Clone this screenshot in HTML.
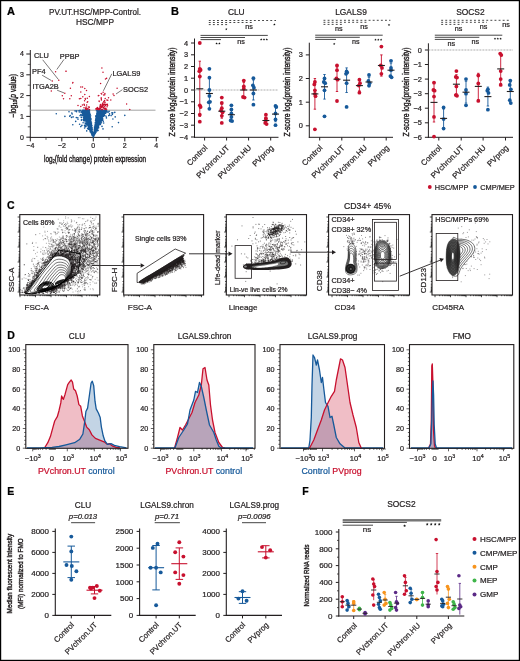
<!DOCTYPE html>
<html><head><meta charset="utf-8"><style>
html,body{margin:0;padding:0;background:#fff;}
.fig{position:relative;width:520px;height:661px;overflow:hidden;background:#fff;}
.fig svg{position:absolute;left:0;top:0;will-change:transform;}
.fig text{font-family:"Liberation Sans",sans-serif;}
</style></head><body>
<div class="fig"><svg width="520" height="661" viewBox="0 0 520 661" font-family="Liberation Sans, sans-serif">
<rect x="0" y="0" width="520" height="661" fill="#fff"/>
<text x="7" y="15" font-size="11" text-anchor="start" fill="#000" font-weight="bold" stroke="#000" stroke-width="0.22">A</text>
<text x="95" y="15.2" font-size="8.3" text-anchor="middle" fill="#231f20" textLength="92" lengthAdjust="spacingAndGlyphs" stroke="#231f20" stroke-width="0.22">PV.UT.HSC/MPP-Control.</text>
<text x="95" y="25" font-size="8.3" text-anchor="middle" fill="#231f20" textLength="38" lengthAdjust="spacingAndGlyphs" stroke="#231f20" stroke-width="0.22">HSC/MPP</text>
<line x1="30.3" y1="50" x2="30.3" y2="137.9" stroke="#231f20" stroke-width="1"/>
<line x1="29.8" y1="137.4" x2="158.5" y2="137.4" stroke="#231f20" stroke-width="1"/>
<line x1="26.3" y1="137.2" x2="30.3" y2="137.2" stroke="#231f20" stroke-width="1"/>
<text x="24" y="139.6" font-size="7" text-anchor="end" fill="#231f20" stroke="#231f20" stroke-width="0.22">0</text>
<line x1="26.3" y1="116.4" x2="30.3" y2="116.4" stroke="#231f20" stroke-width="1"/>
<text x="24" y="118.8" font-size="7" text-anchor="end" fill="#231f20" stroke="#231f20" stroke-width="0.22">1</text>
<line x1="26.3" y1="95.6" x2="30.3" y2="95.6" stroke="#231f20" stroke-width="1"/>
<text x="24" y="98" font-size="7" text-anchor="end" fill="#231f20" stroke="#231f20" stroke-width="0.22">2</text>
<line x1="26.3" y1="74.8" x2="30.3" y2="74.8" stroke="#231f20" stroke-width="1"/>
<text x="24" y="77.2" font-size="7" text-anchor="end" fill="#231f20" stroke="#231f20" stroke-width="0.22">3</text>
<line x1="26.3" y1="54" x2="30.3" y2="54" stroke="#231f20" stroke-width="1"/>
<text x="24" y="56.4" font-size="7" text-anchor="end" fill="#231f20" stroke="#231f20" stroke-width="0.22">4</text>
<line x1="27.8" y1="126.8" x2="30.3" y2="126.8" stroke="#231f20" stroke-width="0.7"/>
<line x1="27.8" y1="106" x2="30.3" y2="106" stroke="#231f20" stroke-width="0.7"/>
<line x1="27.8" y1="85.2" x2="30.3" y2="85.2" stroke="#231f20" stroke-width="0.7"/>
<line x1="27.8" y1="64.4" x2="30.3" y2="64.4" stroke="#231f20" stroke-width="0.7"/>
<line x1="30.3" y1="137.4" x2="30.3" y2="141.4" stroke="#231f20" stroke-width="1"/>
<text x="30.3" y="148" font-size="7" text-anchor="middle" fill="#231f20" stroke="#231f20" stroke-width="0.22">−4</text>
<line x1="61.8" y1="137.4" x2="61.8" y2="141.4" stroke="#231f20" stroke-width="1"/>
<text x="61.8" y="148" font-size="7" text-anchor="middle" fill="#231f20" stroke="#231f20" stroke-width="0.22">−2</text>
<line x1="93.3" y1="137.4" x2="93.3" y2="141.4" stroke="#231f20" stroke-width="1"/>
<text x="93.3" y="148" font-size="7" text-anchor="middle" fill="#231f20" stroke="#231f20" stroke-width="0.22">0</text>
<line x1="124.8" y1="137.4" x2="124.8" y2="141.4" stroke="#231f20" stroke-width="1"/>
<text x="124.8" y="148" font-size="7" text-anchor="middle" fill="#231f20" stroke="#231f20" stroke-width="0.22">2</text>
<line x1="156.3" y1="137.4" x2="156.3" y2="141.4" stroke="#231f20" stroke-width="1"/>
<text x="156.3" y="148" font-size="7" text-anchor="middle" fill="#231f20" stroke="#231f20" stroke-width="0.22">4</text>
<line x1="46" y1="137.4" x2="46" y2="139.9" stroke="#231f20" stroke-width="0.7"/>
<line x1="77.5" y1="137.4" x2="77.5" y2="139.9" stroke="#231f20" stroke-width="0.7"/>
<line x1="109" y1="137.4" x2="109" y2="139.9" stroke="#231f20" stroke-width="0.7"/>
<line x1="140.6" y1="137.4" x2="140.6" y2="139.9" stroke="#231f20" stroke-width="0.7"/>
<line x1="30.3" y1="110.2" x2="155.5" y2="110.2" stroke="#8a8a8a" stroke-width="0.8"/>
<text x="44" y="161.6" font-size="8.4" fill="#231f20" stroke-width="0.4" textLength="102" lengthAdjust="spacingAndGlyphs" stroke="#231f20">log<tspan font-size="5.5" dy="1.5">2</tspan><tspan dy="-1.5">(fold change) protein expression</tspan></text>
<text transform="translate(15.6 117.5) rotate(-90)" font-size="8.4" fill="#231f20" stroke-width="0.4" textLength="43.5" lengthAdjust="spacingAndGlyphs" stroke="#231f20">−log<tspan font-size="5.5" dy="1.5">10</tspan><tspan dy="-1.5">(</tspan><tspan font-style="italic">p</tspan> value)</text>
<path d="M86.7 119.4h0M88.4 116.0h0M89.6 125.8h0M99.0 120.3h0M107.9 112.2h0M100.7 112.2h0M90.9 130.9h0M96.5 128.2h0M94.4 133.8h0M96.5 122.0h0M94.0 134.9h0M100.1 121.6h0M98.3 117.2h0M96.6 126.1h0M97.9 116.6h0M99.0 118.5h0M93.9 135.2h0M99.5 119.2h0M90.7 126.7h0M89.7 122.6h0M90.6 126.0h0M99.7 116.3h0M97.8 122.0h0M97.3 129.8h0M89.2 119.5h0M101.1 114.5h0M96.1 125.4h0M95.6 127.8h0M87.9 123.3h0M101.5 111.4h0M84.6 110.6h0M89.4 116.7h0M108.4 112.0h0M105.7 113.2h0M96.4 123.5h0M94.3 132.1h0M88.7 117.1h0M98.7 119.2h0M90.5 123.9h0M90.4 127.7h0M90.0 122.8h0M103.3 121.3h0M90.5 126.4h0M96.1 125.8h0M101.2 121.6h0M85.8 112.9h0M88.1 118.6h0M90.2 126.0h0M89.6 126.2h0M89.4 121.6h0M90.7 128.3h0M91.2 128.4h0M96.5 120.2h0M94.6 132.3h0M88.5 120.9h0M87.4 123.9h0M86.9 116.0h0M87.7 115.2h0M87.2 116.3h0M86.3 116.4h0M91.3 123.6h0M88.2 116.8h0M95.2 124.5h0M96.4 118.9h0M90.5 124.9h0M89.1 121.9h0M92.2 133.4h0M90.4 127.2h0M82.4 110.7h0M96.4 127.5h0M99.9 116.3h0M98.4 117.2h0M104.0 115.6h0M99.9 121.1h0M88.8 118.4h0M94.3 133.1h0M94.8 132.9h0M96.6 128.5h0M91.4 130.0h0M95.4 131.8h0M94.6 130.7h0M88.5 119.3h0M96.5 128.8h0M87.0 111.1h0M99.4 116.5h0M98.3 119.6h0M98.9 116.0h0M91.6 126.6h0M86.7 111.6h0M86.2 113.3h0M86.8 115.6h0M99.0 121.0h0M84.4 113.2h0M98.9 115.2h0M98.7 117.0h0M105.1 111.8h0M86.1 117.6h0M89.5 123.8h0M98.1 119.3h0M96.7 128.5h0M96.6 128.7h0M87.3 115.6h0M100.7 114.4h0M100.9 110.7h0M86.5 113.0h0M102.0 119.6h0M92.3 132.2h0M99.1 120.8h0M87.9 111.5h0M88.0 114.3h0M87.3 120.9h0M90.3 121.6h0M91.3 127.9h0M94.9 129.1h0M94.3 132.8h0M101.1 112.2h0M101.2 117.4h0M94.9 130.3h0M87.9 122.6h0M92.6 133.9h0M98.1 128.1h0M87.9 115.5h0M98.2 117.2h0M88.4 121.0h0M96.5 126.3h0M87.9 117.2h0M88.8 111.0h0M87.9 122.1h0M94.8 133.0h0M94.2 133.5h0M92.4 132.5h0M101.2 110.9h0M100.1 119.6h0M89.3 113.3h0M91.7 129.4h0M90.3 126.7h0M97.9 116.3h0M99.6 112.2h0M96.7 124.5h0M91.9 133.2h0M84.8 112.8h0M89.1 125.8h0M101.3 115.3h0M91.6 129.8h0M90.4 116.2h0M100.6 113.2h0M86.4 115.6h0M89.1 124.0h0M88.4 115.6h0M90.0 130.4h0M95.3 125.2h0M88.1 122.5h0M85.0 112.5h0M96.0 129.9h0M103.7 112.5h0M100.7 114.1h0M101.5 110.7h0M89.9 123.8h0M90.2 128.3h0M90.2 127.2h0M84.9 113.5h0M88.0 110.8h0M89.5 116.2h0M88.7 121.0h0M97.0 125.9h0M97.5 113.4h0M98.4 112.6h0M92.0 132.1h0M90.5 128.0h0M86.0 113.4h0M102.3 113.1h0M90.1 125.2h0M89.8 126.1h0M87.2 122.2h0M97.8 119.6h0M90.5 132.0h0M99.3 113.3h0M88.2 119.8h0M89.7 114.6h0M90.7 127.5h0M87.0 110.8h0M98.4 115.1h0M97.2 124.4h0M98.6 111.1h0M99.6 116.1h0M97.0 113.3h0M92.5 134.1h0M91.8 133.6h0M99.7 115.2h0M97.2 125.4h0M97.0 120.2h0M94.7 129.8h0M82.1 110.6h0M99.6 120.5h0M101.9 113.5h0M92.1 132.8h0M86.9 121.0h0M94.3 133.3h0M84.8 112.4h0M98.5 121.8h0M94.2 133.1h0M95.2 132.7h0M88.2 119.7h0M94.9 132.8h0M94.8 128.9h0M96.3 122.1h0M89.2 120.6h0M99.3 118.7h0M85.7 117.8h0M97.5 123.6h0M98.5 117.9h0M95.8 129.8h0M96.2 126.2h0M86.5 114.1h0M95.6 129.9h0M91.1 127.7h0M96.5 127.2h0M96.3 121.0h0M93.3 137.0h0M92.5 134.9h0M89.6 121.5h0M90.8 129.6h0M87.1 116.6h0M87.2 114.2h0M85.2 118.8h0M86.5 116.2h0M90.0 123.2h0M94.1 134.1h0M97.7 122.0h0M90.8 123.7h0M85.9 118.4h0M95.1 130.6h0M91.7 127.6h0M88.4 113.8h0M97.8 126.5h0M89.0 122.7h0M106.9 111.4h0M90.2 126.2h0M95.5 130.2h0M103.8 116.1h0M102.8 119.0h0M97.4 118.0h0M92.2 134.3h0M90.3 122.5h0M93.4 136.6h0M95.0 127.1h0M86.3 116.0h0M94.1 133.4h0M95.9 125.7h0M80.1 110.4h0M83.7 110.7h0M97.6 121.0h0M89.7 115.4h0M99.3 117.6h0M91.0 121.4h0M98.5 112.9h0M90.6 129.3h0M101.7 113.5h0M92.4 134.3h0M84.6 112.7h0M87.2 116.6h0M96.7 121.8h0M99.1 116.7h0M100.6 121.5h0M99.6 114.5h0M95.1 131.3h0M98.8 120.4h0M97.9 112.6h0M98.6 111.5h0M95.0 127.8h0M90.1 126.9h0M99.6 112.0h0M95.8 124.3h0M94.0 133.6h0M85.9 115.8h0M88.1 122.6h0M86.4 115.4h0M97.8 121.1h0M98.7 120.5h0M89.2 122.5h0M89.8 125.8h0M87.1 112.1h0M89.1 116.8h0M98.4 114.3h0M85.8 112.2h0M98.0 126.9h0M87.8 111.7h0M88.4 112.8h0M99.1 120.4h0M87.0 119.0h0M92.0 131.3h0M88.1 114.8h0M91.5 129.3h0M98.6 119.8h0M97.6 130.8h0M94.3 132.9h0M87.5 118.1h0M89.4 120.8h0M87.4 116.7h0M100.4 114.3h0M85.3 110.5h0M92.3 132.4h0M89.3 117.6h0M86.6 118.8h0M99.3 117.2h0M98.4 119.6h0M99.1 119.2h0M87.9 112.7h0M87.2 121.7h0M89.5 119.7h0M89.1 116.3h0M92.3 132.2h0M89.3 122.2h0M90.1 131.7h0M91.4 130.4h0M93.2 136.8h0M89.4 128.1h0M95.6 127.9h0M90.2 120.2h0M89.2 119.0h0M99.0 113.6h0M96.0 120.9h0M87.1 112.2h0M97.2 123.1h0M82.5 115.2h0M87.2 119.3h0M87.9 117.8h0M90.8 126.4h0M87.7 111.4h0M89.7 114.7h0M95.1 130.2h0M95.7 119.7h0M86.4 110.2h0M91.9 133.9h0M96.1 125.5h0M100.0 115.3h0M92.7 134.4h0M96.7 115.2h0M88.0 118.9h0M98.7 115.5h0M98.8 119.4h0M86.1 111.3h0M97.4 124.3h0M97.6 118.9h0M94.4 133.8h0M86.8 119.3h0M96.7 122.5h0M99.8 110.5h0M83.8 111.2h0M91.2 130.4h0M94.0 134.3h0M92.2 131.0h0M95.4 128.7h0M84.3 115.6h0M89.1 119.5h0M97.8 119.7h0M96.6 121.4h0M93.1 136.4h0M89.5 123.2h0M101.2 110.2h0M98.5 113.7h0M96.9 118.9h0M89.0 128.5h0M86.1 111.7h0M96.4 122.4h0M98.3 117.9h0M90.5 128.3h0M88.7 124.8h0M97.1 124.4h0M89.8 123.1h0M93.9 135.3h0M89.7 117.0h0M91.7 129.4h0M85.9 118.2h0M98.9 117.9h0M87.7 116.2h0M95.9 125.8h0M95.5 125.8h0M86.8 115.0h0M89.5 123.3h0M90.0 130.0h0M88.0 112.0h0M92.9 135.9h0M87.2 112.3h0M95.7 125.8h0M86.9 123.4h0M82.5 110.6h0M89.0 122.1h0M97.2 115.8h0M97.6 122.7h0M85.3 111.8h0M88.4 115.7h0M96.0 121.0h0M95.5 132.4h0M95.7 123.9h0M87.2 120.8h0M90.8 126.0h0M97.5 119.8h0M90.0 128.1h0M90.1 120.7h0M97.5 119.9h0M87.8 116.7h0M101.7 115.2h0M101.2 115.5h0M97.5 122.4h0M90.4 121.6h0M102.8 112.6h0M90.1 123.9h0M86.9 115.3h0M97.5 110.3h0M99.9 111.6h0M87.7 119.4h0M96.2 125.4h0M87.0 117.8h0M101.5 116.5h0M85.8 119.9h0M96.2 124.5h0M90.6 121.6h0M92.7 132.5h0M96.1 125.8h0M92.1 130.2h0M87.0 116.8h0M89.5 110.9h0M90.5 129.8h0M93.9 135.0h0M89.6 115.3h0M97.1 124.1h0M87.9 120.4h0M94.5 133.4h0M91.1 129.1h0M100.1 116.2h0M87.3 118.2h0M99.2 113.0h0M86.0 110.9h0M90.9 124.0h0M86.8 117.8h0M96.1 121.8h0M89.0 120.4h0M96.0 123.2h0M83.9 110.6h0M87.8 117.8h0M91.9 130.3h0M99.4 116.2h0M99.9 110.8h0M85.2 112.2h0M98.2 119.2h0M93.7 135.8h0M99.1 114.0h0M97.5 111.5h0M100.0 115.4h0M88.3 122.2h0M96.1 123.4h0M86.5 115.2h0M95.4 131.5h0M101.3 114.4h0M99.8 120.6h0M91.8 133.0h0M87.7 113.6h0M100.5 123.2h0M91.7 131.6h0M91.5 129.3h0M103.5 112.9h0M91.5 129.3h0M85.2 114.4h0M98.4 114.0h0M91.4 132.3h0M99.4 122.1h0M87.8 114.3h0M87.9 120.8h0M84.9 112.8h0M97.0 123.5h0M87.0 117.7h0M95.8 128.0h0M87.8 113.2h0M98.3 113.3h0M98.8 119.0h0M97.3 124.9h0M88.7 124.3h0M87.2 118.4h0M91.1 130.8h0M89.0 120.3h0M87.9 125.7h0M90.5 124.5h0M97.6 125.0h0M99.7 113.4h0M95.4 129.2h0M88.2 127.3h0M95.8 129.6h0M93.0 135.8h0M98.0 122.3h0M87.3 113.2h0M80.9 112.0h0M97.0 120.9h0M89.0 122.4h0M87.3 112.7h0M97.5 119.9h0M87.0 119.4h0M85.3 117.2h0M95.2 132.6h0M99.9 113.3h0M94.7 131.6h0M87.5 119.8h0M86.8 111.6h0M101.3 119.4h0M90.9 124.4h0M86.2 115.6h0M88.3 112.1h0M89.2 117.9h0M93.9 133.6h0M88.5 112.5h0M92.8 135.6h0M98.0 116.6h0M88.1 112.1h0M94.8 129.8h0M97.0 119.9h0M88.1 116.0h0M90.4 129.2h0M96.2 127.1h0M92.2 133.1h0M91.3 129.7h0M91.2 131.1h0M95.7 125.8h0M100.1 115.1h0M97.5 116.3h0M88.7 114.8h0M100.1 117.0h0M86.8 114.2h0M95.2 130.1h0M89.5 119.3h0M92.7 135.4h0M84.6 120.7h0M101.2 113.2h0M98.6 121.2h0M90.2 125.7h0M89.0 126.3h0M96.8 123.1h0M76.5 111.8h0M85.3 110.6h0M99.6 115.1h0M82.5 110.4h0M88.7 114.8h0M90.7 126.0h0M96.7 122.1h0M87.6 115.6h0M83.3 115.9h0M88.9 116.6h0M83.8 120.8h0M95.9 130.3h0M105.1 110.9h0M96.1 127.8h0M98.1 110.6h0M92.0 130.8h0M82.2 110.5h0M89.8 123.6h0M86.0 113.8h0M93.0 136.3h0M86.6 121.9h0M89.0 127.0h0M86.7 116.2h0M99.3 116.9h0M87.3 121.5h0M88.9 116.0h0M99.5 110.6h0M94.3 132.1h0M89.3 119.1h0M89.5 116.6h0M86.1 117.6h0M96.1 126.6h0M105.2 112.6h0M90.7 127.1h0M100.8 113.2h0M89.3 121.2h0M95.8 130.3h0M85.3 113.6h0M94.5 132.7h0M86.1 114.2h0M97.6 118.3h0M87.3 112.5h0M88.4 114.0h0M88.0 122.9h0M94.7 130.5h0M91.1 126.5h0M93.4 136.9h0M87.8 117.1h0M92.4 132.4h0M94.9 129.1h0M90.9 127.1h0M96.2 122.8h0M87.6 116.4h0M96.3 121.9h0M90.0 120.5h0M95.1 132.1h0M99.0 124.5h0M97.0 128.2h0M87.9 115.3h0M93.8 135.6h0M88.2 117.9h0M103.2 116.2h0M98.4 120.4h0M94.3 134.1h0M88.3 126.9h0M89.3 127.3h0M90.2 126.4h0M91.1 126.6h0M100.0 110.7h0M97.6 114.2h0M104.7 112.3h0M99.0 115.9h0M88.9 124.3h0M101.0 111.3h0M89.6 120.9h0M90.8 128.9h0M86.5 115.5h0M90.4 126.7h0M86.7 113.6h0M86.5 115.3h0M90.9 125.8h0M97.6 121.5h0M98.6 115.8h0M88.7 116.8h0M98.3 119.9h0M94.7 128.0h0M91.0 124.9h0M98.8 116.2h0M86.4 121.6h0M86.2 115.8h0M98.0 116.5h0M98.9 124.1h0M91.7 131.8h0M88.5 116.5h0M89.8 124.1h0M101.2 119.1h0M95.5 130.9h0M94.9 130.2h0M96.3 122.4h0M100.1 116.8h0M92.1 131.2h0M98.8 114.6h0M85.0 113.0h0M97.5 116.7h0M98.2 115.1h0M90.4 127.3h0M91.9 131.8h0M98.4 124.8h0M91.5 130.9h0M98.2 122.6h0M85.8 114.9h0M95.9 126.1h0M84.7 113.0h0M87.0 121.7h0M95.3 129.6h0M88.6 117.4h0M97.2 122.0h0M98.5 124.7h0M88.6 120.2h0M99.8 110.3h0M89.0 115.1h0M96.5 125.7h0M98.1 111.5h0M90.3 128.9h0M96.5 122.8h0M95.9 123.7h0M83.4 110.4h0M93.1 136.6h0M99.7 117.2h0M89.7 120.4h0M90.7 129.8h0M87.3 117.4h0M100.1 113.9h0M101.4 114.7h0M91.6 132.7h0M87.0 114.2h0M98.9 124.3h0M85.4 113.0h0M98.2 119.1h0M91.8 132.6h0M86.7 115.2h0M85.4 119.1h0M88.6 121.7h0M98.6 117.4h0M97.6 121.9h0M94.2 134.5h0M97.8 111.8h0M95.5 125.9h0M90.4 126.1h0M94.3 133.9h0M86.1 115.8h0M86.9 111.9h0M96.1 121.4h0M96.8 113.8h0M96.5 124.8h0M89.9 123.3h0M96.7 125.8h0M89.1 125.7h0M89.5 119.2h0M98.3 124.9h0M94.3 133.2h0M98.7 116.3h0M89.9 125.3h0M95.5 123.2h0M88.7 128.9h0M94.1 133.9h0M100.9 117.1h0M96.7 122.4h0M97.8 111.5h0M93.6 135.5h0M88.6 113.6h0M93.6 135.5h0M94.3 129.3h0M93.8 135.8h0M89.5 120.3h0M89.6 124.1h0M98.1 125.1h0M99.5 110.6h0M88.2 118.8h0M83.9 111.6h0M100.9 112.3h0M89.6 124.5h0M97.5 117.1h0M95.1 128.6h0M88.8 123.8h0M88.0 116.5h0M86.8 119.0h0M91.7 132.4h0M94.7 132.7h0M100.9 114.7h0M87.1 116.1h0M101.1 117.2h0M91.9 127.8h0M88.2 114.4h0M87.7 118.8h0M96.5 130.1h0M92.0 129.5h0M88.7 117.8h0M101.6 110.6h0M85.8 118.6h0M96.1 125.7h0M90.0 115.8h0M96.0 128.3h0M86.4 117.4h0M97.9 122.6h0M92.6 134.8h0M87.7 120.2h0M89.5 120.4h0M101.6 111.9h0M85.8 115.9h0M96.6 125.5h0M89.0 117.3h0M90.9 127.0h0M86.5 117.1h0M97.6 118.3h0M101.0 118.0h0M91.1 129.7h0M87.8 115.9h0M99.5 119.7h0M99.3 115.3h0M91.7 134.1h0M102.4 115.4h0M99.2 111.1h0M97.9 118.6h0M94.4 130.4h0M102.2 111.6h0M87.7 119.3h0M96.5 126.2h0M96.8 117.8h0M82.7 112.9h0M91.0 131.5h0M97.7 119.2h0M88.8 117.6h0M99.4 111.6h0M92.3 134.4h0M98.4 120.4h0M87.5 115.5h0M98.5 117.0h0M97.8 112.8h0M97.9 117.1h0M96.6 117.6h0M100.3 118.1h0M91.2 129.5h0M86.7 113.0h0M97.4 120.2h0M92.9 135.4h0M96.8 113.7h0M88.9 116.4h0M88.6 117.0h0M92.5 133.8h0M85.9 116.0h0M88.8 124.5h0M88.6 113.8h0M94.8 129.8h0M97.8 124.6h0M94.1 131.7h0M93.7 135.6h0M97.5 124.9h0M99.2 116.1h0M89.8 122.5h0M97.1 125.6h0M87.4 111.4h0M97.9 115.6h0M85.6 110.7h0M90.2 125.5h0M96.1 128.6h0M83.1 110.8h0M91.4 132.6h0M90.2 114.4h0M85.4 111.2h0M100.2 115.8h0M86.9 118.9h0M89.9 123.7h0M96.2 125.7h0M92.1 133.1h0M96.3 123.5h0M90.5 120.5h0M96.7 127.0h0M84.4 110.7h0M88.1 110.2h0M89.0 125.8h0M89.3 118.3h0M85.7 112.4h0M89.8 118.6h0M89.7 124.2h0M98.6 113.1h0M97.4 119.9h0M99.1 117.9h0M100.6 114.9h0M95.6 125.9h0M84.5 116.4h0M95.6 126.5h0M89.9 117.1h0M95.9 126.8h0M104.2 114.1h0M90.3 124.3h0M98.1 110.9h0M91.5 129.3h0M99.7 115.8h0M101.1 113.0h0M100.9 112.6h0M86.9 120.1h0M102.1 119.4h0M90.0 125.7h0M85.7 112.9h0M99.5 114.8h0M88.1 120.2h0M86.7 120.5h0M85.5 111.7h0M89.6 119.2h0M95.2 132.0h0M95.8 131.5h0M99.9 114.8h0M101.6 120.0h0M100.1 119.3h0M96.0 122.2h0M93.8 135.3h0M88.7 114.0h0M90.0 123.4h0M89.9 121.4h0M97.7 122.0h0M95.5 130.6h0M89.2 110.9h0M102.4 110.9h0M93.6 136.1h0M92.0 133.7h0M96.8 123.3h0M97.1 110.5h0M97.6 121.0h0M85.5 111.6h0M89.4 124.4h0M97.7 120.7h0M88.5 113.5h0M89.1 117.0h0M95.9 125.4h0M90.1 121.6h0M98.7 117.8h0M88.9 122.9h0M90.3 128.5h0M96.2 127.7h0M87.5 115.3h0M90.3 128.1h0M95.6 128.9h0M91.0 125.9h0M83.7 110.4h0M86.0 110.3h0M88.9 121.0h0M89.6 127.9h0M98.3 121.9h0M84.9 112.4h0M84.2 118.7h0M103.1 112.1h0M102.1 112.5h0M100.0 113.8h0M97.1 112.4h0M95.6 120.3h0M94.9 129.4h0M80.9 114.5h0M100.4 110.3h0M88.4 116.9h0M90.0 127.0h0M83.4 111.5h0M101.2 111.6h0M84.9 111.6h0M87.1 116.9h0M86.9 111.3h0M91.0 127.5h0M95.9 118.8h0M86.0 110.3h0M100.6 110.3h0M86.4 114.1h0M100.1 118.6h0M89.7 117.7h0M96.0 123.2h0M90.1 127.7h0M97.5 112.2h0M98.6 118.6h0M89.7 124.0h0M89.4 124.8h0M95.0 129.3h0M90.6 128.9h0M89.4 116.8h0M89.5 125.9h0M90.1 125.1h0M99.0 113.2h0M91.8 132.0h0M83.2 111.1h0M96.2 122.6h0M99.3 113.5h0M97.7 113.6h0M100.6 116.5h0M92.2 133.8h0M89.2 117.1h0M97.1 121.8h0M91.0 125.3h0M97.9 120.1h0M86.0 116.9h0M96.5 123.2h0M97.2 122.7h0M91.8 128.0h0M89.9 129.5h0M97.0 117.8h0M100.6 110.6h0M92.0 131.9h0M86.0 117.0h0M98.0 118.3h0M98.5 115.1h0M95.5 125.0h0M97.3 126.6h0M91.5 125.9h0M103.4 113.3h0M83.9 113.1h0M82.5 113.8h0M91.0 126.1h0M90.3 123.5h0M90.1 125.8h0M85.5 116.4h0M95.3 127.4h0M101.8 115.2h0M88.8 114.2h0M99.1 119.8h0M95.5 129.2h0M90.2 126.6h0M98.2 119.0h0M86.0 115.4h0M94.7 128.4h0M100.7 117.2h0M99.2 111.9h0M87.7 115.5h0M87.9 112.3h0M102.0 110.9h0M96.7 126.3h0M95.5 128.2h0M88.0 112.1h0M86.7 123.2h0M94.8 131.5h0M99.6 117.8h0M97.4 121.1h0M90.1 128.7h0M82.8 111.8h0M87.2 121.0h0M105.4 110.3h0M98.4 126.1h0M93.9 133.4h0M87.5 111.9h0M91.0 125.7h0M102.0 111.6h0M88.3 120.9h0M89.2 116.3h0M90.6 131.2h0M90.2 126.5h0M102.6 116.6h0M99.4 111.1h0M84.8 113.7h0M103.6 112.0h0M87.5 114.6h0M85.0 110.7h0M90.5 127.3h0M94.9 131.0h0M96.4 127.2h0M96.3 118.7h0M88.6 123.7h0M94.1 134.6h0M94.5 130.9h0M97.2 126.1h0M91.3 124.6h0M95.7 125.1h0M86.1 119.1h0M86.7 117.1h0M87.7 113.2h0M99.2 123.5h0M99.9 111.3h0M89.6 123.4h0M89.1 122.4h0M98.3 122.6h0M100.6 114.8h0M98.0 115.3h0M89.6 122.4h0M89.0 124.4h0M91.5 132.5h0M96.5 126.8h0M94.9 132.8h0M88.8 124.7h0M91.5 128.8h0M88.0 117.3h0M81.7 115.2h0M97.6 120.8h0M99.0 121.0h0M90.8 124.4h0M75.1 110.9h0M87.2 110.3h0M86.5 117.4h0M85.4 113.1h0M90.8 123.6h0M88.3 118.6h0M88.0 123.7h0M99.4 111.1h0M100.4 118.1h0M99.8 112.2h0M85.5 117.9h0M95.9 132.4h0M90.8 125.3h0M87.4 118.4h0M87.4 111.8h0M97.6 117.1h0M89.6 124.1h0M87.2 117.0h0M87.0 117.6h0M101.8 110.7h0M90.5 118.1h0M93.1 136.3h0M97.4 110.4h0M95.5 130.2h0M88.5 123.9h0M101.4 110.8h0M98.2 116.7h0M99.8 116.5h0M98.7 122.1h0M98.0 122.9h0M90.5 125.5h0M98.9 114.9h0M87.9 123.9h0M91.5 130.9h0M95.9 128.3h0M95.3 130.2h0M84.9 112.1h0M96.8 126.4h0M95.8 127.5h0M88.2 117.1h0M96.3 125.5h0M100.1 114.0h0M86.4 116.4h0M96.8 118.5h0M100.4 121.1h0M96.1 123.6h0M97.7 122.0h0M89.0 116.0h0M94.2 133.5h0M95.9 127.5h0M86.4 116.1h0M86.9 115.9h0M99.8 118.9h0M90.6 126.6h0M97.5 127.7h0M96.4 119.8h0M96.5 126.6h0M86.6 115.3h0M87.8 114.7h0M99.2 115.7h0M89.1 117.7h0M85.5 112.2h0M88.9 119.3h0M89.4 126.1h0M96.4 127.3h0M91.6 131.8h0M98.9 117.9h0M98.2 114.8h0M99.9 118.1h0M95.6 130.6h0M98.6 116.1h0M97.8 115.3h0M96.4 123.7h0M100.0 119.5h0M94.1 132.7h0M99.1 118.3h0M93.7 135.5h0M88.8 124.3h0M89.0 113.9h0M99.5 117.7h0M90.5 123.6h0M85.0 111.8h0M102.2 117.7h0M100.0 111.5h0M85.4 120.8h0M87.6 117.1h0M100.2 117.4h0M95.2 133.8h0M95.9 130.4h0M95.3 130.9h0M92.0 128.2h0M87.4 110.4h0M99.7 116.7h0M98.1 115.7h0M87.9 111.7h0M90.7 129.0h0M97.4 115.0h0M96.8 120.0h0M98.0 123.5h0M104.4 115.2h0M98.5 114.1h0M87.9 118.4h0M100.1 116.4h0M98.9 113.0h0M90.4 123.9h0M85.8 113.4h0M90.0 121.1h0M99.0 111.8h0M83.0 115.8h0M90.2 118.0h0M80.2 110.5h0M100.4 120.3h0M91.1 128.0h0M86.5 119.9h0M97.3 123.6h0M87.7 110.7h0M95.2 129.1h0M97.7 117.8h0M85.4 119.2h0M92.1 130.9h0M97.3 116.2h0M88.7 118.7h0M96.8 122.1h0M106.9 111.1h0M91.9 131.5h0M97.7 117.6h0M90.8 125.8h0M96.9 120.6h0M91.3 123.8h0M87.5 116.4h0M98.8 112.3h0M94.4 132.6h0M87.0 121.1h0M101.3 115.4h0M97.2 125.9h0M90.7 124.6h0M100.2 111.2h0M91.9 131.4h0M97.9 118.6h0M87.8 116.1h0M98.0 116.9h0M91.8 133.2h0M87.5 110.9h0M92.5 135.3h0M92.5 134.8h0M88.6 119.3h0M91.9 132.8h0M96.3 125.0h0M87.6 114.2h0M99.9 119.2h0M98.0 118.7h0M69.0 111.7h0M94.4 131.6h0M98.3 110.4h0M85.4 117.4h0M98.2 116.4h0M93.6 135.7h0M98.2 112.6h0M96.9 123.1h0M96.4 123.0h0M100.0 117.5h0M96.5 123.0h0M86.3 111.3h0M85.0 111.8h0M89.4 123.6h0M91.1 127.7h0M96.2 122.8h0M88.6 110.3h0M95.3 125.4h0M87.8 120.7h0M91.3 128.5h0M97.2 121.0h0M100.7 111.1h0M89.1 122.9h0M92.8 135.9h0M87.4 117.9h0M87.6 114.4h0M90.8 124.3h0M95.0 131.7h0M96.8 123.9h0M87.2 114.3h0M96.6 121.3h0M92.8 135.4h0M86.0 116.2h0M96.1 126.5h0M87.4 119.4h0M97.4 122.3h0M95.4 128.5h0M87.8 123.1h0M90.6 126.5h0M88.1 119.7h0M92.0 130.0h0M102.8 110.2h0M99.1 113.5h0M99.0 115.5h0M90.8 126.9h0M85.5 111.1h0M87.2 110.7h0M92.1 131.2h0M96.3 126.9h0M91.3 130.6h0M96.0 125.7h0M101.0 114.2h0M83.2 110.5h0M89.4 119.8h0M97.9 122.4h0M86.4 115.2h0M97.6 112.8h0M90.1 120.3h0M95.6 120.8h0M87.4 122.8h0M89.6 122.0h0M89.6 122.0h0M91.3 131.2h0M81.9 111.4h0M87.9 120.1h0M84.0 116.4h0M87.0 121.6h0M112.4 114.5h0M91.3 127.7h0M87.4 113.1h0M99.1 110.9h0M91.1 130.7h0M90.0 122.0h0M94.3 134.3h0M89.7 114.6h0M99.7 120.0h0M92.5 134.8h0M82.4 112.0h0M84.6 111.6h0M96.5 126.1h0M86.5 115.3h0M94.0 132.8h0M88.2 117.1h0M89.8 125.2h0M94.2 135.2h0M90.0 125.4h0M96.3 119.7h0M91.9 134.6h0M98.4 112.5h0M89.2 122.5h0M89.8 120.3h0M96.5 110.8h0M84.4 111.5h0M98.4 115.7h0M85.8 115.6h0M98.7 113.3h0M86.8 117.5h0M84.9 118.1h0M85.2 112.7h0M91.6 130.8h0M99.6 110.5h0M90.5 126.9h0M95.1 127.4h0M87.8 117.8h0M99.3 119.3h0M96.4 119.5h0M88.7 112.6h0M93.0 136.5h0M95.3 130.0h0M89.2 128.6h0M99.1 119.3h0M88.8 124.0h0M87.5 117.3h0M100.0 122.5h0M94.2 135.1h0M87.1 114.3h0M95.9 120.5h0M95.9 123.2h0M96.3 126.1h0M98.3 112.7h0M87.0 117.7h0M91.6 131.8h0M88.8 123.0h0M102.0 110.3h0M90.3 126.9h0M95.2 131.1h0M92.1 133.1h0M92.5 133.0h0M94.1 134.4h0M97.6 121.3h0M102.4 112.0h0M87.0 111.2h0M88.0 112.0h0M86.7 123.4h0M86.1 116.4h0M94.7 133.4h0M103.4 114.7h0M96.0 126.2h0M85.7 117.1h0M96.6 125.9h0M96.5 120.8h0M88.7 121.5h0M98.9 118.1h0M89.3 124.8h0M95.4 128.8h0M88.7 119.1h0M88.9 114.7h0M98.1 123.4h0M89.3 110.9h0M89.1 121.9h0M90.0 123.2h0M90.0 123.2h0M85.6 110.9h0M90.5 125.7h0M96.4 117.8h0M95.8 119.9h0M97.5 110.5h0M92.6 134.1h0M86.8 110.5h0M90.1 124.2h0M87.0 114.0h0M90.8 128.4h0M98.4 115.9h0M91.1 124.7h0M91.3 128.8h0M91.5 129.1h0M96.9 129.3h0M102.5 111.9h0M90.0 121.6h0M90.1 125.2h0M84.0 113.8h0M98.4 119.7h0M85.6 116.7h0M90.0 126.0h0M90.7 128.6h0M91.0 130.3h0M90.4 124.5h0M96.5 122.7h0M88.4 117.4h0M88.0 123.3h0M89.1 123.4h0M95.0 128.5h0M98.6 123.1h0M99.0 119.4h0M95.8 130.5h0M86.6 115.0h0M100.4 111.8h0M90.5 119.0h0M96.9 125.3h0M89.0 110.7h0M91.7 130.9h0M97.3 128.7h0M86.7 114.7h0M100.5 113.9h0M96.5 123.6h0M91.7 132.0h0M97.0 117.4h0M96.6 124.4h0M100.5 113.0h0M94.3 133.2h0M96.7 119.7h0M92.2 129.4h0M87.4 111.2h0M99.0 110.7h0M97.6 118.6h0M99.9 116.3h0M89.4 112.5h0M84.7 112.0h0M94.4 131.2h0M86.2 124.7h0M102.4 114.2h0M96.9 126.3h0M96.4 122.4h0M85.6 110.5h0M88.7 121.2h0M97.5 118.8h0M95.5 127.7h0M90.6 130.1h0M100.5 112.0h0M104.2 114.7h0M95.9 130.6h0M86.3 111.5h0M85.0 112.2h0M89.7 124.8h0M88.6 112.5h0M95.5 130.6h0M95.5 127.0h0M103.7 112.5h0M99.8 119.9h0M95.3 122.7h0M90.0 125.5h0M95.2 127.9h0M97.0 129.1h0M97.4 121.7h0M98.3 120.5h0M91.7 132.4h0M97.8 115.4h0M94.7 132.2h0M96.1 130.3h0M99.0 112.3h0M88.8 123.6h0M95.0 130.7h0M85.7 123.2h0M89.4 129.4h0M95.0 131.1h0M100.3 110.5h0M91.7 132.4h0M99.2 115.2h0M89.2 121.7h0M95.6 127.5h0M81.9 112.5h0M102.6 120.1h0M92.3 134.0h0M90.9 123.4h0M96.8 118.0h0M88.5 122.3h0M95.7 125.6h0M96.2 124.8h0M96.6 125.5h0M97.2 121.1h0M104.0 110.2h0M98.0 111.7h0M88.3 119.7h0M88.5 112.3h0M95.5 129.6h0M90.2 117.6h0M87.7 113.8h0M97.3 126.6h0M97.3 119.2h0M98.4 120.1h0M94.6 131.5h0M100.9 110.7h0M96.6 123.7h0M87.4 119.0h0M92.9 135.3h0M97.7 120.1h0M98.5 121.9h0M87.8 112.5h0M91.9 133.1h0M102.2 112.4h0M90.8 128.7h0M89.7 113.2h0M82.9 114.8h0M89.7 118.2h0M89.6 124.0h0M98.2 121.6h0M102.6 116.8h0M97.2 123.6h0M92.4 133.2h0M86.1 116.0h0M83.6 115.9h0M95.6 126.0h0M90.2 128.0h0M86.3 112.1h0M97.1 124.2h0M92.2 132.9h0M100.9 112.7h0M96.6 127.3h0M85.1 123.1h0M96.2 119.1h0M85.9 121.2h0M90.6 127.9h0M95.3 127.3h0M90.3 120.5h0M96.0 130.8h0M97.6 112.1h0M98.5 126.6h0M94.6 130.1h0M90.7 129.0h0M91.5 128.6h0M98.0 111.8h0M96.8 122.2h0M82.1 115.0h0M100.3 113.6h0M94.8 132.2h0M86.0 117.9h0M83.8 113.6h0M95.4 127.5h0M101.7 111.4h0M88.3 119.7h0M97.6 120.1h0M97.3 110.3h0M90.2 129.0h0M102.5 111.5h0M90.8 126.9h0M78.0 119.2h0M94.2 132.7h0M89.8 124.0h0M96.4 127.0h0M88.2 114.6h0M100.8 110.4h0M96.5 130.0h0M92.5 133.4h0M96.4 117.0h0M99.5 110.6h0M98.8 110.9h0M99.1 112.8h0M88.4 115.5h0M98.3 118.7h0M92.5 135.7h0M100.5 111.4h0M83.7 119.0h0M97.6 121.3h0M92.9 135.5h0M92.1 129.2h0M97.0 124.4h0M84.9 110.9h0M81.3 117.4h0M89.9 116.1h0M96.3 123.4h0M88.0 115.3h0M95.6 128.2h0M96.3 126.1h0M89.6 119.7h0M95.4 129.3h0M98.2 112.5h0M91.3 127.0h0M88.6 120.9h0M103.3 111.4h0M96.3 123.8h0M90.5 118.8h0M98.1 116.4h0M97.4 122.1h0M96.1 126.7h0M100.0 120.1h0M88.8 114.1h0M89.7 122.7h0M97.9 116.4h0M88.6 126.9h0M89.1 123.2h0M99.7 111.3h0M94.2 133.1h0M102.3 111.8h0M92.7 133.8h0M84.4 113.8h0M88.2 123.5h0M86.4 116.1h0M96.1 127.5h0M91.1 129.1h0M95.0 132.2h0M93.5 136.3h0M98.3 123.6h0M93.8 134.3h0M97.9 126.0h0M86.8 112.6h0M85.0 116.1h0M97.8 122.5h0M93.7 135.4h0M92.4 133.9h0M99.4 110.3h0M88.0 122.0h0M90.0 118.4h0M97.2 115.3h0M86.3 118.0h0M86.5 115.1h0M89.6 119.2h0M98.7 120.7h0M90.4 121.7h0M86.3 112.3h0M98.2 110.4h0M88.6 123.4h0M90.9 128.2h0M85.8 111.6h0M94.9 125.9h0M89.1 115.7h0M91.6 127.4h0M97.7 118.4h0M90.0 125.1h0M93.8 134.2h0M92.9 135.4h0M96.3 125.5h0M88.5 121.4h0M89.4 122.0h0M88.9 122.0h0M86.7 120.5h0M94.4 130.7h0M101.0 117.2h0M97.3 114.7h0M97.4 122.0h0M89.9 121.4h0M95.1 130.9h0M92.7 134.7h0M97.3 127.1h0M95.8 122.2h0M95.4 131.4h0M97.4 124.1h0M99.5 121.2h0M97.3 119.7h0M84.2 115.4h0M88.2 120.0h0M96.0 129.2h0M96.6 125.3h0M88.3 122.1h0M86.0 119.6h0M97.0 122.4h0M95.5 123.1h0M100.5 111.9h0M86.4 116.8h0M87.6 111.6h0M95.2 129.3h0M89.8 116.8h0M88.3 121.1h0M95.7 125.0h0M92.1 133.8h0M84.0 112.3h0M93.7 136.4h0M102.7 113.5h0M88.2 123.7h0M86.6 113.0h0M92.0 134.7h0M93.8 134.1h0M90.6 123.0h0M102.2 118.0h0M97.7 117.2h0M95.5 125.9h0M97.7 117.5h0M98.3 122.9h0M96.3 129.3h0M95.4 130.8h0M90.9 127.1h0M99.7 112.2h0M96.9 126.1h0M88.8 119.3h0M95.5 130.4h0M88.4 110.5h0M103.0 112.2h0M95.5 129.4h0M95.8 127.9h0M99.0 112.5h0M94.9 125.7h0M95.5 131.8h0M88.9 118.3h0M95.2 130.1h0M94.5 132.9h0M100.4 117.5h0M86.4 110.7h0M89.2 128.8h0M85.1 113.0h0M88.6 117.6h0M99.0 112.8h0M85.9 124.7h0M96.0 124.3h0M89.0 118.9h0M95.1 127.7h0M89.9 125.4h0M95.0 130.9h0M102.9 113.2h0M96.6 121.2h0M92.1 130.3h0M81.5 111.9h0M92.2 127.9h0M92.5 134.2h0M90.7 120.8h0M99.8 117.2h0M97.1 119.5h0M86.5 116.8h0M96.8 122.5h0M86.3 113.4h0M96.9 118.0h0M90.9 128.4h0M100.6 112.3h0M94.6 132.6h0M98.3 123.9h0M100.2 118.0h0M76.8 110.7h0M90.9 124.1h0M90.6 128.4h0M87.8 116.9h0M85.7 113.7h0M88.4 125.4h0M101.9 120.3h0M83.8 115.7h0M97.0 119.0h0M88.1 112.4h0M91.6 128.7h0M86.9 113.3h0M94.1 132.6h0M90.1 124.7h0M97.4 112.7h0M89.0 119.8h0M100.2 111.5h0M100.9 117.8h0M87.2 114.2h0M95.7 127.4h0M87.9 120.8h0M89.9 121.1h0M88.7 125.7h0M97.5 121.5h0M86.9 117.1h0M86.8 111.5h0M88.5 119.7h0M92.0 131.8h0M90.2 123.4h0M96.6 125.4h0M96.9 126.7h0M96.0 122.0h0M90.0 125.1h0M101.9 114.3h0M97.1 121.9h0M83.7 112.5h0M97.3 125.5h0M88.0 110.5h0M94.7 130.9h0M85.2 117.8h0M90.8 130.9h0M90.3 127.7h0M86.7 114.0h0M90.9 119.4h0M89.7 123.7h0M92.7 133.4h0M86.9 112.6h0M87.9 117.1h0M92.6 134.4h0M97.6 123.9h0M88.5 120.5h0M92.7 134.3h0M92.1 132.3h0M86.0 117.3h0M106.2 112.3h0M90.8 124.5h0M94.2 134.3h0M87.0 121.1h0M100.6 114.6h0M99.3 114.6h0M83.9 114.1h0M104.3 114.6h0M99.6 115.8h0M92.3 132.7h0M97.0 116.7h0M84.1 111.1h0M86.3 120.6h0M96.1 126.4h0M100.2 112.6h0M87.5 114.8h0M83.9 119.3h0M93.6 135.8h0M88.1 122.5h0M90.0 122.9h0M100.9 115.4h0M84.7 111.0h0M86.5 120.7h0M89.2 121.8h0M97.5 118.6h0M88.9 118.7h0M97.5 116.9h0M89.8 127.9h0M89.2 122.4h0M89.4 113.7h0M98.8 119.0h0M96.8 122.8h0M94.5 129.8h0M91.2 128.9h0M94.5 132.9h0M99.0 112.0h0M89.1 119.2h0M89.2 115.7h0M89.3 116.3h0M83.9 118.2h0M92.2 131.4h0M98.3 121.9h0M89.5 125.3h0M93.4 136.7h0M95.8 120.4h0M103.2 111.6h0M87.5 110.9h0M96.6 131.0h0M87.8 114.4h0M93.7 135.2h0M96.0 130.3h0M91.6 130.2h0M90.0 126.0h0M94.1 135.1h0M91.4 128.2h0M94.1 132.8h0M87.5 116.1h0M102.5 112.8h0M97.9 119.8h0M94.3 133.2h0M89.2 127.5h0M91.3 131.9h0M85.9 110.5h0M84.6 120.8h0M91.4 129.4h0M87.8 119.1h0M91.1 126.9h0M99.8 117.9h0M99.4 121.4h0M88.2 117.9h0M89.1 113.9h0M98.4 120.6h0M95.3 129.7h0M98.2 121.6h0M89.8 119.0h0M90.5 128.2h0M98.7 113.1h0M85.8 116.5h0M95.1 130.9h0M99.2 114.6h0M99.8 115.0h0M86.9 118.5h0M85.5 120.2h0M88.9 120.6h0M91.7 131.9h0M94.0 134.1h0M99.9 114.0h0M96.0 122.6h0M88.6 119.0h0M102.0 117.4h0M100.3 112.5h0M88.2 116.7h0M89.5 121.8h0M89.6 119.9h0M89.9 127.4h0M99.3 112.7h0M89.1 118.2h0M95.2 133.2h0M101.8 115.1h0M85.2 110.3h0M99.1 111.6h0M101.9 116.7h0M83.4 117.6h0M85.8 110.3h0M86.0 114.1h0M89.0 124.0h0M104.0 112.7h0M102.0 111.3h0M88.5 121.9h0M89.8 123.6h0M89.1 119.7h0M91.0 129.9h0M100.4 113.5h0M91.0 128.2h0M88.7 115.2h0M89.8 124.1h0M95.9 126.3h0M86.3 113.3h0M103.5 110.5h0M88.6 124.3h0M82.3 111.6h0M91.9 128.8h0M99.4 122.9h0M95.8 124.0h0M99.4 117.9h0M89.7 124.1h0M96.7 126.9h0M97.4 117.2h0M87.9 121.3h0M96.7 116.2h0M86.2 119.5h0M96.2 122.8h0M84.2 120.5h0M98.8 113.5h0M87.6 115.6h0M90.0 124.6h0M88.1 120.9h0M93.9 134.8h0M87.1 112.4h0M87.3 110.7h0M99.2 115.1h0M102.8 112.3h0M95.1 129.4h0M97.0 124.1h0M94.9 130.4h0M92.4 133.8h0M89.1 123.5h0M98.6 119.6h0M97.8 114.0h0M85.6 112.7h0M90.6 127.2h0M86.1 112.7h0M79.3 112.0h0M98.7 118.0h0M89.5 114.4h0M82.8 111.0h0M89.8 120.1h0M91.9 131.1h0M91.4 128.7h0M87.1 118.4h0M96.7 116.5h0M90.1 123.2h0M90.8 125.4h0M100.7 114.7h0M99.5 116.0h0M99.7 112.8h0M98.5 117.5h0M97.4 116.8h0M90.2 120.9h0M88.4 123.2h0M97.7 117.8h0M98.4 118.3h0M95.4 127.8h0M95.7 124.0h0M92.4 132.2h0M99.5 116.8h0M96.7 130.2h0M97.6 120.6h0M104.8 110.5h0M99.7 112.0h0M99.0 115.4h0M85.9 113.7h0M89.2 116.2h0M100.3 110.8h0M91.4 129.2h0M87.2 117.5h0M91.3 122.9h0M88.3 123.7h0M102.8 110.9h0M100.3 113.6h0M89.8 125.6h0M88.7 119.3h0M98.5 116.3h0M98.6 118.9h0M95.7 123.6h0M94.2 133.1h0M88.3 115.8h0M104.7 115.5h0M96.6 123.5h0M91.3 133.2h0M94.1 133.4h0M95.9 115.8h0M87.8 115.7h0M100.2 112.3h0M99.8 123.6h0M97.2 118.4h0M87.0 116.8h0M97.9 115.2h0M85.4 111.0h0M97.6 123.8h0M89.4 118.0h0M84.4 112.8h0M101.1 112.6h0M91.5 128.6h0M89.6 127.2h0M90.4 123.9h0M89.8 126.6h0M95.6 127.5h0M98.7 111.9h0M85.8 118.2h0M104.2 114.4h0M99.9 119.4h0M92.2 133.8h0M97.1 121.8h0M98.3 127.9h0M90.1 126.3h0M100.7 114.2h0M89.9 122.0h0M96.9 118.3h0M90.1 127.0h0M93.6 136.4h0M91.3 127.6h0M94.6 131.7h0M86.2 111.5h0M100.5 111.8h0M90.1 120.5h0M97.5 113.0h0M95.9 125.8h0M100.5 113.1h0M89.8 126.8h0M97.6 119.4h0M99.0 125.0h0M95.4 125.8h0M88.8 118.2h0M90.4 126.5h0M87.3 116.3h0M85.4 110.4h0M98.7 112.2h0M91.9 130.7h0M93.0 135.7h0M99.1 120.2h0M98.7 112.4h0M87.5 116.0h0M102.2 112.8h0M98.9 117.1h0M90.8 123.2h0M96.6 124.5h0M87.0 115.9h0M83.0 114.7h0M100.5 113.6h0M91.4 128.6h0M84.5 125.3h0M94.1 135.2h0M96.1 128.2h0M90.2 122.3h0M89.0 114.1h0M100.2 111.4h0M100.1 114.0h0M97.8 117.6h0M87.6 119.1h0M95.4 129.1h0M96.9 115.7h0M87.8 125.3h0M96.5 117.1h0M99.9 119.6h0M97.1 120.8h0M90.3 115.8h0M94.7 130.4h0M87.0 121.0h0M92.3 131.5h0M96.6 122.8h0M100.2 120.3h0M97.9 113.7h0M89.9 126.9h0M89.8 117.1h0M86.9 113.0h0M95.5 128.3h0M92.1 132.8h0M97.8 116.4h0M96.2 129.9h0M94.4 130.5h0M97.8 126.0h0M98.4 117.7h0M96.8 120.5h0M89.9 126.3h0M92.3 134.2h0M87.3 115.1h0M96.2 125.2h0M97.8 128.1h0M98.5 119.1h0M96.4 121.8h0M91.0 132.4h0M90.1 128.1h0M100.4 111.7h0M97.9 114.2h0M95.8 130.5h0M95.9 126.4h0M96.0 126.2h0M97.4 120.3h0M97.8 112.6h0M84.2 119.8h0M94.6 132.8h0M102.8 111.3h0M94.8 130.8h0M99.8 121.7h0M95.8 116.5h0M88.7 117.5h0M91.9 125.3h0M98.7 119.1h0M99.7 118.3h0M94.6 133.2h0M97.7 112.6h0M97.1 123.1h0M89.5 122.1h0M98.0 121.3h0M84.1 113.6h0M90.1 123.3h0M84.2 111.2h0M99.1 120.2h0M101.1 115.4h0M98.2 114.7h0M92.2 132.1h0M97.6 119.2h0M91.9 130.0h0M90.6 124.7h0M89.8 120.7h0M89.8 125.5h0M99.5 110.3h0M97.4 125.2h0M96.2 124.7h0M84.7 119.1h0M96.1 127.2h0M100.4 110.9h0M98.3 110.6h0M86.5 118.3h0M102.7 113.4h0M96.9 123.0h0M88.3 122.6h0M87.3 124.2h0M98.7 112.3h0M101.4 114.2h0M93.8 135.4h0M91.2 129.3h0M96.5 121.1h0M98.0 119.7h0M97.6 121.4h0M97.9 124.0h0M94.3 133.0h0M91.2 128.6h0M106.9 111.4h0M99.2 117.0h0M97.9 123.5h0M89.8 125.7h0M92.5 133.2h0M95.4 129.9h0M86.2 112.8h0M90.8 123.1h0M102.7 118.7h0M95.4 128.4h0M88.1 114.4h0M91.2 130.3h0M96.9 126.7h0M93.9 135.5h0M92.5 134.6h0M97.1 128.4h0M99.5 118.5h0M99.8 114.2h0M96.1 128.9h0M95.7 127.7h0M95.4 129.3h0M99.1 118.8h0M87.2 110.6h0M89.4 120.0h0M92.8 135.6h0M87.5 115.6h0M96.0 127.1h0M92.6 134.0h0M103.1 114.8h0M94.5 132.5h0M95.7 130.4h0M101.9 111.0h0M98.2 113.3h0M89.6 124.3h0M97.7 123.1h0M96.7 128.2h0M90.1 118.7h0M90.6 122.9h0M90.9 130.7h0M95.3 127.3h0M88.5 113.5h0M90.5 128.7h0M91.2 129.0h0M95.5 131.4h0M90.1 115.6h0M84.7 113.6h0M99.6 119.5h0M94.7 131.5h0M91.0 127.1h0M89.1 125.8h0M91.3 127.1h0M100.4 124.4h0M88.9 124.9h0M89.5 116.8h0M94.7 132.1h0M91.1 129.9h0M101.8 114.3h0M91.3 128.5h0M87.8 119.3h0M97.9 119.8h0M89.0 119.9h0M99.6 111.4h0M97.3 125.3h0M92.4 134.0h0M91.6 131.9h0M85.1 111.3h0M88.5 120.2h0M98.5 126.0h0M98.8 122.8h0M90.0 127.3h0M89.1 116.8h0M95.9 130.7h0M99.0 118.2h0M99.8 115.1h0M90.9 126.4h0M86.6 110.6h0M87.6 124.6h0M102.6 110.4h0M97.0 124.1h0M88.6 121.5h0M98.8 114.7h0M100.4 116.2h0M94.4 132.6h0M96.0 125.3h0M99.7 122.1h0M96.9 123.8h0M99.5 120.7h0M94.7 131.0h0M87.8 115.4h0M96.5 127.7h0M88.3 120.1h0M87.0 116.0h0M95.4 129.7h0M96.4 117.3h0M86.2 115.2h0M95.5 129.5h0M96.5 118.6h0M87.1 119.3h0M103.2 110.8h0M104.7 113.8h0M97.3 122.9h0M100.6 116.5h0M95.7 122.8h0M98.7 127.7h0M90.6 127.4h0M90.6 128.6h0M89.0 121.4h0M89.7 120.4h0M92.8 134.6h0M93.8 135.5h0M95.6 124.9h0M98.3 122.6h0M90.4 124.7h0M94.3 134.0h0M93.7 135.6h0M89.8 122.7h0M95.6 127.2h0M89.0 124.3h0M101.7 113.7h0M92.9 136.3h0M97.2 116.1h0M98.8 115.2h0M92.1 132.8h0M100.8 119.5h0M91.3 129.9h0M91.9 128.8h0M95.8 127.1h0M95.9 119.3h0M93.2 137.0h0M97.4 122.3h0M97.4 125.2h0M90.6 115.7h0M98.6 116.4h0M97.8 114.4h0M100.2 111.5h0M99.4 120.7h0M93.0 135.6h0M104.0 111.7h0M92.1 132.7h0M84.4 111.7h0M87.8 114.3h0M95.8 128.7h0M88.0 123.7h0M91.0 118.9h0M98.4 122.5h0M85.9 114.6h0M94.3 134.4h0M99.2 119.4h0M94.8 130.8h0M89.5 122.5h0M89.0 114.8h0M100.6 113.5h0M91.1 130.4h0M97.6 116.0h0M94.1 132.9h0M99.0 113.3h0M89.8 123.5h0M95.7 128.7h0M100.7 118.0h0M93.8 134.7h0M99.5 113.2h0M100.2 111.5h0M101.9 110.6h0M90.9 123.6h0M96.6 126.9h0M87.0 111.4h0M89.2 111.7h0M83.2 111.7h0M98.8 111.7h0M97.5 117.4h0M93.4 136.7h0M86.8 115.3h0M100.2 111.2h0M97.0 128.4h0M96.7 126.9h0M95.6 126.3h0M99.3 114.6h0M96.2 118.1h0M93.9 134.2h0M88.5 119.7h0M97.1 124.8h0M86.2 114.8h0M89.3 118.1h0M90.0 124.5h0M91.3 129.4h0M92.0 132.8h0M86.5 115.8h0M88.4 117.7h0M88.9 125.7h0M98.0 112.9h0M94.6 132.4h0M87.4 112.9h0M91.2 128.7h0M106.1 116.2h0M90.5 126.2h0M95.8 131.1h0M90.1 125.2h0M88.3 114.9h0M85.2 116.5h0M89.1 115.5h0M90.6 126.0h0M99.6 113.7h0M94.1 132.6h0M96.9 128.9h0M99.5 111.5h0M87.7 119.6h0M97.9 115.0h0M98.5 118.2h0M90.6 127.3h0M97.8 125.6h0M88.1 115.9h0M89.8 121.2h0M101.3 115.2h0M99.6 112.7h0M96.2 121.5h0M86.8 113.5h0M88.2 119.3h0M83.4 110.5h0M87.6 120.7h0M102.7 110.4h0M85.9 119.2h0M88.6 114.6h0M101.0 113.4h0M99.6 112.6h0M96.3 123.4h0M95.0 131.0h0M93.0 135.6h0M86.9 111.6h0M91.7 128.6h0M100.4 113.2h0M88.5 121.1h0M90.9 121.9h0M101.0 111.1h0M89.0 119.9h0M94.7 133.3h0M101.8 114.0h0M94.3 132.7h0M88.8 119.6h0M88.0 114.0h0M86.8 121.3h0M84.2 112.2h0M95.8 131.7h0M96.4 124.9h0M102.3 112.2h0M86.4 113.5h0M99.4 119.8h0M96.3 125.3h0M94.8 130.4h0M82.8 113.2h0M91.3 127.3h0M100.4 115.9h0M101.5 122.8h0M89.4 118.1h0M91.3 129.6h0M87.4 118.9h0M97.2 113.2h0M88.6 122.5h0M89.9 119.8h0M94.9 127.9h0M100.5 111.6h0M88.7 115.0h0M90.7 129.8h0M102.5 110.7h0M84.5 112.1h0M89.1 117.7h0M87.7 111.8h0M100.6 112.5h0M89.8 114.6h0M101.0 112.8h0M94.5 133.8h0M97.0 128.0h0M87.6 115.7h0M98.0 114.2h0M96.2 129.7h0M96.4 121.4h0M89.2 124.7h0M99.8 112.5h0M95.5 122.4h0M87.5 115.7h0M87.2 116.7h0M89.3 125.2h0M84.6 110.3h0M97.3 113.5h0M89.8 126.1h0M90.1 123.2h0M95.1 129.5h0M102.6 111.6h0M91.7 128.9h0M103.8 110.5h0M97.2 124.6h0M90.1 117.6h0M90.4 124.3h0M88.8 116.0h0M98.2 115.6h0M85.5 111.7h0M87.2 120.6h0M98.2 126.0h0M87.9 116.4h0M92.6 135.1h0M97.8 117.8h0M92.5 134.4h0M86.9 112.6h0M102.3 112.7h0M89.3 115.3h0M88.9 118.7h0M93.5 135.9h0M90.8 129.1h0M85.8 112.2h0M92.6 135.2h0M91.6 125.6h0M94.1 133.8h0M89.1 119.5h0M87.4 117.6h0M92.2 131.9h0M91.8 132.7h0M97.0 126.0h0M88.0 118.2h0M91.5 123.1h0M95.1 127.3h0M91.9 133.5h0M87.3 114.3h0M88.5 111.5h0M95.4 125.1h0M99.6 111.2h0M95.7 129.1h0M95.8 121.1h0M97.8 119.5h0M83.9 110.5h0M97.2 126.6h0M87.6 112.9h0M95.1 126.9h0M90.5 128.0h0M94.1 133.0h0M89.5 127.3h0M94.5 133.5h0M97.1 112.3h0M93.3 137.1h0M87.7 113.0h0M90.6 118.7h0M96.0 130.9h0M89.8 123.6h0M89.1 119.8h0M87.1 117.0h0M89.7 122.9h0M95.1 129.1h0M90.4 127.9h0M97.0 120.9h0M100.0 118.9h0M98.2 111.6h0M91.9 130.8h0M98.1 125.9h0M88.9 121.0h0M88.1 114.9h0M87.5 123.8h0M97.4 121.8h0M88.5 110.4h0M93.0 136.0h0M94.7 132.4h0M90.5 128.0h0M97.0 116.8h0M95.8 128.0h0M90.4 123.7h0M98.6 117.0h0M97.1 120.6h0M89.5 124.7h0M99.3 111.7h0M98.9 121.6h0M94.1 133.9h0M85.7 114.1h0M88.6 111.8h0M91.8 128.3h0M88.1 119.7h0M92.5 133.1h0M90.5 125.4h0M98.9 110.2h0M99.1 122.3h0M89.3 123.2h0M90.3 127.7h0M94.8 129.4h0M92.1 132.6h0M93.3 137.1h0M99.4 113.9h0M99.5 117.7h0M93.8 135.5h0M94.4 132.1h0M106.1 110.6h0M101.9 114.1h0M91.7 129.4h0M99.1 110.3h0M99.1 118.0h0M97.0 122.9h0M91.6 131.5h0M92.3 133.3h0M91.0 125.7h0M95.0 130.0h0M96.9 122.4h0M88.6 119.8h0M96.7 123.4h0M91.8 125.7h0M98.9 112.5h0M86.1 120.2h0M99.5 110.7h0M87.8 125.5h0M96.2 125.6h0M97.2 115.6h0M91.7 130.4h0M102.0 110.6h0M90.2 126.2h0M84.7 113.0h0M88.9 122.0h0M101.3 114.5h0M90.5 125.8h0M97.0 116.1h0M97.2 126.5h0M86.0 117.7h0M96.8 124.9h0M93.6 135.7h0M100.2 111.2h0M91.3 131.8h0M93.8 135.2h0M99.5 111.4h0M88.6 113.1h0M95.0 132.6h0M97.2 127.0h0M97.2 120.3h0M95.2 132.2h0M97.5 122.6h0M78.9 110.8h0M87.2 115.5h0M90.2 118.7h0M94.6 130.9h0M86.4 119.4h0M99.0 111.5h0M89.5 112.1h0M84.4 116.9h0M98.0 116.7h0M89.2 115.9h0M92.8 135.8h0M92.7 134.0h0M85.5 116.6h0M83.2 119.8h0M100.3 113.4h0M96.0 126.2h0M89.3 118.8h0M96.7 121.5h0M80.1 115.6h0M92.1 133.2h0M88.6 121.7h0M99.0 113.9h0M93.3 137.0h0M97.5 124.5h0M90.2 124.4h0M97.9 122.3h0M88.9 116.7h0M89.5 121.1h0M88.2 115.3h0M96.1 120.1h0M96.3 125.7h0M101.9 113.1h0M96.3 121.6h0M95.5 128.1h0M95.9 124.9h0M104.0 111.8h0M100.6 111.2h0M95.9 118.0h0M90.2 127.4h0M86.8 122.3h0M102.9 112.7h0M97.9 127.2h0M89.7 126.7h0M89.0 125.2h0M97.2 122.9h0M95.1 130.3h0M96.4 127.3h0M91.1 132.5h0M85.8 120.7h0M95.5 129.1h0M95.4 128.0h0M98.5 125.4h0M98.1 122.3h0M90.3 123.5h0M99.3 119.4h0M94.4 133.5h0M93.7 135.5h0M90.5 124.9h0M90.3 121.8h0M103.9 110.5h0M92.7 135.2h0M84.7 113.2h0M91.1 129.8h0M98.2 119.5h0M99.7 114.6h0M99.2 114.8h0M94.9 127.9h0M99.5 113.9h0M94.3 133.7h0M96.4 123.6h0M86.2 110.9h0M99.0 114.9h0M97.4 122.6h0M95.8 128.0h0M87.9 122.6h0M87.2 122.3h0M83.0 110.9h0M90.9 128.3h0M98.0 113.9h0M100.4 113.8h0M90.6 126.1h0M98.6 113.3h0M101.3 110.7h0M98.2 121.3h0M89.8 124.4h0M101.1 121.3h0M98.5 119.4h0M88.4 118.4h0M99.0 120.3h0M101.6 113.1h0M90.2 124.8h0M102.6 110.3h0M97.2 120.1h0M92.4 132.5h0M91.2 128.3h0M99.9 119.3h0M98.6 113.7h0M94.7 128.5h0M87.6 110.8h0M95.2 131.5h0M84.3 110.7h0M95.8 128.7h0M99.0 118.3h0M100.8 115.2h0M97.0 128.4h0M98.2 122.9h0M92.1 131.6h0M82.6 112.9h0M99.6 120.3h0M89.1 116.6h0M96.4 120.2h0M87.3 111.4h0M84.5 118.7h0M87.8 121.8h0M90.1 114.6h0M98.8 117.2h0M88.1 121.0h0M94.4 132.9h0M102.8 110.4h0M92.5 132.2h0M89.0 122.4h0M86.6 114.2h0M90.2 127.5h0M96.2 124.8h0M90.6 129.9h0M92.1 131.0h0M99.6 117.5h0M95.9 126.3h0M91.8 132.3h0M105.4 111.5h0M95.8 126.1h0M97.0 120.7h0M98.7 117.8h0M97.2 117.3h0M96.5 123.7h0M100.3 118.7h0M98.7 113.5h0M87.6 120.0h0M97.1 125.5h0M94.5 127.1h0M95.3 124.9h0M88.6 121.1h0M102.7 112.5h0M98.4 118.7h0M87.4 115.4h0M97.2 118.2h0M96.8 125.0h0M100.1 110.8h0M95.0 132.7h0M87.3 123.3h0M97.0 125.2h0M94.6 127.4h0M92.5 134.2h0M87.9 122.3h0M86.2 110.4h0M103.1 115.6h0M94.9 130.1h0M89.1 112.8h0M84.6 114.2h0M99.1 112.0h0M95.3 127.5h0M99.4 113.5h0M92.9 135.3h0M90.3 125.4h0M96.8 121.9h0M96.7 123.5h0M86.3 119.1h0M89.1 116.9h0M96.9 126.0h0M94.8 132.7h0M92.6 134.5h0M90.5 122.7h0M84.6 111.6h0M100.7 117.9h0M89.8 122.9h0M87.6 113.7h0M100.0 110.8h0M85.3 110.4h0M95.4 130.3h0M95.5 128.9h0M90.5 129.4h0M101.9 111.2h0M86.9 112.5h0M100.4 120.3h0M86.2 117.8h0M100.9 121.5h0M99.0 114.0h0M102.5 117.2h0M89.8 124.3h0M95.0 130.5h0M88.3 119.6h0M92.9 134.6h0M99.7 119.6h0M97.7 124.5h0M97.2 119.3h0M90.5 126.4h0M86.6 121.0h0M100.0 112.4h0M91.8 131.6h0M91.6 132.1h0M91.3 129.8h0M94.7 130.2h0M99.3 112.2h0M94.9 127.9h0M98.2 115.9h0M87.2 114.3h0M89.0 120.0h0M99.0 114.6h0M94.6 128.5h0M95.5 129.6h0M88.3 122.8h0M91.3 129.4h0M88.8 116.3h0M99.0 121.9h0M97.7 116.5h0M99.8 119.2h0M89.7 119.6h0M90.9 125.7h0M98.9 111.5h0M94.2 134.9h0M85.4 117.8h0M97.6 113.4h0M85.6 114.8h0M95.4 131.6h0M89.2 112.6h0M99.1 113.7h0M98.6 113.0h0M84.9 117.9h0M98.6 112.8h0M89.8 114.1h0M88.1 111.1h0M99.6 118.4h0M88.6 114.0h0M89.6 127.5h0M85.6 112.4h0M98.6 122.6h0M97.3 119.2h0M92.5 134.8h0M94.5 132.1h0M89.2 121.2h0M88.5 117.6h0M85.6 113.9h0M99.2 113.8h0M84.9 119.7h0M97.4 115.7h0M92.3 133.5h0M99.1 119.2h0M97.6 119.9h0M81.9 115.5h0M88.3 119.9h0M95.4 131.8h0M86.1 116.6h0M100.0 114.9h0M97.2 117.8h0M88.4 112.2h0M89.0 115.8h0M97.0 123.4h0M89.1 121.8h0M96.8 128.5h0M96.5 118.7h0M93.9 134.3h0M87.2 120.4h0M103.7 112.2h0M98.9 118.5h0M97.8 121.0h0M88.3 127.0h0M92.2 132.9h0M90.7 127.5h0M84.5 113.8h0M99.6 121.3h0M92.3 132.6h0M86.0 119.8h0M98.5 116.2h0M87.9 122.1h0M98.7 120.1h0M92.4 132.2h0M95.7 129.9h0M97.8 118.8h0M90.2 124.2h0M89.7 122.0h0M85.9 110.7h0M94.6 131.3h0M92.9 135.6h0M91.0 127.1h0M101.4 115.9h0M95.7 128.4h0M95.7 125.6h0M85.6 120.0h0M97.3 123.8h0M98.1 117.4h0M97.5 116.5h0M89.8 123.2h0M99.5 122.4h0M99.4 110.8h0M96.8 120.9h0M88.3 114.3h0M102.9 110.2h0M90.9 131.0h0M91.5 131.4h0M90.5 129.0h0M92.1 131.1h0M100.0 115.4h0M95.0 127.0h0M94.6 133.0h0M95.2 124.7h0M96.7 114.2h0M90.1 124.3h0M97.4 120.9h0M96.6 126.8h0M87.8 110.2h0M101.1 118.7h0M91.4 125.5h0M95.9 128.8h0M91.1 129.9h0M96.0 126.1h0M88.4 112.4h0M91.4 131.1h0M100.6 112.6h0M87.9 111.2h0M97.0 127.2h0M91.9 135.0h0M95.4 127.3h0M92.3 134.8h0M101.9 117.5h0M98.6 119.5h0M98.7 124.5h0M82.9 110.8h0M101.3 111.2h0M101.0 117.6h0M97.8 116.9h0M98.6 110.4h0M89.2 118.7h0M87.6 114.6h0M102.7 119.0h0M95.2 123.1h0M84.7 113.5h0M88.9 116.8h0M93.0 136.4h0M91.0 131.8h0M95.5 127.9h0M90.5 128.4h0M89.3 127.8h0M91.9 131.6h0M88.4 111.5h0M89.6 123.2h0M99.1 120.7h0M87.3 114.7h0M93.8 135.0h0M95.7 131.5h0M98.8 115.4h0M90.4 122.1h0M91.8 129.1h0M98.3 115.1h0M97.6 125.1h0M94.9 131.4h0M94.9 132.1h0M89.3 120.6h0M91.4 130.2h0M95.8 131.2h0M87.7 118.1h0M88.2 119.0h0M96.1 128.8h0M91.7 129.4h0M90.4 124.4h0M93.7 135.0h0M91.2 130.3h0M100.1 118.6h0M89.9 126.9h0M88.6 123.2h0M97.5 115.0h0M87.3 113.9h0M92.2 134.8h0M86.1 115.5h0M105.5 110.8h0M95.5 130.8h0M90.5 131.7h0M87.8 113.3h0M96.7 117.2h0M94.2 132.2h0M88.3 112.4h0M112.8 112.9h0M76.3 117.6h0M70.2 115.6h0M87.6 128.5h0M111.1 115.6h0M81.5 120.3h0M77.8 117.8h0M112.9 119.0h0M114.8 112.4h0M80.8 126.6h0M98.1 130.4h0M84.5 125.3h0M72.2 114.0h0M69.7 116.3h0M85.7 126.7h0M109.5 113.9h0M73.1 116.9h0M86.7 130.9h0M71.8 113.0h0M85.1 126.5h0M79.6 124.2h0M103.7 123.0h0M84.6 125.7h0M109.1 111.4h0M71.5 117.4h0M111.9 112.9h0M86.2 126.1h0M115.2 116.9h0M88.3 129.3h0M81.9 125.4h0M108.7 115.6h0M84.6 128.0h0M102.0 126.4h0M103.0 128.9h0M83.1 122.8h0M106.4 117.9h0M81.5 119.8h0M84.6 125.6h0M109.3 115.3h0M75.7 121.4h0M56.3 113.7h0M64.9 116.4h0M124.8 115.4h0M118.5 122.6h0M112.2 126.8h0M72.8 124.7h0" stroke="#16599a" stroke-width="1.6" stroke-linecap="round" fill="none"/>
<path d="M97.3 109.2h0M86.2 107.1h0M105.1 102.2h0M101.1 107.0h0M85.3 99.3h0M104.6 100.5h0M102.9 102.9h0M86.8 109.1h0M106.6 109.2h0M110.8 100.0h0M103.7 94.9h0M99.5 109.4h0M84.0 104.3h0M104.8 94.8h0M103.3 105.2h0M106.6 78.3h0M102.2 105.5h0M87.7 101.8h0M82.4 105.0h0M113.1 94.0h0M89.5 109.4h0M107.6 105.3h0M101.7 109.6h0M97.5 108.3h0M104.9 93.6h0M101.7 107.4h0M104.2 104.4h0M84.0 107.8h0M99.2 101.5h0M102.4 109.6h0M87.5 109.1h0M86.6 105.0h0M101.7 94.0h0M100.4 104.5h0M99.1 101.0h0M97.1 109.4h0M105.7 108.2h0M84.6 100.7h0M98.4 109.6h0M104.9 104.9h0M105.2 98.6h0M85.2 98.5h0M103.8 107.1h0M96.2 108.5h0M101.9 105.0h0M107.8 100.2h0M100.4 108.6h0M99.7 108.4h0M87.2 102.3h0M99.4 108.5h0M84.3 104.8h0M98.8 95.6h0M89.4 96.5h0M104.6 106.7h0M104.0 101.9h0M102.5 103.8h0M101.6 106.5h0M103.7 104.4h0M88.1 108.7h0M86.1 108.3h0M102.0 106.2h0M86.6 109.5h0M78.0 105.5h0M102.5 103.9h0M101.3 99.1h0M85.5 108.9h0M80.8 106.5h0M82.8 96.8h0M100.6 106.0h0M103.2 107.7h0M87.2 109.0h0M97.3 107.4h0M106.9 100.0h0M102.4 106.5h0M98.3 95.7h0M100.5 104.7h0M102.9 105.1h0M87.3 98.2h0M102.6 103.7h0M80.8 98.5h0M108.5 97.8h0M85.7 107.9h0M104.1 104.8h0M105.7 105.6h0M100.2 105.5h0M101.3 98.0h0M101.5 106.4h0M84.4 105.3h0M103.8 101.6h0M100.0 106.4h0M101.4 100.1h0M101.1 98.1h0M100.0 107.6h0M98.6 108.6h0M89.2 106.9h0M103.1 92.3h0M104.9 104.1h0M98.2 109.0h0M105.2 109.4h0M88.3 107.1h0M104.4 108.7h0M95.8 109.1h0M106.2 104.4h0M107.3 104.3h0M103.6 108.1h0M101.2 93.5h0M103.5 107.9h0M89.3 107.2h0M107.1 106.8h0M99.4 108.0h0M55.6 71.8h0M58.8 80.2h0M52.3 81.0h0M64.8 93.2h0M66.1 71.3h0M72.9 82.5h0M70.4 88.3h0M51.3 90.9h0M80.8 87.1h0M82.5 87.1h0M84.8 88.6h0M86.5 90.6h0M80.8 92.1h0M84.8 94.4h0M62.3 95.8h0M71.3 95.8h0M63.5 98.7h0M69.8 98.7h0M79.4 98.7h0M101.9 68.1h0M103.0 72.2h0M105.5 79.1h0M100.6 83.4h0M117.1 88.2h0M114.0 95.4h0M126.6 103.9h0M129.8 109.4h0M65.9 71.3h0M72.7 83.0h0" stroke="#c8102e" stroke-width="1.5" stroke-linecap="round" fill="none"/>
<text x="34" y="57.5" font-size="7.4" text-anchor="start" fill="#231f20" stroke="#231f20" stroke-width="0.22">CLU</text>
<text x="59.8" y="59.1" font-size="7.4" text-anchor="start" fill="#231f20" stroke="#231f20" stroke-width="0.22">PPBP</text>
<text x="32" y="74.4" font-size="7.4" text-anchor="start" fill="#231f20" stroke="#231f20" stroke-width="0.22">PF4</text>
<text x="32.5" y="89.4" font-size="7.4" text-anchor="start" fill="#231f20" stroke="#231f20" stroke-width="0.22">ITGA2B</text>
<text x="112.5" y="76.4" font-size="7.4" text-anchor="start" fill="#231f20" stroke="#231f20" stroke-width="0.22">LGALS9</text>
<text x="123" y="91.8" font-size="7.4" text-anchor="start" fill="#231f20" stroke="#231f20" stroke-width="0.22">SOCS2</text>
<line x1="42.7" y1="59.8" x2="58.3" y2="79.4" stroke="#231f20" stroke-width="0.6"/>
<line x1="64" y1="59.4" x2="56.8" y2="69.5" stroke="#231f20" stroke-width="0.6"/>
<line x1="42.1" y1="75.2" x2="51.3" y2="80.5" stroke="#231f20" stroke-width="0.6"/>
<line x1="57.1" y1="90.2" x2="64" y2="92.9" stroke="#231f20" stroke-width="0.6"/>
<line x1="111.8" y1="73.8" x2="103.4" y2="90.8" stroke="#231f20" stroke-width="0.6"/>
<line x1="122.4" y1="89.7" x2="116" y2="94" stroke="#231f20" stroke-width="0.6"/>
<text x="171" y="14.8" font-size="11" text-anchor="start" fill="#000" font-weight="bold" stroke="#000" stroke-width="0.22">B</text>
<text x="236.3" y="14.8" font-size="8.4" text-anchor="middle" fill="#231f20" stroke="#231f20" stroke-width="0.22">CLU</text>
<line x1="194.5" y1="38.5" x2="194.5" y2="137.8" stroke="#231f20" stroke-width="1"/>
<line x1="194" y1="137.3" x2="278.5" y2="137.3" stroke="#231f20" stroke-width="1"/>
<line x1="191" y1="43" x2="194.5" y2="43" stroke="#231f20" stroke-width="1"/>
<text x="188" y="45.5" font-size="7.4" text-anchor="end" fill="#231f20" stroke="#231f20" stroke-width="0.22">4</text>
<line x1="191" y1="54.8" x2="194.5" y2="54.8" stroke="#231f20" stroke-width="1"/>
<text x="188" y="57.2" font-size="7.4" text-anchor="end" fill="#231f20" stroke="#231f20" stroke-width="0.22">3</text>
<line x1="191" y1="66.5" x2="194.5" y2="66.5" stroke="#231f20" stroke-width="1"/>
<text x="188" y="69" font-size="7.4" text-anchor="end" fill="#231f20" stroke="#231f20" stroke-width="0.22">2</text>
<line x1="191" y1="78.2" x2="194.5" y2="78.2" stroke="#231f20" stroke-width="1"/>
<text x="188" y="80.8" font-size="7.4" text-anchor="end" fill="#231f20" stroke="#231f20" stroke-width="0.22">1</text>
<line x1="191" y1="90" x2="194.5" y2="90" stroke="#231f20" stroke-width="1"/>
<text x="188" y="92.5" font-size="7.4" text-anchor="end" fill="#231f20" stroke="#231f20" stroke-width="0.22">0</text>
<line x1="191" y1="101.8" x2="194.5" y2="101.8" stroke="#231f20" stroke-width="1"/>
<text x="188" y="104.2" font-size="7.4" text-anchor="end" fill="#231f20" stroke="#231f20" stroke-width="0.22">−1</text>
<line x1="191" y1="113.5" x2="194.5" y2="113.5" stroke="#231f20" stroke-width="1"/>
<text x="188" y="116" font-size="7.4" text-anchor="end" fill="#231f20" stroke="#231f20" stroke-width="0.22">−2</text>
<line x1="191" y1="125.2" x2="194.5" y2="125.2" stroke="#231f20" stroke-width="1"/>
<text x="188" y="127.8" font-size="7.4" text-anchor="end" fill="#231f20" stroke="#231f20" stroke-width="0.22">−3</text>
<line x1="191" y1="137" x2="194.5" y2="137" stroke="#231f20" stroke-width="1"/>
<text x="188" y="139.5" font-size="7.4" text-anchor="end" fill="#231f20" stroke="#231f20" stroke-width="0.22">−4</text>
<line x1="204.6" y1="137.3" x2="204.6" y2="140.5" stroke="#231f20" stroke-width="1"/>
<line x1="226.6" y1="137.3" x2="226.6" y2="140.5" stroke="#231f20" stroke-width="1"/>
<line x1="248.6" y1="137.3" x2="248.6" y2="140.5" stroke="#231f20" stroke-width="1"/>
<line x1="270.7" y1="137.3" x2="270.7" y2="140.5" stroke="#231f20" stroke-width="1"/>
<line x1="194.5" y1="90" x2="278.5" y2="90" stroke="#8a8a8a" stroke-width="0.7" stroke-dasharray="2 1"/>
<line x1="199.8" y1="61.2" x2="199.8" y2="116.4" stroke="#c8102e" stroke-width="0.9"/>
<line x1="198.6" y1="61.2" x2="201" y2="61.2" stroke="#c8102e" stroke-width="0.9"/>
<line x1="198.6" y1="116.4" x2="201" y2="116.4" stroke="#c8102e" stroke-width="0.9"/>
<g fill="#c8102e"><circle cx="199.8" cy="43" r="1.9"/><circle cx="199.8" cy="68.8" r="1.9"/><circle cx="200.6" cy="70" r="1.9"/><circle cx="199.3" cy="71.2" r="1.9"/><circle cx="199.8" cy="76.5" r="1.9"/><circle cx="199.8" cy="105.3" r="1.9"/><circle cx="200.6" cy="107" r="1.9"/><circle cx="199.8" cy="114.7" r="1.9"/><circle cx="199.8" cy="121.7" r="1.9"/></g>
<line x1="196.3" y1="88.8" x2="203.3" y2="88.8" stroke="#231f20" stroke-width="1.1"/>
<line x1="209.4" y1="78.2" x2="209.4" y2="108.8" stroke="#16599a" stroke-width="0.9"/>
<line x1="208.2" y1="78.2" x2="210.6" y2="78.2" stroke="#16599a" stroke-width="0.9"/>
<line x1="208.2" y1="108.8" x2="210.6" y2="108.8" stroke="#16599a" stroke-width="0.9"/>
<g fill="#16599a"><circle cx="209.4" cy="68.8" r="1.9"/><circle cx="209.4" cy="77.7" r="1.9"/><circle cx="209.4" cy="90" r="1.9"/><circle cx="209.4" cy="95.9" r="1.9"/><circle cx="210" cy="101.8" r="1.9"/><circle cx="208.8" cy="102.3" r="1.9"/><circle cx="209.4" cy="108.8" r="1.9"/></g>
<line x1="205.9" y1="93.5" x2="212.9" y2="93.5" stroke="#231f20" stroke-width="1.1"/>
<line x1="221.8" y1="104.1" x2="221.8" y2="118.2" stroke="#c8102e" stroke-width="0.9"/>
<line x1="220.6" y1="104.1" x2="223" y2="104.1" stroke="#c8102e" stroke-width="0.9"/>
<line x1="220.6" y1="118.2" x2="223" y2="118.2" stroke="#c8102e" stroke-width="0.9"/>
<g fill="#c8102e"><circle cx="221.8" cy="97.6" r="1.9"/><circle cx="221.8" cy="102.9" r="1.9"/><circle cx="221.8" cy="108.2" r="1.9"/><circle cx="221" cy="110.6" r="1.9"/><circle cx="222.6" cy="112.3" r="1.9"/><circle cx="221.8" cy="115.8" r="1.9"/><circle cx="221.8" cy="122.9" r="1.9"/></g>
<line x1="218.3" y1="111.2" x2="225.3" y2="111.2" stroke="#231f20" stroke-width="1.1"/>
<line x1="231.4" y1="108.8" x2="231.4" y2="120.5" stroke="#16599a" stroke-width="0.9"/>
<line x1="230.2" y1="108.8" x2="232.6" y2="108.8" stroke="#16599a" stroke-width="0.9"/>
<line x1="230.2" y1="120.5" x2="232.6" y2="120.5" stroke="#16599a" stroke-width="0.9"/>
<g fill="#16599a"><circle cx="231.4" cy="105.3" r="1.9"/><circle cx="231.4" cy="109.4" r="1.9"/><circle cx="231.4" cy="113.5" r="1.9"/><circle cx="231.4" cy="117" r="1.9"/><circle cx="230.7" cy="120.5" r="1.9"/><circle cx="232.1" cy="121.1" r="1.9"/></g>
<line x1="227.9" y1="114.7" x2="234.9" y2="114.7" stroke="#231f20" stroke-width="1.1"/>
<line x1="243.8" y1="82.4" x2="243.8" y2="97.6" stroke="#c8102e" stroke-width="0.9"/>
<line x1="242.6" y1="82.4" x2="245" y2="82.4" stroke="#c8102e" stroke-width="0.9"/>
<line x1="242.6" y1="97.6" x2="245" y2="97.6" stroke="#c8102e" stroke-width="0.9"/>
<g fill="#c8102e"><circle cx="243.8" cy="80.6" r="1.9"/><circle cx="243.8" cy="86.5" r="1.9"/><circle cx="243.8" cy="88.8" r="1.9"/><circle cx="243" cy="97" r="1.9"/><circle cx="244.6" cy="97.6" r="1.9"/></g>
<line x1="240.3" y1="90" x2="247.3" y2="90" stroke="#231f20" stroke-width="1.1"/>
<line x1="253.4" y1="80" x2="253.4" y2="100" stroke="#16599a" stroke-width="0.9"/>
<line x1="252.2" y1="80" x2="254.6" y2="80" stroke="#16599a" stroke-width="0.9"/>
<line x1="252.2" y1="100" x2="254.6" y2="100" stroke="#16599a" stroke-width="0.9"/>
<g fill="#16599a"><circle cx="253.4" cy="78.2" r="1.9"/><circle cx="252.9" cy="85.3" r="1.9"/><circle cx="253.9" cy="87.7" r="1.9"/><circle cx="253.4" cy="93.5" r="1.9"/><circle cx="253.4" cy="104.7" r="1.9"/></g>
<line x1="249.9" y1="90" x2="256.9" y2="90" stroke="#231f20" stroke-width="1.1"/>
<line x1="265.9" y1="117.6" x2="265.9" y2="123.5" stroke="#c8102e" stroke-width="0.9"/>
<line x1="264.7" y1="117.6" x2="267.1" y2="117.6" stroke="#c8102e" stroke-width="0.9"/>
<line x1="264.7" y1="123.5" x2="267.1" y2="123.5" stroke="#c8102e" stroke-width="0.9"/>
<g fill="#c8102e"><circle cx="265.9" cy="114.7" r="1.9"/><circle cx="265.9" cy="118.2" r="1.9"/><circle cx="265.9" cy="120.5" r="1.9"/><circle cx="265.2" cy="122.9" r="1.9"/><circle cx="266.6" cy="124.1" r="1.9"/></g>
<line x1="262.4" y1="120.5" x2="269.4" y2="120.5" stroke="#231f20" stroke-width="1.1"/>
<line x1="275.5" y1="106.5" x2="275.5" y2="121.7" stroke="#16599a" stroke-width="0.9"/>
<line x1="274.3" y1="106.5" x2="276.7" y2="106.5" stroke="#16599a" stroke-width="0.9"/>
<line x1="274.3" y1="121.7" x2="276.7" y2="121.7" stroke="#16599a" stroke-width="0.9"/>
<g fill="#16599a"><circle cx="275.5" cy="105.9" r="1.9"/><circle cx="276.3" cy="107" r="1.9"/><circle cx="275.5" cy="113.5" r="1.9"/><circle cx="275.5" cy="119.4" r="1.9"/><circle cx="275.5" cy="125.2" r="1.9"/></g>
<line x1="272" y1="114.1" x2="279" y2="114.1" stroke="#231f20" stroke-width="1.1"/>
<text transform="translate(207.9 148.3) rotate(-45)" font-size="7.9" text-anchor="end" fill="#231f20" stroke="#231f20" stroke-width="0.22">Control</text>
<text transform="translate(229.9 148.3) rotate(-45)" font-size="7.9" text-anchor="end" fill="#231f20" stroke="#231f20" stroke-width="0.22">PVchron.UT</text>
<text transform="translate(251.9 148.3) rotate(-45)" font-size="7.9" text-anchor="end" fill="#231f20" stroke="#231f20" stroke-width="0.22">PVchron.HU</text>
<text transform="translate(274 148.3) rotate(-45)" font-size="7.9" text-anchor="end" fill="#231f20" stroke="#231f20" stroke-width="0.22">PVprog</text>
<line x1="208.8" y1="20.5" x2="276" y2="20.5" stroke="#333" stroke-width="0.9" stroke-dasharray="1.9 2.2"/>
<path d="M274.40 23.25L274.73 24.04L275.59 24.11L274.93 24.67L275.13 25.51L274.40 25.06L273.67 25.51L273.87 24.67L273.21 24.11L274.07 24.04Z" fill="#111"/>
<line x1="208.8" y1="22.5" x2="252" y2="22.5" stroke="#333" stroke-width="0.9" stroke-dasharray="1.9 2.2"/>
<text x="249" y="28.9" font-size="7.2" text-anchor="middle" fill="#231f20" stroke="#231f20" stroke-width="0.22">ns</text>
<line x1="208.8" y1="24.6" x2="228.5" y2="24.6" stroke="#333" stroke-width="0.9" stroke-dasharray="1.9 2.2"/>
<path d="M226.30 27.95L226.63 28.74L227.49 28.81L226.83 29.37L227.03 30.21L226.30 29.76L225.57 30.21L225.77 29.37L225.11 28.81L225.97 28.74Z" fill="#111"/>
<line x1="200.5" y1="35.4" x2="267.8" y2="35.4" stroke="#333" stroke-width="0.9"/>
<path d="M261.20 38.25L261.53 39.04L262.39 39.11L261.73 39.67L261.93 40.51L261.20 40.06L260.47 40.51L260.67 39.67L260.01 39.11L260.87 39.04ZM264.00 38.25L264.33 39.04L265.19 39.11L264.53 39.67L264.73 40.51L264.00 40.06L263.27 40.51L263.47 39.67L262.81 39.11L263.67 39.04ZM266.80 38.25L267.13 39.04L267.99 39.11L267.33 39.67L267.53 40.51L266.80 40.06L266.07 40.51L266.27 39.67L265.61 39.11L266.47 39.04Z" fill="#111"/>
<line x1="200.5" y1="37.5" x2="245" y2="37.5" stroke="#333" stroke-width="0.9"/>
<text x="241" y="43.7" font-size="7.2" text-anchor="middle" fill="#231f20" stroke="#231f20" stroke-width="0.22">ns</text>
<line x1="200.5" y1="39.6" x2="221" y2="39.6" stroke="#333" stroke-width="0.9"/>
<path d="M216.60 42.25L216.93 43.04L217.79 43.11L217.13 43.67L217.33 44.51L216.60 44.06L215.87 44.51L216.07 43.67L215.41 43.11L216.27 43.04ZM219.40 42.25L219.73 43.04L220.59 43.11L219.93 43.67L220.13 44.51L219.40 44.06L218.67 44.51L218.87 43.67L218.21 43.11L219.07 43.04Z" fill="#111"/>
<text transform="translate(174.8 136.5) rotate(-90)" font-size="8.3" fill="#231f20" stroke-width="0.4" textLength="89" lengthAdjust="spacingAndGlyphs" stroke="#231f20">Z-score log<tspan font-size="5.5" dy="1.5">2</tspan><tspan dy="-1.5">(protein intensity)</tspan></text>
<text x="351" y="14.8" font-size="8.4" text-anchor="middle" fill="#231f20" stroke="#231f20" stroke-width="0.22">LGALS9</text>
<line x1="309.3" y1="42.7" x2="309.3" y2="137.8" stroke="#231f20" stroke-width="1"/>
<line x1="308.8" y1="137.3" x2="393" y2="137.3" stroke="#231f20" stroke-width="1"/>
<line x1="305.8" y1="54.9" x2="309.3" y2="54.9" stroke="#231f20" stroke-width="1"/>
<text x="302.8" y="57.4" font-size="7.4" text-anchor="end" fill="#231f20" stroke="#231f20" stroke-width="0.22">3</text>
<line x1="305.8" y1="78.5" x2="309.3" y2="78.5" stroke="#231f20" stroke-width="1"/>
<text x="302.8" y="81" font-size="7.4" text-anchor="end" fill="#231f20" stroke="#231f20" stroke-width="0.22">2</text>
<line x1="305.8" y1="102.2" x2="309.3" y2="102.2" stroke="#231f20" stroke-width="1"/>
<text x="302.8" y="104.7" font-size="7.4" text-anchor="end" fill="#231f20" stroke="#231f20" stroke-width="0.22">1</text>
<line x1="305.8" y1="125.8" x2="309.3" y2="125.8" stroke="#231f20" stroke-width="1"/>
<text x="302.8" y="128.3" font-size="7.4" text-anchor="end" fill="#231f20" stroke="#231f20" stroke-width="0.22">0</text>
<line x1="319.7" y1="137.3" x2="319.7" y2="140.5" stroke="#231f20" stroke-width="1"/>
<line x1="341.8" y1="137.3" x2="341.8" y2="140.5" stroke="#231f20" stroke-width="1"/>
<line x1="364.2" y1="137.3" x2="364.2" y2="140.5" stroke="#231f20" stroke-width="1"/>
<line x1="386.2" y1="137.3" x2="386.2" y2="140.5" stroke="#231f20" stroke-width="1"/>
<line x1="314.9" y1="78.5" x2="314.9" y2="109.2" stroke="#c8102e" stroke-width="0.9"/>
<line x1="313.7" y1="78.5" x2="316.1" y2="78.5" stroke="#c8102e" stroke-width="0.9"/>
<line x1="313.7" y1="109.2" x2="316.1" y2="109.2" stroke="#c8102e" stroke-width="0.9"/>
<g fill="#c8102e"><circle cx="314.9" cy="82" r="1.9"/><circle cx="314.3" cy="84.4" r="1.9"/><circle cx="314.9" cy="90.3" r="1.9"/><circle cx="314.9" cy="93.9" r="1.9"/><circle cx="315.5" cy="96.2" r="1.9"/><circle cx="314.9" cy="129.3" r="1.9"/></g>
<line x1="311.4" y1="93.9" x2="318.4" y2="93.9" stroke="#231f20" stroke-width="1.1"/>
<line x1="324.5" y1="74.5" x2="324.5" y2="99.1" stroke="#16599a" stroke-width="0.9"/>
<line x1="323.3" y1="74.5" x2="325.7" y2="74.5" stroke="#16599a" stroke-width="0.9"/>
<line x1="323.3" y1="99.1" x2="325.7" y2="99.1" stroke="#16599a" stroke-width="0.9"/>
<g fill="#16599a"><circle cx="324.5" cy="78.5" r="1.9"/><circle cx="323.8" cy="82" r="1.9"/><circle cx="325.2" cy="83.2" r="1.9"/><circle cx="324.5" cy="90.3" r="1.9"/><circle cx="324.5" cy="116.3" r="1.9"/></g>
<line x1="321" y1="86.8" x2="328" y2="86.8" stroke="#231f20" stroke-width="1.1"/>
<line x1="337" y1="66.9" x2="337" y2="91.5" stroke="#c8102e" stroke-width="0.9"/>
<line x1="335.8" y1="66.9" x2="338.2" y2="66.9" stroke="#c8102e" stroke-width="0.9"/>
<line x1="335.8" y1="91.5" x2="338.2" y2="91.5" stroke="#c8102e" stroke-width="0.9"/>
<g fill="#c8102e"><circle cx="337" cy="65.5" r="1.9"/><circle cx="337" cy="70.2" r="1.9"/><circle cx="336.4" cy="78.5" r="1.9"/><circle cx="337.6" cy="79.7" r="1.9"/><circle cx="337" cy="101" r="1.9"/></g>
<line x1="333.5" y1="79.2" x2="340.5" y2="79.2" stroke="#231f20" stroke-width="1.1"/>
<line x1="346.6" y1="67.9" x2="346.6" y2="92.5" stroke="#16599a" stroke-width="0.9"/>
<line x1="345.4" y1="67.9" x2="347.8" y2="67.9" stroke="#16599a" stroke-width="0.9"/>
<line x1="345.4" y1="92.5" x2="347.8" y2="92.5" stroke="#16599a" stroke-width="0.9"/>
<g fill="#16599a"><circle cx="346.6" cy="71.4" r="1.9"/><circle cx="347.2" cy="72.6" r="1.9"/><circle cx="346" cy="73.8" r="1.9"/><circle cx="346.6" cy="83.2" r="1.9"/><circle cx="346.6" cy="106.9" r="1.9"/></g>
<line x1="343.1" y1="80.2" x2="350.1" y2="80.2" stroke="#231f20" stroke-width="1.1"/>
<line x1="359.4" y1="80.4" x2="359.4" y2="90.8" stroke="#c8102e" stroke-width="0.9"/>
<line x1="358.2" y1="80.4" x2="360.6" y2="80.4" stroke="#c8102e" stroke-width="0.9"/>
<line x1="358.2" y1="90.8" x2="360.6" y2="90.8" stroke="#c8102e" stroke-width="0.9"/>
<g fill="#c8102e"><circle cx="359.4" cy="79.7" r="1.9"/><circle cx="360" cy="83.2" r="1.9"/><circle cx="358.8" cy="85.6" r="1.9"/><circle cx="359.4" cy="92.7" r="1.9"/></g>
<line x1="355.9" y1="85.6" x2="362.9" y2="85.6" stroke="#231f20" stroke-width="1.1"/>
<line x1="369" y1="77.3" x2="369" y2="86.8" stroke="#16599a" stroke-width="0.9"/>
<line x1="367.8" y1="77.3" x2="370.2" y2="77.3" stroke="#16599a" stroke-width="0.9"/>
<line x1="367.8" y1="86.8" x2="370.2" y2="86.8" stroke="#16599a" stroke-width="0.9"/>
<g fill="#16599a"><circle cx="369" cy="75" r="1.9"/><circle cx="368.4" cy="80.9" r="1.9"/><circle cx="369.6" cy="83.2" r="1.9"/><circle cx="369" cy="85.6" r="1.9"/></g>
<line x1="365.5" y1="82" x2="372.5" y2="82" stroke="#231f20" stroke-width="1.1"/>
<line x1="381.4" y1="54.9" x2="381.4" y2="76.1" stroke="#c8102e" stroke-width="0.9"/>
<line x1="380.2" y1="54.9" x2="382.6" y2="54.9" stroke="#c8102e" stroke-width="0.9"/>
<line x1="380.2" y1="76.1" x2="382.6" y2="76.1" stroke="#c8102e" stroke-width="0.9"/>
<g fill="#c8102e"><circle cx="381.4" cy="46.6" r="1.9"/><circle cx="380.8" cy="65.5" r="1.9"/><circle cx="382" cy="67.9" r="1.9"/><circle cx="381.4" cy="73.8" r="1.9"/></g>
<line x1="377.9" y1="65.5" x2="384.9" y2="65.5" stroke="#231f20" stroke-width="1.1"/>
<line x1="391" y1="63.1" x2="391" y2="77.3" stroke="#16599a" stroke-width="0.9"/>
<line x1="389.8" y1="63.1" x2="392.2" y2="63.1" stroke="#16599a" stroke-width="0.9"/>
<line x1="389.8" y1="77.3" x2="392.2" y2="77.3" stroke="#16599a" stroke-width="0.9"/>
<g fill="#16599a"><circle cx="391" cy="60.8" r="1.9"/><circle cx="391" cy="67.9" r="1.9"/><circle cx="391" cy="70.2" r="1.9"/><circle cx="390.4" cy="76.1" r="1.9"/><circle cx="391.6" cy="77.3" r="1.9"/></g>
<line x1="387.5" y1="70.2" x2="394.5" y2="70.2" stroke="#231f20" stroke-width="1.1"/>
<text transform="translate(323 148.3) rotate(-45)" font-size="7.9" text-anchor="end" fill="#231f20" stroke="#231f20" stroke-width="0.22">Control</text>
<text transform="translate(345.1 148.3) rotate(-45)" font-size="7.9" text-anchor="end" fill="#231f20" stroke="#231f20" stroke-width="0.22">PVchron.UT</text>
<text transform="translate(367.5 148.3) rotate(-45)" font-size="7.9" text-anchor="end" fill="#231f20" stroke="#231f20" stroke-width="0.22">PVchron.HU</text>
<text transform="translate(389.5 148.3) rotate(-45)" font-size="7.9" text-anchor="end" fill="#231f20" stroke="#231f20" stroke-width="0.22">PVprog</text>
<line x1="323.5" y1="20.3" x2="390.4" y2="20.3" stroke="#333" stroke-width="0.9" stroke-dasharray="1.9 2.2"/>
<path d="M389.00 23.75L389.33 24.54L390.19 24.61L389.53 25.17L389.73 26.01L389.00 25.56L388.27 26.01L388.47 25.17L387.81 24.61L388.67 24.54Z" fill="#111"/>
<line x1="323.5" y1="22.3" x2="367" y2="22.3" stroke="#333" stroke-width="0.9" stroke-dasharray="1.9 2.2"/>
<text x="364" y="28.9" font-size="7.2" text-anchor="middle" fill="#231f20" stroke="#231f20" stroke-width="0.22">ns</text>
<line x1="323.5" y1="24.4" x2="343.7" y2="24.4" stroke="#333" stroke-width="0.9" stroke-dasharray="1.9 2.2"/>
<text x="338.9" y="31.3" font-size="7.2" text-anchor="middle" fill="#231f20" stroke="#231f20" stroke-width="0.22">ns</text>
<line x1="315.2" y1="35.2" x2="382.7" y2="35.2" stroke="#333" stroke-width="0.9"/>
<path d="M375.50 38.45L375.83 39.24L376.69 39.31L376.03 39.87L376.23 40.71L375.50 40.26L374.77 40.71L374.97 39.87L374.31 39.31L375.17 39.24ZM378.30 38.45L378.63 39.24L379.49 39.31L378.83 39.87L379.03 40.71L378.30 40.26L377.57 40.71L377.77 39.87L377.11 39.31L377.97 39.24ZM381.10 38.45L381.43 39.24L382.29 39.31L381.63 39.87L381.83 40.71L381.10 40.26L380.37 40.71L380.57 39.87L379.91 39.31L380.77 39.24Z" fill="#111"/>
<line x1="315.2" y1="37.3" x2="359.8" y2="37.3" stroke="#333" stroke-width="0.9"/>
<text x="355.8" y="43.5" font-size="7.2" text-anchor="middle" fill="#231f20" stroke="#231f20" stroke-width="0.22">ns</text>
<line x1="315.2" y1="39.4" x2="336" y2="39.4" stroke="#333" stroke-width="0.9"/>
<path d="M334.20 42.75L334.53 43.54L335.39 43.61L334.73 44.17L334.93 45.01L334.20 44.56L333.47 45.01L333.67 44.17L333.01 43.61L333.87 43.54Z" fill="#111"/>
<text transform="translate(289.5 136.5) rotate(-90)" font-size="8.3" fill="#231f20" stroke-width="0.4" textLength="89" lengthAdjust="spacingAndGlyphs" stroke="#231f20">Z-score log<tspan font-size="5.5" dy="1.5">2</tspan><tspan dy="-1.5">(protein intensity)</tspan></text>
<text x="470.4" y="14.8" font-size="8.4" text-anchor="middle" fill="#231f20" stroke="#231f20" stroke-width="0.22">SOCS2</text>
<line x1="428.4" y1="43.3" x2="428.4" y2="137.8" stroke="#231f20" stroke-width="1"/>
<line x1="427.9" y1="137.3" x2="513" y2="137.3" stroke="#231f20" stroke-width="1"/>
<line x1="424.9" y1="50" x2="428.4" y2="50" stroke="#231f20" stroke-width="1"/>
<text x="421.9" y="52.5" font-size="7.4" text-anchor="end" fill="#231f20" stroke="#231f20" stroke-width="0.22">0</text>
<line x1="424.9" y1="64.5" x2="428.4" y2="64.5" stroke="#231f20" stroke-width="1"/>
<text x="421.9" y="67" font-size="7.4" text-anchor="end" fill="#231f20" stroke="#231f20" stroke-width="0.22">−1</text>
<line x1="424.9" y1="79.1" x2="428.4" y2="79.1" stroke="#231f20" stroke-width="1"/>
<text x="421.9" y="81.6" font-size="7.4" text-anchor="end" fill="#231f20" stroke="#231f20" stroke-width="0.22">−2</text>
<line x1="424.9" y1="93.7" x2="428.4" y2="93.7" stroke="#231f20" stroke-width="1"/>
<text x="421.9" y="96.2" font-size="7.4" text-anchor="end" fill="#231f20" stroke="#231f20" stroke-width="0.22">−3</text>
<line x1="424.9" y1="108.2" x2="428.4" y2="108.2" stroke="#231f20" stroke-width="1"/>
<text x="421.9" y="110.7" font-size="7.4" text-anchor="end" fill="#231f20" stroke="#231f20" stroke-width="0.22">−4</text>
<line x1="424.9" y1="122.8" x2="428.4" y2="122.8" stroke="#231f20" stroke-width="1"/>
<text x="421.9" y="125.2" font-size="7.4" text-anchor="end" fill="#231f20" stroke="#231f20" stroke-width="0.22">−5</text>
<line x1="424.9" y1="137.3" x2="428.4" y2="137.3" stroke="#231f20" stroke-width="1"/>
<text x="421.9" y="139.8" font-size="7.4" text-anchor="end" fill="#231f20" stroke="#231f20" stroke-width="0.22">−6</text>
<line x1="438.8" y1="137.3" x2="438.8" y2="140.5" stroke="#231f20" stroke-width="1"/>
<line x1="461.2" y1="137.3" x2="461.2" y2="140.5" stroke="#231f20" stroke-width="1"/>
<line x1="483.1" y1="137.3" x2="483.1" y2="140.5" stroke="#231f20" stroke-width="1"/>
<line x1="505.5" y1="137.3" x2="505.5" y2="140.5" stroke="#231f20" stroke-width="1"/>
<line x1="428.4" y1="50" x2="513" y2="50" stroke="#8a8a8a" stroke-width="0.7" stroke-dasharray="2 1"/>
<line x1="434" y1="82.7" x2="434" y2="122" stroke="#c8102e" stroke-width="0.9"/>
<line x1="432.8" y1="82.7" x2="435.2" y2="82.7" stroke="#c8102e" stroke-width="0.9"/>
<line x1="432.8" y1="122" x2="435.2" y2="122" stroke="#c8102e" stroke-width="0.9"/>
<g fill="#c8102e"><circle cx="434" cy="82.7" r="1.9"/><circle cx="433.4" cy="90" r="1.9"/><circle cx="434.6" cy="90.7" r="1.9"/><circle cx="434" cy="96.6" r="1.9"/><circle cx="434" cy="116.9" r="1.9"/><circle cx="434" cy="136.6" r="1.9"/></g>
<line x1="430.5" y1="102.4" x2="437.5" y2="102.4" stroke="#231f20" stroke-width="1.1"/>
<line x1="443.6" y1="108.9" x2="443.6" y2="127.8" stroke="#16599a" stroke-width="0.9"/>
<line x1="442.4" y1="108.9" x2="444.8" y2="108.9" stroke="#16599a" stroke-width="0.9"/>
<line x1="442.4" y1="127.8" x2="444.8" y2="127.8" stroke="#16599a" stroke-width="0.9"/>
<g fill="#16599a"><circle cx="443.6" cy="107.5" r="1.9"/><circle cx="443.6" cy="119.1" r="1.9"/><circle cx="443.6" cy="128.6" r="1.9"/></g>
<line x1="440.1" y1="118.4" x2="447.1" y2="118.4" stroke="#231f20" stroke-width="1.1"/>
<line x1="456.4" y1="74.7" x2="456.4" y2="93.7" stroke="#c8102e" stroke-width="0.9"/>
<line x1="455.2" y1="74.7" x2="457.6" y2="74.7" stroke="#c8102e" stroke-width="0.9"/>
<line x1="455.2" y1="93.7" x2="457.6" y2="93.7" stroke="#c8102e" stroke-width="0.9"/>
<g fill="#c8102e"><circle cx="456.4" cy="71.1" r="1.9"/><circle cx="455.8" cy="76.9" r="1.9"/><circle cx="457" cy="77.6" r="1.9"/><circle cx="456.4" cy="86.4" r="1.9"/><circle cx="455.8" cy="95.1" r="1.9"/><circle cx="457" cy="95.8" r="1.9"/></g>
<line x1="452.9" y1="84.2" x2="459.9" y2="84.2" stroke="#231f20" stroke-width="1.1"/>
<line x1="466" y1="81.3" x2="466" y2="103.1" stroke="#16599a" stroke-width="0.9"/>
<line x1="464.8" y1="81.3" x2="467.2" y2="81.3" stroke="#16599a" stroke-width="0.9"/>
<line x1="464.8" y1="103.1" x2="467.2" y2="103.1" stroke="#16599a" stroke-width="0.9"/>
<g fill="#16599a"><circle cx="466" cy="79.1" r="1.9"/><circle cx="466" cy="90" r="1.9"/><circle cx="466" cy="93.7" r="1.9"/><circle cx="466" cy="105.3" r="1.9"/></g>
<line x1="462.5" y1="92.2" x2="469.5" y2="92.2" stroke="#231f20" stroke-width="1.1"/>
<line x1="478.3" y1="73.3" x2="478.3" y2="99.5" stroke="#c8102e" stroke-width="0.9"/>
<line x1="477.1" y1="73.3" x2="479.5" y2="73.3" stroke="#c8102e" stroke-width="0.9"/>
<line x1="477.1" y1="99.5" x2="479.5" y2="99.5" stroke="#c8102e" stroke-width="0.9"/>
<g fill="#c8102e"><circle cx="478.3" cy="75.5" r="1.9"/><circle cx="478.3" cy="83.5" r="1.9"/><circle cx="478.3" cy="100.9" r="1.9"/></g>
<line x1="474.8" y1="86.4" x2="481.8" y2="86.4" stroke="#231f20" stroke-width="1.1"/>
<line x1="487.9" y1="87.1" x2="487.9" y2="106" stroke="#16599a" stroke-width="0.9"/>
<line x1="486.7" y1="87.1" x2="489.1" y2="87.1" stroke="#16599a" stroke-width="0.9"/>
<line x1="486.7" y1="106" x2="489.1" y2="106" stroke="#16599a" stroke-width="0.9"/>
<g fill="#16599a"><circle cx="487.9" cy="89.3" r="1.9"/><circle cx="487.3" cy="90.7" r="1.9"/><circle cx="488.5" cy="92.9" r="1.9"/><circle cx="487.9" cy="109.7" r="1.9"/></g>
<line x1="484.4" y1="96.6" x2="491.4" y2="96.6" stroke="#231f20" stroke-width="1.1"/>
<line x1="500.7" y1="54.4" x2="500.7" y2="83.5" stroke="#c8102e" stroke-width="0.9"/>
<line x1="499.5" y1="54.4" x2="501.9" y2="54.4" stroke="#c8102e" stroke-width="0.9"/>
<line x1="499.5" y1="83.5" x2="501.9" y2="83.5" stroke="#c8102e" stroke-width="0.9"/>
<g fill="#c8102e"><circle cx="500.2" cy="53.6" r="1.9"/><circle cx="501.3" cy="55.1" r="1.9"/><circle cx="500.7" cy="71.1" r="1.9"/><circle cx="500.7" cy="79.1" r="1.9"/><circle cx="500.7" cy="84.9" r="1.9"/></g>
<line x1="497.2" y1="68.9" x2="504.2" y2="68.9" stroke="#231f20" stroke-width="1.1"/>
<line x1="510.3" y1="82" x2="510.3" y2="100.9" stroke="#16599a" stroke-width="0.9"/>
<line x1="509.1" y1="82" x2="511.5" y2="82" stroke="#16599a" stroke-width="0.9"/>
<line x1="509.1" y1="100.9" x2="511.5" y2="100.9" stroke="#16599a" stroke-width="0.9"/>
<g fill="#16599a"><circle cx="510.3" cy="80.6" r="1.9"/><circle cx="509.7" cy="84.9" r="1.9"/><circle cx="510.9" cy="89.3" r="1.9"/><circle cx="509.8" cy="100.2" r="1.9"/><circle cx="510.8" cy="103.1" r="1.9"/></g>
<line x1="506.8" y1="91.5" x2="513.8" y2="91.5" stroke="#231f20" stroke-width="1.1"/>
<text transform="translate(442.1 148.3) rotate(-45)" font-size="7.9" text-anchor="end" fill="#231f20" stroke="#231f20" stroke-width="0.22">Control</text>
<text transform="translate(464.5 148.3) rotate(-45)" font-size="7.9" text-anchor="end" fill="#231f20" stroke="#231f20" stroke-width="0.22">PVchron.UT</text>
<text transform="translate(486.4 148.3) rotate(-45)" font-size="7.9" text-anchor="end" fill="#231f20" stroke="#231f20" stroke-width="0.22">PVchron.HU</text>
<text transform="translate(508.8 148.3) rotate(-45)" font-size="7.9" text-anchor="end" fill="#231f20" stroke="#231f20" stroke-width="0.22">PVprog</text>
<line x1="441.2" y1="20.3" x2="510" y2="20.3" stroke="#333" stroke-width="0.9" stroke-dasharray="1.9 2.2"/>
<text x="506" y="27" font-size="7.2" text-anchor="middle" fill="#231f20" stroke="#231f20" stroke-width="0.22">ns</text>
<line x1="441.2" y1="22.3" x2="487" y2="22.3" stroke="#333" stroke-width="0.9" stroke-dasharray="1.9 2.2"/>
<text x="483.6" y="28.9" font-size="7.2" text-anchor="middle" fill="#231f20" stroke="#231f20" stroke-width="0.22">ns</text>
<line x1="441.2" y1="24.4" x2="462" y2="24.4" stroke="#333" stroke-width="0.9" stroke-dasharray="1.9 2.2"/>
<text x="458.5" y="31.3" font-size="7.2" text-anchor="middle" fill="#231f20" stroke="#231f20" stroke-width="0.22">ns</text>
<line x1="434.8" y1="35.2" x2="502.3" y2="35.2" stroke="#333" stroke-width="0.9"/>
<path d="M495.00 37.55L495.33 38.34L496.19 38.41L495.53 38.97L495.73 39.81L495.00 39.36L494.27 39.81L494.47 38.97L493.81 38.41L494.67 38.34ZM497.80 37.55L498.13 38.34L498.99 38.41L498.33 38.97L498.53 39.81L497.80 39.36L497.07 39.81L497.27 38.97L496.61 38.41L497.47 38.34ZM500.60 37.55L500.93 38.34L501.79 38.41L501.13 38.97L501.33 39.81L500.60 39.36L499.87 39.81L500.07 38.97L499.41 38.41L500.27 38.34Z" fill="#111"/>
<line x1="434.8" y1="37.3" x2="479.3" y2="37.3" stroke="#333" stroke-width="0.9"/>
<text x="475.3" y="43.5" font-size="7.2" text-anchor="middle" fill="#231f20" stroke="#231f20" stroke-width="0.22">ns</text>
<line x1="434.8" y1="39.4" x2="455" y2="39.4" stroke="#333" stroke-width="0.9"/>
<text x="451.3" y="45.7" font-size="7.2" text-anchor="middle" fill="#231f20" stroke="#231f20" stroke-width="0.22">ns</text>
<text transform="translate(408.5 136.5) rotate(-90)" font-size="8.3" fill="#231f20" stroke-width="0.4" textLength="89" lengthAdjust="spacingAndGlyphs" stroke="#231f20">Z-score log<tspan font-size="5.5" dy="1.5">2</tspan><tspan dy="-1.5">(protein intensity)</tspan></text>
<g fill="#c8102e"><circle cx="429.8" cy="187" r="1.9"/></g>
<text x="434.7" y="189.5" font-size="7.4" text-anchor="start" fill="#231f20" stroke="#231f20" stroke-width="0.22">HSC/MPP</text>
<g fill="#16599a"><circle cx="475" cy="187" r="1.9"/></g>
<text x="480.2" y="189.5" font-size="7.4" text-anchor="start" fill="#231f20" stroke="#231f20" stroke-width="0.22">CMP/MEP</text>
<text x="6.9" y="208.5" font-size="10.5" text-anchor="start" fill="#000" font-weight="bold" stroke="#000" stroke-width="0.22">C</text>
<path d="M68.8 259.3h0M38.2 263.0h0M33.3 271.8h0M36.9 275.8h0M56.6 255.3h0M55.9 254.0h0M71.5 275.2h0M70.2 276.5h0M58.9 254.8h0M64.9 288.6h0M54.2 254.6h0M71.0 270.3h0M50.5 257.7h0M25.4 291.4h0M51.8 289.3h0M53.5 288.7h0M58.5 254.2h0M52.6 256.7h0M73.3 257.4h0M36.3 270.1h0M43.0 293.5h0M57.2 255.1h0M27.5 284.4h0M31.8 280.9h0M51.5 293.0h0M37.4 273.4h0M46.0 262.6h0M35.7 276.1h0M62.5 255.5h0M56.7 247.4h0M30.0 279.4h0M28.6 286.4h0M53.3 256.5h0M65.9 258.0h0M50.3 291.3h0M23.6 288.0h0M58.8 250.0h0M64.3 286.4h0M70.9 267.3h0M44.5 265.3h0M70.7 263.9h0M68.4 279.0h0M69.9 260.1h0M35.8 268.8h0M46.8 290.4h0M26.4 293.1h0M66.9 277.4h0M56.7 255.8h0M73.6 266.8h0M69.3 259.5h0M42.5 258.4h0M49.4 289.5h0M69.8 258.3h0M38.0 272.3h0M41.5 292.1h0M56.3 254.6h0M65.1 255.2h0M49.8 289.3h0M63.0 253.5h0M58.0 292.2h0M69.7 274.8h0M39.1 292.4h0M50.3 289.8h0M65.9 283.8h0M29.9 285.5h0M37.3 274.4h0M26.8 288.6h0M39.5 270.0h0M45.2 264.5h0M34.7 276.2h0M69.0 259.4h0M27.1 289.6h0M72.8 259.4h0M28.5 280.1h0M38.8 273.1h0M65.1 255.1h0M30.0 282.0h0M26.8 287.0h0M71.7 264.9h0M51.1 289.5h0M62.5 256.3h0M68.8 280.3h0M26.6 289.0h0M71.5 275.8h0M67.6 281.2h0M56.7 288.9h0M61.3 284.1h0M70.6 258.7h0M72.2 259.7h0M65.4 279.3h0M29.6 283.2h0M71.5 257.2h0M63.7 255.0h0M26.8 288.1h0M67.6 279.2h0M74.7 264.7h0M50.2 260.0h0M49.2 255.6h0M51.1 254.7h0M71.7 248.8h0M48.0 256.5h0M54.8 248.4h0M34.5 278.0h0M40.2 269.8h0M20.8 292.4h0M24.9 290.0h0M25.1 291.0h0M50.6 259.7h0M60.8 252.8h0M65.5 279.5h0M44.1 264.9h0M71.6 272.6h0M36.4 274.5h0M61.4 283.6h0M61.6 254.4h0M31.4 284.3h0M71.9 273.4h0M67.5 258.0h0M73.9 260.2h0M32.5 280.3h0M72.3 269.5h0M53.2 257.2h0M59.5 286.6h0M68.5 277.5h0M55.5 247.7h0M50.5 254.0h0M75.0 268.8h0M61.5 255.3h0M26.1 287.3h0M48.6 291.3h0M57.0 288.5h0M37.2 268.3h0M60.4 283.5h0M44.3 262.9h0M33.4 264.2h0M53.4 290.6h0M28.0 289.5h0M33.4 281.8h0M70.6 273.5h0M68.0 255.0h0M26.6 288.3h0M56.0 288.6h0M38.6 271.0h0M46.5 262.2h0M66.3 254.9h0M32.7 277.6h0M38.8 293.7h0M70.9 255.7h0M34.4 292.5h0M27.4 287.3h0M32.9 278.6h0M79.2 245.6h0M74.4 264.9h0M60.1 251.8h0M76.2 266.9h0M26.1 293.7h0M56.6 287.5h0M36.6 270.4h0M41.0 292.8h0M68.1 256.2h0M42.5 293.0h0M39.3 292.9h0M70.1 258.9h0M68.9 276.7h0M69.0 257.3h0M45.2 260.5h0M52.7 257.0h0M70.7 264.1h0M63.9 281.9h0M43.9 290.9h0M27.7 287.2h0M61.6 253.9h0M62.8 254.0h0M66.7 278.1h0M57.8 252.5h0M60.6 287.4h0M61.7 284.6h0M52.7 256.2h0M32.1 271.0h0M28.5 280.2h0M71.4 269.8h0M70.7 278.6h0M59.0 287.0h0M43.2 266.9h0M61.8 248.8h0M75.6 265.2h0M40.9 270.8h0M36.6 272.1h0M69.4 259.2h0M62.9 253.7h0M45.9 263.4h0M55.9 254.2h0M71.6 280.8h0M70.9 264.0h0M25.5 293.0h0M27.0 288.3h0M74.7 266.7h0M54.3 288.4h0M55.9 286.2h0M68.1 277.0h0M69.4 277.8h0M58.9 285.8h0M72.1 276.3h0M64.1 285.8h0M38.1 273.0h0M60.6 254.3h0M28.4 287.4h0M75.5 262.8h0M41.6 266.8h0M69.5 260.5h0M26.3 293.6h0M66.1 255.0h0M34.7 273.0h0M59.5 286.1h0M61.4 285.4h0M67.2 277.8h0M27.9 287.5h0M29.4 285.9h0M55.9 256.6h0M70.7 288.2h0M53.8 250.4h0M61.2 286.8h0M50.5 289.0h0M57.3 255.9h0M41.6 266.2h0M34.7 274.7h0M69.1 260.0h0M70.8 265.3h0M71.1 271.5h0M64.3 252.7h0M62.5 285.2h0M29.5 293.4h0M65.3 255.8h0M73.0 268.5h0M63.0 256.5h0M63.3 256.1h0M50.6 292.1h0M25.5 293.2h0M36.7 275.3h0M57.8 287.2h0M58.7 255.3h0M69.3 260.1h0M31.9 283.4h0M61.1 252.8h0M64.2 253.4h0M61.6 254.5h0M28.0 284.8h0M39.6 269.9h0M51.6 292.3h0M51.0 257.0h0M47.3 291.7h0M48.3 289.5h0M66.1 257.8h0M28.9 293.5h0M39.4 266.2h0M43.6 293.3h0M68.7 259.1h0M36.1 292.9h0M38.9 273.1h0M70.8 269.2h0M52.2 257.1h0M58.4 288.1h0M42.7 260.5h0M70.7 258.1h0M61.3 255.0h0M74.4 259.0h0M69.4 260.9h0M70.8 269.7h0M33.5 293.0h0M42.6 292.2h0M58.5 288.2h0M71.7 274.4h0M58.6 246.2h0M32.1 293.1h0M72.5 265.2h0M67.0 277.5h0M28.3 286.0h0M73.0 276.6h0M55.5 255.6h0M70.6 270.0h0M53.3 290.4h0M55.4 291.6h0M70.5 259.9h0M67.4 277.8h0M47.5 260.8h0M74.8 264.0h0M30.4 285.6h0M61.1 251.6h0M62.6 284.8h0M45.8 291.0h0M45.6 262.4h0M22.1 292.5h0M66.5 256.7h0M39.7 271.0h0M43.1 260.3h0M36.4 266.9h0M50.5 293.4h0M52.7 255.4h0M56.1 286.8h0M39.5 268.9h0M71.2 263.0h0M70.0 259.5h0M72.5 262.9h0M80.0 264.2h0M56.8 253.0h0M45.5 291.7h0M72.2 274.7h0M36.6 274.8h0M71.4 274.9h0M71.2 273.8h0M40.4 271.2h0M73.4 274.7h0M51.1 257.9h0M32.1 282.0h0M55.6 255.9h0M24.4 292.4h0M63.1 249.4h0M52.0 258.0h0M78.0 265.6h0M69.0 259.9h0M54.9 290.4h0M62.5 253.8h0M34.1 279.1h0M43.0 265.1h0M62.1 286.2h0M71.7 271.5h0M74.5 267.1h0M69.1 284.3h0M71.8 272.7h0M54.7 253.7h0M52.9 254.5h0M70.3 276.7h0M63.2 282.9h0M49.6 291.5h0M71.6 257.4h0M54.0 256.6h0M66.5 257.1h0M76.6 259.8h0M32.4 293.6h0M61.4 284.5h0M31.2 283.8h0M67.6 280.7h0M41.4 267.9h0M69.0 259.1h0M51.9 257.4h0M39.3 271.2h0M68.2 277.5h0M78.0 259.1h0M52.0 256.0h0M44.6 263.7h0M48.1 260.8h0M52.9 256.3h0M50.7 259.2h0M58.3 256.3h0M69.3 261.9h0M67.1 277.6h0M70.5 272.0h0M62.4 285.5h0M53.4 288.9h0M37.5 273.3h0M66.4 280.1h0M71.6 259.4h0M25.7 291.8h0M64.7 254.4h0M31.0 284.6h0M68.3 276.8h0M72.1 258.1h0M45.2 264.5h0M71.9 266.2h0M26.9 290.1h0M65.2 256.3h0M27.6 288.5h0M76.0 270.1h0M58.5 253.5h0M57.4 285.5h0M68.0 258.5h0M46.2 292.5h0M72.3 269.6h0M29.5 285.5h0M60.7 251.5h0M40.3 270.9h0M59.6 255.8h0M57.6 287.0h0M24.7 292.5h0M58.5 247.3h0M66.8 258.3h0M74.7 273.6h0M35.9 292.3h0M50.0 291.4h0M67.8 253.9h0M77.5 261.7h0M36.1 266.5h0M67.5 279.6h0M70.8 271.2h0M28.3 293.1h0M41.4 291.7h0M31.4 282.8h0M65.7 278.8h0M45.1 262.8h0M67.5 278.1h0M53.6 289.6h0M55.9 287.1h0M50.2 259.3h0M65.0 256.5h0M30.6 282.9h0M74.5 259.3h0M60.7 252.4h0M41.6 267.6h0M35.7 270.9h0M31.4 283.1h0M51.0 289.4h0M65.3 279.3h0M66.3 280.2h0M75.9 266.9h0M64.7 256.5h0M67.3 278.4h0M38.5 292.6h0M64.1 257.2h0M68.3 255.3h0M48.4 289.7h0M65.0 279.7h0M61.0 255.0h0M55.0 255.5h0M73.0 270.4h0M50.2 257.8h0M28.9 293.6h0M51.6 290.1h0M70.3 274.9h0M25.0 288.8h0M64.9 282.6h0M40.7 251.9h0M65.4 255.2h0M37.9 263.8h0M63.1 256.2h0M31.3 268.7h0M58.8 286.2h0M73.1 265.1h0M42.7 254.0h0M69.1 275.6h0M24.9 291.8h0M73.0 281.9h0M74.7 270.6h0M26.7 284.5h0M72.8 268.2h0M70.0 263.3h0M53.4 288.2h0M75.0 275.8h0M40.2 267.2h0M50.3 259.5h0M63.1 256.3h0M42.5 268.5h0M26.9 285.4h0M50.5 259.5h0M70.8 271.4h0M64.2 255.5h0M28.0 279.4h0M68.9 277.0h0M68.3 258.5h0M32.0 261.4h0M33.3 280.5h0M51.7 255.0h0M70.9 270.8h0M68.4 255.7h0M70.1 242.5h0M30.1 281.3h0M41.0 291.6h0M43.8 291.4h0M30.3 286.4h0M47.9 291.1h0M28.6 293.5h0M71.3 274.0h0M59.7 254.3h0M58.6 287.1h0M52.2 289.8h0M34.7 292.3h0M33.6 280.2h0M36.7 292.9h0M65.9 257.3h0M64.6 280.8h0M64.8 250.1h0M40.1 271.5h0M33.0 293.6h0M70.5 271.6h0M36.9 275.8h0M50.0 246.6h0M55.0 254.0h0M43.5 292.0h0M67.5 281.7h0M58.0 288.0h0M67.2 279.8h0M56.2 286.8h0M33.8 276.1h0M51.2 291.6h0M82.6 271.7h0M32.4 281.0h0M47.7 292.5h0M53.2 290.2h0M71.4 273.9h0M69.6 282.8h0M37.3 272.5h0M62.3 251.6h0M76.7 266.9h0M54.0 287.5h0M62.5 253.8h0M63.4 257.0h0M57.8 255.5h0M56.1 290.9h0M27.2 285.3h0M42.5 291.3h0M26.3 290.0h0M56.4 289.8h0M70.4 259.7h0M25.7 291.1h0M28.0 287.2h0M64.3 285.0h0M67.4 258.6h0M28.4 285.9h0M66.7 280.6h0M33.8 276.7h0M67.7 256.6h0M66.2 251.7h0M36.4 276.2h0M70.8 277.0h0M24.1 292.3h0M36.9 272.6h0M68.9 256.5h0M27.4 285.4h0M39.3 271.6h0M27.6 282.5h0M57.8 285.7h0M37.1 273.2h0M47.6 261.7h0M70.8 262.4h0M26.5 291.5h0M30.2 284.0h0M51.3 252.2h0M35.4 293.3h0M54.4 292.6h0M47.8 259.7h0M72.3 270.2h0M60.5 256.2h0M71.8 257.0h0M74.2 268.0h0M45.1 262.0h0M69.0 276.1h0M66.9 256.0h0M60.3 285.6h0M52.7 254.3h0M71.0 270.0h0M70.2 274.7h0M73.4 262.6h0M26.0 291.7h0M69.6 275.6h0M69.4 277.6h0M70.8 259.6h0M47.4 262.1h0M73.6 281.6h0M70.2 259.3h0M37.5 265.8h0M65.2 251.1h0M46.2 292.4h0M58.0 251.3h0M75.1 269.1h0M61.8 255.3h0M71.5 250.4h0M70.9 257.9h0M56.1 250.7h0M74.6 275.4h0M38.3 271.0h0M55.7 254.9h0M70.3 263.7h0M49.4 290.1h0M71.9 272.9h0M54.5 252.8h0M39.4 292.5h0M55.5 288.0h0M48.3 262.2h0M68.9 286.3h0M31.4 283.8h0M62.9 255.8h0M56.7 253.6h0M39.4 293.4h0M57.4 256.6h0M60.9 285.2h0M71.1 274.7h0M70.7 271.8h0M71.2 271.7h0M70.9 256.9h0M72.1 261.7h0M71.8 268.1h0M59.2 255.6h0M33.7 293.1h0M43.4 263.0h0M68.1 256.2h0M67.8 250.6h0M31.3 282.5h0M40.6 271.4h0M66.8 278.2h0M46.7 261.9h0M34.9 268.0h0M51.9 253.7h0M53.5 251.7h0M67.9 257.8h0M68.7 254.6h0M31.0 293.1h0M30.6 286.0h0M54.3 288.5h0M69.2 260.9h0M57.8 254.1h0M60.9 252.9h0M50.4 259.9h0M55.8 286.4h0M70.6 273.7h0M72.6 271.5h0M66.1 281.3h0M22.4 292.6h0M55.9 252.6h0M47.5 291.6h0M71.2 263.5h0M72.8 263.9h0M75.8 252.7h0M74.5 268.5h0M62.4 246.8h0M33.8 278.6h0M70.8 279.3h0M71.9 266.5h0M67.3 282.4h0M37.1 268.2h0M49.1 257.7h0M57.6 248.7h0M25.2 291.9h0M71.3 273.6h0M64.0 245.1h0M62.0 286.8h0M50.0 255.7h0M34.8 275.5h0M31.5 292.6h0M27.4 286.2h0M31.0 284.6h0M44.1 262.9h0M28.7 287.3h0M75.8 261.2h0M45.9 290.3h0M29.3 293.2h0M67.1 257.1h0M64.9 252.9h0M72.0 266.6h0M72.5 258.0h0M32.5 282.7h0M34.0 277.1h0M28.3 276.1h0M71.8 264.9h0M24.1 287.8h0M72.6 256.5h0M29.7 276.1h0M74.0 272.3h0M63.8 284.7h0M73.2 274.5h0M52.6 255.5h0M38.9 273.4h0M51.0 254.0h0M66.8 258.5h0M43.3 267.4h0M20.6 289.8h0M50.5 255.1h0M32.4 280.1h0M51.8 255.4h0M62.5 254.7h0M70.7 257.8h0M61.8 282.9h0M72.1 263.9h0M41.5 269.7h0M71.9 263.1h0M68.6 277.4h0M38.8 271.1h0M73.3 268.0h0M70.7 274.6h0M39.1 271.2h0M70.8 266.2h0M63.1 288.3h0M50.7 289.3h0M58.9 285.5h0M71.9 267.6h0M68.5 254.5h0M65.7 280.9h0M71.2 262.9h0M32.8 273.7h0M30.5 293.1h0M55.9 255.1h0M29.8 274.7h0M29.8 286.6h0M72.1 272.7h0M26.6 289.4h0M41.0 270.3h0M72.0 266.5h0M60.0 255.5h0M24.4 292.3h0M55.2 287.6h0M47.1 290.6h0M62.9 282.2h0M26.6 293.5h0M73.9 266.4h0M44.2 265.2h0M77.4 266.5h0M55.1 289.2h0M72.8 272.4h0M58.6 253.5h0M40.8 292.0h0M72.8 266.4h0M31.5 283.4h0M35.5 275.0h0M52.6 250.8h0M69.5 260.6h0M24.3 264.9h0M34.6 273.1h0M70.9 262.8h0M69.2 252.7h0M29.9 286.9h0M55.2 256.9h0M77.0 268.3h0M55.9 288.7h0M53.3 253.4h0M55.5 248.3h0M51.7 289.8h0M54.4 253.9h0M55.1 288.5h0M25.9 292.3h0M46.8 259.5h0M22.1 290.4h0M71.2 269.6h0M57.4 251.7h0M29.5 284.0h0M57.5 249.8h0M31.2 270.6h0M56.6 286.2h0M69.8 276.1h0M72.7 264.9h0M70.4 260.3h0M43.7 259.1h0M70.0 272.6h0M36.2 292.9h0M66.1 251.2h0M70.6 275.2h0M53.6 287.8h0M66.1 278.1h0M30.3 283.8h0M28.7 284.7h0M48.4 261.9h0M53.3 254.1h0M54.3 288.6h0M71.3 263.2h0M38.7 272.6h0M25.2 290.1h0M69.7 254.7h0M29.6 293.6h0M73.2 272.6h0M32.4 281.6h0M83.3 259.3h0M46.4 262.7h0M26.8 287.5h0M66.2 257.1h0M35.6 293.1h0M45.5 259.4h0M72.0 268.6h0M56.4 253.2h0M71.2 271.4h0M72.3 264.8h0M67.6 277.7h0M73.8 259.0h0M67.1 256.0h0M44.3 290.4h0M72.4 266.6h0M28.4 280.5h0M44.0 263.2h0M72.0 263.0h0M68.8 277.5h0M52.8 254.6h0M34.8 274.6h0M71.0 270.6h0M71.2 274.7h0M68.8 276.9h0M47.7 263.2h0M38.7 262.9h0M28.7 282.6h0M69.7 257.7h0M79.7 272.2h0M61.0 247.7h0M29.8 284.1h0M53.3 287.9h0M52.1 257.3h0M66.6 281.7h0M73.9 264.6h0M27.4 283.7h0M62.4 254.4h0M49.0 261.5h0M34.6 293.0h0M34.4 279.7h0M71.3 269.5h0M49.3 259.9h0M32.4 281.1h0M54.0 254.7h0M49.9 258.8h0M67.5 258.3h0M42.1 291.8h0M73.4 261.6h0M37.1 272.2h0M73.9 281.9h0M59.6 292.1h0M47.5 251.9h0M55.8 256.5h0M59.3 255.2h0M73.7 263.7h0M69.8 278.7h0M52.9 291.0h0M72.3 264.0h0M29.0 286.7h0M73.6 275.1h0M60.2 250.5h0M34.3 293.4h0M25.4 274.5h0M56.1 288.5h0M32.9 281.0h0M37.2 269.9h0M70.3 261.6h0M79.4 277.1h0M33.7 276.9h0M68.5 282.1h0M31.6 281.9h0M31.9 260.0h0M69.4 276.0h0M25.5 292.5h0M42.8 266.2h0M37.8 274.0h0M53.8 292.3h0M22.3 291.9h0M31.5 283.9h0M48.8 258.5h0M70.7 269.0h0M29.4 287.6h0M52.3 247.1h0M27.0 285.3h0M57.3 254.9h0M67.3 279.4h0M54.7 290.0h0M45.8 262.9h0M43.3 263.0h0M41.4 269.3h0M50.3 293.1h0M31.8 292.6h0M64.5 280.5h0M75.9 266.5h0M66.2 255.0h0M72.0 259.8h0M24.4 292.7h0M42.6 268.5h0M53.9 255.5h0M49.5 257.1h0M31.9 282.3h0M40.5 269.4h0M58.3 252.9h0M69.7 257.9h0M54.1 292.2h0M70.6 277.3h0M64.9 255.0h0M71.5 268.9h0M58.1 287.4h0M69.3 257.8h0M38.9 269.4h0M71.3 274.3h0M61.4 254.8h0M72.6 275.3h0M79.1 271.0h0M45.5 291.7h0M68.5 257.7h0M65.6 257.2h0M36.0 292.9h0M71.9 270.0h0M35.6 293.7h0M63.0 255.2h0M31.9 292.5h0M47.4 260.7h0M42.8 259.7h0M56.0 255.8h0M70.4 278.3h0M63.5 252.3h0M52.2 253.1h0M28.9 287.3h0M46.0 261.6h0M62.9 253.9h0M33.3 292.6h0M43.8 291.3h0M68.1 281.9h0M54.9 256.1h0M91.4 266.5h0M83.5 256.5h0M55.8 252.1h0M71.4 244.1h0M66.3 250.3h0M60.4 252.4h0M92.9 230.8h0M75.9 258.4h0M71.6 261.1h0M82.9 255.3h0M55.3 248.8h0M74.1 253.0h0M70.6 244.3h0M87.5 264.8h0M74.3 243.6h0M96.7 255.7h0M82.1 249.8h0M64.3 283.0h0M85.6 260.0h0M84.9 283.1h0M66.7 284.7h0M81.0 257.0h0M84.0 264.5h0M66.3 241.2h0M81.7 264.2h0M89.6 252.6h0M85.5 234.4h0M75.3 264.0h0M89.4 249.6h0M83.4 234.8h0M74.1 240.5h0M83.0 256.6h0M79.4 254.6h0M93.5 238.3h0M66.9 229.4h0M75.5 273.5h0M85.9 244.3h0M83.1 244.8h0M75.3 260.0h0M73.2 260.4h0M89.7 264.1h0M96.3 256.7h0M87.5 261.9h0M83.0 250.1h0M83.7 241.1h0M84.7 279.9h0M93.2 255.3h0M84.5 262.2h0M75.4 259.9h0M70.8 265.1h0M87.7 233.6h0M49.9 260.4h0M54.8 250.9h0M60.1 240.2h0M86.1 242.4h0M71.1 251.8h0M85.9 252.1h0M79.0 247.2h0M81.6 277.3h0M86.2 263.1h0M71.6 250.5h0M69.9 273.5h0M79.4 227.9h0M72.8 272.6h0M83.5 274.9h0M79.1 258.6h0M74.6 265.2h0M76.0 261.5h0M85.2 230.7h0M91.8 260.1h0M90.8 239.9h0M89.3 245.3h0M90.2 261.9h0M83.3 265.0h0M76.5 250.3h0M95.4 271.2h0M58.4 250.5h0M78.3 277.8h0M94.3 250.5h0M80.2 255.7h0M90.5 253.3h0M53.1 245.2h0M80.2 240.8h0M85.0 251.2h0M85.4 261.6h0M88.9 267.8h0M79.7 248.9h0M84.4 249.3h0M68.4 287.8h0M77.1 255.1h0M65.8 257.6h0M70.0 254.0h0M80.9 264.1h0M72.4 247.7h0M78.1 259.2h0M51.9 246.5h0M95.2 238.7h0M70.0 244.2h0M63.7 257.1h0M71.4 245.1h0M69.6 244.3h0M71.7 244.3h0M94.4 243.8h0M94.1 235.1h0M79.7 229.7h0M94.3 244.7h0M70.6 239.3h0M89.9 258.4h0M73.5 255.7h0M74.6 264.8h0M86.7 259.4h0M88.7 238.6h0M84.7 259.1h0M86.0 235.4h0M79.1 265.7h0M93.2 252.5h0M80.2 259.2h0M82.9 258.4h0M85.6 241.1h0M87.5 243.5h0M94.8 246.2h0M60.4 255.6h0M67.8 250.1h0M75.7 271.0h0M87.2 270.4h0M93.2 247.4h0M68.8 239.6h0M71.0 241.5h0M82.9 250.8h0M78.4 248.7h0M77.9 249.8h0M90.7 251.5h0M69.6 252.4h0M88.4 250.6h0M69.4 239.9h0M89.3 244.6h0M79.9 254.0h0M93.1 240.7h0M75.2 270.8h0M96.3 257.2h0M75.1 259.9h0M95.8 258.0h0M86.8 242.1h0M96.1 248.2h0M76.9 263.0h0M55.7 253.5h0M77.0 269.6h0M77.1 266.3h0M83.9 260.5h0M74.4 263.8h0M91.8 246.0h0M95.5 261.5h0M81.9 275.5h0M82.2 271.6h0M37.7 247.3h0M75.5 264.6h0M92.9 242.0h0M74.8 238.1h0M77.3 262.7h0M73.2 259.5h0M69.1 253.2h0M77.2 260.1h0M56.9 245.2h0M85.7 252.6h0M74.1 257.0h0M80.4 246.0h0M76.4 266.3h0M80.0 247.3h0M69.2 260.2h0M65.5 245.6h0M92.7 251.3h0M93.6 250.8h0M76.2 243.8h0M63.8 249.6h0M81.2 250.9h0M87.0 245.3h0M86.7 234.6h0M78.3 262.6h0M81.7 274.7h0M92.0 255.1h0M79.5 232.1h0M72.3 276.6h0M62.7 251.7h0M69.6 253.7h0M91.3 269.0h0M96.1 228.2h0M98.2 238.3h0M75.2 257.5h0M70.3 245.9h0M98.1 231.5h0M84.8 237.6h0M73.0 284.0h0M70.8 254.5h0M81.6 257.2h0M75.9 246.1h0M66.0 246.1h0M84.4 228.9h0M71.2 258.0h0M96.8 261.8h0M66.7 254.2h0M83.1 269.4h0M70.4 247.6h0M71.8 256.2h0M71.9 244.9h0M91.5 250.2h0M67.4 228.3h0M75.4 246.6h0M95.7 228.0h0M83.6 263.6h0M76.9 266.3h0M72.9 266.9h0M77.5 260.4h0M73.7 258.2h0M72.2 244.1h0M74.7 256.6h0M79.3 266.0h0M97.3 251.9h0M90.7 254.6h0M85.5 251.9h0M80.4 272.2h0M65.9 248.2h0M52.4 256.4h0M80.9 282.4h0M82.6 258.8h0M64.6 248.8h0M70.4 255.0h0M85.6 256.2h0M63.1 254.1h0M69.6 238.2h0M79.4 260.4h0M72.1 259.1h0M97.5 253.9h0M82.2 268.9h0M88.6 265.1h0M68.7 255.6h0M77.4 254.2h0M85.9 269.6h0M88.7 261.2h0M79.8 242.4h0M95.0 248.0h0M97.6 240.7h0M75.6 255.2h0M71.7 248.5h0M67.3 258.8h0M67.0 257.0h0M74.0 250.7h0M77.7 271.8h0M54.2 253.2h0M94.6 256.7h0M75.9 265.7h0M75.2 230.7h0M98.5 250.3h0M78.0 260.6h0M84.6 223.7h0M81.9 264.9h0M89.5 257.2h0M83.9 265.3h0M63.5 285.7h0M35.9 272.1h0M68.0 243.9h0M82.2 255.4h0M72.1 251.4h0M36.6 275.6h0M79.0 253.1h0M92.8 253.6h0M66.4 250.6h0M74.7 228.8h0M71.9 252.9h0M72.9 267.6h0M71.4 270.7h0M71.0 243.5h0M73.6 272.9h0M73.1 254.8h0M91.0 249.3h0M63.8 252.3h0M73.5 237.0h0M92.2 242.4h0M77.8 245.9h0M67.1 256.9h0M63.4 253.5h0M89.5 256.8h0M77.7 249.0h0M63.1 254.5h0M87.1 268.1h0M72.1 250.3h0M63.9 255.2h0M80.0 264.0h0M85.0 290.3h0M68.8 257.7h0M96.7 265.1h0M82.4 241.6h0M93.4 260.3h0M69.5 250.4h0M80.8 277.6h0M36.2 268.7h0M96.3 239.4h0M59.7 245.9h0M98.1 245.4h0M70.6 259.8h0M65.3 252.9h0M75.6 247.1h0M93.1 250.5h0M81.0 264.2h0M89.9 260.4h0M87.6 264.6h0M81.0 251.8h0M70.2 272.4h0M95.9 255.5h0M85.2 248.3h0M67.3 254.6h0M65.6 255.8h0M77.5 259.9h0M85.2 254.6h0M90.0 256.5h0M96.1 271.3h0M82.3 247.0h0M90.4 241.8h0M74.6 237.3h0M74.8 259.5h0M63.5 254.1h0M64.6 288.6h0M93.7 250.9h0M79.7 270.0h0M73.6 245.7h0M82.1 248.2h0M84.6 232.7h0M65.0 247.6h0M75.2 263.8h0M63.2 242.3h0M84.0 251.2h0M79.7 259.5h0M86.2 253.1h0M73.8 264.5h0M69.3 241.0h0M91.9 265.5h0M95.2 244.4h0M75.5 258.9h0M81.5 247.7h0M92.8 242.5h0M85.1 247.9h0M85.7 250.1h0M77.4 260.2h0M73.9 259.5h0M70.6 254.7h0M93.7 255.0h0M81.8 252.9h0M72.6 253.6h0M93.6 243.8h0M68.3 248.3h0M86.1 271.6h0M94.0 256.2h0M90.4 249.5h0M81.4 250.6h0M92.8 246.2h0M73.2 260.6h0M94.9 238.6h0M78.7 256.3h0M79.2 266.4h0M91.2 279.9h0M75.9 272.5h0M85.3 255.2h0M76.2 273.1h0M97.2 243.8h0M86.2 259.0h0M83.5 244.0h0M94.8 243.9h0M89.3 251.7h0M76.6 252.6h0M75.2 263.2h0M84.0 259.7h0M69.9 236.7h0M72.5 246.3h0M79.6 253.4h0M81.0 267.1h0M86.2 253.5h0M85.5 256.3h0M89.8 253.9h0M62.7 240.3h0M74.9 272.7h0M89.1 254.9h0M71.4 247.9h0M66.7 247.9h0M52.2 239.2h0M58.8 252.7h0M74.1 240.2h0M97.3 242.6h0M61.9 283.3h0M90.0 252.9h0M88.4 257.5h0M92.5 247.2h0M81.8 251.9h0M84.0 240.9h0M51.0 252.2h0M80.7 274.0h0M73.9 269.5h0M70.4 254.0h0M74.4 244.4h0M65.9 252.8h0M67.0 255.4h0M78.5 248.3h0M81.1 260.6h0M67.5 249.9h0M84.0 252.1h0M89.3 263.8h0M90.9 242.7h0M73.0 244.2h0M80.1 257.0h0M60.9 238.2h0M79.0 286.9h0M77.6 250.1h0M86.7 244.5h0M58.9 253.3h0M43.7 293.5h0M44.4 262.3h0M79.1 260.1h0M89.5 239.3h0M91.5 258.2h0M73.0 262.5h0M67.7 236.2h0M76.4 273.6h0M97.5 260.9h0M82.7 262.6h0M72.0 258.1h0M92.4 263.6h0M72.4 258.2h0M71.1 276.3h0M84.2 255.9h0M84.1 266.2h0M84.2 267.1h0M73.4 269.5h0M75.6 244.4h0M78.6 262.2h0M72.5 264.6h0M68.8 276.8h0M74.5 261.0h0M79.5 256.9h0M81.9 235.5h0M85.1 268.7h0M69.4 277.8h0M77.5 257.8h0M80.1 273.3h0M78.8 237.9h0M93.2 250.8h0M86.8 258.0h0M84.9 249.2h0M87.8 238.3h0M63.6 291.1h0M64.1 251.1h0M76.7 246.3h0M91.0 275.2h0M79.9 240.8h0M95.3 252.1h0M85.6 252.5h0M82.0 272.9h0M76.0 257.4h0M79.7 245.6h0M85.0 258.5h0M94.5 272.6h0M98.4 253.0h0M80.9 258.4h0M75.5 260.3h0M94.4 240.0h0M80.7 265.2h0M95.5 239.7h0M91.7 248.4h0M96.0 254.0h0M66.7 254.9h0M49.7 252.8h0M87.3 254.3h0M60.5 253.8h0M84.0 260.9h0M82.3 255.8h0M69.0 243.6h0M84.9 270.6h0M73.5 255.6h0M77.2 253.7h0M97.5 255.6h0M93.2 253.7h0M82.5 243.8h0M96.1 262.8h0M67.3 283.2h0M88.7 239.2h0M49.5 261.3h0M72.9 265.3h0M80.6 246.6h0M88.6 265.7h0M90.2 267.5h0M74.7 254.0h0M77.4 288.8h0M58.6 244.3h0M75.4 258.7h0M94.3 268.5h0M81.5 268.6h0M73.5 246.2h0M76.9 228.3h0M85.5 249.5h0M71.0 247.9h0M75.7 260.0h0M82.2 261.9h0M89.0 264.8h0M89.5 255.2h0M70.9 277.6h0M88.1 251.2h0M91.0 261.4h0M74.9 275.6h0M62.1 249.5h0M79.9 243.3h0M90.1 262.8h0M61.3 253.5h0M98.3 244.0h0M84.7 237.3h0M82.2 242.8h0M89.0 242.0h0M59.3 247.3h0M74.9 244.7h0M76.0 263.6h0M66.7 253.5h0M68.5 233.0h0M77.1 249.1h0M66.1 254.9h0M74.8 256.7h0M81.6 278.5h0M62.9 251.5h0M88.8 274.3h0M97.8 263.0h0M80.2 269.0h0M80.5 262.9h0M67.2 253.5h0M78.2 262.3h0M76.3 262.3h0M87.2 264.0h0M76.9 262.3h0M83.6 261.5h0M80.2 241.9h0M79.6 258.0h0M91.3 267.0h0M72.0 276.5h0M62.2 287.5h0M86.1 263.5h0M72.7 277.5h0M68.8 257.4h0M70.9 225.0h0M83.5 263.4h0M87.9 242.2h0M76.8 251.5h0M74.2 233.8h0M88.0 249.6h0M98.3 239.3h0M84.6 242.9h0M89.7 227.5h0M69.1 277.9h0M75.8 255.5h0M74.7 251.6h0M95.6 229.0h0M72.1 254.5h0M62.7 240.6h0M96.9 235.2h0M91.6 263.4h0M67.5 254.4h0M86.1 248.6h0M71.3 267.5h0M93.4 243.0h0M82.2 236.2h0M78.2 259.1h0M58.1 244.1h0M77.6 236.6h0M58.9 249.2h0M94.1 253.3h0M94.2 261.8h0M78.9 264.5h0M95.6 249.6h0M83.2 269.6h0M71.3 253.8h0M73.4 265.7h0M75.6 242.1h0M60.9 251.3h0M86.7 239.8h0M70.1 263.6h0M65.1 256.4h0M95.6 261.5h0M95.1 239.5h0M81.5 259.9h0M75.3 230.0h0M65.7 280.6h0M78.3 270.4h0M71.9 247.7h0M90.3 251.7h0M81.9 242.3h0M74.4 249.5h0M78.4 256.2h0M95.6 248.7h0M70.4 242.1h0M73.6 254.1h0M83.1 263.2h0M67.2 246.7h0M89.8 255.2h0M79.0 229.4h0M77.4 251.5h0M74.6 250.3h0M84.2 251.4h0M85.1 247.0h0M60.1 242.7h0M88.6 274.9h0M72.4 235.1h0M83.7 249.4h0M97.5 242.1h0M79.0 272.0h0M76.7 222.4h0M78.3 248.3h0M83.0 270.0h0M65.8 255.9h0M74.7 255.7h0M93.5 263.4h0M71.1 276.2h0M76.5 253.2h0M82.7 268.6h0M93.9 236.1h0M82.6 259.7h0M72.2 259.1h0M88.2 240.4h0M84.2 283.7h0M92.3 242.7h0M75.0 231.3h0M71.1 271.1h0M63.4 245.7h0M71.4 263.8h0M91.0 254.7h0M86.2 251.2h0M65.2 238.8h0M72.7 275.2h0M84.7 282.3h0M60.7 239.7h0M74.4 235.1h0M71.6 269.2h0M70.8 256.5h0M72.1 248.7h0M80.5 250.2h0M72.7 256.1h0M85.3 243.6h0M64.3 249.5h0M85.5 266.0h0M81.5 261.0h0M87.5 254.5h0M61.0 250.4h0M50.1 259.8h0M86.9 248.7h0M87.0 271.1h0M78.8 240.7h0M68.0 256.4h0M73.9 250.3h0M86.3 262.4h0M70.5 264.0h0M87.0 239.0h0M92.2 233.0h0M72.2 255.1h0M77.2 268.2h0M74.1 243.7h0M81.8 238.3h0M79.4 270.8h0M77.5 244.0h0M89.9 231.8h0M80.9 253.0h0M80.8 270.9h0M68.4 248.6h0M33.3 281.5h0M53.3 240.5h0M73.4 261.9h0M81.1 263.4h0M83.5 275.3h0M78.1 267.5h0M51.5 253.1h0M72.3 256.6h0M73.5 278.4h0M83.4 250.0h0M81.8 266.3h0M71.3 269.7h0M84.4 251.1h0M87.4 239.6h0M63.1 256.6h0M71.7 267.3h0M66.9 248.0h0M69.6 254.8h0M76.6 247.9h0M66.9 254.8h0M92.2 250.3h0M43.0 263.1h0M62.8 238.2h0M69.8 254.0h0M79.5 278.2h0M47.9 254.1h0M63.0 237.7h0M61.1 248.1h0M82.3 250.4h0M73.9 253.6h0M82.0 250.2h0M80.4 290.5h0M98.5 258.7h0M82.8 262.8h0M80.0 264.7h0M89.0 244.5h0M74.2 266.5h0M72.8 263.2h0M84.5 260.4h0M90.7 250.1h0M93.2 267.7h0M94.2 248.8h0M94.4 245.7h0M81.8 256.9h0M64.9 257.4h0M63.0 283.8h0M79.2 259.3h0M90.7 244.9h0M65.8 252.3h0M77.8 264.9h0M84.5 246.2h0M89.3 256.0h0M84.9 230.9h0M81.8 249.6h0M76.2 265.3h0M74.3 267.7h0M73.1 241.1h0M71.7 257.4h0M95.7 240.7h0M77.2 267.7h0M92.7 261.1h0M74.3 244.6h0M81.7 269.0h0M94.0 220.3h0M93.2 257.8h0M89.1 250.2h0M63.1 236.7h0M76.6 269.7h0M74.4 245.5h0M84.1 245.3h0M94.0 260.3h0M91.7 249.3h0M69.1 243.7h0M90.9 240.0h0M83.3 258.3h0M96.4 253.8h0M56.8 244.2h0M78.0 257.2h0M92.5 276.8h0M77.4 255.9h0M77.2 263.4h0M57.9 254.3h0M79.8 236.2h0M81.2 243.3h0M92.2 247.8h0M97.1 254.0h0M70.7 254.7h0M81.9 239.6h0M72.9 260.3h0M96.1 252.6h0M75.7 265.1h0M68.9 246.3h0M65.6 285.9h0M55.9 241.2h0M62.8 253.4h0M82.4 246.4h0M74.8 266.9h0M79.4 258.4h0M83.7 265.7h0M71.7 282.1h0M80.6 262.3h0M72.5 269.9h0M69.3 253.8h0M72.2 258.8h0M76.7 249.2h0M83.0 266.4h0M66.6 235.5h0M85.2 266.7h0M78.2 242.9h0M72.2 254.9h0M61.1 251.4h0M76.5 266.8h0M75.8 247.0h0M85.6 235.3h0M70.5 255.1h0M91.6 248.4h0M55.5 249.2h0M93.4 223.9h0M84.3 261.4h0M89.4 249.0h0M65.0 280.6h0M56.7 240.4h0M64.6 224.5h0M93.9 241.5h0M68.6 232.8h0M81.2 250.9h0M89.8 225.6h0M73.5 265.1h0M71.1 279.9h0M80.0 252.8h0M84.8 244.6h0M87.1 246.8h0M83.7 261.9h0M69.4 244.0h0M94.7 259.1h0M77.3 238.7h0M45.3 265.6h0M91.3 237.8h0M64.0 241.7h0M94.4 258.6h0M83.6 250.0h0M76.0 240.1h0M59.7 245.3h0M60.0 243.8h0M86.0 257.5h0M81.0 242.0h0M50.4 260.0h0M81.3 250.6h0M77.7 252.2h0M75.8 243.4h0M88.2 254.8h0M22.2 279.0h0M33.8 250.3h0M28.5 273.6h0M90.0 248.2h0M57.9 229.1h0M57.1 233.6h0M55.4 233.0h0M77.8 282.3h0M71.1 288.0h0M98.3 223.8h0M34.7 258.6h0M57.6 253.8h0M70.3 278.7h0M82.3 278.1h0M59.9 222.7h0M87.8 220.2h0M45.3 238.6h0M65.5 254.8h0M88.1 253.0h0M83.9 231.1h0M35.7 234.7h0M75.3 254.6h0M45.7 247.6h0M69.0 283.5h0M26.8 243.9h0M93.1 247.1h0M87.0 243.0h0M32.4 243.4h0M50.7 238.1h0M95.4 246.8h0M44.9 291.6h0M62.9 281.8h0M67.5 250.8h0M92.7 218.5h0M84.8 287.8h0M94.1 258.7h0M92.2 231.4h0M93.3 226.4h0M81.8 237.7h0M84.5 250.3h0M81.3 252.5h0M78.8 253.9h0M79.4 264.3h0M86.3 232.9h0M87.0 251.4h0M71.3 263.6h0M75.0 257.0h0M82.5 243.8h0M79.3 261.0h0M79.7 252.9h0M87.7 234.2h0M88.1 248.4h0M82.6 251.3h0M95.6 259.2h0M68.8 244.6h0M78.3 233.9h0M69.7 252.7h0M79.7 265.1h0M98.1 240.9h0M69.2 232.6h0M69.3 256.0h0M89.6 232.6h0M82.5 234.6h0M61.4 243.0h0M74.7 251.7h0M70.8 251.7h0M79.9 256.4h0M86.0 245.5h0M71.8 238.9h0M90.5 227.3h0M64.7 244.2h0M89.8 232.3h0M87.6 247.4h0M93.2 259.4h0M96.1 241.0h0M90.6 236.3h0M62.6 230.0h0M81.5 261.6h0M73.3 238.2h0M71.9 249.1h0M77.7 251.5h0M91.9 263.4h0M83.6 252.0h0M93.4 234.3h0M75.9 229.9h0M63.2 238.6h0M73.3 240.0h0M76.8 250.2h0M69.3 229.7h0M66.7 257.9h0M71.8 250.6h0M65.2 239.3h0M87.5 231.3h0M74.1 259.6h0M86.6 259.6h0M71.6 242.1h0M87.2 242.0h0M72.6 257.0h0M66.9 241.6h0M97.6 246.5h0M66.6 227.6h0M92.8 237.3h0M97.1 251.7h0M90.3 265.1h0M65.2 252.8h0M79.2 235.3h0M61.4 229.8h0M97.4 241.6h0M98.0 232.3h0M84.8 252.3h0M84.2 242.1h0M84.2 238.7h0M77.8 262.0h0M93.4 256.9h0M91.7 237.7h0M96.3 261.3h0M86.0 238.7h0M63.7 286.9h0M52.6 289.1h0M64.9 282.4h0M65.0 287.6h0M54.0 289.9h0M60.9 285.7h0M59.9 288.0h0M71.7 267.2h0M72.0 266.9h0M52.2 289.3h0M68.2 276.0h0M80.4 273.6h0M57.2 289.2h0M70.4 280.3h0M59.4 287.3h0M69.0 280.0h0M67.4 278.0h0M65.6 281.2h0M70.7 277.6h0M72.0 271.7h0M55.6 291.1h0M61.8 282.9h0M75.5 282.4h0M80.1 265.6h0M75.9 275.3h0M64.9 279.9h0M69.9 275.2h0M67.7 283.6h0M62.4 282.0h0M73.4 264.9h0M74.3 277.2h0M73.2 276.0h0M75.1 268.4h0M77.5 271.4h0M70.7 271.9h0M59.0 284.9h0M58.9 286.2h0M71.9 271.1h0M71.6 278.5h0M75.5 273.1h0M68.5 280.7h0M53.1 288.2h0M61.7 282.7h0M53.5 288.6h0M70.5 273.0h0M62.6 290.7h0M52.1 290.5h0M69.4 275.0h0M73.6 281.5h0M52.6 289.1h0M71.4 270.1h0M67.1 277.3h0M70.1 274.0h0M54.3 288.1h0M64.8 285.1h0M70.5 274.3h0M51.9 290.3h0M69.3 275.8h0M73.1 266.3h0M73.8 267.7h0M56.0 287.3h0M52.6 288.5h0M73.8 275.4h0M56.5 288.8h0M55.6 288.9h0M57.3 288.1h0M61.3 284.8h0M69.2 280.6h0M60.7 284.5h0M66.1 279.6h0M59.5 287.9h0M67.9 277.7h0M52.9 288.9h0M64.9 281.7h0M72.5 265.9h0M54.0 288.5h0M60.3 283.8h0M71.0 268.9h0M69.8 275.6h0M83.5 269.1h0M68.6 277.0h0M57.4 287.0h0M54.1 289.3h0M66.1 280.9h0M73.8 267.4h0M51.3 290.0h0M74.2 275.6h0M72.0 272.2h0M74.1 274.5h0M69.2 278.8h0M68.2 280.3h0M68.7 276.4h0M62.7 282.1h0M72.4 265.8h0M54.1 289.3h0M58.6 287.1h0M73.2 271.0h0M70.2 276.3h0M72.8 272.2h0M66.2 278.9h0M56.1 286.6h0M55.5 293.6h0M76.9 269.9h0M74.4 275.0h0M72.5 270.5h0M63.2 281.5h0M74.1 266.3h0M54.8 288.2h0M56.0 286.9h0M55.1 287.5h0M69.9 279.3h0M69.8 283.3h0M62.4 286.4h0M62.7 288.9h0M56.8 290.4h0M71.1 272.4h0M66.6 279.1h0M71.4 269.8h0M65.4 280.9h0M71.7 268.9h0M66.3 279.2h0M70.1 273.6h0M52.4 289.9h0M71.2 271.7h0M62.6 285.9h0M74.5 273.7h0M71.9 266.8h0M72.2 280.1h0M72.1 270.2h0M74.0 267.2h0M54.4 289.9h0M58.4 285.3h0M62.1 288.8h0M83.0 267.0h0M54.1 289.2h0M71.6 282.6h0M76.6 280.8h0M76.7 275.6h0M60.0 286.4h0M62.6 282.4h0M69.5 276.8h0M65.5 280.3h0M72.9 276.7h0M51.0 291.0h0M76.1 267.0h0M56.7 291.9h0M71.5 273.7h0M70.1 271.9h0M59.2 286.0h0M77.2 276.3h0M59.4 286.7h0M61.7 283.2h0M57.7 285.6h0M68.1 276.3h0M67.4 279.1h0M56.0 289.4h0M73.9 266.7h0M56.4 287.5h0M68.6 276.0h0M60.3 287.8h0M60.7 283.2h0M70.3 288.4h0M68.3 276.6h0M67.7 281.0h0M71.5 276.2h0M70.7 271.5h0M72.0 273.1h0M60.2 290.0h0M60.2 288.3h0M72.3 269.3h0M71.0 278.2h0M68.3 290.6h0M52.8 289.2h0M72.6 268.5h0M66.1 279.4h0M76.6 268.8h0M69.1 282.9h0M54.2 288.3h0M66.2 281.6h0M68.5 276.2h0M60.6 286.7h0M73.3 277.2h0M73.3 267.4h0M73.0 281.7h0M73.8 267.8h0M72.2 266.2h0M70.9 272.8h0M55.2 287.4h0M73.2 264.3h0M64.4 287.1h0M70.4 269.4h0M59.0 284.6h0M73.3 268.4h0M56.2 287.5h0M52.4 289.4h0M73.3 273.1h0M67.4 277.8h0M66.9 280.3h0M69.7 276.9h0M60.5 285.7h0M66.2 280.4h0M55.3 288.0h0M65.2 284.4h0M70.7 270.5h0M53.2 291.2h0M65.1 280.0h0M92.9 251.5h0M79.2 279.8h0M64.3 282.5h0M67.4 278.3h0M73.5 264.9h0M59.1 285.3h0M62.8 281.9h0M72.9 270.2h0M64.9 285.6h0M69.1 276.1h0M71.1 268.2h0M69.0 275.8h0M62.2 286.0h0M72.6 271.1h0M67.7 279.1h0M69.7 275.6h0M74.9 264.7h0M72.0 274.5h0M64.2 281.8h0M74.5 267.0h0M70.0 275.7h0M71.8 277.7h0M60.1 283.7h0M51.6 290.2h0M71.9 266.4h0M86.2 282.6h0M52.4 289.7h0M68.3 276.2h0M68.5 278.5h0M50.3 293.8h0M66.9 280.0h0M72.5 265.5h0M66.3 278.6h0M65.4 285.2h0M52.7 289.5h0M71.7 270.1h0M71.4 275.2h0M60.2 285.0h0M73.3 273.2h0M56.0 291.1h0M55.3 287.7h0M56.9 286.7h0M78.9 273.1h0M64.5 290.1h0M77.0 263.5h0M69.9 277.4h0M71.8 274.4h0M60.9 285.1h0M67.5 282.2h0M68.2 285.8h0M68.7 276.8h0M73.7 265.7h0M77.6 265.1h0M65.2 279.9h0M53.6 292.0h0M52.3 288.6h0M70.6 285.0h0M63.9 283.0h0M52.0 291.1h0M71.4 269.7h0M77.9 267.3h0M72.5 276.8h0M74.6 274.6h0M51.6 291.8h0M59.0 291.3h0M71.6 272.5h0M76.5 272.7h0M71.4 277.5h0M54.5 287.8h0M71.1 271.6h0M59.5 286.3h0M52.1 288.9h0M52.5 289.6h0M73.2 277.5h0M64.5 284.6h0M74.1 264.0h0M70.2 275.7h0M71.3 271.7h0M53.5 288.2h0M77.3 271.8h0M71.5 267.7h0M70.7 273.1h0M74.3 265.7h0M71.3 266.3h0M60.2 283.7h0M64.1 284.8h0M78.3 282.6h0M59.1 285.2h0M73.8 270.2h0M56.5 286.1h0M70.1 283.9h0M70.6 269.2h0M78.2 279.5h0M72.1 268.1h0M69.1 278.3h0M65.1 280.6h0M71.9 270.7h0M61.6 286.4h0M57.5 286.3h0M69.0 275.5h0M62.8 282.0h0M53.2 289.3h0M52.3 290.4h0M54.5 289.5h0M54.9 288.5h0M62.8 287.2h0M63.0 284.7h0M64.1 283.8h0M72.7 275.6h0M72.1 278.5h0M66.2 280.5h0M71.3 266.9h0M77.5 265.8h0M56.4 292.9h0M74.2 268.8h0M59.5 286.4h0M61.2 288.1h0M71.3 278.3h0M56.4 286.7h0M70.6 268.1h0M66.6 279.7h0M57.8 285.1h0M72.1 266.3h0M53.9 288.4h0M69.4 277.3h0M67.8 276.9h0M51.2 290.6h0M70.9 275.6h0M77.5 266.9h0M68.4 276.1h0M66.2 278.7h0M71.7 268.4h0M72.6 272.0h0M54.1 292.4h0M54.5 287.7h0M56.8 286.9h0M74.4 272.4h0M71.8 280.2h0M70.0 276.7h0M71.6 267.4h0M58.2 284.7h0M70.7 272.6h0M52.2 290.4h0M52.9 291.8h0M73.4 267.6h0M68.6 279.1h0M56.3 288.0h0M69.6 274.8h0M70.1 276.1h0M76.6 266.4h0M54.5 291.9h0M55.3 287.3h0M75.2 284.0h0M58.7 287.6h0M74.8 275.0h0" stroke="#231f20" stroke-opacity="1" stroke-width="0.6" stroke-linecap="square" fill="none"/>
<path d="M82.1 265.4h0M78.3 253.4h0M48.3 254.1h0M85.5 258.7h0M67.1 227.2h0M94.1 257.4h0M92.3 233.5h0M83.1 255.4h0M75.3 261.1h0M67.5 290.2h0M53.2 249.0h0M51.7 258.0h0M81.5 280.6h0M65.7 233.2h0M71.1 237.7h0M71.3 276.5h0M74.5 268.5h0M76.2 248.2h0M80.7 259.2h0M77.5 242.5h0M88.3 260.0h0M73.3 252.2h0M78.4 256.7h0M62.7 248.9h0M79.3 257.7h0M87.8 274.4h0M74.3 251.1h0M55.8 255.4h0M91.2 234.3h0M84.9 280.9h0M92.9 246.6h0M95.6 251.0h0M61.0 255.4h0M78.8 281.2h0M96.0 217.0h0M79.0 268.2h0M87.9 261.7h0M78.4 272.8h0M69.3 289.6h0M69.1 254.0h0M71.3 269.1h0M79.5 260.8h0M72.8 246.6h0M85.9 260.6h0M86.8 265.3h0M83.4 246.7h0M72.1 241.5h0M86.3 240.1h0M52.3 254.9h0M74.5 234.0h0M79.5 239.7h0M78.4 272.9h0M78.4 283.0h0M46.9 253.0h0M66.2 239.7h0M75.6 244.3h0M73.0 236.8h0M65.8 255.4h0M63.7 242.8h0M71.1 269.7h0M56.3 254.0h0M32.6 242.4h0M81.1 273.5h0M86.6 233.4h0M70.2 259.7h0M88.5 268.9h0M61.4 255.9h0M67.2 241.2h0M82.9 263.1h0M89.0 245.5h0M97.5 232.3h0M78.3 251.6h0M95.0 264.8h0M42.1 265.2h0M71.1 279.3h0M65.2 282.9h0M43.0 253.0h0M73.1 241.2h0M91.2 238.4h0M97.9 260.6h0M91.8 233.4h0M74.8 243.2h0M78.6 235.9h0M72.3 261.1h0M53.3 240.2h0M48.8 257.2h0M86.5 237.5h0M87.3 273.5h0M72.6 229.7h0M93.6 249.5h0M91.5 230.9h0M84.5 239.8h0M71.9 266.1h0M76.5 254.4h0M77.2 264.7h0M80.2 258.2h0M74.0 260.9h0M58.8 243.0h0M78.1 258.1h0M77.1 251.6h0M66.5 247.6h0M87.1 253.9h0M70.4 253.4h0M85.2 248.7h0M69.1 260.8h0M72.0 247.1h0M83.2 261.2h0M91.7 253.7h0M54.7 245.2h0M92.6 250.6h0M79.6 286.3h0M70.2 272.5h0M41.8 268.1h0M97.6 239.8h0M69.7 246.6h0M81.7 282.5h0M78.8 262.6h0M91.4 229.5h0M46.9 249.1h0M93.2 267.6h0M68.8 259.3h0M78.2 245.5h0M58.9 254.9h0M97.7 224.1h0M82.9 257.7h0M69.5 249.6h0M78.0 241.1h0M78.7 248.0h0M65.6 216.8h0M90.8 268.1h0M82.1 264.1h0M78.4 290.9h0M26.0 278.4h0M77.9 253.5h0M62.5 232.1h0M72.4 230.0h0M43.3 257.4h0M68.9 240.9h0M85.0 259.4h0M77.6 261.1h0M85.0 233.4h0M71.0 226.7h0M70.1 247.9h0M89.3 234.8h0M74.2 250.5h0M71.6 272.8h0M87.4 244.2h0M72.6 239.6h0M70.5 276.3h0M63.9 285.2h0M52.4 252.6h0M46.5 258.0h0M82.2 277.4h0M94.1 253.2h0M84.2 242.6h0M78.4 234.0h0M92.7 227.1h0M65.5 225.6h0M84.6 285.3h0M88.7 274.1h0M79.6 259.9h0M68.4 247.6h0M82.2 264.9h0M73.2 271.6h0M73.7 266.2h0M94.8 261.8h0M93.5 244.5h0M36.2 275.8h0M78.0 238.0h0M72.5 250.1h0M94.3 271.3h0M60.6 252.4h0M74.4 237.2h0M58.8 248.1h0M85.8 227.9h0M41.7 263.3h0M77.1 284.0h0M43.8 227.1h0M75.0 264.8h0M62.1 244.1h0M91.2 248.3h0M77.5 285.4h0M70.5 244.4h0M59.4 243.5h0M75.7 247.7h0M83.7 251.8h0M45.3 253.1h0M79.9 263.9h0M65.2 249.0h0M81.9 250.7h0M86.9 277.7h0M55.3 253.8h0M75.1 271.3h0M88.9 235.5h0M66.1 235.9h0M94.8 253.1h0M71.3 219.7h0M44.5 250.5h0M59.6 255.4h0M77.9 226.7h0M71.0 285.4h0M57.5 245.7h0M94.5 259.8h0M51.6 292.5h0M68.4 280.2h0M68.5 258.8h0M77.0 262.3h0M33.9 266.1h0M93.3 259.1h0M85.0 240.7h0M82.4 253.6h0M70.5 256.1h0M72.1 260.6h0M48.5 246.0h0M78.7 247.1h0M72.7 269.3h0M80.0 265.9h0M78.8 252.4h0M74.1 277.7h0M92.9 238.7h0M97.9 245.0h0M79.0 226.0h0M75.9 259.3h0M59.4 237.0h0M90.7 217.3h0M83.7 246.9h0M71.0 261.0h0M75.7 268.6h0M80.6 276.4h0M79.9 217.7h0M72.9 261.3h0M73.6 280.6h0M87.3 235.8h0M70.4 253.3h0M60.7 247.2h0M82.5 267.1h0M73.0 255.9h0M72.3 236.4h0M66.4 236.9h0M74.5 239.7h0M67.2 248.9h0M87.7 241.0h0M49.6 243.9h0M85.5 242.2h0M89.4 249.0h0M59.2 250.7h0M79.2 254.0h0M78.8 280.4h0M77.7 232.3h0M97.8 272.8h0M77.8 240.4h0M59.0 244.0h0M75.0 258.9h0M75.9 251.3h0M55.4 243.1h0M81.7 277.2h0M77.5 259.8h0M74.5 254.6h0M72.1 275.1h0M77.6 258.5h0M85.6 250.0h0M74.1 230.5h0M69.9 257.9h0M60.5 256.2h0M65.3 228.2h0M47.8 237.4h0M73.9 274.2h0M57.4 286.3h0M82.3 248.1h0M53.3 292.6h0M85.5 257.1h0M39.8 233.6h0M93.9 265.1h0M70.2 274.7h0M61.3 249.7h0M71.5 273.7h0M23.2 288.7h0M61.9 243.5h0M65.2 246.2h0M37.3 252.3h0M79.6 250.3h0M55.0 256.1h0M47.6 293.3h0M74.7 271.8h0M72.7 259.1h0M80.7 250.4h0M87.8 256.8h0M58.6 245.2h0M92.5 253.1h0M73.5 268.5h0M24.1 277.9h0M76.4 256.9h0M70.0 246.2h0M89.6 262.3h0M80.0 238.8h0M81.6 241.3h0M70.9 240.4h0M72.0 242.6h0M78.0 249.1h0M70.0 273.8h0M48.8 241.3h0M71.9 266.4h0M84.9 250.4h0M48.7 260.9h0M93.6 245.3h0M82.8 260.7h0M45.8 264.7h0M81.0 251.8h0M92.4 257.8h0M86.1 257.5h0M77.8 224.7h0M64.0 232.4h0M44.9 231.2h0M90.5 256.7h0M68.5 284.8h0M62.4 284.8h0M82.6 254.3h0M57.7 290.4h0M71.8 252.6h0M74.1 257.9h0M98.0 238.2h0M74.4 263.6h0M84.2 289.6h0M81.8 239.9h0M72.1 245.8h0M89.7 243.3h0M85.2 266.0h0M76.9 239.0h0M69.0 278.0h0M71.4 246.4h0M80.7 266.0h0M87.0 241.6h0M86.2 247.9h0M58.6 249.4h0M81.5 229.5h0M64.5 249.2h0M55.1 253.0h0M85.2 257.2h0M58.9 255.0h0M81.1 257.3h0M98.3 265.7h0M78.1 230.7h0M78.9 261.7h0M80.5 256.9h0M67.1 251.9h0M43.0 247.2h0M36.2 264.3h0M71.0 253.8h0M65.1 251.1h0M76.8 257.0h0M87.6 258.0h0M82.8 263.8h0M68.6 256.7h0M87.6 248.1h0M76.0 249.3h0M68.9 245.5h0M89.5 232.1h0M81.5 234.0h0M85.2 225.7h0M74.1 255.4h0M82.8 224.1h0M68.1 252.0h0M89.5 248.0h0M70.6 264.4h0M37.3 264.1h0M64.0 254.1h0M87.1 266.0h0M74.2 253.0h0M76.6 269.5h0M70.9 240.9h0M92.8 268.0h0M69.6 261.4h0M87.0 249.4h0M45.5 265.4h0M77.5 257.2h0M43.2 265.6h0M53.3 292.5h0M62.1 250.7h0M79.5 246.7h0M75.2 250.5h0M71.5 251.5h0M78.1 262.0h0M66.2 245.6h0M78.0 265.3h0M55.7 293.6h0M35.1 270.4h0M74.9 251.0h0M80.3 281.6h0M96.7 249.8h0M77.9 270.4h0M75.3 265.8h0M84.2 234.7h0M76.7 245.2h0M83.3 249.9h0M63.0 249.5h0M83.2 267.3h0M73.9 249.8h0M75.5 252.5h0M67.8 223.5h0M81.8 275.3h0M78.2 257.5h0M81.9 264.4h0M75.3 243.3h0M68.5 255.5h0M72.8 266.2h0M83.6 245.2h0M82.2 264.7h0M69.0 237.3h0M65.6 250.1h0M77.0 258.4h0M87.7 231.1h0M74.6 258.0h0M69.4 232.8h0M90.4 289.0h0M64.8 251.6h0M76.7 243.0h0M85.8 249.2h0M77.1 251.4h0M50.4 254.8h0M86.3 254.1h0M64.2 245.6h0M76.5 249.7h0M87.8 257.9h0M36.1 242.9h0M79.0 235.3h0M76.6 259.7h0M87.1 238.3h0M72.3 275.7h0M67.2 252.7h0M83.9 250.9h0M92.1 241.7h0M73.0 241.3h0M87.3 247.2h0M95.6 235.1h0M86.8 247.1h0M76.6 267.1h0M61.1 250.4h0M71.1 258.6h0M90.7 263.2h0M80.1 271.8h0M66.7 239.5h0M75.9 229.4h0M78.4 260.1h0M35.5 253.7h0M70.7 234.3h0M84.1 266.6h0M80.3 258.4h0M78.1 281.8h0M82.3 265.7h0M75.2 245.0h0M82.0 246.6h0M56.3 252.1h0M80.2 255.3h0M74.5 252.6h0M91.9 224.1h0M73.4 257.9h0M70.0 285.5h0M75.8 291.0h0M82.2 237.4h0M94.3 253.3h0M91.3 222.8h0M89.7 261.4h0M79.9 291.8h0M77.0 253.2h0M77.6 262.2h0M75.9 273.9h0M74.0 249.1h0M81.1 235.1h0M32.9 258.4h0M93.4 265.4h0M47.9 251.2h0M91.4 261.4h0M96.0 235.6h0M79.7 224.5h0M92.4 230.9h0M73.8 267.9h0M65.4 251.2h0M79.7 275.8h0M89.1 271.9h0M87.3 246.7h0M84.0 259.5h0M75.3 252.2h0M42.4 263.8h0M94.2 241.6h0M64.7 282.9h0M62.7 232.5h0M44.8 265.5h0M52.0 245.3h0M82.9 243.2h0M77.1 267.7h0M71.1 253.9h0M86.8 257.3h0M69.7 276.8h0M83.0 253.1h0M87.1 250.6h0M38.5 264.2h0M84.4 250.6h0M42.8 250.6h0M85.6 266.8h0M79.1 255.1h0M92.9 234.2h0M90.5 230.4h0M58.3 249.2h0M82.6 286.8h0M52.5 254.0h0M69.0 245.9h0M50.2 248.9h0M75.7 284.7h0M69.4 255.8h0M85.5 260.7h0M74.6 247.0h0M84.0 243.2h0M66.2 249.4h0M46.5 261.6h0M51.1 291.0h0M82.8 248.0h0M63.9 255.7h0M61.5 253.0h0M69.9 252.2h0M86.8 257.4h0M72.5 258.1h0M85.8 257.5h0M89.1 265.4h0M72.0 277.4h0M90.3 279.5h0M57.1 247.7h0M81.2 238.0h0M73.7 236.4h0M76.2 278.3h0M89.1 235.8h0M87.8 249.7h0M74.1 256.8h0M53.7 246.8h0M94.5 227.3h0M82.9 277.4h0M66.3 249.8h0M98.1 265.7h0M46.4 243.3h0M94.9 239.8h0M70.3 271.8h0M71.1 267.7h0M75.6 271.5h0M64.1 243.3h0M71.1 258.3h0M50.1 247.2h0M83.1 264.8h0M69.9 276.9h0M70.3 273.4h0M36.8 256.4h0M39.2 262.3h0M72.3 248.8h0M81.8 227.4h0M74.2 233.6h0M65.5 223.6h0M88.3 265.1h0M84.3 264.7h0M47.4 257.3h0M91.3 252.2h0M71.8 256.5h0M95.8 249.5h0M30.7 283.4h0M60.5 288.3h0M74.0 236.7h0M60.7 241.5h0M80.6 251.5h0M90.8 236.7h0M92.7 241.1h0M68.8 259.4h0M78.9 253.4h0M93.5 272.1h0M68.8 250.2h0M76.7 243.9h0M77.9 247.5h0M88.6 270.3h0M48.3 248.3h0M71.4 251.4h0M69.9 236.2h0M93.1 240.4h0M84.8 254.4h0M78.5 273.0h0M93.6 235.6h0M64.4 244.9h0M71.5 271.2h0M51.7 289.3h0M83.7 264.6h0M77.3 263.1h0M93.7 241.3h0M70.0 229.5h0M87.2 283.4h0M50.5 248.8h0M85.7 282.7h0M70.8 252.3h0M84.2 246.0h0M75.7 274.8h0M74.3 246.9h0M72.3 277.5h0M72.8 285.3h0M67.6 279.1h0M69.7 243.9h0M92.5 248.0h0M79.2 272.0h0M58.7 253.1h0M86.9 268.6h0M76.6 261.4h0M83.8 255.7h0M84.7 259.2h0M72.8 245.7h0M59.7 239.8h0M86.9 244.4h0M76.0 237.5h0M71.0 239.3h0M64.8 252.5h0M81.8 282.6h0M81.3 229.5h0M68.7 231.0h0M76.6 260.0h0M78.2 266.5h0M68.0 276.7h0M97.5 268.9h0M53.5 242.1h0M58.7 232.2h0M65.1 230.7h0M91.2 265.9h0M68.0 229.4h0M79.6 262.7h0M72.2 251.3h0M96.9 241.1h0M62.2 246.6h0M90.5 258.3h0M82.9 253.5h0M97.7 231.7h0M87.4 236.2h0M84.2 267.0h0M62.4 250.2h0M97.0 244.1h0M65.0 252.2h0M70.7 258.7h0M90.4 252.9h0M93.6 262.1h0M97.3 269.4h0M84.2 245.4h0M71.4 277.4h0M85.3 255.6h0M66.2 278.7h0M78.0 293.0h0M74.5 259.9h0M60.7 249.1h0M74.9 253.0h0M64.0 246.9h0M72.6 226.0h0M89.2 243.3h0M52.7 242.1h0M71.2 271.1h0M62.7 253.3h0M87.4 260.4h0M86.2 264.9h0M77.9 252.0h0M85.9 231.3h0M72.7 252.6h0M82.9 262.9h0M71.7 280.9h0M63.6 240.9h0M29.4 285.2h0M55.6 253.7h0M84.5 246.1h0M92.6 230.9h0M81.4 238.6h0M79.7 247.9h0M65.7 257.5h0M62.1 252.2h0M60.9 256.3h0M40.9 262.1h0M75.9 249.9h0M69.3 253.3h0M85.9 254.1h0M71.5 252.8h0M88.0 248.2h0M71.2 271.1h0M72.9 242.7h0M71.0 236.6h0M82.7 258.4h0M82.2 284.7h0M66.0 279.3h0M64.0 283.3h0M72.2 259.8h0M88.4 248.7h0M79.9 270.6h0M97.1 252.3h0M71.8 257.6h0M83.8 272.4h0M83.5 254.1h0M83.5 258.9h0M73.6 254.9h0M98.5 238.1h0M97.1 247.0h0M78.9 250.9h0M83.2 249.9h0M79.8 254.8h0M31.7 273.4h0M75.8 249.8h0M95.1 256.8h0M71.2 260.3h0M49.3 256.7h0M68.5 253.7h0M93.2 249.4h0M65.0 251.3h0M78.4 272.1h0M78.2 263.3h0M66.2 228.2h0M67.4 281.2h0M85.5 221.6h0M72.5 257.9h0M86.3 227.7h0M74.3 251.0h0M46.5 264.3h0M71.0 261.0h0M90.6 253.3h0M79.5 252.3h0M65.2 255.1h0M82.2 258.7h0M73.0 251.5h0M71.1 254.7h0M66.1 248.7h0M83.5 248.1h0M85.3 250.8h0M73.7 247.8h0M79.1 235.4h0M66.4 239.5h0M98.0 256.2h0M75.7 230.8h0M69.2 250.4h0M94.8 262.7h0M79.4 257.2h0M51.6 236.9h0M71.6 242.3h0M66.8 255.1h0M81.0 255.1h0M86.1 236.1h0M97.2 254.5h0M79.7 243.0h0M81.8 239.6h0M89.8 266.0h0M92.7 250.8h0M70.5 236.0h0M93.4 235.3h0M80.6 267.2h0M77.6 251.7h0M56.3 245.3h0M72.5 271.0h0M67.0 255.5h0M73.9 266.6h0M75.3 264.2h0M51.2 288.8h0M94.1 261.2h0M53.8 256.0h0M62.7 254.6h0M56.5 289.3h0M93.2 228.0h0M49.2 292.0h0M84.7 267.1h0M78.7 253.8h0M76.2 249.5h0M79.9 252.1h0M79.3 245.4h0M75.8 237.0h0M59.3 256.1h0M94.1 225.9h0M83.4 238.8h0M55.3 242.8h0M67.2 255.1h0M81.5 251.7h0M69.7 278.0h0M74.0 246.6h0M67.5 284.7h0M86.5 240.8h0M91.5 238.6h0M71.8 261.9h0M61.1 247.0h0M56.0 243.9h0M75.3 257.3h0M74.2 254.5h0M85.1 251.1h0M47.2 236.4h0M82.8 256.9h0M62.9 242.5h0M59.7 249.4h0M65.6 226.2h0M57.5 254.0h0M75.3 237.5h0M75.0 249.6h0M72.5 261.9h0M90.9 231.2h0M75.5 272.7h0M70.8 241.0h0M68.9 230.1h0M75.6 248.6h0M95.4 236.6h0M51.0 244.0h0M71.5 239.1h0M58.1 244.7h0M83.1 236.5h0M59.4 253.9h0M77.6 241.5h0M92.7 264.3h0M64.5 282.5h0M85.4 243.6h0M89.4 246.8h0M68.7 256.8h0M73.3 262.4h0M80.7 271.0h0M80.5 258.9h0M88.9 264.5h0M75.9 244.8h0M79.4 247.7h0M76.8 257.2h0M69.8 226.0h0M75.2 241.5h0M24.3 264.5h0M67.1 284.1h0M92.2 261.7h0M42.6 235.9h0M92.0 271.5h0M78.3 234.7h0M74.5 244.1h0M69.6 289.2h0M58.8 245.8h0M79.1 267.0h0M54.5 251.3h0M66.6 241.2h0M78.9 271.3h0M51.9 249.9h0M84.2 285.3h0M76.6 238.3h0M76.1 242.7h0M71.9 251.6h0M52.2 250.9h0M49.4 251.3h0M77.7 291.5h0M59.7 240.0h0M78.6 245.7h0M77.3 250.1h0M70.2 274.8h0M60.2 242.0h0M69.8 259.3h0M78.9 268.4h0M42.4 268.9h0M98.4 256.5h0M71.2 270.5h0M98.2 251.5h0M82.2 249.1h0M48.6 258.1h0M82.4 278.2h0M84.7 280.3h0M67.5 250.6h0M66.3 243.0h0M32.6 276.3h0M83.4 252.3h0M75.2 272.3h0M39.7 271.5h0M61.4 242.7h0M57.2 228.7h0M79.0 257.7h0M91.0 268.5h0M51.4 258.9h0M93.9 246.9h0M85.5 250.2h0M45.0 261.6h0M68.0 250.2h0M73.9 241.3h0M73.2 256.2h0M95.2 279.4h0M75.2 260.1h0M55.2 254.0h0M80.2 279.6h0M78.9 231.5h0M71.5 279.8h0M71.7 246.2h0M77.0 240.1h0M81.3 280.0h0M93.5 228.3h0M88.3 257.8h0M76.9 253.5h0M82.3 269.2h0M79.3 239.2h0M93.4 242.5h0M56.9 248.7h0M81.7 267.8h0M84.2 259.2h0M73.5 268.5h0M72.1 248.5h0M67.2 228.4h0M83.2 242.2h0M83.6 236.2h0M74.1 262.3h0M74.1 245.9h0M66.2 246.6h0M54.4 253.7h0M92.6 232.4h0M80.3 265.3h0M37.6 263.7h0M74.3 242.4h0M72.0 279.2h0M90.1 245.6h0M55.5 239.6h0M61.9 287.7h0M69.6 254.7h0M65.0 253.7h0M93.5 232.3h0M71.5 263.1h0M92.8 240.0h0M67.4 245.4h0M73.1 252.8h0M80.2 254.6h0M33.8 246.5h0M71.3 251.9h0M40.7 258.8h0M76.4 258.3h0M72.3 249.6h0M61.3 247.6h0M69.1 253.7h0M79.5 258.2h0M71.5 262.6h0M80.1 266.9h0M74.1 247.2h0M84.5 239.9h0M87.7 254.1h0M81.3 248.1h0M76.3 265.1h0M58.0 253.9h0M84.9 251.3h0M68.1 250.4h0M71.6 260.0h0M87.9 278.2h0M73.8 250.7h0M58.2 250.6h0M63.8 291.4h0M57.3 253.3h0M75.5 279.2h0M55.9 250.6h0M64.6 250.6h0M92.6 243.0h0M85.8 280.6h0M67.3 255.5h0M75.8 255.1h0M74.7 248.3h0M79.0 241.5h0M80.2 242.6h0M78.6 250.2h0M76.7 253.4h0M77.9 251.1h0M78.8 266.8h0M74.6 267.3h0M76.5 250.6h0M83.7 267.7h0M75.4 270.1h0M53.4 255.9h0M70.2 252.3h0M93.3 260.2h0M77.3 268.3h0M79.9 265.3h0M51.5 244.6h0M59.7 247.0h0M72.2 265.0h0M93.5 235.6h0M71.3 257.2h0M63.9 239.2h0M84.5 259.9h0M83.8 265.8h0M44.3 251.9h0M76.0 245.4h0M97.7 269.2h0M75.5 265.9h0M53.1 245.8h0M81.7 249.5h0M91.4 264.1h0M44.7 261.2h0M71.6 244.3h0M79.4 262.5h0M94.3 232.1h0M56.3 247.0h0M59.8 286.6h0M78.6 254.1h0M57.3 238.8h0M72.5 259.5h0M73.7 244.8h0M73.2 265.8h0M80.4 244.9h0M96.5 238.3h0M65.1 282.3h0M85.5 239.4h0M77.3 257.7h0M83.3 249.1h0M87.8 256.6h0M80.4 271.7h0M82.0 240.7h0M84.6 265.4h0M80.5 279.4h0M75.7 231.9h0M59.5 255.6h0M50.9 256.2h0M68.3 281.1h0M76.2 251.9h0M72.7 265.9h0M71.5 256.5h0M71.2 261.5h0M97.2 236.1h0M80.3 258.0h0M66.6 237.4h0M83.7 245.4h0M72.2 253.7h0M84.5 241.1h0M54.0 242.3h0M56.1 288.1h0M43.7 254.6h0M61.0 244.2h0M75.7 261.3h0M75.7 244.6h0M71.5 238.0h0M79.6 243.9h0M80.3 248.6h0M76.1 240.2h0M83.2 259.4h0M92.9 270.5h0M88.1 260.6h0M82.6 266.1h0M79.1 266.0h0M83.5 268.2h0M69.0 244.4h0M43.4 239.7h0M74.0 274.0h0M83.2 276.5h0M65.0 256.4h0M82.6 242.9h0M89.5 256.9h0M63.5 242.8h0M85.4 289.4h0M78.3 267.9h0M86.4 239.7h0M85.3 272.6h0M68.2 217.9h0M89.6 227.7h0M78.6 231.9h0M93.7 263.7h0M73.0 234.2h0M87.7 255.2h0M60.5 254.8h0M87.1 256.8h0M65.1 246.4h0M75.6 261.4h0M90.8 263.2h0M61.9 252.7h0M71.1 270.7h0M83.2 251.0h0M90.3 284.7h0M95.7 247.8h0M71.3 269.8h0M85.5 251.6h0M80.2 260.1h0M78.8 271.1h0M89.1 237.4h0M73.1 277.9h0M90.5 270.1h0M58.4 254.7h0M90.1 253.5h0M75.8 238.9h0M96.2 252.2h0M92.6 234.5h0M41.0 249.1h0M76.1 262.3h0M70.9 275.5h0M93.3 255.6h0M98.6 239.4h0M72.7 237.7h0M69.6 247.1h0M96.0 248.9h0M73.5 263.5h0M62.9 236.9h0M60.1 254.5h0M89.8 260.4h0M63.9 249.1h0M73.0 292.1h0M59.8 244.1h0M79.0 273.3h0M97.2 248.2h0M89.9 266.5h0M82.2 248.3h0M60.5 248.5h0M95.2 238.5h0M55.8 249.4h0M96.6 283.0h0M36.2 272.8h0M76.7 253.0h0M57.4 244.8h0M61.6 239.1h0M58.8 287.3h0M87.9 243.8h0M81.1 269.9h0M76.8 249.0h0M89.1 243.3h0M62.1 254.7h0M64.3 241.2h0M69.3 242.4h0M69.1 287.5h0M97.8 237.7h0M92.4 241.0h0M87.6 258.7h0M70.1 251.3h0M85.9 238.9h0M64.2 243.6h0M77.8 251.9h0M60.5 255.5h0M91.1 242.7h0M96.3 230.2h0M96.1 226.2h0M72.0 255.5h0M77.2 246.9h0M76.9 235.8h0M83.0 242.3h0M41.8 259.6h0M39.4 264.9h0M63.0 242.2h0M54.1 288.9h0M59.9 242.5h0M70.5 244.5h0M50.7 257.5h0M72.1 265.3h0M79.0 261.8h0M55.8 234.6h0M45.0 254.0h0M80.7 241.8h0M62.2 242.1h0M59.8 251.1h0M47.6 261.8h0M88.6 259.4h0M54.1 242.0h0M78.4 217.7h0M91.6 257.4h0M48.9 251.0h0M87.1 243.4h0M71.5 238.2h0M80.4 265.0h0M89.7 239.7h0M58.8 287.8h0M73.9 254.2h0M75.4 232.5h0M87.3 241.9h0M70.6 251.4h0M85.8 247.9h0M74.2 238.6h0M80.5 264.6h0M78.3 247.3h0M71.6 227.1h0M34.4 266.1h0M83.5 238.8h0M84.5 256.0h0M65.5 279.3h0M82.0 233.9h0M41.2 267.4h0M82.2 268.6h0M24.9 274.9h0M70.6 269.2h0M32.0 272.8h0M54.6 256.8h0M82.2 270.6h0M84.7 260.9h0M65.5 257.9h0M79.0 252.7h0M60.5 286.7h0M38.0 260.8h0M73.7 244.0h0M98.2 226.4h0M82.8 246.0h0M80.6 252.9h0M86.5 237.8h0M68.8 225.8h0M82.6 240.7h0M61.0 241.7h0M83.8 273.7h0M86.1 238.5h0M82.8 261.9h0M70.7 269.2h0M91.2 237.8h0M48.0 257.7h0M47.5 231.4h0M71.2 263.9h0M84.2 259.8h0M71.2 251.8h0M80.6 250.8h0M92.3 260.1h0M90.2 256.5h0M94.7 247.8h0M75.4 250.8h0M64.0 249.9h0M61.4 223.1h0M83.3 236.7h0M71.3 222.1h0M66.2 239.2h0M87.8 267.3h0M89.3 245.1h0M61.0 282.8h0M59.1 226.7h0M96.5 267.8h0M46.9 250.4h0M71.1 276.7h0M71.7 221.4h0M55.0 232.0h0M70.7 257.4h0M50.7 240.0h0M78.3 286.8h0M78.7 239.5h0M45.0 232.3h0M76.5 259.3h0M50.6 257.9h0M84.5 264.2h0M60.0 223.5h0M82.7 234.0h0M79.5 275.7h0M91.4 222.6h0M48.3 254.1h0M61.8 224.4h0M62.7 223.5h0M88.1 233.2h0M81.3 267.3h0M74.6 285.7h0M98.1 280.2h0M89.5 279.5h0M61.4 238.1h0M62.5 232.9h0M98.4 249.4h0M65.3 244.0h0M91.9 220.8h0M61.6 255.2h0M53.5 241.8h0M80.3 257.2h0M49.9 249.3h0M66.6 288.9h0M63.6 222.5h0M87.7 284.0h0M87.8 265.0h0M57.8 232.1h0M71.1 241.2h0M79.6 272.0h0M52.4 257.5h0M64.2 251.2h0M90.4 221.0h0M88.6 286.7h0M95.6 242.6h0M95.9 283.2h0M91.6 246.0h0M62.0 224.5h0M54.6 249.6h0M51.4 233.9h0M92.1 257.7h0M53.9 256.4h0M97.9 264.4h0M65.8 255.1h0M67.3 222.2h0M79.6 231.2h0M98.4 225.0h0M84.0 283.8h0M58.3 219.2h0M67.8 257.1h0M47.3 238.8h0M92.0 231.1h0M96.2 238.8h0M71.1 252.1h0M81.8 228.4h0M59.3 225.7h0M82.4 218.7h0M67.8 232.1h0M66.2 224.9h0M45.3 235.1h0M55.2 232.3h0M83.9 261.7h0M82.1 224.9h0M93.8 264.0h0M75.4 247.9h0M91.8 228.0h0M96.7 260.1h0M85.8 277.7h0M83.8 218.8h0M87.6 276.6h0M85.9 237.1h0M51.5 251.5h0M82.0 236.8h0M62.8 244.8h0M74.9 282.8h0M92.5 252.9h0M53.7 239.5h0M97.1 277.7h0M60.6 288.2h0M92.2 278.0h0M96.1 228.3h0M58.9 241.8h0M95.8 248.9h0M86.8 279.8h0M91.3 272.0h0M52.1 244.2h0M93.0 276.3h0M73.7 239.1h0M63.6 220.8h0M48.6 240.0h0M98.3 253.5h0M93.3 289.8h0M68.8 249.9h0M60.2 245.3h0M84.2 259.3h0M84.1 265.6h0M98.5 239.0h0M63.1 235.6h0M94.7 229.8h0M85.6 283.7h0M58.4 255.3h0M98.1 259.1h0M84.5 276.5h0M77.4 236.9h0M54.8 241.7h0M85.4 250.7h0M86.0 234.2h0M94.6 283.1h0M82.3 225.2h0M77.6 252.9h0M67.9 228.3h0M63.4 225.9h0M90.4 279.9h0M75.1 272.9h0M50.8 241.6h0M68.8 226.3h0M92.8 288.7h0M82.3 282.0h0M86.4 235.9h0M92.9 281.8h0M78.2 261.2h0M48.8 261.1h0M77.0 240.9h0M95.2 251.8h0M64.1 226.4h0M69.5 251.2h0M73.2 238.9h0M84.0 228.5h0M74.5 233.7h0M55.8 253.1h0M77.5 227.7h0M69.7 254.6h0M71.7 220.7h0M48.4 250.4h0M58.5 251.0h0M94.8 256.4h0M92.4 247.9h0M88.5 262.4h0M90.7 239.9h0M78.4 282.0h0M75.7 245.7h0M98.2 223.2h0M66.8 224.2h0M97.6 240.4h0M84.4 240.6h0M74.2 275.1h0M82.1 257.9h0M88.3 277.7h0M85.1 278.6h0M53.8 231.9h0M96.7 271.9h0M65.7 281.4h0M49.9 252.8h0M64.3 288.6h0M87.2 261.4h0M90.1 282.6h0M75.8 275.6h0M51.8 240.4h0M50.6 233.7h0M92.4 263.9h0M84.3 289.2h0M72.3 289.2h0M58.2 239.7h0M93.7 235.9h0M76.2 241.0h0M88.8 228.2h0M76.3 223.0h0M77.8 227.4h0M85.0 239.5h0M95.1 219.0h0M84.4 245.3h0M68.0 287.2h0M75.1 274.0h0M50.4 257.4h0M93.2 270.2h0M77.7 266.7h0M96.2 237.3h0M48.8 243.3h0M50.0 259.1h0M79.7 259.8h0M82.1 268.6h0M60.8 247.1h0M81.0 256.3h0M80.2 262.7h0M88.4 272.9h0M91.6 243.2h0M87.0 221.2h0M45.1 238.7h0M77.0 229.1h0M61.7 255.3h0M53.9 252.5h0M65.9 240.9h0M91.1 250.7h0M59.7 253.2h0M65.6 218.2h0M68.6 227.0h0M83.7 255.3h0M60.9 227.3h0M94.8 265.3h0M80.7 257.1h0M59.1 251.0h0M71.6 270.4h0M81.9 272.0h0M79.3 240.7h0M74.4 221.0h0M66.4 252.2h0M56.9 250.4h0M90.6 268.7h0M90.9 221.5h0M83.9 281.6h0M69.3 250.8h0" stroke="#231f20" stroke-opacity="0.9" stroke-width="0.42" stroke-linecap="square" fill="none"/>
<path d="M25.80 293.00C24.92 291.67 29.80 287.25 32.00 284.00C34.20 280.75 36.67 276.67 39.00 273.50C41.33 270.33 43.58 267.70 46.00 265.00C48.42 262.30 50.92 258.77 53.50 257.30C56.08 255.83 59.00 255.82 61.50 256.20C64.00 256.58 66.95 257.88 68.50 259.60C70.05 261.32 70.62 264.00 70.80 266.50C70.98 269.00 70.95 272.10 69.60 274.60C68.25 277.10 65.58 279.18 62.70 281.50C59.82 283.82 56.53 286.75 52.30 288.50C48.07 290.25 41.72 291.25 37.30 292.00C32.88 292.75 26.68 294.33 25.80 293.00Z" fill="#fff" stroke="#000" stroke-width="0.55"/><path d="M30.26 291.80C29.49 290.63 33.78 286.74 35.72 283.88C37.66 281.02 39.83 277.43 41.88 274.64C43.93 271.85 45.91 269.54 48.04 267.16C50.17 264.78 52.37 261.67 54.64 260.38C56.91 259.09 59.48 259.08 61.68 259.42C63.88 259.75 66.48 260.90 67.84 262.41C69.20 263.92 69.70 266.28 69.86 268.48C70.03 270.68 70.00 273.41 68.81 275.61C67.62 277.81 65.27 279.64 62.74 281.68C60.20 283.72 57.31 286.30 53.58 287.84C49.86 289.38 44.27 290.26 40.38 290.92C36.50 291.58 31.04 292.97 30.26 291.80Z" fill="none" stroke="#000" stroke-width="0.55"/><path d="M34.36 290.70C33.68 289.67 37.44 286.27 39.13 283.77C40.82 281.27 42.72 278.12 44.52 275.69C46.32 273.25 48.05 271.22 49.91 269.14C51.77 267.06 53.70 264.34 55.69 263.21C57.67 262.08 59.92 262.07 61.84 262.36C63.77 262.66 66.04 263.66 67.23 264.98C68.43 266.30 68.86 268.37 69.01 270.30C69.15 272.22 69.12 274.61 68.08 276.53C67.04 278.46 64.99 280.06 62.77 281.85C60.55 283.63 58.02 285.89 54.76 287.24C51.50 288.58 46.61 289.35 43.21 289.93C39.81 290.51 35.04 291.73 34.36 290.70Z" fill="none" stroke="#000" stroke-width="0.55"/><path d="M38.08 289.70C37.48 288.81 40.76 285.85 42.23 283.67C43.70 281.49 45.36 278.76 46.92 276.63C48.48 274.51 49.99 272.75 51.61 270.94C53.23 269.13 54.90 266.76 56.63 265.78C58.37 264.80 60.32 264.79 61.99 265.04C63.67 265.30 65.65 266.17 66.69 267.32C67.72 268.47 68.10 270.27 68.23 271.94C68.35 273.62 68.33 275.70 67.42 277.37C66.52 279.05 64.73 280.44 62.80 282.00C60.87 283.55 58.67 285.51 55.83 286.69C52.99 287.86 48.74 288.53 45.78 289.03C42.82 289.53 38.67 290.59 38.08 289.70Z" fill="none" stroke="#000" stroke-width="0.55"/><path d="M41.42 288.80C40.91 288.03 43.74 285.46 45.02 283.58C46.30 281.69 47.73 279.33 49.08 277.49C50.43 275.65 51.74 274.13 53.14 272.56C54.54 270.99 55.99 268.94 57.49 268.09C58.99 267.24 60.68 267.23 62.13 267.46C63.58 267.68 65.29 268.43 66.19 269.43C67.09 270.42 67.42 271.98 67.52 273.43C67.63 274.88 67.61 276.68 66.83 278.13C66.05 279.58 64.50 280.79 62.83 282.13C61.15 283.47 59.25 285.18 56.79 286.19C54.34 287.20 50.66 287.79 48.09 288.22C45.53 288.66 41.94 289.57 41.42 288.80Z" fill="none" stroke="#000" stroke-width="0.55"/><path d="M44.77 287.90C44.34 287.25 46.73 285.08 47.81 283.49C48.89 281.90 50.10 279.90 51.24 278.35C52.38 276.79 53.49 275.50 54.67 274.18C55.85 272.86 57.08 271.13 58.34 270.41C59.61 269.69 61.04 269.68 62.27 269.87C63.49 270.06 64.94 270.69 65.69 271.53C66.45 272.38 66.73 273.69 66.82 274.92C66.91 276.14 66.90 277.66 66.23 278.88C65.57 280.11 64.27 281.13 62.85 282.26C61.44 283.40 59.83 284.84 57.76 285.69C55.68 286.55 52.57 287.04 50.41 287.41C48.24 287.78 45.20 288.55 44.77 287.90Z" fill="none" stroke="#000" stroke-width="0.55"/><path d="M48.12 287.00C47.77 286.47 49.72 284.70 50.60 283.40C51.48 282.10 52.47 280.47 53.40 279.20C54.33 277.93 55.23 276.88 56.20 275.80C57.17 274.72 58.17 273.31 59.20 272.72C60.23 272.13 61.40 272.13 62.40 272.28C63.40 272.43 64.58 272.95 65.20 273.64C65.82 274.33 66.05 275.40 66.12 276.40C66.19 277.40 66.18 278.64 65.64 279.64C65.10 280.64 64.03 281.47 62.88 282.40C61.73 283.33 60.41 284.50 58.72 285.20C57.03 285.90 54.49 286.30 52.72 286.60C50.95 286.90 48.47 287.53 48.12 287.00Z" fill="none" stroke="#000" stroke-width="0.55"/><path d="M51.47 286.10C51.19 285.69 52.71 284.32 53.39 283.31C54.07 282.30 54.84 281.04 55.56 280.06C56.28 279.07 56.98 278.26 57.73 277.42C58.48 276.58 59.25 275.49 60.05 275.03C60.86 274.58 61.76 274.57 62.53 274.69C63.31 274.81 64.22 275.21 64.70 275.75C65.19 276.28 65.36 277.11 65.42 277.88C65.47 278.66 65.46 279.62 65.05 280.40C64.63 281.17 63.80 281.82 62.91 282.54C62.01 283.25 61.00 284.16 59.68 284.70C58.37 285.25 56.40 285.56 55.03 285.79C53.66 286.02 51.74 286.51 51.47 286.10Z" fill="none" stroke="#000" stroke-width="0.55"/>
<path d="M26.5 292.5C30 286 34 280 39 274.5C35 281 31 287 27.5 292.8Z" fill="none" stroke="#000" stroke-width="0.5"/>
<path d="M27.5 292.5C31 287.5 35 282 40 276.5" fill="none" stroke="#000" stroke-width="0.5"/>
<path d="M37.00 290.00C36.50 288.92 38.67 286.33 40.00 285.00C41.33 283.67 43.17 282.42 45.00 282.00C46.83 281.58 49.50 281.83 51.00 282.50C52.50 283.17 54.17 284.83 54.00 286.00C53.83 287.17 51.83 288.58 50.00 289.50C48.17 290.42 45.17 291.42 43.00 291.50C40.83 291.58 37.50 291.08 37.00 290.00Z" fill="none" stroke="#000" stroke-width="1.0"/><path d="M38.20 289.55C37.78 288.63 39.62 286.43 40.75 285.30C41.88 284.17 43.44 283.10 45.00 282.75C46.56 282.40 48.83 282.61 50.10 283.18C51.38 283.74 52.79 285.16 52.65 286.15C52.51 287.14 50.81 288.35 49.25 289.12C47.69 289.90 45.14 290.75 43.30 290.82C41.46 290.90 38.62 290.47 38.20 289.55Z" fill="none" stroke="#000" stroke-width="1.0"/><path d="M39.40 289.10C39.05 288.34 40.57 286.53 41.50 285.60C42.43 284.67 43.72 283.79 45.00 283.50C46.28 283.21 48.15 283.38 49.20 283.85C50.25 284.32 51.42 285.48 51.30 286.30C51.18 287.12 49.78 288.11 48.50 288.75C47.22 289.39 45.12 290.09 43.60 290.15C42.08 290.21 39.75 289.86 39.40 289.10Z" fill="none" stroke="#000" stroke-width="1.0"/><path d="M40.60 288.65C40.33 288.05 41.52 286.63 42.25 285.90C42.98 285.17 43.99 284.48 45.00 284.25C46.01 284.02 47.47 284.16 48.30 284.52C49.12 284.89 50.04 285.81 49.95 286.45C49.86 287.09 48.76 287.87 47.75 288.38C46.74 288.88 45.09 289.43 43.90 289.48C42.71 289.52 40.88 289.25 40.60 288.65Z" fill="none" stroke="#000" stroke-width="1.0"/><path d="M41.80 288.20C41.60 287.77 42.47 286.73 43.00 286.20C43.53 285.67 44.27 285.17 45.00 285.00C45.73 284.83 46.80 284.93 47.40 285.20C48.00 285.47 48.67 286.13 48.60 286.60C48.53 287.07 47.73 287.63 47.00 288.00C46.27 288.37 45.07 288.77 44.20 288.80C43.33 288.83 42.00 288.63 41.80 288.20Z" fill="none" stroke="#000" stroke-width="1.0"/>
<ellipse cx="45.2" cy="287" rx="1.1" ry="0.7" fill="#fff"/>
<path d="M55 283C58 280 62 279 65 279C63 282 59 284.5 55 285Z" fill="#222"/>
<ellipse cx="60" cy="277.5" rx="0.9" ry="1.2" fill="#fff"/>
<path d="M25.4 293.4L39.2 275.4L58.9 250.0L80.9 253.8L77.7 273.7L50.0 290.0L32.0 294.0Z" fill="none" stroke="#000" stroke-width="0.9"/>
<rect x="19.8" y="214.6" width="80.0" height="80.4" fill="none" stroke="#231f20" stroke-width="1.1"/>
<path d="M19.8 217h-2.2M19.8 221.5h-1.2M19.8 224.2h-1.2M19.8 226h-1.2M19.8 227.5h-1.2M19.8 228.7h-1.2M19.8 229.7h-1.2M19.8 230.5h-1.2M19.8 231.3h-1.2M19.8 232h-2.2M19.8 236.5h-1.2M19.8 239.2h-1.2M19.8 241h-1.2M19.8 242.5h-1.2M19.8 243.7h-1.2M19.8 244.7h-1.2M19.8 245.5h-1.2M19.8 246.3h-1.2M19.8 247h-2.2M19.8 251.5h-1.2M19.8 254.2h-1.2M19.8 256h-1.2M19.8 257.5h-1.2M19.8 258.7h-1.2M19.8 259.7h-1.2M19.8 260.5h-1.2M19.8 261.3h-1.2M19.8 262h-2.2M19.8 266.5h-1.2M19.8 269.2h-1.2M19.8 271h-1.2M19.8 272.5h-1.2M19.8 273.7h-1.2M19.8 274.7h-1.2M19.8 275.5h-1.2M19.8 276.3h-1.2M19.8 277h-2.2M19.8 281.5h-1.2M19.8 284.2h-1.2M19.8 286h-1.2M19.8 287.5h-1.2M19.8 288.7h-1.2M19.8 289.7h-1.2M19.8 290.5h-1.2M19.8 291.3h-1.2M19.8 292h-2.2M20 295.0v2.2M24.7 295.0v1.2M27.4 295.0v1.2M29.3 295.0v1.2M30.8 295.0v1.2M32.1 295.0v1.2M33.1 295.0v1.2M34 295.0v1.2M34.8 295.0v1.2M35.5 295.0v2.2M40.2 295.0v1.2M42.9 295.0v1.2M44.8 295.0v1.2M46.3 295.0v1.2M47.6 295.0v1.2M48.6 295.0v1.2M49.5 295.0v1.2M50.3 295.0v1.2M51 295.0v2.2M55.7 295.0v1.2M58.4 295.0v1.2M60.3 295.0v1.2M61.8 295.0v1.2M63.1 295.0v1.2M64.1 295.0v1.2M65 295.0v1.2M65.8 295.0v1.2M66.5 295.0v2.2M71.2 295.0v1.2M73.9 295.0v1.2M75.8 295.0v1.2M77.3 295.0v1.2M78.6 295.0v1.2M79.6 295.0v1.2M80.5 295.0v1.2M81.3 295.0v1.2M82 295.0v2.2M86.7 295.0v1.2M89.4 295.0v1.2M91.3 295.0v1.2M92.8 295.0v1.2M94.1 295.0v1.2M95.1 295.0v1.2M96 295.0v1.2M96.8 295.0v1.2M97.5 295.0v2.2" stroke="#111" stroke-width="0.75" fill="none"/>
<text x="23" y="224.6" font-size="7" text-anchor="start" fill="#231f20" stroke="#231f20" stroke-width="0.22">Cells 86%</text>
<text transform="translate(13.7 292.3) rotate(-90)" font-size="8.1" fill="#231f20" stroke="#231f20" stroke-width="0.22">SSC-A</text>
<text x="24.5" y="309.5" font-size="8.1" text-anchor="start" fill="#231f20" stroke="#231f20" stroke-width="0.22">FSC-A</text>
<line x1="92" y1="265.5" x2="140.6" y2="265.5" stroke="#231f20" stroke-width="0.9"/>
<path d="M144.6 265.5L140.6 267.7L140.6 263.3Z" fill="#231f20"/>
<path d="M151.1 276.3h0M152.6 275.8h0M162.3 271.3h0M163.2 271.2h0M168.6 267.6h0M152.6 276.1h0M172.2 266.7h0M157.0 273.2h0M178.9 260.2h0M180.7 262.5h0M175.6 262.1h0M179.3 261.8h0M172.3 263.8h0M182.0 261.4h0M153.7 274.8h0M181.2 263.9h0M162.7 268.9h0M165.0 270.8h0M153.6 275.0h0M164.6 268.8h0M168.4 273.0h0M148.6 278.9h0M152.4 278.8h0M161.5 270.4h0M161.4 273.4h0M176.0 266.1h0M164.3 271.3h0M163.9 268.7h0M160.0 274.8h0M174.5 262.9h0M184.5 261.0h0M149.5 280.2h0M183.5 262.2h0M164.6 269.2h0M171.4 265.0h0M181.8 258.7h0M157.2 273.9h0M173.0 264.3h0M152.7 277.3h0M174.8 262.7h0M168.8 266.0h0M139.8 282.4h0M170.2 265.1h0M149.2 279.9h0M153.8 274.1h0M170.3 264.0h0M177.5 264.7h0M163.9 270.0h0M163.9 270.6h0M169.6 268.6h0M148.1 279.2h0M177.4 261.4h0M170.5 270.6h0M177.1 261.6h0M151.1 275.6h0M161.3 271.0h0M146.3 279.9h0M183.6 261.3h0M149.9 277.8h0M179.5 260.5h0M181.7 266.8h0M163.6 271.4h0M167.0 270.5h0M167.6 266.8h0M176.4 261.3h0M168.3 266.3h0M162.9 269.3h0M177.3 263.0h0M169.0 269.8h0M183.3 260.3h0M161.1 273.9h0M148.6 278.5h0M172.0 269.9h0M179.2 259.1h0M176.0 267.7h0M159.8 271.5h0M169.4 267.1h0M167.3 269.4h0M183.5 267.7h0M182.0 261.5h0M166.9 266.5h0M168.3 267.3h0M174.6 267.6h0M153.4 276.5h0M167.7 265.5h0M152.1 275.2h0M158.6 273.7h0M170.9 266.0h0M176.7 260.0h0M151.7 277.2h0M172.1 264.5h0M152.4 274.6h0M170.2 266.1h0M180.0 263.2h0M153.9 275.8h0M150.4 276.6h0M180.9 260.5h0M157.3 273.8h0M165.1 268.1h0M152.1 276.1h0M155.4 275.3h0M182.2 259.8h0M179.8 259.4h0M180.7 259.7h0M161.3 273.6h0M169.0 267.5h0M172.7 266.3h0M167.1 270.0h0M147.7 278.8h0M184.3 262.2h0M157.6 275.8h0M158.4 274.3h0M159.1 271.5h0M178.6 265.7h0M149.8 278.1h0M156.4 277.0h0M150.7 277.0h0M161.0 270.3h0M162.2 269.8h0M159.8 272.5h0M169.4 265.0h0M181.6 259.4h0M182.0 258.3h0M165.1 267.3h0M149.5 278.8h0M182.5 266.2h0M144.8 280.9h0M175.7 262.2h0M145.5 281.8h0M165.7 274.5h0M162.4 276.1h0M156.2 275.3h0M167.7 271.0h0M173.6 265.1h0M165.7 269.5h0M161.6 273.4h0M175.8 270.7h0M161.0 271.9h0M166.1 270.6h0M172.0 271.3h0M146.9 281.8h0M178.0 261.9h0M147.2 280.2h0M179.8 262.2h0M158.7 272.6h0M164.7 274.6h0M169.1 267.6h0M176.0 260.6h0M178.1 265.7h0M180.3 259.9h0M183.3 261.0h0M150.7 277.5h0M164.0 269.2h0M175.8 267.1h0M172.7 265.3h0M171.3 264.9h0M178.2 260.3h0M183.0 262.3h0M160.9 270.6h0M160.3 271.2h0M181.7 259.3h0M165.7 268.5h0M172.8 267.7h0M141.4 281.4h0M161.2 271.8h0M181.9 264.9h0M151.9 279.8h0M156.0 273.2h0M175.4 270.0h0M180.0 260.8h0M157.9 274.8h0M152.0 277.3h0M153.7 275.7h0M152.0 277.4h0M147.4 282.3h0M149.2 279.0h0M150.5 279.5h0M157.4 273.5h0M147.4 279.3h0M170.6 264.5h0M182.5 260.9h0M159.4 273.5h0M152.0 278.4h0M142.5 280.6h0M152.5 279.1h0M151.5 277.6h0M161.9 270.3h0M148.5 277.2h0M178.9 261.6h0M178.8 267.0h0M166.4 270.0h0M162.6 273.1h0M172.6 269.5h0M160.6 271.4h0M154.9 274.7h0M143.8 282.2h0M177.0 261.3h0M154.1 275.0h0M167.3 267.2h0M153.0 274.5h0M181.2 260.4h0M162.4 275.8h0M164.0 271.0h0M177.3 260.4h0M148.8 278.2h0M178.8 264.6h0M159.0 272.2h0M169.4 266.9h0M155.8 275.3h0M166.5 268.4h0M148.4 279.0h0M174.6 261.8h0M177.0 264.3h0M173.4 263.8h0M167.5 268.1h0M162.6 268.5h0M148.0 278.4h0M174.9 264.5h0M148.8 277.9h0M175.5 266.1h0M175.8 270.1h0M156.2 273.8h0M164.4 269.0h0M156.6 273.6h0M159.6 274.8h0M148.8 280.4h0M156.0 272.8h0M155.0 274.9h0M179.7 268.3h0M181.8 264.2h0M160.0 271.6h0M170.4 266.9h0M164.7 269.9h0M162.0 271.5h0M171.5 263.7h0M177.0 264.5h0M160.5 270.3h0M163.4 272.6h0M160.5 273.6h0M175.9 261.7h0M148.5 279.9h0M161.5 272.2h0M144.5 280.1h0M163.7 269.9h0M152.6 274.6h0M181.9 265.4h0M164.9 271.2h0M180.8 259.1h0M175.2 266.3h0M151.1 276.9h0M149.6 280.5h0M177.3 263.0h0M154.4 273.8h0M161.7 270.4h0M167.2 267.8h0M175.8 265.2h0M177.0 263.2h0M150.6 277.2h0M161.6 271.4h0M158.6 272.2h0M177.9 262.2h0M170.1 264.6h0M183.6 260.8h0M169.0 267.6h0M141.3 284.2h0M181.2 265.9h0M183.9 262.9h0M144.1 280.2h0M171.6 264.8h0M170.4 270.9h0M181.9 259.3h0M164.8 269.9h0M162.9 269.7h0M152.6 274.6h0M175.9 266.4h0M149.8 278.3h0M156.4 275.6h0M146.7 278.6h0M174.2 265.9h0M157.5 274.8h0M161.4 269.6h0M146.6 281.0h0M180.0 259.2h0M159.0 272.3h0M174.0 264.5h0M143.2 281.0h0M183.2 261.1h0M176.5 263.1h0M168.7 269.6h0M182.1 260.2h0M160.2 274.6h0M171.4 265.1h0M145.2 280.7h0M166.4 268.9h0M170.8 265.6h0M168.4 266.9h0M160.8 270.0h0M145.0 280.1h0M182.7 258.2h0M171.3 267.3h0M178.7 261.8h0M143.3 282.0h0M150.0 277.6h0M145.8 280.1h0M178.9 263.3h0M165.5 268.0h0M178.9 261.7h0M169.3 265.8h0M165.5 269.4h0M151.2 277.7h0M171.7 267.1h0M165.2 273.3h0M179.1 260.4h0M171.9 270.5h0M149.6 277.2h0M181.8 258.8h0M147.9 279.0h0M162.3 271.2h0M180.2 261.7h0M177.7 260.9h0M156.5 275.6h0M165.1 270.4h0M172.2 263.6h0M176.9 265.6h0M174.0 262.5h0M159.2 271.2h0M178.1 266.9h0M158.1 273.0h0M177.2 260.8h0M162.3 268.7h0M170.4 266.5h0M181.4 258.6h0M164.2 269.7h0M167.5 270.3h0M165.1 273.0h0M170.2 265.1h0M178.4 260.3h0M159.5 272.7h0M173.6 264.0h0M162.4 272.8h0M172.7 267.8h0M144.8 280.7h0M169.7 266.6h0M150.4 276.5h0M145.1 281.4h0M166.9 267.4h0M166.2 267.0h0M156.4 274.8h0M153.0 277.1h0M175.5 264.5h0M167.1 271.8h0M167.8 271.5h0M173.3 263.4h0M172.8 264.6h0M161.4 270.9h0M164.9 270.1h0M169.5 269.4h0M173.1 269.0h0M160.8 274.5h0M176.1 260.7h0M158.8 272.9h0M157.9 273.8h0M157.6 272.8h0M179.5 259.0h0M152.4 276.8h0M169.1 267.6h0M167.0 266.5h0M149.6 276.5h0M164.1 270.8h0M143.5 283.3h0M165.4 268.3h0M168.8 268.9h0M180.4 262.9h0M150.0 278.3h0M144.4 281.5h0M167.0 267.4h0M173.2 267.2h0M149.9 278.8h0M142.5 281.0h0M163.6 270.1h0M146.7 278.9h0M180.5 260.4h0M146.1 282.9h0M147.0 278.9h0M164.2 268.3h0M170.2 265.1h0M180.9 258.1h0M149.9 276.5h0M158.0 272.3h0M174.5 269.5h0M161.9 270.0h0M180.8 260.3h0M161.1 272.2h0M151.3 277.4h0M142.2 282.1h0M158.4 274.5h0M165.5 267.7h0M159.1 277.3h0M171.9 268.5h0M174.5 271.8h0M167.3 268.9h0M156.0 274.5h0M166.6 270.7h0M173.4 262.9h0M185.3 263.5h0M179.0 268.7h0M147.0 278.9h0M164.8 271.9h0M149.9 276.4h0M150.4 280.0h0M155.8 273.9h0M165.4 269.5h0M162.7 271.3h0M151.5 275.6h0M172.7 264.9h0M167.7 267.7h0M150.1 277.8h0M185.4 265.5h0M168.3 269.6h0M164.6 270.6h0M182.0 258.9h0M183.6 260.5h0M177.0 261.5h0M147.6 281.2h0M182.4 259.3h0M158.2 275.6h0M150.1 277.1h0M157.9 271.8h0M142.8 281.3h0M169.8 266.8h0M172.3 267.6h0M178.1 266.4h0M176.5 266.9h0M176.0 260.3h0M176.7 265.6h0M173.4 266.1h0M155.2 276.3h0M171.1 264.8h0M171.9 263.4h0M175.7 268.1h0M167.2 269.7h0M174.0 265.2h0M143.1 282.9h0M170.1 269.2h0M162.1 271.7h0M177.4 261.5h0M155.5 274.6h0M182.3 263.1h0M173.2 266.7h0M175.5 260.6h0M174.9 263.0h0M145.2 279.9h0M157.6 273.6h0M168.4 270.1h0M173.8 266.5h0M176.6 265.6h0M168.0 267.4h0M165.9 269.9h0M159.8 275.3h0M173.3 265.1h0M166.9 267.3h0M175.6 263.2h0M157.0 273.4h0M147.9 281.0h0M163.0 268.9h0M168.9 271.8h0M164.2 267.6h0M147.5 280.8h0M165.4 275.4h0M182.3 259.5h0M182.2 260.5h0M167.3 268.0h0M160.4 271.3h0M156.6 274.1h0M160.0 271.1h0M156.9 275.2h0M153.9 275.6h0M183.4 263.6h0M174.4 262.6h0M149.2 277.2h0M170.6 267.5h0M172.3 264.1h0M156.7 277.3h0M177.1 262.7h0M182.9 262.0h0M149.4 278.5h0M160.5 270.8h0M160.7 271.2h0M161.1 273.7h0M176.1 265.0h0M154.1 275.3h0M156.0 272.9h0M169.9 264.4h0M169.8 266.9h0M160.0 270.5h0M161.9 270.5h0M169.7 264.7h0M171.8 266.5h0M172.2 263.4h0M152.4 275.0h0M179.5 259.6h0M168.4 267.0h0M160.3 272.3h0M164.9 273.2h0M182.1 261.0h0M177.5 260.4h0M153.5 275.2h0M179.9 265.2h0M180.5 259.3h0M159.1 273.3h0M164.1 269.2h0M183.5 264.6h0M170.1 266.3h0M166.3 267.6h0M144.8 283.3h0M148.1 279.9h0M175.8 264.0h0M166.9 269.5h0M153.4 275.6h0M144.7 281.6h0M147.7 278.3h0M149.4 276.9h0M170.5 270.5h0M160.7 274.9h0M172.3 266.5h0M152.5 276.2h0M145.1 281.4h0M159.2 272.4h0M152.1 276.8h0M173.0 265.8h0M156.7 273.1h0M147.3 280.6h0M182.1 259.9h0M150.4 275.6h0M148.2 282.1h0M159.0 274.0h0M179.8 261.4h0M143.4 283.0h0M160.9 270.7h0M151.1 278.4h0M181.9 263.0h0M170.6 265.9h0M157.4 272.8h0M154.3 277.0h0M177.6 264.0h0M153.7 276.9h0M153.7 274.1h0M159.9 273.0h0M181.9 258.9h0M182.3 258.2h0M162.0 271.0h0M169.7 266.4h0M163.8 268.1h0M143.8 282.0h0M178.2 263.3h0M150.0 277.5h0M161.0 270.2h0M145.3 279.3h0M159.3 274.4h0M156.8 276.8h0M159.3 274.4h0M153.9 274.0h0M162.2 271.1h0M173.4 263.4h0M178.7 259.8h0M178.6 264.1h0M167.1 270.5h0M144.2 283.3h0M151.3 280.2h0M167.1 267.9h0M181.1 264.3h0M166.0 267.6h0M162.2 269.8h0M147.1 280.5h0M170.2 270.9h0M142.9 281.4h0M151.0 275.9h0M171.7 266.2h0M164.8 271.2h0M179.2 261.1h0M180.8 258.6h0M171.1 266.5h0M149.0 279.8h0M168.6 266.8h0M154.2 277.8h0M177.0 260.4h0M148.5 276.8h0M164.4 272.0h0M160.2 272.7h0M178.7 261.7h0M151.5 276.6h0M179.8 258.0h0M154.2 274.4h0M166.4 267.7h0M170.8 269.8h0M176.0 265.2h0M179.6 259.7h0M171.0 264.3h0M170.3 265.1h0M151.4 281.1h0M177.3 269.5h0M164.9 269.5h0M180.6 260.1h0M160.9 272.8h0M154.6 274.8h0M144.3 280.9h0M177.2 261.7h0M179.6 267.9h0M182.4 258.7h0M167.8 268.1h0M144.0 281.4h0M156.5 273.4h0M148.3 276.7h0M179.6 259.2h0M179.2 259.4h0M168.7 267.5h0M178.2 260.0h0M164.4 271.0h0M153.7 276.8h0M167.4 266.4h0M144.9 280.1h0M180.9 260.5h0M182.7 266.2h0M169.9 273.1h0M164.5 269.3h0M172.1 263.9h0M151.1 278.1h0M179.1 260.4h0M155.5 274.5h0M179.2 260.9h0M150.0 277.7h0M161.6 272.5h0M175.8 261.9h0M174.9 263.2h0M150.7 276.8h0M174.9 264.9h0M183.1 260.5h0M178.4 259.9h0M169.4 266.5h0M151.2 278.5h0M142.9 281.3h0M177.6 262.6h0M158.9 271.7h0M171.9 265.1h0M177.1 261.0h0M166.2 269.0h0M154.9 275.7h0M149.9 278.6h0M158.4 272.7h0M153.1 276.5h0M154.9 274.7h0M176.0 263.2h0M178.4 259.9h0M158.9 273.0h0M174.6 264.6h0M159.7 271.4h0M169.7 267.9h0M168.7 265.8h0M176.0 261.6h0M174.3 263.9h0M161.6 274.1h0M170.1 270.1h0M144.5 281.7h0M164.0 270.0h0M172.1 268.5h0M166.9 274.5h0M164.3 269.7h0M174.4 263.4h0M151.1 277.2h0M174.4 262.6h0M180.3 264.6h0M176.5 265.3h0M144.6 282.5h0M158.4 272.2h0M163.3 270.9h0M177.0 267.5h0M182.2 262.5h0M150.4 279.4h0M172.4 264.7h0M171.1 268.0h0M163.3 268.7h0M166.8 268.1h0M153.1 276.7h0M149.0 278.0h0M184.7 265.8h0M172.6 269.9h0M171.5 265.1h0M164.0 269.4h0M146.7 280.2h0M175.4 263.1h0M182.7 261.6h0M158.8 274.7h0M144.3 280.8h0M175.2 264.6h0M152.8 275.0h0M173.2 267.7h0M176.4 270.2h0M172.6 263.9h0M159.7 270.8h0M166.6 273.6h0M180.1 258.2h0M167.5 272.2h0M184.4 263.4h0M160.3 273.4h0M154.4 276.3h0M179.1 262.1h0M155.5 273.6h0M168.8 269.0h0M172.6 265.3h0M179.4 261.1h0M151.7 277.4h0M141.3 282.8h0M178.2 264.1h0M174.3 261.5h0M172.6 269.3h0M158.6 272.3h0M143.7 280.9h0M154.2 274.7h0M176.9 267.2h0M175.9 260.6h0M176.7 261.8h0M153.6 276.6h0M150.8 278.0h0M174.5 263.9h0M181.3 265.2h0M175.6 262.1h0M149.7 278.5h0M169.6 270.1h0M161.7 272.3h0M167.9 267.8h0M150.3 279.1h0M145.5 282.9h0M168.1 269.9h0M168.0 271.6h0M171.0 266.0h0M169.8 266.2h0M158.0 274.9h0M170.9 263.5h0M148.9 278.0h0M177.9 263.2h0M179.5 261.8h0M166.2 267.9h0M169.2 271.2h0M169.9 267.1h0M160.3 272.9h0M145.4 280.6h0M176.2 265.3h0M154.5 275.5h0M162.1 270.5h0M163.3 269.6h0M175.4 264.5h0M176.1 262.8h0M161.6 270.2h0M153.3 275.9h0M156.0 274.1h0M157.2 272.5h0M177.3 262.1h0M166.3 272.3h0M180.7 263.5h0M170.6 264.9h0M181.0 260.3h0M182.7 257.6h0M168.3 265.3h0M159.0 274.2h0M175.4 262.1h0M168.5 266.3h0M153.9 275.5h0M142.3 284.3h0M177.5 260.9h0M164.3 268.6h0M168.4 268.1h0M180.5 263.8h0M171.2 266.4h0M178.5 262.0h0M161.8 275.5h0M175.4 262.1h0M178.7 261.4h0M168.0 266.4h0M180.6 267.2h0M151.2 276.3h0M166.7 268.7h0M170.8 264.3h0M166.0 267.0h0M175.6 267.2h0M150.7 277.9h0M163.1 269.9h0M154.0 275.5h0M166.9 266.6h0M171.0 268.1h0M157.2 273.4h0M159.3 277.3h0M156.0 273.2h0M144.5 279.9h0M175.8 265.0h0M145.5 279.2h0M145.5 280.3h0M177.4 260.8h0M150.5 276.7h0M155.0 276.6h0M177.0 268.5h0M147.1 279.2h0M180.4 261.3h0M166.1 274.3h0M148.3 277.3h0M157.6 275.4h0M166.2 267.5h0M164.3 268.8h0M168.1 266.8h0M180.1 262.6h0M170.5 267.4h0M159.5 275.2h0M169.2 266.6h0M154.2 275.9h0M163.8 270.1h0M161.4 271.4h0M181.0 258.3h0M158.3 271.3h0M158.0 272.9h0M182.0 266.6h0M177.7 262.1h0M182.3 262.2h0M182.0 261.3h0M165.9 272.2h0M180.1 260.2h0M167.8 272.3h0M179.1 260.8h0M161.2 270.3h0M151.8 276.6h0M149.7 279.3h0M154.0 274.8h0M162.6 270.1h0M167.4 270.1h0M148.2 279.6h0M158.7 272.1h0M144.4 280.1h0M166.3 268.7h0M181.7 258.8h0M165.0 270.1h0M142.5 281.4h0M163.7 270.6h0M150.5 276.4h0M169.2 266.8h0M156.2 274.1h0M161.9 269.9h0M159.2 272.4h0M152.1 277.8h0M141.4 282.1h0M146.2 280.3h0M178.6 263.6h0M161.0 274.3h0M176.9 264.6h0M183.0 261.7h0M154.4 273.6h0M148.1 280.4h0M174.1 262.5h0M159.5 275.0h0M151.2 277.6h0M172.0 266.3h0M182.6 259.7h0M143.5 283.2h0M150.0 278.6h0M173.6 264.3h0M179.2 260.1h0M170.0 266.5h0M171.4 264.8h0M155.1 278.7h0M170.4 265.6h0M157.9 274.1h0M167.7 267.3h0M166.9 268.8h0M169.9 266.4h0M177.7 261.0h0M156.6 275.3h0M175.2 269.4h0M178.8 259.1h0M180.3 262.6h0M157.6 272.6h0M178.8 261.0h0M148.0 279.1h0M164.6 268.2h0M165.5 268.9h0M152.2 280.1h0M178.0 260.3h0M182.8 261.2h0M160.7 271.3h0M154.1 275.7h0M176.1 262.6h0M176.1 262.4h0M168.4 267.7h0M179.6 261.3h0M167.3 266.6h0M169.5 264.7h0M178.8 260.3h0M178.1 267.7h0M180.2 264.4h0M178.3 263.2h0M156.8 277.2h0M168.2 271.9h0M176.9 261.9h0M176.8 262.4h0M178.1 264.5h0M160.7 270.4h0M155.3 276.3h0M180.9 262.4h0M173.6 266.8h0M168.3 269.3h0M163.1 271.2h0M155.7 275.3h0M178.2 261.2h0M160.4 273.4h0M150.7 279.1h0M157.2 274.2h0M155.8 274.6h0M158.0 273.4h0M153.5 275.4h0M143.9 280.4h0M174.4 261.9h0M160.1 271.6h0M176.2 263.2h0M157.4 274.3h0M149.5 276.7h0M154.9 278.4h0M179.1 260.8h0M157.7 273.4h0M174.0 263.3h0M152.7 276.6h0M170.7 272.6h0M153.9 274.7h0M164.8 270.3h0M172.1 264.0h0M177.9 262.5h0M143.3 281.7h0M147.5 281.6h0M169.9 265.3h0M171.9 266.9h0M163.0 271.6h0M148.4 280.2h0M144.8 280.8h0M171.3 263.7h0M153.0 275.9h0M177.7 262.2h0M160.6 273.2h0M149.4 277.5h0M155.5 273.5h0M158.9 271.0h0M179.5 259.0h0M179.0 260.8h0M165.1 270.6h0M182.0 258.6h0M159.0 271.4h0M145.9 281.0h0M181.2 259.5h0M153.9 275.8h0M144.6 282.4h0M183.5 260.5h0M144.7 282.1h0M156.2 274.2h0M161.0 270.5h0M181.8 259.3h0M152.7 277.6h0M161.0 272.1h0M176.3 265.4h0M159.9 275.1h0M174.2 265.9h0M182.2 262.3h0M155.7 276.8h0M143.3 281.6h0M159.3 271.5h0M177.9 263.7h0M150.5 279.6h0M182.9 258.4h0M143.5 281.9h0M149.8 277.1h0M173.4 265.5h0M162.5 268.5h0M155.8 273.6h0M156.2 275.0h0M161.9 272.8h0M154.0 274.8h0M180.0 262.3h0M167.7 266.7h0M175.5 263.1h0M155.8 276.0h0M169.4 266.6h0M172.6 267.0h0M154.2 275.0h0M145.6 278.9h0M150.8 276.8h0M152.8 275.8h0M158.8 272.8h0M153.0 274.8h0M177.3 260.3h0M145.3 281.2h0M145.7 281.2h0M171.7 264.1h0M158.3 274.3h0M165.0 268.0h0M175.8 264.8h0M178.5 261.0h0M174.7 262.7h0M175.8 261.2h0M142.2 282.9h0M174.4 265.3h0M181.6 265.1h0M183.4 261.2h0M178.9 260.4h0M181.0 258.8h0M179.6 258.6h0M166.0 267.9h0M169.3 265.7h0M163.2 271.6h0M159.7 272.0h0M155.7 273.5h0M179.7 263.5h0M165.2 270.9h0M174.1 264.0h0M153.6 274.9h0M183.0 263.2h0M148.9 277.7h0M173.8 263.5h0M163.5 271.2h0M155.5 278.5h0M175.4 264.5h0M155.9 276.5h0M145.1 282.9h0M173.6 266.5h0M176.8 261.8h0M156.5 273.3h0M161.9 271.4h0M145.8 279.6h0M162.2 273.3h0M167.4 268.7h0M175.5 263.1h0M180.8 261.6h0M166.6 271.8h0M149.6 282.0h0M162.5 271.2h0M182.4 259.0h0M163.4 269.4h0M151.4 276.4h0M158.1 271.1h0M172.2 268.7h0M157.8 275.8h0M156.4 275.7h0M178.7 260.8h0M170.4 268.0h0M161.0 272.4h0M175.8 261.3h0M147.6 279.8h0M167.5 265.5h0M166.8 267.5h0M155.3 272.9h0M166.9 266.9h0M165.5 271.3h0M149.3 279.5h0M174.1 263.3h0M160.0 271.7h0M162.9 271.7h0M157.0 276.9h0M143.7 279.9h0M152.8 274.5h0M162.5 275.3h0M184.5 264.2h0M150.5 276.4h0M154.1 276.1h0M180.6 263.1h0M173.4 263.3h0M159.6 274.7h0M147.7 279.8h0M143.4 281.2h0M167.8 272.1h0M173.9 263.8h0M170.8 266.6h0M176.5 262.7h0M144.7 281.7h0M182.3 258.8h0M148.0 278.5h0M146.9 280.6h0M167.1 273.8h0M152.9 274.3h0M144.7 279.4h0M157.7 272.6h0M179.9 263.5h0M158.7 273.1h0M152.6 275.4h0M166.9 270.4h0M162.1 272.1h0M150.8 276.3h0M143.0 281.7h0M166.1 269.0h0M162.0 271.3h0M174.1 261.8h0M179.6 261.7h0M179.7 262.3h0M156.4 274.1h0M174.3 262.2h0M172.0 264.5h0M167.3 267.8h0M174.0 265.0h0M155.9 274.0h0M177.1 262.5h0M175.3 264.4h0M142.9 282.0h0M143.2 281.3h0M142.2 283.4h0M178.4 260.7h0M177.9 263.1h0M172.0 264.5h0M167.0 266.1h0M160.8 271.2h0M172.4 270.1h0M178.6 261.1h0M147.8 278.7h0M167.3 268.4h0M148.6 278.1h0M154.8 274.6h0M144.2 281.6h0M148.1 278.8h0M170.1 270.6h0M164.4 268.1h0M172.2 266.1h0M166.9 267.8h0M163.4 275.1h0M172.9 266.2h0M165.6 269.1h0M171.4 264.1h0M180.8 259.0h0M168.6 271.8h0M153.2 277.6h0M146.4 280.2h0M144.4 281.1h0M180.0 258.7h0M181.2 262.8h0M153.0 274.3h0M180.2 268.4h0M157.9 273.5h0M171.3 266.2h0M154.8 273.7h0M173.4 262.7h0M166.4 270.4h0M180.6 259.0h0M151.4 279.7h0M172.2 263.7h0M148.2 277.6h0M163.6 272.5h0M143.3 281.6h0M178.3 260.4h0M149.8 277.4h0M162.8 272.8h0M141.3 282.2h0M148.4 279.1h0M181.1 259.8h0M168.7 271.8h0M150.6 278.2h0M150.8 281.1h0M183.1 260.0h0M150.3 276.8h0M181.0 258.4h0M162.0 273.7h0M176.7 261.7h0M165.3 274.8h0M161.1 270.9h0M143.9 281.2h0M164.2 271.4h0M181.7 259.1h0M143.1 283.5h0M174.1 263.5h0M156.2 273.7h0M171.5 270.4h0M167.4 267.8h0M176.9 262.6h0M173.0 264.4h0M165.5 269.1h0M176.2 265.2h0M145.3 280.1h0M175.6 265.1h0M170.6 264.8h0M161.9 270.2h0M173.3 267.9h0M158.3 272.0h0M163.3 269.5h0M185.2 261.7h0M163.1 269.3h0M166.7 267.0h0M169.7 267.1h0M173.3 269.3h0M156.9 274.8h0M160.1 270.9h0M157.4 274.3h0M161.8 269.9h0M175.3 264.2h0M166.4 268.0h0M148.9 280.3h0M172.0 265.4h0M161.4 272.2h0M175.0 263.8h0M153.8 275.7h0M171.2 268.2h0M146.1 279.4h0M159.9 270.8h0M149.2 277.4h0M177.3 260.4h0M151.4 277.4h0M160.1 271.4h0M179.3 267.3h0M155.8 274.2h0M166.6 267.8h0M177.3 266.6h0M173.7 264.5h0M147.4 278.3h0M177.2 262.6h0M148.4 278.4h0M150.4 277.3h0M162.5 272.6h0M158.2 277.8h0M175.2 264.6h0M144.2 280.6h0M148.3 277.1h0M182.6 261.0h0M162.4 276.0h0M167.9 268.3h0M167.8 266.9h0M183.6 259.3h0M182.1 259.2h0M155.8 274.2h0M183.5 258.8h0M174.2 264.1h0M160.0 271.5h0M173.7 263.1h0M158.3 272.3h0M169.3 269.3h0M148.4 280.1h0M144.9 281.7h0M173.9 263.3h0M165.0 268.3h0M167.0 266.3h0M160.2 273.8h0M150.1 280.6h0M176.2 265.7h0M172.6 262.7h0M172.0 269.1h0M170.7 265.9h0M171.3 265.1h0M144.1 281.0h0M165.8 269.9h0M163.9 273.6h0M173.3 264.3h0M163.8 270.3h0M158.1 271.6h0M181.0 264.5h0M162.2 269.2h0M161.4 273.4h0M148.6 280.5h0M168.2 268.3h0M183.8 261.0h0M175.7 268.7h0M159.9 273.2h0M176.5 262.0h0M165.5 270.1h0M163.0 270.7h0M160.4 271.8h0M165.4 271.2h0M159.0 275.7h0M176.5 261.1h0M175.5 266.8h0M175.1 262.7h0M164.9 269.3h0M153.8 275.4h0M160.7 276.8h0M177.8 262.4h0M166.3 268.2h0M144.9 280.7h0M161.8 271.9h0M166.8 270.4h0M171.4 266.5h0M180.8 262.2h0M159.2 270.5h0M155.2 273.3h0M147.8 281.4h0M179.2 261.7h0M170.6 268.3h0M174.2 264.1h0M164.5 272.8h0M143.0 280.6h0M162.4 272.7h0M162.1 269.8h0M162.5 271.0h0M156.4 276.5h0M149.0 278.3h0M176.0 261.7h0M163.1 271.6h0M171.3 264.8h0M158.8 272.5h0M147.1 279.7h0M175.5 262.8h0M157.0 273.0h0M149.3 277.6h0M163.7 275.8h0M173.2 267.2h0M152.0 276.1h0M167.4 269.5h0M161.4 271.8h0M154.5 275.3h0M168.9 268.1h0M180.1 261.6h0M157.5 274.0h0M168.1 268.2h0M181.0 267.3h0M175.0 266.3h0M150.2 277.5h0M163.6 269.4h0M179.5 261.5h0M149.7 276.9h0M143.8 280.5h0M144.2 282.3h0M173.7 262.6h0M181.3 262.5h0M164.0 268.8h0M174.4 265.8h0M172.2 264.2h0M179.1 258.7h0M183.5 267.0h0M175.0 268.5h0M166.5 268.1h0M168.3 269.5h0M167.3 274.0h0M170.5 264.5h0M141.7 282.8h0M173.5 267.1h0M162.3 270.0h0M177.4 261.7h0M157.5 272.2h0M182.3 258.1h0M168.6 266.1h0M153.6 275.7h0M168.4 265.9h0M167.7 270.8h0M166.1 269.6h0M167.9 265.9h0M146.2 279.3h0M168.5 272.6h0M178.1 260.3h0M173.9 264.7h0M162.7 271.3h0M177.6 263.1h0M157.3 273.0h0M146.5 278.7h0M170.8 266.0h0M180.9 260.8h0M174.5 264.1h0M170.5 263.9h0M178.8 263.5h0M179.1 268.2h0M164.0 269.1h0M177.8 260.4h0M166.1 267.0h0M180.4 258.6h0M174.2 265.7h0M159.1 274.2h0M175.0 264.0h0M164.0 272.7h0M150.9 275.7h0M150.0 277.9h0M171.9 268.9h0M164.6 272.0h0M165.6 267.9h0M174.0 263.0h0M175.0 265.7h0M160.5 270.6h0M151.1 276.9h0M165.2 267.6h0M166.2 268.0h0M140.3 281.3h0M164.5 271.4h0M151.9 275.5h0M153.4 274.7h0M174.0 264.1h0M166.2 269.5h0M157.8 273.7h0M170.0 266.1h0M159.6 272.4h0M148.5 277.3h0M158.1 272.6h0M151.0 277.8h0M161.8 271.5h0M168.1 265.9h0M167.3 267.7h0M181.6 258.1h0M155.8 274.0h0M166.1 274.4h0M162.3 270.7h0M143.9 281.5h0M176.5 261.4h0M162.8 269.3h0M171.7 265.5h0M158.7 272.2h0M176.5 261.7h0M162.8 274.3h0M159.5 273.2h0M178.0 258.7h0M182.8 262.2h0M154.5 275.3h0M158.3 272.0h0M171.9 270.1h0M179.2 263.8h0M175.2 263.4h0M167.4 266.9h0M149.9 279.2h0M164.0 272.4h0M178.2 266.0h0M154.0 274.3h0M179.3 262.0h0M165.4 268.3h0M179.6 262.2h0M167.3 273.6h0M169.9 265.3h0M171.8 267.9h0M177.7 266.0h0M183.5 262.8h0M147.2 282.0h0M177.3 266.2h0M169.5 265.0h0M164.8 268.7h0M176.9 262.7h0M172.7 265.3h0M170.3 267.0h0M177.2 265.0h0M174.9 262.4h0M155.4 277.8h0M175.6 260.9h0M143.4 280.9h0M148.3 277.9h0M173.0 263.5h0M165.2 267.9h0M155.2 275.5h0M171.3 267.6h0M148.7 279.2h0M172.8 270.5h0M177.1 262.6h0M160.7 271.8h0M168.2 268.3h0M167.3 265.4h0M152.9 279.1h0M169.5 270.9h0M153.1 274.4h0M172.2 266.7h0M170.6 264.3h0M162.2 273.6h0M181.2 261.0h0M144.2 283.1h0M176.8 266.0h0M169.9 271.7h0M172.9 263.9h0M183.2 261.6h0M169.8 268.5h0M169.1 266.1h0M148.9 279.2h0M156.7 272.6h0M165.2 268.5h0M166.3 273.3h0M179.5 260.1h0M152.5 279.1h0M143.1 281.5h0M182.6 259.6h0M163.2 271.1h0M141.4 281.8h0M148.1 278.7h0M179.5 261.3h0M172.0 262.9h0M154.4 275.1h0M171.4 264.5h0M153.7 277.7h0M153.8 274.3h0M175.4 262.5h0M151.5 276.5h0M159.2 272.8h0M163.2 271.2h0M161.3 270.0h0M178.6 262.3h0M164.4 269.2h0M171.9 269.7h0M152.4 277.0h0M161.6 275.9h0M156.2 274.8h0M176.2 261.5h0M180.1 259.9h0M151.0 276.3h0M169.5 271.4h0M173.7 263.5h0M163.2 269.3h0M141.9 280.7h0M153.0 276.2h0M168.4 266.4h0M181.9 261.7h0M178.9 261.8h0M173.4 265.4h0M168.4 265.9h0M175.3 261.7h0M164.7 270.0h0M185.2 263.7h0M182.5 258.0h0M168.6 267.2h0M170.1 264.6h0M178.7 263.1h0M152.1 275.7h0M147.6 279.5h0M172.0 268.2h0M177.4 262.0h0M151.0 279.0h0M144.0 284.5h0M155.1 275.1h0M180.2 263.8h0M149.7 278.2h0M175.4 261.8h0M179.7 263.2h0M163.6 271.6h0M172.2 263.6h0M174.1 266.6h0M152.6 275.2h0M162.6 268.5h0M184.0 262.0h0M163.5 268.4h0M160.7 270.5h0M175.4 264.1h0M170.0 265.6h0M160.8 271.0h0M149.4 277.4h0M164.4 270.8h0M183.5 261.7h0M169.9 271.4h0M178.6 259.4h0M150.8 277.8h0M176.5 260.7h0M178.8 259.0h0M168.9 266.1h0M168.1 267.9h0M165.2 267.3h0M181.0 259.0h0M163.1 270.0h0M178.8 261.9h0M170.2 264.5h0M160.7 271.3h0M157.5 275.3h0M166.4 273.4h0M180.8 263.8h0M150.7 277.9h0M170.4 264.7h0M184.4 263.3h0M158.8 271.8h0M173.1 264.2h0M155.8 273.6h0M147.9 280.4h0M180.7 264.0h0M167.4 266.5h0M147.6 277.6h0M182.6 260.8h0M173.1 263.0h0M170.8 266.3h0M154.8 275.1h0M177.2 260.5h0M169.5 265.7h0M142.9 280.8h0M175.0 263.4h0M179.7 262.6h0M179.2 259.1h0M169.6 268.0h0M173.9 267.6h0M157.5 272.5h0M163.4 269.2h0M171.4 271.9h0M181.7 265.6h0M180.2 260.0h0M164.8 268.6h0M165.5 268.2h0M164.2 269.1h0M157.5 272.3h0M184.9 260.2h0M181.6 261.1h0M177.1 261.7h0M167.7 266.5h0M144.2 279.4h0M158.4 273.8h0M145.8 280.5h0M145.5 281.3h0M182.8 257.7h0M178.1 266.5h0M164.7 271.4h0M151.1 276.1h0M154.4 274.2h0M175.1 263.2h0M180.6 259.4h0M179.9 265.0h0M153.0 276.0h0M151.9 278.1h0M182.9 259.1h0M183.4 260.8h0M156.0 273.4h0M183.2 261.4h0M165.9 268.9h0M168.3 266.6h0M172.2 267.8h0M177.4 266.7h0M143.5 282.4h0M142.7 282.5h0M146.2 278.2h0M154.5 274.3h0M155.4 276.8h0M146.6 281.4h0M153.3 278.3h0M168.1 266.8h0M182.2 258.7h0M144.9 279.9h0M166.6 267.5h0M166.9 267.2h0M157.6 272.6h0M169.6 267.5h0M146.9 279.0h0M181.9 258.0h0M178.9 262.1h0M150.9 275.3h0M171.6 263.9h0M152.2 277.8h0M166.6 267.0h0M179.1 264.6h0M156.4 273.2h0M168.7 267.1h0M165.7 268.4h0M151.1 280.8h0M175.2 261.6h0M175.0 263.4h0M163.0 269.6h0M147.0 279.4h0M150.1 279.6h0M155.1 275.5h0M149.0 277.9h0M145.5 281.4h0M161.3 271.3h0M167.0 267.3h0M162.2 270.7h0M165.9 270.3h0M151.3 277.5h0M172.6 265.2h0M154.0 274.7h0M145.5 280.1h0M161.9 272.2h0M143.8 281.9h0M166.0 268.1h0M170.2 264.4h0M182.5 257.5h0M180.4 261.9h0M148.4 278.5h0M171.3 265.7h0M167.0 267.6h0M173.3 267.9h0M181.0 259.4h0M176.6 262.6h0M174.2 262.3h0M171.2 263.8h0M177.6 263.6h0M172.6 263.3h0M177.1 260.7h0M146.5 279.2h0M146.1 281.2h0M155.8 275.0h0M174.7 266.1h0M145.1 280.4h0M167.1 266.7h0M174.1 265.1h0M164.3 268.8h0M181.8 260.2h0M170.4 265.5h0M170.4 271.3h0M179.6 263.4h0M184.2 262.7h0M173.3 263.8h0M182.5 262.3h0M166.9 267.3h0M147.4 278.7h0M148.2 281.1h0M167.9 269.3h0M160.4 271.7h0M166.0 267.8h0M151.5 276.3h0M166.5 271.6h0M164.5 269.4h0M171.5 265.5h0M163.1 269.5h0M154.1 275.5h0M161.6 272.0h0M180.7 259.6h0M180.1 261.1h0M175.0 261.6h0M168.7 266.5h0M143.0 280.8h0M150.4 277.6h0M178.4 262.8h0M171.6 269.8h0M147.5 278.2h0M149.1 278.9h0M160.8 273.9h0M175.2 266.0h0M167.3 268.4h0M152.2 276.3h0M164.9 268.5h0M157.5 272.2h0M178.1 264.5h0M184.9 264.3h0M159.4 272.2h0M169.3 267.2h0M177.0 263.3h0M164.2 268.0h0M177.5 261.1h0M172.0 263.7h0M159.5 271.5h0M181.8 258.3h0M156.8 272.4h0M183.6 260.3h0M158.2 272.0h0M155.1 275.1h0M173.9 265.1h0M175.6 260.6h0M143.8 280.9h0M154.5 275.7h0M170.8 265.7h0M169.9 269.8h0M153.2 276.5h0M168.5 265.7h0M172.6 272.4h0M160.6 270.6h0M175.8 267.6h0M164.8 273.9h0M173.8 262.9h0M165.9 269.8h0M175.8 262.7h0M181.0 259.5h0M157.9 272.9h0M177.0 265.9h0M179.2 259.3h0M154.7 278.4h0M173.4 268.4h0M157.5 274.9h0M165.9 272.4h0M151.7 276.6h0M164.1 273.4h0M180.0 259.1h0M154.5 274.3h0M167.4 269.3h0M161.0 271.3h0M161.4 270.1h0M181.1 261.1h0M176.4 262.6h0M180.4 262.0h0M177.2 260.8h0M164.1 273.3h0M147.2 278.6h0M183.0 258.8h0M169.6 265.2h0M160.2 276.7h0M161.4 273.8h0M148.8 277.8h0M144.9 280.2h0M147.0 279.9h0M180.9 259.6h0M162.7 270.7h0M147.1 281.5h0M158.9 272.2h0M158.5 277.2h0M157.9 271.4h0M174.8 266.1h0M142.1 283.0h0M162.3 273.6h0M142.7 282.2h0M158.1 275.3h0M142.5 282.0h0M181.7 258.3h0M178.9 266.4h0M175.1 270.5h0M165.4 269.8h0M183.4 262.3h0M181.0 259.1h0M152.6 276.8h0M148.3 278.1h0M169.7 264.3h0M159.0 272.6h0M144.3 280.8h0M165.9 267.4h0M182.2 260.9h0M163.2 269.5h0M177.7 262.9h0M170.0 267.1h0M183.3 258.5h0M181.0 261.7h0M158.2 273.3h0M147.1 281.4h0M147.8 280.2h0M180.2 257.6h0M177.0 265.3h0M170.2 270.0h0M169.5 265.5h0M150.1 280.7h0M167.0 270.2h0M168.9 265.1h0M169.6 266.0h0M171.8 266.3h0M183.5 263.3h0M172.7 263.0h0M177.5 263.2h0M172.0 268.6h0M179.7 258.3h0M168.6 265.5h0M147.5 278.9h0M155.3 274.2h0M169.5 266.9h0M163.5 268.0h0M156.9 273.5h0M177.5 262.0h0M179.6 265.0h0M168.1 265.8h0M167.1 266.5h0M156.4 273.6h0M167.7 267.5h0M173.2 263.7h0M173.1 267.3h0M146.7 279.8h0M169.8 265.2h0M173.2 265.1h0M151.7 277.8h0M174.5 266.2h0M160.3 275.3h0M180.0 259.5h0M146.5 279.2h0M171.1 268.1h0M169.2 265.7h0M178.5 263.2h0M156.3 273.6h0M159.3 272.0h0M149.4 276.7h0M177.3 265.7h0M169.8 267.5h0M152.4 277.6h0M158.5 272.0h0M148.5 278.4h0M180.4 258.9h0M166.8 267.8h0M177.3 265.6h0M166.4 272.0h0M165.9 269.7h0M146.9 279.3h0M162.6 270.5h0M177.7 262.9h0M182.6 264.6h0M155.7 277.1h0M160.2 269.4h0M156.4 275.3h0M164.4 268.9h0M178.9 260.3h0M169.4 266.8h0M168.6 273.1h0M143.1 281.8h0M178.4 259.8h0M181.0 259.7h0M163.1 269.4h0M163.4 269.3h0M153.0 275.2h0M177.0 268.1h0M177.5 264.9h0M143.5 281.7h0M164.1 268.8h0M172.1 271.9h0M176.1 261.5h0M158.8 271.4h0M180.6 260.7h0M176.6 262.5h0M182.8 258.6h0M168.5 266.8h0M165.1 267.8h0M153.6 275.0h0M180.1 259.2h0M181.0 260.3h0M165.7 268.5h0M165.3 269.6h0M148.6 278.1h0M179.5 260.0h0M156.7 274.7h0M176.5 262.5h0M185.9 267.4h0M150.6 278.9h0M174.9 262.5h0M162.9 274.4h0M179.3 260.6h0M152.6 275.5h0M178.7 260.6h0M152.3 275.3h0M172.0 264.1h0M177.1 263.5h0M182.1 264.1h0M179.6 266.1h0M162.9 269.6h0M182.4 258.0h0M153.0 277.0h0M180.4 260.3h0M179.0 258.4h0M142.3 281.5h0M171.8 264.9h0M143.6 282.8h0M165.2 269.9h0M154.1 275.0h0M150.5 275.5h0M173.5 265.5h0M167.9 267.1h0M170.3 268.6h0M175.5 262.6h0M168.7 266.2h0M173.4 266.4h0M159.8 271.0h0M148.2 278.9h0M158.6 273.5h0M157.7 274.0h0M148.3 278.3h0M178.1 262.2h0M165.6 267.3h0M161.9 270.1h0M177.3 263.2h0M161.4 272.9h0M163.5 270.2h0M159.4 271.4h0M168.4 270.7h0M171.9 262.9h0M174.3 262.3h0M154.1 275.9h0M176.4 261.8h0M162.5 269.5h0M158.3 272.8h0M177.6 261.9h0M146.0 282.1h0M172.4 265.8h0M166.2 266.2h0M147.5 278.1h0M141.3 283.1h0M152.8 275.5h0M152.7 277.3h0M145.3 280.0h0M169.6 268.2h0M175.6 261.5h0M180.3 259.0h0M175.5 263.3h0M163.8 270.1h0M153.9 275.1h0M173.5 262.5h0M141.3 281.4h0M167.3 268.3h0M168.8 265.4h0M148.2 281.0h0M154.5 274.8h0M154.5 274.5h0M175.0 262.3h0M154.4 274.4h0M151.3 276.5h0M170.4 268.3h0M181.1 262.9h0M161.0 270.7h0M144.8 282.4h0M142.1 281.0h0M171.9 264.0h0M147.8 278.3h0M173.6 269.0h0M159.4 276.1h0M154.4 277.7h0M171.5 268.2h0M157.4 274.1h0M178.2 262.8h0M163.6 269.3h0M173.6 268.1h0M146.4 281.3h0M180.1 268.2h0M165.5 269.4h0M179.8 258.6h0M154.6 276.1h0M156.4 278.4h0M178.8 259.0h0M167.6 267.5h0M182.5 258.0h0M176.7 260.4h0M168.8 264.6h0M162.4 272.1h0M159.6 270.8h0M177.0 261.9h0M163.3 269.9h0M143.5 282.0h0M145.2 281.5h0M172.0 265.0h0M150.0 277.9h0M144.9 280.1h0M167.5 268.2h0M169.1 265.1h0M142.7 282.3h0M159.6 274.6h0M160.4 271.6h0M178.4 260.7h0M169.0 265.8h0M152.3 276.1h0M146.9 279.5h0M171.2 266.0h0M171.1 264.2h0M166.0 270.9h0M178.1 261.5h0M172.1 265.5h0M174.9 263.1h0M178.3 262.4h0M182.2 262.2h0M151.6 278.4h0M163.7 270.5h0M177.6 264.8h0M152.3 277.3h0M182.4 259.7h0M179.0 260.9h0M151.7 276.7h0M176.9 261.9h0M144.2 280.9h0M159.3 276.8h0M180.9 269.0h0M144.9 279.5h0M166.0 269.3h0M168.6 266.4h0M148.7 278.8h0M153.1 275.1h0M178.0 261.0h0M163.2 271.9h0M143.1 281.1h0M182.3 260.1h0M144.9 281.3h0M175.4 263.1h0M160.5 272.0h0M155.8 275.2h0M165.2 267.7h0M142.9 281.8h0M175.8 261.0h0M169.6 268.3h0M176.3 262.2h0M179.6 266.5h0M172.9 264.5h0M144.7 279.9h0M157.8 272.9h0M162.1 270.3h0M170.4 264.0h0M166.7 267.0h0M174.3 265.1h0M167.8 268.6h0M159.1 272.8h0M176.9 266.9h0M158.8 274.8h0M142.8 280.3h0M147.1 279.7h0M169.9 270.4h0M169.7 268.2h0M165.2 269.6h0M177.8 263.8h0M178.5 263.6h0M178.7 264.8h0M179.4 259.9h0M155.2 275.6h0M151.6 276.7h0M167.4 269.9h0M176.8 260.9h0M179.7 261.0h0M174.7 263.1h0M169.4 270.5h0M173.3 263.5h0M178.3 260.7h0M163.2 269.3h0M175.9 261.9h0M173.6 265.8h0M158.3 272.2h0M155.3 274.2h0M150.7 275.9h0M172.8 264.1h0M166.3 266.6h0M141.7 280.9h0M173.0 267.1h0M142.7 283.4h0M178.0 264.5h0M179.3 259.3h0M153.2 277.3h0M180.8 260.5h0M144.9 280.9h0M144.2 281.3h0M175.9 262.9h0M159.1 277.1h0M175.3 262.2h0M167.5 267.5h0M168.3 265.6h0M158.9 272.2h0M161.1 271.4h0M162.6 268.8h0" stroke="#231f20" stroke-opacity="1" stroke-width="0.45" stroke-linecap="square" fill="none"/>
<path d="M140.30 280.60C143.38 278.23 153.13 272.93 160.00 268.80C166.87 264.67 177.75 257.63 181.50 255.80C185.25 253.97 185.25 255.52 182.50 257.80C179.75 260.08 170.42 266.22 165.00 269.50C159.58 272.78 153.92 275.25 150.00 277.50C146.08 279.75 143.12 282.48 141.50 283.00C139.88 283.52 137.22 282.97 140.30 280.60Z" fill="#231f20"/>
<path d="M137.1 273.3L175.2 249.0L185.6 253.2L138.2 282.5L137.1 282.5Z" fill="none" stroke="#231f20" stroke-width="0.8"/>
<rect x="123.7" y="214.6" width="79.89999999999999" height="80.4" fill="none" stroke="#231f20" stroke-width="1.1"/>
<path d="M123.7 217h-2.2M123.7 221.5h-1.2M123.7 224.2h-1.2M123.7 226h-1.2M123.7 227.5h-1.2M123.7 228.7h-1.2M123.7 229.7h-1.2M123.7 230.5h-1.2M123.7 231.3h-1.2M123.7 232h-2.2M123.7 236.5h-1.2M123.7 239.2h-1.2M123.7 241h-1.2M123.7 242.5h-1.2M123.7 243.7h-1.2M123.7 244.7h-1.2M123.7 245.5h-1.2M123.7 246.3h-1.2M123.7 247h-2.2M123.7 251.5h-1.2M123.7 254.2h-1.2M123.7 256h-1.2M123.7 257.5h-1.2M123.7 258.7h-1.2M123.7 259.7h-1.2M123.7 260.5h-1.2M123.7 261.3h-1.2M123.7 262h-2.2M123.7 266.5h-1.2M123.7 269.2h-1.2M123.7 271h-1.2M123.7 272.5h-1.2M123.7 273.7h-1.2M123.7 274.7h-1.2M123.7 275.5h-1.2M123.7 276.3h-1.2M123.7 277h-2.2M123.7 281.5h-1.2M123.7 284.2h-1.2M123.7 286h-1.2M123.7 287.5h-1.2M123.7 288.7h-1.2M123.7 289.7h-1.2M123.7 290.5h-1.2M123.7 291.3h-1.2M123.7 292h-2.2M124 295.0v2.2M128.7 295.0v1.2M131.4 295.0v1.2M133.3 295.0v1.2M134.8 295.0v1.2M136.1 295.0v1.2M137.1 295.0v1.2M138 295.0v1.2M138.8 295.0v1.2M139.5 295.0v2.2M144.2 295.0v1.2M146.9 295.0v1.2M148.8 295.0v1.2M150.3 295.0v1.2M151.6 295.0v1.2M152.6 295.0v1.2M153.5 295.0v1.2M154.3 295.0v1.2M155 295.0v2.2M159.7 295.0v1.2M162.4 295.0v1.2M164.3 295.0v1.2M165.8 295.0v1.2M167.1 295.0v1.2M168.1 295.0v1.2M169 295.0v1.2M169.8 295.0v1.2M170.5 295.0v2.2M175.2 295.0v1.2M177.9 295.0v1.2M179.8 295.0v1.2M181.3 295.0v1.2M182.6 295.0v1.2M183.6 295.0v1.2M184.5 295.0v1.2M185.3 295.0v1.2M186 295.0v2.2M190.7 295.0v1.2M193.4 295.0v1.2M195.3 295.0v1.2M196.8 295.0v1.2M198.1 295.0v1.2M199.1 295.0v1.2M200 295.0v1.2M200.8 295.0v1.2M201.5 295.0v2.2" stroke="#111" stroke-width="0.75" fill="none"/>
<text x="160.8" y="241" font-size="7" text-anchor="middle" fill="#231f20" stroke="#231f20" stroke-width="0.22">Single cells 93%</text>
<text transform="translate(117.2 292.3) rotate(-90)" font-size="8.1" fill="#231f20" stroke="#231f20" stroke-width="0.22">FSC-H</text>
<text x="127.7" y="309.5" font-size="8.1" text-anchor="start" fill="#231f20" stroke="#231f20" stroke-width="0.22">FSC-A</text>
<line x1="189" y1="253.8" x2="228.5" y2="253.8" stroke="#231f20" stroke-width="0.9"/>
<path d="M232.5 253.8L228.5 256L228.5 251.6Z" fill="#231f20"/>
<path d="M278.9 224.8h0M273.9 232.4h0M273.8 228.5h0M265.0 231.5h0M265.6 236.3h0M272.2 229.3h0M277.9 225.9h0M277.1 232.1h0M281.1 232.5h0M275.5 230.9h0M275.3 224.3h0M279.7 226.0h0M275.9 229.5h0M273.6 230.7h0M269.0 234.3h0M280.9 230.2h0M273.7 232.0h0M283.7 226.3h0M272.7 234.5h0M274.4 227.1h0M277.7 228.8h0M278.2 226.6h0M271.7 232.6h0M282.0 227.7h0M281.3 225.9h0M273.8 233.0h0M275.3 231.3h0M282.3 229.9h0M278.0 229.6h0M278.5 228.1h0M268.5 237.5h0M272.0 231.7h0M274.9 228.5h0M278.3 225.7h0M271.4 229.8h0M275.4 232.2h0M275.6 231.2h0M269.3 234.8h0M278.5 230.6h0M280.8 228.9h0M280.0 224.7h0M274.0 228.4h0M272.2 228.3h0M273.9 231.8h0M278.0 230.8h0M274.2 225.4h0M275.2 227.7h0M269.2 229.5h0M268.3 233.5h0M278.1 230.5h0M282.2 223.3h0M265.4 235.0h0M278.3 228.0h0M267.3 235.7h0M276.2 231.8h0M268.3 233.6h0M279.2 230.8h0M272.7 232.8h0M264.4 233.1h0M275.3 234.6h0M271.5 234.7h0M263.7 236.2h0M276.5 234.8h0M274.0 229.0h0M274.3 235.8h0M286.5 227.8h0M270.2 234.7h0M269.9 234.3h0M274.0 234.9h0M270.8 231.1h0M272.0 234.6h0M273.8 228.3h0M281.8 228.2h0M273.7 228.6h0M267.4 230.2h0M281.7 228.2h0M263.5 232.5h0M275.7 224.3h0M273.1 222.1h0M281.6 230.2h0M269.2 229.6h0M274.3 229.3h0M278.4 229.2h0M274.8 234.2h0M266.8 237.2h0M274.8 227.9h0M274.6 231.3h0M281.5 228.7h0M272.9 235.5h0M278.9 227.7h0M274.2 231.5h0M273.6 233.6h0M273.7 237.5h0M275.1 230.3h0M281.1 230.5h0M277.1 230.6h0M281.2 230.5h0M272.9 232.3h0M270.3 236.7h0M270.9 231.8h0M272.1 224.7h0M272.1 228.9h0M278.4 227.0h0M272.7 229.0h0M272.8 231.9h0M274.8 231.3h0M275.9 225.0h0M282.5 228.1h0M274.1 229.4h0M281.8 227.3h0M272.9 224.4h0M277.1 231.5h0M274.2 231.5h0M281.5 229.7h0M275.1 227.5h0M279.7 224.9h0M280.9 225.5h0M276.9 228.4h0M281.4 229.1h0M276.2 231.1h0M271.0 237.0h0M271.2 230.4h0M279.5 235.2h0M274.9 226.9h0M268.5 234.5h0M287.7 229.0h0M263.9 234.0h0M275.2 229.6h0M273.8 233.9h0M277.0 231.5h0M276.1 228.2h0M270.5 232.6h0M278.9 231.0h0M282.1 228.6h0M274.3 229.7h0M281.3 228.2h0M273.1 229.5h0M269.7 235.2h0M271.7 231.7h0M273.3 228.9h0M271.6 234.4h0M269.8 234.9h0M280.5 232.2h0M268.5 237.7h0M281.0 226.1h0M270.6 231.1h0M278.2 225.3h0M282.0 226.8h0M272.5 232.7h0M273.9 232.7h0M275.2 233.2h0M275.4 233.0h0M279.8 225.3h0M277.6 228.2h0M269.5 227.8h0M273.3 222.6h0M267.0 232.9h0M272.3 234.3h0M273.8 235.6h0M277.3 234.0h0M273.0 229.5h0M270.6 230.6h0M283.2 229.3h0M275.9 230.8h0M276.6 231.5h0M275.8 231.0h0M272.5 233.8h0M274.2 228.3h0M279.9 232.2h0M271.9 234.3h0M275.9 232.2h0M278.7 231.5h0M278.2 233.1h0M275.9 228.9h0M272.9 229.9h0M270.8 232.6h0M278.4 222.3h0M284.9 225.0h0M276.7 226.1h0M277.5 229.3h0M279.4 231.7h0M275.7 232.4h0M265.6 238.0h0M270.1 234.0h0M278.1 233.3h0M276.8 228.3h0M270.4 237.9h0M271.4 226.6h0M283.2 225.5h0M279.1 228.0h0M284.8 227.6h0M276.8 233.3h0M271.5 238.3h0M278.1 228.4h0M276.0 227.4h0M268.5 233.9h0M279.6 229.8h0M270.9 230.7h0M276.9 227.1h0M278.7 230.3h0M268.5 231.2h0M272.4 234.1h0M279.8 229.2h0M276.1 227.7h0M273.0 233.2h0M277.8 229.8h0M273.0 224.7h0M279.8 232.6h0M278.2 227.1h0M283.5 227.8h0M275.9 228.6h0M280.7 228.9h0M270.7 237.4h0M289.4 225.1h0M268.6 230.1h0M270.1 230.1h0M281.7 224.2h0M274.3 229.2h0M273.3 230.2h0M278.2 228.4h0M279.6 231.0h0M280.6 225.0h0M282.4 230.9h0M280.3 231.3h0M277.8 230.1h0M277.2 227.4h0M281.8 225.8h0M268.4 234.1h0M276.8 227.1h0M283.8 229.3h0M277.4 232.4h0M280.8 229.3h0M278.1 226.5h0M280.9 231.3h0M282.5 226.0h0M263.7 237.0h0M276.6 227.1h0M274.3 232.3h0M275.5 234.4h0M271.8 237.9h0M268.7 233.0h0M279.4 225.1h0M274.8 226.0h0M275.7 230.2h0M275.8 233.2h0M279.1 228.5h0M268.7 238.0h0M273.6 233.2h0M280.1 226.2h0M273.8 233.2h0M270.6 237.2h0M287.7 226.4h0M269.8 231.9h0M282.7 226.0h0M275.7 231.1h0M273.8 228.9h0M269.1 232.7h0M276.7 231.4h0M276.3 228.1h0M273.3 229.7h0M279.9 222.5h0M269.8 228.8h0M282.9 225.6h0M275.3 232.3h0M281.6 227.0h0M274.3 229.8h0M279.1 228.1h0M276.3 228.2h0M271.3 230.3h0M273.7 233.3h0M276.5 234.8h0M275.7 228.5h0M267.9 229.2h0M283.4 226.1h0M275.2 231.0h0M273.6 229.7h0M275.0 226.7h0M279.1 228.3h0M276.7 231.2h0M268.0 231.1h0M273.1 233.1h0M271.5 233.3h0M269.6 235.4h0M273.7 233.9h0M279.1 229.1h0M272.0 232.5h0M274.8 228.3h0M272.0 234.8h0M284.3 228.6h0M276.2 230.2h0M278.7 226.0h0M281.7 228.6h0M273.2 228.4h0M272.3 229.1h0M275.9 230.5h0M268.2 238.3h0M277.7 228.6h0M274.2 228.6h0M266.6 231.2h0M268.8 236.5h0M274.9 233.6h0M271.1 229.1h0M281.3 227.1h0M276.5 228.3h0M274.3 229.2h0M275.3 231.1h0M277.4 228.7h0M275.8 228.9h0M278.0 227.5h0M277.8 230.5h0M270.9 233.3h0M277.0 231.0h0M281.8 225.1h0M278.8 228.6h0M272.2 232.5h0M280.2 229.0h0M270.7 232.7h0M274.7 227.5h0M270.9 229.0h0M268.2 231.7h0M266.2 246.2h0M277.0 246.9h0M279.2 260.5h0M273.7 249.3h0M276.3 241.1h0M263.1 246.7h0M277.1 253.2h0M278.1 251.6h0M273.7 256.2h0M291.1 240.0h0M269.8 235.0h0M268.0 245.0h0M279.4 248.1h0M278.2 250.2h0M256.3 260.0h0M281.1 261.7h0M269.6 249.7h0M269.8 246.1h0M257.4 247.8h0M275.7 259.1h0M286.0 240.7h0M290.2 254.1h0M281.6 245.1h0M275.9 248.0h0M258.7 228.6h0M279.7 258.5h0M297.9 241.9h0M281.4 245.8h0M260.4 241.1h0M278.3 247.9h0M281.1 260.2h0M265.7 251.9h0M277.3 247.4h0M280.5 242.2h0M273.0 248.9h0M280.2 245.9h0M275.7 263.0h0M268.7 246.2h0M272.7 240.0h0M267.6 255.5h0M259.6 250.4h0M269.8 249.3h0M279.5 246.2h0M287.6 255.7h0M288.4 243.0h0M269.9 246.6h0M276.0 267.0h0M279.4 240.9h0M281.1 260.5h0M275.9 248.1h0M270.0 250.2h0M300.6 265.0h0M270.6 256.1h0M265.0 252.8h0M277.3 240.6h0M274.8 245.6h0M265.8 254.8h0M285.5 244.1h0M273.4 254.7h0M270.1 260.7h0M276.3 255.9h0M252.9 243.8h0M281.9 255.9h0M275.0 241.9h0M265.3 258.7h0M275.3 253.4h0M279.4 235.7h0M280.5 256.5h0M265.6 254.6h0M277.5 243.8h0M277.6 233.6h0M270.7 244.0h0M270.7 234.6h0M284.1 249.3h0M259.6 257.1h0M270.6 269.3h0M267.1 250.6h0M273.5 254.6h0M272.4 255.7h0M266.4 240.1h0M255.9 253.9h0M279.1 247.5h0M272.5 254.5h0M278.0 250.7h0M264.0 250.5h0M276.5 236.4h0M263.1 254.1h0M271.9 258.4h0M265.9 256.6h0M266.0 248.4h0M257.5 251.1h0M260.8 253.4h0M285.0 241.3h0M287.5 245.8h0M291.0 250.1h0M258.4 255.7h0M267.2 254.9h0M271.0 249.3h0M277.1 244.0h0M277.3 247.8h0M264.6 248.9h0M271.5 256.5h0M280.2 246.1h0M264.1 257.3h0M266.1 249.5h0M275.4 254.3h0M266.9 247.9h0M273.4 263.5h0M274.9 250.6h0M270.2 250.8h0M299.0 253.9h0M264.4 243.2h0M278.7 261.2h0M278.2 249.5h0M274.8 255.4h0M271.9 237.6h0M276.5 235.8h0M265.5 262.4h0M272.4 257.3h0M278.3 250.7h0M267.3 254.5h0M277.2 239.2h0M276.1 258.1h0M263.4 251.1h0M291.0 250.3h0M276.3 246.6h0M264.4 247.8h0M277.4 251.8h0M272.9 256.4h0M265.7 245.6h0M274.5 257.0h0M262.6 248.0h0M274.4 246.6h0M275.9 246.2h0M279.7 251.2h0M278.8 260.3h0M271.9 252.6h0M257.0 245.8h0M272.8 253.5h0M289.9 250.0h0M284.4 246.7h0M266.2 236.7h0M284.5 258.3h0M285.6 236.5h0M270.3 248.7h0M272.4 244.6h0M280.6 244.3h0M289.4 246.4h0M264.8 257.6h0M273.1 256.4h0M269.7 254.7h0M288.5 250.2h0M280.0 263.2h0M269.7 235.2h0M281.4 249.5h0M292.0 238.4h0M265.5 258.8h0M280.7 259.4h0M279.0 247.3h0M275.5 259.5h0M266.4 239.4h0M264.3 259.9h0M272.9 258.6h0M255.9 243.1h0M277.9 256.5h0M274.9 239.9h0M279.7 251.0h0M287.1 231.4h0M268.1 255.9h0M263.5 253.5h0M268.3 263.3h0M286.3 230.4h0M261.0 253.1h0M282.4 256.8h0M269.7 264.1h0M271.9 246.6h0M284.8 246.8h0M269.7 246.4h0M283.5 260.5h0M273.5 248.7h0M255.6 257.5h0M268.6 251.6h0M268.0 249.4h0M256.0 250.9h0M278.6 251.1h0M286.5 244.2h0M259.5 255.2h0M266.7 253.2h0M288.3 240.2h0M282.2 242.6h0M275.1 251.5h0M271.3 255.8h0M275.7 252.4h0M261.8 246.3h0M257.8 248.4h0M261.3 254.6h0M262.8 256.5h0M267.8 258.3h0M286.4 264.8h0M271.5 249.9h0M275.9 230.7h0M277.5 244.9h0M266.2 252.9h0M265.0 237.5h0M275.2 255.0h0M274.0 254.8h0M280.3 253.3h0M285.4 254.4h0M269.9 249.4h0M270.6 241.6h0M276.0 240.0h0M282.5 243.0h0M278.0 254.3h0M270.9 247.3h0M278.7 241.5h0M275.5 244.9h0M278.9 250.3h0M282.4 245.0h0M290.7 248.0h0M260.0 248.3h0M271.9 261.3h0M272.3 252.7h0M260.0 253.8h0M259.5 254.4h0M279.2 255.3h0M273.7 245.2h0M277.5 249.1h0M278.5 261.1h0M280.4 243.8h0M280.0 259.1h0M282.3 249.4h0M271.6 246.9h0M265.2 250.1h0M283.0 249.0h0M274.9 236.8h0M281.5 242.2h0M263.2 259.5h0M272.5 253.9h0M266.5 244.2h0M272.8 236.0h0M270.4 247.8h0M278.0 239.7h0M278.6 242.4h0M269.8 234.0h0M273.3 252.2h0M277.4 264.7h0M248.7 238.5h0M270.1 253.8h0M283.5 241.7h0M262.4 237.6h0M257.5 254.8h0M273.8 250.3h0M289.7 237.5h0M272.0 247.1h0M270.9 250.0h0M268.8 243.9h0M257.8 256.2h0M277.9 236.5h0M271.9 257.9h0M278.0 238.9h0M269.2 254.6h0M279.3 247.5h0M282.1 246.7h0M257.8 248.0h0M283.8 248.8h0M282.4 245.4h0M267.2 256.9h0M268.3 249.3h0M268.3 252.3h0M266.4 255.8h0M269.8 252.5h0M264.2 261.0h0M281.6 262.3h0M291.4 243.5h0M297.2 250.4h0M260.4 246.7h0M286.9 243.4h0M266.0 245.9h0M273.7 256.7h0M268.1 255.1h0M267.4 252.5h0M269.5 263.9h0M270.7 252.6h0M262.9 247.0h0M272.8 248.1h0M279.4 257.2h0M295.7 255.9h0M273.7 244.3h0M266.7 254.7h0M281.7 248.7h0M261.6 253.5h0M262.7 253.2h0M277.3 260.0h0M272.5 244.6h0M271.3 240.4h0M270.4 240.1h0M261.2 251.1h0M274.4 244.8h0M277.7 248.8h0M267.2 250.3h0M290.0 230.2h0M252.0 240.9h0M296.3 234.2h0M259.9 256.8h0M295.5 231.3h0M293.1 242.5h0M286.1 238.8h0M276.9 258.6h0M291.1 251.6h0M263.3 230.2h0M259.2 224.4h0M285.4 240.6h0M277.0 249.1h0M277.1 228.8h0M255.4 238.3h0M288.0 259.9h0M288.5 229.9h0M282.6 238.2h0M267.9 260.5h0M255.2 232.0h0M264.2 230.0h0M285.5 226.9h0M269.1 242.9h0M273.1 257.1h0M292.3 261.0h0M276.3 236.8h0M256.9 239.8h0M293.1 228.4h0M284.8 256.4h0M291.0 227.3h0M256.5 254.0h0M292.1 244.6h0M295.7 254.9h0M262.6 226.8h0M262.9 231.8h0M256.3 235.5h0M266.1 244.6h0M257.4 249.2h0M261.0 228.9h0M279.4 239.5h0M281.3 246.0h0M264.7 224.5h0M267.8 235.3h0M254.7 256.9h0M250.9 261.3h0M263.1 234.9h0M272.2 259.4h0M289.0 226.8h0M293.3 255.6h0M256.6 257.5h0M276.8 233.8h0M263.2 231.6h0M288.5 228.5h0M273.0 224.4h0M271.8 252.1h0M289.7 229.7h0M254.5 233.3h0M255.4 239.2h0M292.9 237.8h0M275.5 261.6h0M272.3 248.6h0M289.7 232.9h0M270.2 252.4h0M267.0 238.1h0M287.4 260.7h0M293.6 237.5h0M264.9 255.1h0M269.8 255.8h0M282.9 250.4h0M278.6 252.3h0M250.2 235.5h0M256.6 234.8h0M267.6 227.6h0M263.1 244.8h0M290.8 247.4h0M279.7 260.3h0M276.5 251.3h0M258.8 224.1h0M285.5 232.3h0M291.9 242.7h0M257.7 258.0h0M261.2 238.1h0M275.9 233.2h0M271.0 241.8h0M271.9 254.6h0M283.9 232.7h0M282.5 226.1h0M275.9 244.8h0M253.1 226.8h0M255.9 224.4h0M284.8 242.6h0M290.5 252.1h0M289.5 230.2h0M278.7 234.7h0M282.2 227.9h0M286.4 230.6h0M253.1 227.9h0M266.0 237.5h0M296.7 250.9h0M279.3 238.5h0M277.1 283.9h0M237.5 239.8h0M245.7 281.4h0M295.7 263.9h0M304.8 241.9h0M301.6 249.7h0M231.9 246.1h0M262.3 261.8h0M280.5 234.3h0M292.5 219.4h0M277.7 227.9h0M258.6 241.8h0M290.7 221.3h0M293.8 245.0h0M278.7 228.9h0M273.3 231.5h0M242.0 225.9h0M246.2 271.7h0M277.2 289.2h0M270.2 271.1h0M287.9 261.7h0M246.4 257.0h0M253.0 217.5h0M270.1 286.6h0M276.1 231.3h0M241.4 253.8h0M237.1 290.9h0M285.2 267.2h0M241.3 291.7h0M244.7 254.0h0M260.3 260.0h0M273.0 262.3h0M279.8 262.5h0M278.2 260.0h0M277.7 261.1h0M267.9 257.0h0M270.4 260.5h0M278.9 258.9h0M276.1 262.5h0M276.6 260.7h0M265.3 260.8h0M278.0 265.1h0M265.7 264.2h0M284.2 260.3h0M282.0 259.5h0M281.8 259.5h0M272.9 260.0h0M299.9 254.7h0M287.9 259.5h0M274.6 259.3h0M254.6 262.1h0M262.5 263.5h0M272.8 259.9h0M283.5 264.3h0M250.8 260.3h0M291.4 261.3h0M274.3 260.9h0M263.4 259.7h0M264.0 260.2h0M261.5 260.2h0M268.9 261.2h0M299.0 258.1h0M261.6 260.6h0M287.0 261.9h0M264.2 262.4h0M275.2 264.1h0M272.7 262.1h0M287.5 259.3h0M251.4 265.7h0M281.2 260.1h0M283.0 261.2h0M262.9 258.7h0M259.0 262.0h0M283.0 263.1h0M274.4 258.6h0M268.7 260.3h0M272.4 261.0h0M266.3 262.3h0M254.1 259.6h0M266.8 258.0h0M268.3 258.1h0M270.1 259.8h0M268.1 257.9h0M284.8 263.4h0M284.4 260.1h0M272.7 263.8h0M259.1 266.9h0M268.3 260.8h0M286.8 259.9h0M263.3 261.4h0M290.2 261.3h0M261.2 261.3h0M273.2 263.6h0M273.6 254.7h0M281.8 260.6h0M264.4 263.7h0M265.9 260.3h0M279.9 261.8h0M257.2 258.7h0M270.6 262.7h0M264.3 262.0h0M268.5 261.1h0M279.5 256.4h0M276.1 260.4h0M269.5 262.9h0M258.4 257.1h0M260.1 265.3h0M274.5 262.9h0M267.9 264.6h0M261.8 260.1h0M262.6 260.3h0M267.1 265.4h0M277.4 262.7h0M268.8 264.7h0M261.8 264.1h0M269.5 262.6h0M267.8 259.0h0M277.4 261.9h0M255.5 260.9h0M285.1 262.8h0M265.5 262.9h0M270.3 260.3h0M272.5 261.6h0M270.6 263.4h0M258.1 258.3h0M281.2 260.2h0M255.8 262.6h0M276.2 263.1h0M273.7 260.4h0M271.3 259.4h0M268.0 262.0h0M273.3 260.7h0M252.6 259.5h0M266.2 257.4h0M268.2 259.1h0M284.1 262.6h0M263.5 261.0h0M256.0 258.8h0M261.6 261.0h0M258.9 262.3h0M262.4 263.6h0M270.6 259.5h0M266.0 261.1h0M258.0 265.6h0M246.6 263.5h0M263.6 260.1h0M281.2 254.9h0M263.3 261.5h0M284.1 258.9h0M269.8 264.6h0M257.5 262.8h0M277.9 260.5h0M286.3 258.4h0M271.8 261.2h0M258.7 260.8h0M259.6 261.3h0M261.7 265.8h0M264.5 263.4h0M268.4 262.8h0M249.4 266.2h0M265.3 257.0h0M273.5 264.0h0M258.2 262.7h0M290.6 259.2h0M271.2 265.0h0M277.1 260.7h0M266.0 265.7h0M265.3 260.6h0M261.4 257.3h0M247.8 257.9h0M260.8 261.3h0M281.6 261.9h0M252.6 262.3h0M280.1 261.5h0M272.5 260.5h0M277.2 258.0h0M259.7 263.7h0M264.8 261.9h0M279.8 260.6h0M259.1 261.4h0M279.3 260.2h0M268.5 260.3h0M267.1 255.8h0M281.6 259.3h0M280.2 264.3h0M257.5 258.4h0M276.5 257.7h0M255.1 262.7h0M290.2 265.2h0M291.0 263.8h0M263.7 261.4h0M275.4 262.9h0M271.5 259.2h0M259.1 259.6h0M256.9 260.1h0M278.5 262.2h0M263.2 262.7h0M264.3 261.5h0M265.4 259.0h0M287.7 262.6h0M273.3 261.0h0M263.5 262.5h0M270.0 264.3h0M274.7 261.5h0M274.0 260.6h0M260.1 263.3h0M270.9 254.1h0M275.0 262.3h0M268.2 261.7h0M258.6 265.2h0M276.2 259.3h0M262.4 265.2h0M270.0 265.8h0M243.4 264.9h0M271.3 259.8h0M277.0 260.0h0M256.4 262.0h0M265.4 262.5h0M279.9 262.3h0M268.7 264.3h0M289.7 256.9h0M261.9 261.9h0M269.9 263.5h0M261.4 262.7h0M262.5 263.5h0M278.3 258.2h0M292.4 259.8h0M259.7 265.0h0M248.1 266.6h0M279.3 259.3h0M257.1 263.6h0M272.8 260.3h0M282.4 261.8h0M265.3 261.4h0M262.1 260.5h0M263.8 261.1h0M276.5 257.5h0M258.8 264.6h0M292.3 261.2h0M255.3 260.0h0M269.3 261.7h0M279.9 262.0h0M257.1 264.4h0M284.5 262.4h0M255.7 263.4h0M277.3 259.5h0M279.0 255.5h0M271.0 263.9h0M269.7 263.7h0" stroke="#231f20" stroke-opacity="1" stroke-width="0.55" stroke-linecap="square" fill="none"/>
<path d="M243.00 267.00C242.67 266.07 244.00 264.62 246.00 264.00C248.00 263.38 251.83 263.58 255.00 263.30C258.17 263.02 261.83 262.72 265.00 262.30C268.17 261.88 271.17 261.55 274.00 260.80C276.83 260.05 279.75 258.35 282.00 257.80C284.25 257.25 286.00 256.97 287.50 257.50C289.00 258.03 290.42 259.58 291.00 261.00C291.58 262.42 292.00 264.70 291.00 266.00C290.00 267.30 289.17 268.13 285.00 268.80C280.83 269.47 272.17 269.87 266.00 270.00C259.83 270.13 251.83 270.10 248.00 269.60C244.17 269.10 243.33 267.93 243.00 267.00Z" fill="#231f20"/>
<path d="M250.00 266.80C250.33 266.30 255.00 265.50 258.00 265.00C261.00 264.50 264.83 264.30 268.00 263.80C271.17 263.30 274.33 262.55 277.00 262.00C279.67 261.45 282.17 260.42 284.00 260.50C285.83 260.58 287.67 261.62 288.00 262.50C288.33 263.38 289.00 264.97 286.00 265.80C283.00 266.63 275.00 267.13 270.00 267.50C265.00 267.87 259.33 268.12 256.00 268.00C252.67 267.88 249.67 267.30 250.00 266.80Z" fill="#7a7a7a" stroke="#111" stroke-width="0.5"/>
<path d="M254.00 267.20C253.67 266.90 259.00 266.30 262.00 265.80C265.00 265.30 269.33 264.63 272.00 264.20C274.67 263.77 277.33 262.97 278.00 263.20C278.67 263.43 278.33 264.87 276.00 265.60C273.67 266.33 267.67 267.33 264.00 267.60C260.33 267.87 254.33 267.50 254.00 267.20Z" fill="#fff"/>
<ellipse cx="283" cy="262.5" rx="3" ry="1.3" fill="none" stroke="#111" stroke-width="0.6" transform="rotate(-10 283 262.5)"/>
<ellipse cx="245.5" cy="266.5" rx="1.4" ry="0.9" fill="#888"/>
<rect x="235.1" y="245.6" width="16.4" height="32.7" fill="none" stroke="#231f20" stroke-width="0.8"/>
<rect x="226.3" y="214.6" width="80.19999999999999" height="80.4" fill="none" stroke="#231f20" stroke-width="1.1"/>
<path d="M226.3 217h-2.2M226.3 221.5h-1.2M226.3 224.2h-1.2M226.3 226h-1.2M226.3 227.5h-1.2M226.3 228.7h-1.2M226.3 229.7h-1.2M226.3 230.5h-1.2M226.3 231.3h-1.2M226.3 232h-2.2M226.3 236.5h-1.2M226.3 239.2h-1.2M226.3 241h-1.2M226.3 242.5h-1.2M226.3 243.7h-1.2M226.3 244.7h-1.2M226.3 245.5h-1.2M226.3 246.3h-1.2M226.3 247h-2.2M226.3 251.5h-1.2M226.3 254.2h-1.2M226.3 256h-1.2M226.3 257.5h-1.2M226.3 258.7h-1.2M226.3 259.7h-1.2M226.3 260.5h-1.2M226.3 261.3h-1.2M226.3 262h-2.2M226.3 266.5h-1.2M226.3 269.2h-1.2M226.3 271h-1.2M226.3 272.5h-1.2M226.3 273.7h-1.2M226.3 274.7h-1.2M226.3 275.5h-1.2M226.3 276.3h-1.2M226.3 277h-2.2M226.3 281.5h-1.2M226.3 284.2h-1.2M226.3 286h-1.2M226.3 287.5h-1.2M226.3 288.7h-1.2M226.3 289.7h-1.2M226.3 290.5h-1.2M226.3 291.3h-1.2M226.3 292h-2.2M229 295.0v2.2M233.7 295.0v1.2M236.4 295.0v1.2M238.3 295.0v1.2M239.8 295.0v1.2M241.1 295.0v1.2M242.1 295.0v1.2M243 295.0v1.2M243.8 295.0v1.2M244.5 295.0v2.2M249.2 295.0v1.2M251.9 295.0v1.2M253.8 295.0v1.2M255.3 295.0v1.2M256.6 295.0v1.2M257.6 295.0v1.2M258.5 295.0v1.2M259.3 295.0v1.2M260 295.0v2.2M264.7 295.0v1.2M267.4 295.0v1.2M269.3 295.0v1.2M270.8 295.0v1.2M272.1 295.0v1.2M273.1 295.0v1.2M274 295.0v1.2M274.8 295.0v1.2M275.5 295.0v2.2M280.2 295.0v1.2M282.9 295.0v1.2M284.8 295.0v1.2M286.3 295.0v1.2M287.6 295.0v1.2M288.6 295.0v1.2M289.5 295.0v1.2M290.3 295.0v1.2M291 295.0v2.2M295.7 295.0v1.2M298.4 295.0v1.2M300.3 295.0v1.2M301.8 295.0v1.2M303.1 295.0v1.2M304.1 295.0v1.2M305 295.0v1.2M305.8 295.0v1.2" stroke="#111" stroke-width="0.75" fill="none"/>
<text x="229.7" y="291.7" font-size="7" text-anchor="start" fill="#231f20" textLength="58" lengthAdjust="spacingAndGlyphs" stroke="#231f20" stroke-width="0.22">Lin-ve live cells 2%</text>
<text transform="translate(220.3 285) rotate(-90)" font-size="7.3" fill="#231f20" textLength="54.5" lengthAdjust="spacingAndGlyphs" stroke="#231f20" stroke-width="0.22">Life-dead marker</text>
<text x="228.8" y="309.5" font-size="8.1" text-anchor="start" fill="#231f20" stroke="#231f20" stroke-width="0.22">Lineage</text>
<line x1="291" y1="252.2" x2="332" y2="252.2" stroke="#231f20" stroke-width="0.9"/>
<path d="M336 252.2L332 254.4L332 250Z" fill="#231f20"/>
<path d="M368.4 246.9h0M369.7 253.6h0M365.2 243.0h0M361.1 261.2h0M361.2 243.2h0M359.4 251.2h0M364.5 253.7h0M364.8 256.6h0M372.7 245.6h0M369.5 265.8h0M368.1 247.1h0M367.2 249.2h0M365.8 242.2h0M368.1 254.1h0M374.0 267.4h0M362.6 257.9h0M365.3 259.1h0M371.1 256.1h0M365.7 249.2h0M361.3 243.6h0M367.7 243.2h0M364.6 245.9h0M362.8 258.9h0M360.8 249.9h0M370.1 265.6h0M365.4 253.1h0M360.1 253.6h0M365.5 237.4h0M372.6 240.1h0M362.7 245.4h0M361.1 262.1h0M370.0 269.5h0M356.6 259.8h0M362.3 265.0h0M365.8 265.8h0M368.9 262.1h0M362.3 258.2h0M364.5 267.3h0M359.5 238.3h0M358.2 263.4h0M364.5 253.6h0M365.5 241.8h0M364.6 267.2h0M359.4 275.1h0M359.8 240.4h0M364.4 258.3h0M369.1 250.5h0M363.0 262.2h0M361.8 249.6h0M366.7 257.8h0M362.9 256.9h0M360.5 255.6h0M361.8 248.8h0M360.5 240.4h0M362.6 254.5h0M356.6 255.0h0M358.6 254.7h0M367.8 252.1h0M370.9 250.9h0M363.9 260.3h0M361.3 249.4h0M364.4 256.9h0M365.7 261.2h0M361.5 235.5h0M364.9 251.2h0M358.8 253.8h0M368.1 260.4h0M366.6 257.1h0M365.2 253.7h0M367.7 242.5h0M366.5 253.5h0M368.2 262.0h0M361.3 253.9h0M370.3 247.2h0M363.8 259.1h0M352.7 258.4h0M366.2 264.8h0M369.0 251.5h0M367.8 258.9h0M364.5 259.2h0M363.3 242.5h0M369.5 249.4h0M356.3 253.8h0M367.0 254.8h0M363.6 262.2h0M369.7 236.9h0M360.1 248.6h0M358.6 261.0h0M364.7 254.2h0M362.2 258.9h0M370.3 255.8h0M368.4 250.9h0M363.5 261.1h0M360.1 252.0h0M364.3 251.7h0M372.0 251.5h0M363.6 270.6h0M360.6 255.9h0M366.0 250.3h0M372.5 268.2h0M356.5 251.5h0M362.9 241.8h0M364.4 251.4h0M366.0 259.6h0M368.1 264.2h0M356.2 260.8h0M364.8 261.9h0M359.5 254.3h0M364.8 257.4h0M362.7 259.3h0M369.6 258.6h0M364.1 259.1h0M367.1 265.5h0M362.6 257.5h0M361.4 242.8h0M368.6 254.0h0M359.7 267.0h0M355.7 249.9h0M354.7 256.2h0M367.9 251.9h0M366.7 269.0h0M370.2 247.0h0M366.5 256.0h0M356.4 258.6h0M362.8 252.2h0M368.0 264.0h0M355.9 267.7h0M362.9 249.4h0M363.9 266.9h0M357.8 275.1h0M362.3 256.5h0M362.6 238.9h0M368.1 266.0h0M371.3 240.8h0M366.0 244.5h0M369.0 256.0h0M363.1 250.3h0M364.4 268.8h0M360.9 273.3h0M364.2 252.8h0M361.9 252.6h0M376.7 263.3h0M367.0 257.7h0M358.4 264.8h0M365.9 267.7h0M365.7 251.0h0M363.8 261.3h0M362.2 254.7h0M368.8 261.1h0M363.3 251.9h0M353.1 243.6h0M350.6 238.9h0M351.3 245.3h0M348.7 235.9h0M348.8 242.2h0M352.4 241.2h0M349.3 243.0h0M347.8 246.8h0M343.8 246.6h0M347.5 240.7h0M348.5 238.5h0M350.4 243.7h0M350.8 240.2h0M350.4 237.0h0M355.2 248.7h0M353.9 243.6h0M349.5 236.6h0M357.1 242.4h0M348.8 240.4h0M353.0 243.9h0M350.5 246.4h0M353.1 249.2h0M353.0 239.0h0M349.3 248.1h0M349.4 242.6h0M351.4 238.1h0M349.9 244.8h0M354.1 234.3h0M346.5 235.4h0M347.7 241.8h0M355.1 240.0h0M356.3 246.4h0M353.9 233.0h0M347.4 241.8h0M352.9 242.6h0M355.3 239.6h0M349.8 241.4h0M351.4 242.4h0M351.4 245.2h0M352.9 240.8h0M354.3 241.2h0M352.4 243.2h0M350.0 238.3h0M352.2 233.7h0M351.3 239.1h0M352.1 247.4h0M357.6 240.6h0M350.2 245.4h0M347.6 237.4h0M352.5 243.2h0M354.5 249.0h0M351.3 237.7h0M350.6 243.5h0M351.6 240.2h0M347.2 249.0h0M351.9 241.6h0M353.1 241.2h0M351.8 247.3h0M353.9 238.2h0M354.4 234.0h0M347.6 237.7h0M358.6 240.2h0M352.5 235.0h0M350.9 245.2h0M351.7 245.4h0M352.0 241.6h0M347.8 250.5h0M353.7 244.0h0M349.9 244.7h0M352.8 243.0h0M382.1 270.4h0M390.5 248.2h0M394.6 256.9h0M390.4 263.8h0M371.7 258.3h0M389.3 244.5h0M380.3 240.0h0M389.9 243.4h0M382.2 239.5h0M378.0 267.6h0M371.6 257.5h0M376.9 266.0h0M374.1 256.6h0M371.9 252.6h0M392.0 261.8h0M384.6 240.7h0M364.3 243.9h0M374.8 243.5h0M372.9 261.8h0M373.8 254.9h0M380.2 268.8h0M386.1 240.9h0M392.4 255.4h0M363.8 250.5h0M380.5 272.6h0M392.3 259.1h0M374.0 264.5h0M377.7 269.4h0M388.0 237.8h0M376.3 241.3h0M385.0 235.6h0M383.0 240.6h0M374.4 244.4h0M377.6 273.4h0M387.9 266.9h0M375.0 249.4h0M397.0 239.4h0M377.1 239.9h0M374.5 258.0h0M393.9 265.2h0M390.1 273.4h0M375.9 242.8h0M375.3 272.5h0M375.6 266.1h0M391.7 258.1h0M390.2 246.0h0M391.4 264.4h0M399.7 254.3h0M373.3 270.8h0M379.6 237.6h0M373.1 251.2h0M391.2 259.2h0M389.3 243.3h0M380.1 237.3h0M374.2 252.3h0M375.3 270.5h0M389.2 265.2h0M379.3 270.8h0M383.1 271.4h0M388.4 270.4h0M377.8 241.5h0M380.4 269.5h0M390.8 263.9h0M375.2 264.8h0M380.3 269.5h0M376.3 274.1h0M387.5 240.8h0M375.9 244.5h0M377.6 242.2h0M392.8 245.1h0M377.7 241.3h0M371.7 244.4h0M385.3 268.1h0M389.5 246.4h0M370.5 265.5h0M392.2 263.1h0M373.9 241.9h0M381.9 268.6h0M370.2 236.8h0M373.5 250.2h0M391.3 259.0h0M373.5 259.2h0M391.5 261.1h0M372.9 273.0h0M391.2 245.9h0M370.1 253.2h0M391.3 251.5h0M393.9 262.0h0M393.7 248.1h0M375.4 265.4h0M387.9 239.3h0M389.3 265.6h0M376.5 274.3h0M389.0 243.5h0M379.0 270.8h0M382.3 268.7h0M392.0 257.9h0M389.8 262.3h0M377.9 267.9h0M371.1 255.4h0M391.0 261.5h0M376.0 241.9h0M390.5 265.5h0M382.7 281.6h0M376.8 244.3h0M379.4 236.9h0M379.2 240.6h0M381.2 268.6h0M380.9 237.5h0M377.9 266.7h0M371.9 247.0h0M380.4 240.7h0M387.0 240.3h0M374.0 258.6h0M374.5 264.2h0M390.0 248.5h0M387.0 241.5h0M387.0 271.0h0M390.1 264.7h0M392.0 259.7h0M376.6 243.3h0M377.8 242.1h0M376.2 269.6h0M396.0 261.7h0M373.5 254.8h0M393.7 262.0h0M378.5 242.1h0M368.6 260.1h0M377.3 242.8h0M387.8 241.0h0M387.6 241.5h0M393.4 261.9h0M379.7 240.5h0M379.4 239.2h0M375.6 269.3h0M376.8 240.3h0M392.1 247.4h0M390.9 263.0h0M388.0 240.5h0M382.0 271.3h0" stroke="#231f20" stroke-opacity="0.85" stroke-width="0.55" stroke-linecap="square" fill="none"/>
<path d="M349.00 245.00C349.70 244.00 351.42 243.50 352.50 244.00C353.58 244.50 354.88 246.00 355.50 248.00C356.12 250.00 356.12 253.67 356.20 256.00C356.28 258.33 355.87 260.33 356.00 262.00C356.13 263.67 356.92 264.33 357.00 266.00C357.08 267.67 357.17 270.58 356.50 272.00C355.83 273.42 354.42 274.08 353.00 274.50C351.58 274.92 349.25 275.08 348.00 274.50C346.75 273.92 345.83 272.58 345.50 271.00C345.17 269.42 345.58 267.17 346.00 265.00C346.42 262.83 347.62 260.50 348.00 258.00C348.38 255.50 348.13 252.17 348.30 250.00C348.47 247.83 348.30 246.00 349.00 245.00Z" fill="#fff" stroke="#222" stroke-width="0.6"/><path d="M349.24 247.16C349.86 246.28 351.37 245.84 352.32 246.28C353.27 246.72 354.42 248.04 354.96 249.80C355.50 251.56 355.50 254.79 355.58 256.84C355.65 258.89 355.28 260.65 355.40 262.12C355.52 263.59 356.21 264.17 356.28 265.64C356.35 267.11 356.43 269.67 355.84 270.92C355.25 272.17 354.01 272.75 352.76 273.12C351.51 273.49 349.46 273.63 348.36 273.12C347.26 272.61 346.45 271.43 346.16 270.04C345.87 268.65 346.23 266.67 346.60 264.76C346.97 262.85 348.02 260.80 348.36 258.60C348.70 256.40 348.48 253.47 348.62 251.56C348.77 249.65 348.62 248.04 349.24 247.16Z" fill="none" stroke="#222" stroke-width="0.6"/><path d="M349.48 249.32C350.01 248.56 351.32 248.18 352.14 248.56C352.96 248.94 353.95 250.08 354.42 251.60C354.89 253.12 354.89 255.91 354.95 257.68C355.02 259.45 354.70 260.97 354.80 262.24C354.90 263.51 355.50 264.01 355.56 265.28C355.62 266.55 355.69 268.76 355.18 269.84C354.67 270.92 353.60 271.42 352.52 271.74C351.44 272.06 349.67 272.18 348.72 271.74C347.77 271.30 347.07 270.28 346.82 269.08C346.57 267.88 346.88 266.17 347.20 264.52C347.52 262.87 348.43 261.10 348.72 259.20C349.01 257.30 348.82 254.77 348.95 253.12C349.07 251.47 348.95 250.08 349.48 249.32Z" fill="none" stroke="#222" stroke-width="0.6"/><path d="M349.72 251.48C350.17 250.84 351.27 250.52 351.96 250.84C352.65 251.16 353.49 252.12 353.88 253.40C354.27 254.68 354.27 257.03 354.33 258.52C354.38 260.01 354.11 261.29 354.20 262.36C354.29 263.43 354.79 263.85 354.84 264.92C354.89 265.99 354.95 267.85 354.52 268.76C354.09 269.67 353.19 270.09 352.28 270.36C351.37 270.63 349.88 270.73 349.08 270.36C348.28 269.99 347.69 269.13 347.48 268.12C347.27 267.11 347.53 265.67 347.80 264.28C348.07 262.89 348.83 261.40 349.08 259.80C349.33 258.20 349.17 256.07 349.27 254.68C349.38 253.29 349.27 252.12 349.72 251.48Z" fill="none" stroke="#222" stroke-width="0.6"/><path d="M349.96 253.64C350.32 253.12 351.22 252.86 351.78 253.12C352.34 253.38 353.02 254.16 353.34 255.20C353.66 256.24 353.66 258.15 353.70 259.36C353.75 260.57 353.53 261.61 353.60 262.48C353.67 263.35 354.08 263.69 354.12 264.56C354.16 265.43 354.21 266.94 353.86 267.68C353.51 268.42 352.78 268.76 352.04 268.98C351.30 269.20 350.09 269.28 349.44 268.98C348.79 268.68 348.31 267.98 348.14 267.16C347.97 266.34 348.18 265.17 348.40 264.04C348.62 262.91 349.24 261.70 349.44 260.40C349.64 259.10 349.51 257.37 349.60 256.24C349.68 255.11 349.60 254.16 349.96 253.64Z" fill="none" stroke="#222" stroke-width="0.6"/>
<circle cx="350.6" cy="268.7" r="5" fill="#1a1a1a"/>
<circle cx="350.6" cy="268.7" r="3" fill="none" stroke="#555" stroke-width="0.4"/>
<circle cx="350.8" cy="269" r="1" fill="#666"/>
<path d="M376.00 245.00C376.73 243.08 377.67 242.17 379.00 241.50C380.33 240.83 382.42 240.50 384.00 241.00C385.58 241.50 387.37 242.67 388.50 244.50C389.63 246.33 390.47 249.42 390.80 252.00C391.13 254.58 390.97 257.67 390.50 260.00C390.03 262.33 389.25 264.58 388.00 266.00C386.75 267.42 384.67 268.25 383.00 268.50C381.33 268.75 379.33 268.58 378.00 267.50C376.67 266.42 375.57 264.42 375.00 262.00C374.43 259.58 374.43 255.83 374.60 253.00C374.77 250.17 375.27 246.92 376.00 245.00Z" fill="#fff" stroke="#1a1a1a" stroke-width="0.7"/><path d="M376.33 245.53C377.03 243.70 377.92 242.83 379.19 242.20C380.45 241.57 382.43 241.25 383.94 241.72C385.44 242.20 387.13 243.31 388.21 245.05C389.29 246.79 390.08 249.72 390.39 252.18C390.71 254.63 390.55 257.56 390.11 259.77C389.67 261.99 388.92 264.13 387.74 265.48C386.55 266.82 384.57 267.61 382.99 267.85C381.40 268.09 379.50 267.93 378.24 266.90C376.97 265.87 375.92 263.97 375.38 261.68C374.85 259.38 374.85 255.82 375.00 253.12C375.16 250.43 375.64 247.35 376.33 245.53Z" fill="none" stroke="#1a1a1a" stroke-width="0.7"/><path d="M376.67 246.05C377.33 244.33 378.17 243.50 379.37 242.90C380.57 242.30 382.44 242.00 383.87 242.45C385.30 242.90 386.90 243.95 387.92 245.60C388.94 247.25 389.69 250.02 389.99 252.35C390.29 254.68 390.14 257.45 389.72 259.55C389.30 261.65 388.60 263.68 387.47 264.95C386.35 266.22 384.47 266.97 382.97 267.20C381.47 267.43 379.67 267.27 378.47 266.30C377.27 265.33 376.28 263.53 375.77 261.35C375.26 259.18 375.26 255.80 375.41 253.25C375.56 250.70 376.01 247.78 376.67 246.05Z" fill="none" stroke="#1a1a1a" stroke-width="0.7"/><path d="M377.00 246.57C377.63 244.95 378.42 244.17 379.56 243.60C380.69 243.03 382.46 242.75 383.81 243.18C385.15 243.60 386.67 244.59 387.63 246.15C388.59 247.71 389.30 250.33 389.59 252.53C389.87 254.72 389.73 257.34 389.33 259.32C388.93 261.31 388.27 263.22 387.20 264.43C386.14 265.63 384.37 266.34 382.95 266.55C381.54 266.76 379.84 266.62 378.70 265.70C377.57 264.78 376.64 263.08 376.15 261.02C375.67 258.97 375.67 255.78 375.81 253.38C375.96 250.97 376.38 248.20 377.00 246.57Z" fill="none" stroke="#1a1a1a" stroke-width="0.7"/><path d="M377.41 247.21C377.99 245.69 378.72 244.97 379.78 244.44C380.83 243.91 382.48 243.65 383.73 244.04C384.98 244.44 386.39 245.36 387.28 246.81C388.18 248.26 388.84 250.69 389.10 252.74C389.36 254.78 389.23 257.21 388.86 259.06C388.49 260.90 387.87 262.68 386.89 263.80C385.90 264.91 384.25 265.57 382.94 265.77C381.62 265.97 380.04 265.84 378.99 264.98C377.93 264.12 377.06 262.54 376.62 260.63C376.17 258.73 376.17 255.76 376.30 253.53C376.43 251.29 376.83 248.72 377.41 247.21Z" fill="none" stroke="#1a1a1a" stroke-width="0.7"/><path d="M377.88 247.94C378.40 246.56 379.08 245.90 380.04 245.42C381.00 244.94 382.50 244.70 383.64 245.06C384.78 245.42 386.06 246.26 386.88 247.58C387.69 248.90 388.29 251.12 388.53 252.98C388.77 254.84 388.65 257.06 388.32 258.74C387.98 260.42 387.42 262.04 386.52 263.06C385.62 264.08 384.12 264.68 382.92 264.86C381.72 265.04 380.28 264.92 379.32 264.14C378.36 263.36 377.56 261.92 377.16 260.18C376.75 258.44 376.75 255.74 376.87 253.70C376.99 251.66 377.35 249.32 377.88 247.94Z" fill="none" stroke="#1a1a1a" stroke-width="0.7"/><path d="M378.48 248.88C378.94 247.68 379.53 247.10 380.37 246.68C381.21 246.26 382.52 246.05 383.52 246.37C384.52 246.68 385.64 247.41 386.35 248.57C387.07 249.72 387.59 251.67 387.80 253.29C388.01 254.92 387.91 256.86 387.61 258.33C387.32 259.81 386.83 261.22 386.04 262.12C385.25 263.01 383.94 263.53 382.89 263.69C381.84 263.85 380.58 263.74 379.74 263.06C378.90 262.38 378.21 261.12 377.85 259.60C377.49 258.07 377.49 255.71 377.60 253.93C377.70 252.14 378.02 250.09 378.48 248.88Z" fill="none" stroke="#1a1a1a" stroke-width="0.7"/><path d="M379.22 250.04C379.60 249.04 380.08 248.57 380.78 248.22C381.47 247.87 382.55 247.70 383.38 247.96C384.20 248.22 385.13 248.83 385.72 249.78C386.31 250.73 386.74 252.34 386.91 253.68C387.09 255.02 387.00 256.63 386.76 257.84C386.51 259.05 386.11 260.22 385.46 260.96C384.81 261.70 383.72 262.13 382.86 262.26C381.99 262.39 380.95 262.30 380.26 261.74C379.56 261.18 378.99 260.14 378.70 258.88C378.40 257.62 378.40 255.67 378.49 254.20C378.57 252.73 378.83 251.04 379.22 250.04Z" fill="none" stroke="#1a1a1a" stroke-width="0.7"/><path d="M380.02 251.30C380.31 250.53 380.69 250.17 381.22 249.90C381.75 249.63 382.59 249.50 383.22 249.70C383.85 249.90 384.57 250.37 385.02 251.10C385.47 251.83 385.81 253.07 385.94 254.10C386.07 255.13 386.01 256.37 385.82 257.30C385.63 258.23 385.32 259.13 384.82 259.70C384.32 260.27 383.49 260.60 382.82 260.70C382.15 260.80 381.35 260.73 380.82 260.30C380.29 259.87 379.85 259.07 379.62 258.10C379.39 257.13 379.39 255.63 379.46 254.50C379.53 253.37 379.73 252.07 380.02 251.30Z" fill="none" stroke="#1a1a1a" stroke-width="0.7"/><path d="M380.82 252.56C381.03 252.02 381.29 251.77 381.66 251.58C382.04 251.39 382.62 251.30 383.06 251.44C383.51 251.58 384.01 251.91 384.32 252.42C384.64 252.93 384.87 253.80 384.97 254.52C385.06 255.24 385.01 256.11 384.88 256.76C384.75 257.41 384.53 258.04 384.18 258.44C383.83 258.84 383.25 259.07 382.78 259.14C382.32 259.21 381.76 259.16 381.38 258.86C381.01 258.56 380.70 258.00 380.54 257.32C380.39 256.64 380.39 255.59 380.43 254.80C380.48 254.01 380.62 253.10 380.82 252.56Z" fill="none" stroke="#1a1a1a" stroke-width="0.7"/>
<ellipse cx="382.7" cy="255.5" rx="0.8" ry="2.6" fill="#fff"/>
<rect x="372.4" y="219.5" width="26" height="70.9" fill="none" stroke="#231f20" stroke-width="0.8"/>
<rect x="374.4" y="222.3" width="22.1" height="37.1" fill="none" stroke="#231f20" stroke-width="0.8"/>
<rect x="374.4" y="263.1" width="22.1" height="18" fill="none" stroke="#231f20" stroke-width="0.8"/>
<rect x="328.6" y="214.6" width="80.89999999999998" height="80.4" fill="none" stroke="#231f20" stroke-width="1.1"/>
<path d="M328.6 217h-2.2M328.6 221.5h-1.2M328.6 224.2h-1.2M328.6 226h-1.2M328.6 227.5h-1.2M328.6 228.7h-1.2M328.6 229.7h-1.2M328.6 230.5h-1.2M328.6 231.3h-1.2M328.6 232h-2.2M328.6 236.5h-1.2M328.6 239.2h-1.2M328.6 241h-1.2M328.6 242.5h-1.2M328.6 243.7h-1.2M328.6 244.7h-1.2M328.6 245.5h-1.2M328.6 246.3h-1.2M328.6 247h-2.2M328.6 251.5h-1.2M328.6 254.2h-1.2M328.6 256h-1.2M328.6 257.5h-1.2M328.6 258.7h-1.2M328.6 259.7h-1.2M328.6 260.5h-1.2M328.6 261.3h-1.2M328.6 262h-2.2M328.6 266.5h-1.2M328.6 269.2h-1.2M328.6 271h-1.2M328.6 272.5h-1.2M328.6 273.7h-1.2M328.6 274.7h-1.2M328.6 275.5h-1.2M328.6 276.3h-1.2M328.6 277h-2.2M328.6 281.5h-1.2M328.6 284.2h-1.2M328.6 286h-1.2M328.6 287.5h-1.2M328.6 288.7h-1.2M328.6 289.7h-1.2M328.6 290.5h-1.2M328.6 291.3h-1.2M328.6 292h-2.2M332 295.0v2.2M336.7 295.0v1.2M339.4 295.0v1.2M341.3 295.0v1.2M342.8 295.0v1.2M344.1 295.0v1.2M345.1 295.0v1.2M346 295.0v1.2M346.8 295.0v1.2M347.5 295.0v2.2M352.2 295.0v1.2M354.9 295.0v1.2M356.8 295.0v1.2M358.3 295.0v1.2M359.6 295.0v1.2M360.6 295.0v1.2M361.5 295.0v1.2M362.3 295.0v1.2M363 295.0v2.2M367.7 295.0v1.2M370.4 295.0v1.2M372.3 295.0v1.2M373.8 295.0v1.2M375.1 295.0v1.2M376.1 295.0v1.2M377 295.0v1.2M377.8 295.0v1.2M378.5 295.0v2.2M383.2 295.0v1.2M385.9 295.0v1.2M387.8 295.0v1.2M389.3 295.0v1.2M390.6 295.0v1.2M391.6 295.0v1.2M392.5 295.0v1.2M393.3 295.0v1.2M394 295.0v2.2M398.7 295.0v1.2M401.4 295.0v1.2M403.3 295.0v1.2M404.8 295.0v1.2M406.1 295.0v1.2M407.1 295.0v1.2M408 295.0v1.2M408.8 295.0v1.2" stroke="#111" stroke-width="0.75" fill="none"/>
<text x="367.6" y="208.5" font-size="8.7" text-anchor="middle" fill="#231f20" stroke="#231f20" stroke-width="0.22">CD34+ 45%</text>
<text x="331.6" y="222.3" font-size="7.3" text-anchor="start" fill="#231f20" stroke="#231f20" stroke-width="0.22">CD34+</text>
<text x="331.6" y="231.7" font-size="7.3" text-anchor="start" fill="#231f20" stroke="#231f20" stroke-width="0.22">CD38+ 32%</text>
<text x="331.6" y="283.2" font-size="7.3" text-anchor="start" fill="#231f20" stroke="#231f20" stroke-width="0.22">CD34+</text>
<text x="331.6" y="293" font-size="7.3" text-anchor="start" fill="#231f20" stroke="#231f20" stroke-width="0.22">CD38− 4%</text>
<text transform="translate(322.4 291.2) rotate(-90)" font-size="8.1" fill="#231f20" stroke="#231f20" stroke-width="0.22">CD38</text>
<text x="334.6" y="309.5" font-size="8.1" text-anchor="start" fill="#231f20" stroke="#231f20" stroke-width="0.22">CD34</text>
<line x1="399.7" y1="276.2" x2="440.2" y2="260.2" stroke="#231f20" stroke-width="0.9"/>
<path d="M443.9 258.7L441 262.2L439.4 258.1Z" fill="#231f20"/>
<path d="M465.6 264.6h0M467.4 251.2h0M475.6 252.0h0M468.0 240.6h0M462.1 249.6h0M462.7 262.1h0M481.1 253.1h0M467.1 257.6h0M484.5 257.1h0M476.5 217.8h0M480.6 260.6h0M457.2 251.0h0M479.2 254.2h0M466.3 268.5h0M478.4 253.6h0M479.6 259.3h0M465.5 246.1h0M460.5 241.8h0M469.3 229.8h0M461.2 239.2h0M463.3 260.0h0M463.6 232.7h0M466.3 259.3h0M464.5 246.0h0M463.1 268.3h0M474.1 257.5h0M464.5 263.9h0M458.3 249.8h0M466.8 241.0h0M459.7 255.4h0M465.1 246.6h0M471.5 256.8h0M464.2 264.5h0M458.3 228.1h0M466.9 261.2h0M448.4 258.1h0M467.4 252.7h0M473.6 255.4h0M471.6 251.3h0M460.7 249.0h0M473.6 256.0h0M455.4 265.0h0M457.7 256.7h0M466.0 237.5h0M469.2 251.0h0M477.3 269.5h0M469.9 253.7h0M476.3 231.6h0M461.4 255.0h0M465.2 244.3h0M464.2 259.5h0M489.8 241.8h0M477.1 244.2h0M469.9 269.0h0M458.8 257.5h0M482.2 248.8h0M459.0 242.2h0M466.8 257.1h0M486.3 249.6h0M462.7 248.6h0M453.6 256.3h0M464.6 257.2h0M466.8 264.1h0M468.9 250.2h0M476.9 237.3h0M476.9 248.7h0M478.6 242.9h0M473.8 257.4h0M461.7 249.7h0M474.3 247.1h0M471.9 240.1h0M468.4 244.7h0M471.4 256.2h0M477.1 237.6h0M468.4 236.9h0M476.4 236.6h0M477.8 258.0h0M467.7 259.0h0M471.2 249.1h0M472.0 252.1h0M462.9 233.7h0M454.4 249.3h0M469.4 249.6h0M447.1 255.5h0M466.1 241.2h0M458.9 250.6h0M468.4 253.6h0M456.1 242.6h0M473.7 240.2h0M482.4 251.6h0M449.7 244.2h0M468.5 250.7h0M462.7 252.0h0M471.4 266.1h0M467.5 254.0h0M453.2 248.1h0M467.2 252.7h0M453.8 251.9h0M472.1 247.1h0M473.2 253.6h0M477.0 245.2h0M475.7 259.5h0M449.6 254.6h0M461.4 252.1h0M478.3 251.3h0M459.7 263.4h0M460.7 240.1h0M471.2 243.2h0M455.7 256.6h0M462.8 268.6h0M488.0 243.9h0M469.1 248.9h0M469.4 243.2h0M472.1 248.8h0M465.9 244.1h0M462.0 257.6h0M461.7 226.6h0M467.4 232.4h0M475.4 223.1h0M467.7 253.8h0M458.6 252.9h0M468.2 270.6h0M477.5 238.0h0M461.2 281.8h0M474.1 268.6h0M484.2 243.3h0M472.8 247.6h0M481.1 264.7h0M447.2 267.9h0M469.7 243.4h0M484.3 239.9h0M457.1 267.9h0M471.5 245.6h0M484.8 258.0h0M475.0 239.0h0M457.1 276.0h0M459.4 243.1h0M483.3 238.5h0M477.9 253.6h0M479.0 241.9h0M448.9 261.8h0M465.4 275.6h0M458.2 268.9h0M452.6 276.2h0M467.8 247.0h0M485.6 241.9h0M489.7 274.2h0M484.7 274.9h0M469.9 256.8h0M467.7 246.6h0M487.0 239.5h0M489.1 278.6h0M468.7 252.8h0M473.7 252.4h0M447.0 249.5h0M458.0 269.1h0M454.3 252.5h0M474.9 250.2h0M470.4 270.6h0M452.6 277.6h0" stroke="#231f20" stroke-opacity="0.8" stroke-width="0.55" stroke-linecap="square" fill="none"/>
<path d="M452.00 240.00C453.00 234.53 455.67 239.23 458.00 239.20C460.33 239.17 463.58 239.13 466.00 239.80C468.42 240.47 471.03 241.75 472.50 243.20C473.97 244.65 474.80 246.70 474.80 248.50C474.80 250.30 473.88 251.92 472.50 254.00C471.12 256.08 468.42 258.67 466.50 261.00C464.58 263.33 462.50 265.58 461.00 268.00C459.50 270.42 459.00 274.83 457.50 275.50C456.00 276.17 452.92 277.92 452.00 272.00C451.08 266.08 451.00 245.47 452.00 240.00Z" fill="#fff" stroke="#1a1a1a" stroke-width="0.6"/><path d="M451.90 241.20C452.80 236.28 455.20 240.51 457.30 240.48C459.40 240.45 462.32 240.42 464.50 241.02C466.68 241.62 469.03 242.77 470.35 244.08C471.67 245.38 472.42 247.23 472.42 248.85C472.42 250.47 471.60 251.93 470.35 253.80C469.11 255.68 466.68 258.00 464.95 260.10C463.22 262.20 461.35 264.22 460.00 266.40C458.65 268.57 458.20 272.55 456.85 273.15C455.50 273.75 452.72 275.32 451.90 270.00C451.07 264.68 451.00 246.12 451.90 241.20Z" fill="none" stroke="#1a1a1a" stroke-width="0.6"/><path d="M451.80 242.40C452.60 238.03 454.73 241.79 456.60 241.76C458.47 241.73 461.07 241.71 463.00 242.24C464.93 242.77 467.03 243.80 468.20 244.96C469.37 246.12 470.04 247.76 470.04 249.20C470.04 250.64 469.31 251.93 468.20 253.60C467.09 255.27 464.93 257.33 463.40 259.20C461.87 261.07 460.20 262.87 459.00 264.80C457.80 266.73 457.40 270.27 456.20 270.80C455.00 271.33 452.53 272.73 451.80 268.00C451.07 263.27 451.00 246.77 451.80 242.40Z" fill="none" stroke="#1a1a1a" stroke-width="0.6"/><path d="M451.70 243.60C452.40 239.77 454.27 243.06 455.90 243.04C457.53 243.02 459.81 242.99 461.50 243.46C463.19 243.93 465.02 244.82 466.05 245.84C467.08 246.86 467.66 248.29 467.66 249.55C467.66 250.81 467.02 251.94 466.05 253.40C465.08 254.86 463.19 256.67 461.85 258.30C460.51 259.93 459.05 261.51 458.00 263.20C456.95 264.89 456.60 267.98 455.55 268.45C454.50 268.92 452.34 270.14 451.70 266.00C451.06 261.86 451.00 247.43 451.70 243.60Z" fill="none" stroke="#1a1a1a" stroke-width="0.6"/><path d="M451.60 244.80C452.20 241.52 453.80 244.34 455.20 244.32C456.60 244.30 458.55 244.28 460.00 244.68C461.45 245.08 463.02 245.85 463.90 246.72C464.78 247.59 465.28 248.82 465.28 249.90C465.28 250.98 464.73 251.95 463.90 253.20C463.07 254.45 461.45 256.00 460.30 257.40C459.15 258.80 457.90 260.15 457.00 261.60C456.10 263.05 455.80 265.70 454.90 266.10C454.00 266.50 452.15 267.55 451.60 264.00C451.05 260.45 451.00 248.08 451.60 244.80Z" fill="none" stroke="#1a1a1a" stroke-width="0.6"/><path d="M451.50 246.00C452.00 243.27 453.33 245.62 454.50 245.60C455.67 245.58 457.29 245.57 458.50 245.90C459.71 246.23 461.02 246.88 461.75 247.60C462.48 248.32 462.90 249.35 462.90 250.25C462.90 251.15 462.44 251.96 461.75 253.00C461.06 254.04 459.71 255.33 458.75 256.50C457.79 257.67 456.75 258.79 456.00 260.00C455.25 261.21 455.00 263.42 454.25 263.75C453.50 264.08 451.96 264.96 451.50 262.00C451.04 259.04 451.00 248.73 451.50 246.00Z" fill="none" stroke="#1a1a1a" stroke-width="0.6"/>
<path d="M446.30 253.00C446.47 249.83 446.80 247.13 447.50 245.00C448.20 242.87 449.25 241.10 450.50 240.20C451.75 239.30 453.67 239.13 455.00 239.60C456.33 240.07 457.67 240.93 458.50 243.00C459.33 245.07 459.83 248.83 460.00 252.00C460.17 255.17 459.92 258.83 459.50 262.00C459.08 265.17 458.50 268.70 457.50 271.00C456.50 273.30 454.92 275.63 453.50 275.80C452.08 275.97 450.17 273.97 449.00 272.00C447.83 270.03 446.95 267.17 446.50 264.00C446.05 260.83 446.13 256.17 446.30 253.00Z" fill="#fff"/>
<path d="M446.30 253.00C446.47 249.83 446.80 247.13 447.50 245.00C448.20 242.87 449.25 241.10 450.50 240.20C451.75 239.30 453.67 239.13 455.00 239.60C456.33 240.07 457.67 240.93 458.50 243.00C459.33 245.07 459.83 248.83 460.00 252.00C460.17 255.17 459.92 258.83 459.50 262.00C459.08 265.17 458.50 268.70 457.50 271.00C456.50 273.30 454.92 275.63 453.50 275.80C452.08 275.97 450.17 273.97 449.00 272.00C447.83 270.03 446.95 267.17 446.50 264.00C446.05 260.83 446.13 256.17 446.30 253.00Z" fill="#5a5a5a" stroke="#1a1a1a" stroke-width="0.55"/><path d="M446.82 253.36C446.97 250.45 447.28 247.96 447.92 246.00C448.57 244.04 449.53 242.41 450.68 241.58C451.83 240.76 453.60 240.60 454.82 241.03C456.05 241.46 457.28 242.26 458.04 244.16C458.81 246.06 459.27 249.53 459.42 252.44C459.58 255.35 459.35 258.73 458.96 261.64C458.58 264.55 458.04 267.80 457.12 269.92C456.20 272.04 454.75 274.18 453.44 274.34C452.14 274.49 450.38 272.65 449.30 270.84C448.23 269.03 447.42 266.39 447.00 263.48C446.59 260.57 446.67 256.27 446.82 253.36Z" fill="none" stroke="#1a1a1a" stroke-width="0.55"/><path d="M447.34 253.72C447.48 251.06 447.76 248.79 448.35 247.00C448.94 245.21 449.82 243.72 450.87 242.97C451.92 242.21 453.53 242.07 454.65 242.46C455.77 242.86 456.89 243.58 457.59 245.32C458.29 247.06 458.71 250.22 458.85 252.88C458.99 255.54 458.78 258.62 458.43 261.28C458.08 263.94 457.59 266.91 456.75 268.84C455.91 270.77 454.58 272.73 453.39 272.87C452.20 273.01 450.59 271.33 449.61 269.68C448.63 268.03 447.89 265.62 447.51 262.96C447.13 260.30 447.20 256.38 447.34 253.72Z" fill="none" stroke="#1a1a1a" stroke-width="0.55"/><path d="M447.86 254.08C447.99 251.67 448.24 249.62 448.77 248.00C449.30 246.38 450.10 245.04 451.05 244.35C452.00 243.67 453.46 243.54 454.47 243.90C455.49 244.25 456.50 244.91 457.13 246.48C457.77 248.05 458.15 250.91 458.27 253.32C458.40 255.73 458.21 258.51 457.89 260.92C457.58 263.33 457.13 266.01 456.37 267.76C455.61 269.51 454.41 271.28 453.33 271.41C452.26 271.53 450.80 270.01 449.91 268.52C449.03 267.03 448.35 264.85 448.01 262.44C447.67 260.03 447.73 256.49 447.86 254.08Z" fill="none" stroke="#1a1a1a" stroke-width="0.55"/><path d="M448.38 254.44C448.49 252.29 448.72 250.45 449.20 249.00C449.67 247.55 450.39 246.35 451.24 245.74C452.09 245.12 453.39 245.01 454.30 245.33C455.20 245.65 456.11 246.23 456.68 247.64C457.24 249.05 457.58 251.61 457.70 253.76C457.81 255.91 457.64 258.41 457.36 260.56C457.07 262.71 456.68 265.12 456.00 266.68C455.32 268.24 454.24 269.83 453.28 269.94C452.31 270.06 451.01 268.70 450.22 267.36C449.42 266.02 448.82 264.07 448.52 261.92C448.21 259.77 448.27 256.59 448.38 254.44Z" fill="none" stroke="#1a1a1a" stroke-width="0.55"/><path d="M448.90 254.80C449.00 252.90 449.20 251.28 449.62 250.00C450.04 248.72 450.67 247.66 451.42 247.12C452.17 246.58 453.32 246.48 454.12 246.76C454.92 247.04 455.72 247.56 456.22 248.80C456.72 250.04 457.02 252.30 457.12 254.20C457.22 256.10 457.07 258.30 456.82 260.20C456.57 262.10 456.22 264.22 455.62 265.60C455.02 266.98 454.07 268.38 453.22 268.48C452.37 268.58 451.22 267.38 450.52 266.20C449.82 265.02 449.29 263.30 449.02 261.40C448.75 259.50 448.80 256.70 448.90 254.80Z" fill="none" stroke="#1a1a1a" stroke-width="0.55"/><path d="M449.42 255.16C449.51 253.51 449.68 252.11 450.04 251.00C450.41 249.89 450.95 248.97 451.60 248.50C452.25 248.04 453.25 247.95 453.94 248.19C454.64 248.43 455.33 248.89 455.76 249.96C456.20 251.03 456.46 252.99 456.54 254.64C456.63 256.29 456.50 258.19 456.28 259.84C456.07 261.49 455.76 263.32 455.24 264.52C454.72 265.72 453.90 266.93 453.16 267.02C452.43 267.10 451.43 266.06 450.82 265.04C450.22 264.02 449.76 262.53 449.52 260.88C449.29 259.23 449.33 256.81 449.42 255.16Z" fill="none" stroke="#1a1a1a" stroke-width="0.55"/><path d="M449.94 255.52C450.01 254.13 450.16 252.94 450.47 252.00C450.78 251.06 451.24 250.28 451.79 249.89C452.34 249.49 453.18 249.42 453.77 249.62C454.35 249.83 454.94 250.21 455.31 251.12C455.67 252.03 455.89 253.69 455.97 255.08C456.04 256.47 455.93 258.09 455.75 259.48C455.56 260.87 455.31 262.43 454.87 263.44C454.43 264.45 453.73 265.48 453.11 265.55C452.48 265.63 451.64 264.75 451.13 263.88C450.61 263.01 450.23 261.75 450.03 260.36C449.83 258.97 449.87 256.91 449.94 255.52Z" fill="none" stroke="#1a1a1a" stroke-width="0.55"/><path d="M450.46 255.88C450.52 254.74 450.64 253.77 450.89 253.00C451.14 252.23 451.52 251.60 451.97 251.27C452.42 250.95 453.11 250.89 453.59 251.06C454.07 251.22 454.55 251.54 454.85 252.28C455.15 253.02 455.33 254.38 455.39 255.52C455.45 256.66 455.36 257.98 455.21 259.12C455.06 260.26 454.85 261.53 454.49 262.36C454.13 263.19 453.56 264.03 453.05 264.09C452.54 264.15 451.85 263.43 451.43 262.72C451.01 262.01 450.69 260.98 450.53 259.84C450.37 258.70 450.40 257.02 450.46 255.88Z" fill="none" stroke="#1a1a1a" stroke-width="0.55"/><path d="M450.98 256.24C451.03 255.35 451.12 254.60 451.32 254.00C451.51 253.40 451.81 252.91 452.16 252.66C452.51 252.40 453.04 252.36 453.42 252.49C453.79 252.62 454.16 252.86 454.40 253.44C454.63 254.02 454.77 255.07 454.82 255.96C454.86 256.85 454.79 257.87 454.68 258.76C454.56 259.65 454.40 260.64 454.12 261.28C453.84 261.92 453.39 262.58 453.00 262.62C452.60 262.67 452.06 262.11 451.74 261.56C451.41 261.01 451.16 260.21 451.04 259.32C450.91 258.43 450.93 257.13 450.98 256.24Z" fill="none" stroke="#1a1a1a" stroke-width="0.55"/>
<ellipse cx="452.8" cy="256" rx="0.8" ry="3.5" fill="#fff"/>
<rect x="436.2" y="233.4" width="21.6" height="47.2" fill="none" stroke="#231f20" stroke-width="0.8"/>
<rect x="432" y="214.6" width="80.5" height="80.4" fill="none" stroke="#231f20" stroke-width="1.1"/>
<path d="M432 217h-2.2M432 221.5h-1.2M432 224.2h-1.2M432 226h-1.2M432 227.5h-1.2M432 228.7h-1.2M432 229.7h-1.2M432 230.5h-1.2M432 231.3h-1.2M432 232h-2.2M432 236.5h-1.2M432 239.2h-1.2M432 241h-1.2M432 242.5h-1.2M432 243.7h-1.2M432 244.7h-1.2M432 245.5h-1.2M432 246.3h-1.2M432 247h-2.2M432 251.5h-1.2M432 254.2h-1.2M432 256h-1.2M432 257.5h-1.2M432 258.7h-1.2M432 259.7h-1.2M432 260.5h-1.2M432 261.3h-1.2M432 262h-2.2M432 266.5h-1.2M432 269.2h-1.2M432 271h-1.2M432 272.5h-1.2M432 273.7h-1.2M432 274.7h-1.2M432 275.5h-1.2M432 276.3h-1.2M432 277h-2.2M432 281.5h-1.2M432 284.2h-1.2M432 286h-1.2M432 287.5h-1.2M432 288.7h-1.2M432 289.7h-1.2M432 290.5h-1.2M432 291.3h-1.2M432 292h-2.2M435 295.0v2.2M439.7 295.0v1.2M442.4 295.0v1.2M444.3 295.0v1.2M445.8 295.0v1.2M447.1 295.0v1.2M448.1 295.0v1.2M449 295.0v1.2M449.8 295.0v1.2M450.5 295.0v2.2M455.2 295.0v1.2M457.9 295.0v1.2M459.8 295.0v1.2M461.3 295.0v1.2M462.6 295.0v1.2M463.6 295.0v1.2M464.5 295.0v1.2M465.3 295.0v1.2M466 295.0v2.2M470.7 295.0v1.2M473.4 295.0v1.2M475.3 295.0v1.2M476.8 295.0v1.2M478.1 295.0v1.2M479.1 295.0v1.2M480 295.0v1.2M480.8 295.0v1.2M481.5 295.0v2.2M486.2 295.0v1.2M488.9 295.0v1.2M490.8 295.0v1.2M492.3 295.0v1.2M493.6 295.0v1.2M494.6 295.0v1.2M495.5 295.0v1.2M496.3 295.0v1.2M497 295.0v2.2M501.7 295.0v1.2M504.4 295.0v1.2M506.3 295.0v1.2M507.8 295.0v1.2M509.1 295.0v1.2M510.1 295.0v1.2M511 295.0v1.2M511.8 295.0v1.2" stroke="#111" stroke-width="0.75" fill="none"/>
<text x="435.2" y="222.3" font-size="7.3" text-anchor="start" fill="#231f20" stroke="#231f20" stroke-width="0.22">HSC/MPPs 69%</text>
<text transform="translate(426.3 293.3) rotate(-90)" font-size="8.1" fill="#231f20" stroke="#231f20" stroke-width="0.22">CD123</text>
<text x="432.3" y="309.5" font-size="8.1" text-anchor="start" fill="#231f20" stroke="#231f20" stroke-width="0.22">CD45RA</text>
<text x="7.3" y="338.8" font-size="10.5" text-anchor="start" fill="#000" font-weight="bold" stroke="#000" stroke-width="0.22">D</text>
<text x="77" y="338.8" font-size="8.2" text-anchor="middle" fill="#231f20" stroke="#231f20" stroke-width="0.22">CLU</text>
<path d="M44.8 447.5L47.8 442.7L50.4 436.6L53.0 427.1L54.7 421.0L57.3 416.7L59.0 410.7L60.8 402.9L61.6 396.0L63.4 399.4L65.1 394.2L67.7 384.7L69.4 382.1L71.2 380.0L72.5 382.1L73.7 389.0L75.5 390.8L77.2 396.0L78.9 404.6L80.7 406.3L82.4 415.9L84.1 420.2L86.7 427.1L89.3 429.7L91.9 434.9L95.4 438.4L99.7 440.1L104.0 441.8L107.5 444.4L109.2 443.6L112.7 446.2L116.2 447.4L120.0 448.0L120 448.3L44.8 448.3Z" fill="rgba(200,16,46,0.27)"/>
<path d="M27.0 448.0L40.0 447.8L52.1 447.4L59.0 446.5L66.0 444.8L74.6 442.7L79.8 439.2L82.9 434.0L84.7 421.9L85.9 411.5L87.6 408.1L89.3 396.0L91.1 383.0L92.3 381.2L93.7 385.6L95.0 401.2L96.2 408.9L98.5 413.3L100.2 417.6L101.4 427.1L103.2 435.8L104.9 441.0L107.5 444.4L111.0 443.6L114.4 445.3L119.6 446.7L126.5 447.8L126.5 448.3L27 448.3Z" fill="rgba(22,89,154,0.26)"/>
<path d="M44.8 447.5L47.8 442.7L50.4 436.6L53.0 427.1L54.7 421.0L57.3 416.7L59.0 410.7L60.8 402.9L61.6 396.0L63.4 399.4L65.1 394.2L67.7 384.7L69.4 382.1L71.2 380.0L72.5 382.1L73.7 389.0L75.5 390.8L77.2 396.0L78.9 404.6L80.7 406.3L82.4 415.9L84.1 420.2L86.7 427.1L89.3 429.7L91.9 434.9L95.4 438.4L99.7 440.1L104.0 441.8L107.5 444.4L109.2 443.6L112.7 446.2L116.2 447.4L120.0 448.0" fill="none" stroke="#c8102e" stroke-width="1.3" stroke-linejoin="round"/>
<path d="M27.0 448.0L40.0 447.8L52.1 447.4L59.0 446.5L66.0 444.8L74.6 442.7L79.8 439.2L82.9 434.0L84.7 421.9L85.9 411.5L87.6 408.1L89.3 396.0L91.1 383.0L92.3 381.2L93.7 385.6L95.0 401.2L96.2 408.9L98.5 413.3L100.2 417.6L101.4 427.1L103.2 435.8L104.9 441.0L107.5 444.4L111.0 443.6L114.4 445.3L119.6 446.7L126.5 447.8" fill="none" stroke="#16599a" stroke-width="1.3" stroke-linejoin="round"/>
<rect x="25.8" y="344.6" width="102.2" height="103.7" fill="none" stroke="#231f20" stroke-width="1.1"/>
<path d="M25.8 448.2h-3M25.8 444.3h-1.6M25.8 440.3h-1.6M25.8 436.4h-1.6M25.8 432.5h-1.6M25.8 428.5h-3M25.8 424.6h-1.6M25.8 420.6h-1.6M25.8 416.7h-1.6M25.8 412.8h-1.6M25.8 408.8h-3M25.8 404.9h-1.6M25.8 401h-1.6M25.8 397h-1.6M25.8 393.1h-1.6M25.8 389.2h-3M25.8 385.2h-1.6M25.8 381.3h-1.6M25.8 377.4h-1.6M25.8 373.4h-1.6M25.8 369.5h-3M25.8 365.5h-1.6M25.8 361.6h-1.6M25.8 357.7h-1.6M25.8 353.7h-1.6M25.8 349.8h-3" stroke="#231f20" stroke-width="0.7"/>
<text x="20.2" y="450.7" font-size="7.2" text-anchor="end" fill="#231f20" stroke="#231f20" stroke-width="0.22">0</text>
<text x="20.2" y="431" font-size="7.2" text-anchor="end" fill="#231f20" stroke="#231f20" stroke-width="0.22">20</text>
<text x="20.2" y="411.3" font-size="7.2" text-anchor="end" fill="#231f20" stroke="#231f20" stroke-width="0.22">40</text>
<text x="20.2" y="391.7" font-size="7.2" text-anchor="end" fill="#231f20" stroke="#231f20" stroke-width="0.22">60</text>
<text x="20.2" y="372" font-size="7.2" text-anchor="end" fill="#231f20" stroke="#231f20" stroke-width="0.22">80</text>
<text x="20.2" y="352.3" font-size="7.2" text-anchor="end" fill="#231f20" stroke="#231f20" stroke-width="0.22">100</text>
<path d="M32.7 448.3v3M67.3 448.3v3M94.3 448.3v3M120.4 448.3v3M75.4 448.3v1.6M80.2 448.3v1.6M83.6 448.3v1.6M86.2 448.3v1.6M88.3 448.3v1.6M90.1 448.3v1.6M91.7 448.3v1.6M93.1 448.3v1.6M102.4 448.3v1.6M107.2 448.3v1.6M110.6 448.3v1.6M113.2 448.3v1.6M115.3 448.3v1.6M117.1 448.3v1.6M118.7 448.3v1.6M120.1 448.3v1.6M46.1 448.3v1.6M42.7 448.3v1.6M40.3 448.3v1.6M38.4 448.3v1.6M36.9 448.3v1.6M35.7 448.3v1.6M34.6 448.3v1.6M33.6 448.3v1.6M49.3 448.3v1.6M50.3 448.3v1.6M51.3 448.3v1.6M52.3 448.3v1.6M53.3 448.3v1.6M54.3 448.3v1.6M55.3 448.3v1.6" stroke="#231f20" stroke-width="0.7"/>
<text x="32.7" y="461" font-size="7.6" text-anchor="middle" fill="#231f20" stroke="#231f20" stroke-width="0.22">−10<tspan font-size="5.3" dy="-3">3</tspan></text>
<text x="51.8" y="461" font-size="7.6" text-anchor="middle" fill="#231f20" stroke="#231f20" stroke-width="0.22">0</text>
<text x="68.3" y="461" font-size="7.6" text-anchor="middle" fill="#231f20" stroke="#231f20" stroke-width="0.22">10<tspan font-size="5.3" dy="-3">3</tspan></text>
<text x="95.3" y="461" font-size="7.6" text-anchor="middle" fill="#231f20" stroke="#231f20" stroke-width="0.22">10<tspan font-size="5.3" dy="-3">4</tspan></text>
<text x="121.4" y="461" font-size="7.6" text-anchor="middle" fill="#231f20" stroke="#231f20" stroke-width="0.22">10<tspan font-size="5.3" dy="-3">5</tspan></text>
<text x="38" y="474.2" font-size="8.8" fill="#231f20" stroke="#231f20" stroke-width="0.22"><tspan fill="#c8102e" stroke="#c8102e" stroke-width="0.22">PVchron.UT</tspan><tspan fill="#16599a" stroke="#16599a" stroke-width="0.22"> control</tspan></text>
<text x="204.5" y="338.8" font-size="8.2" text-anchor="middle" fill="#231f20" stroke="#231f20" stroke-width="0.22">LGALS9.chron</text>
<path d="M174.5 448.2L177.5 437.5L180.0 427.5L182.5 430.0L185.5 425.0L188.8 418.8L192.0 412.5L195.0 402.5L198.8 395.0L201.3 385.0L203.0 368.8L205.0 367.5L207.0 380.0L208.8 385.0L210.5 405.0L212.5 420.0L215.0 432.5L218.8 442.5L222.5 447.5L225.0 448.2L225 448.3L174.5 448.3Z" fill="rgba(200,16,46,0.27)"/>
<path d="M155.0 448.0L170.0 448.0L175.0 447.8L178.8 437.5L183.8 430.0L187.5 423.8L190.0 410.0L193.8 400.0L195.5 391.3L197.5 392.5L199.5 382.5L201.3 386.3L203.8 397.5L206.3 410.0L209.5 425.0L213.8 432.5L216.3 440.0L218.8 446.3L221.3 448.0L253.0 448.0L253 448.3L155 448.3Z" fill="rgba(22,89,154,0.26)"/>
<path d="M174.5 448.2L177.5 437.5L180.0 427.5L182.5 430.0L185.5 425.0L188.8 418.8L192.0 412.5L195.0 402.5L198.8 395.0L201.3 385.0L203.0 368.8L205.0 367.5L207.0 380.0L208.8 385.0L210.5 405.0L212.5 420.0L215.0 432.5L218.8 442.5L222.5 447.5L225.0 448.2" fill="none" stroke="#c8102e" stroke-width="1.3" stroke-linejoin="round"/>
<path d="M155.0 448.0L170.0 448.0L175.0 447.8L178.8 437.5L183.8 430.0L187.5 423.8L190.0 410.0L193.8 400.0L195.5 391.3L197.5 392.5L199.5 382.5L201.3 386.3L203.8 397.5L206.3 410.0L209.5 425.0L213.8 432.5L216.3 440.0L218.8 446.3L221.3 448.0L253.0 448.0" fill="none" stroke="#16599a" stroke-width="1.3" stroke-linejoin="round"/>
<rect x="153.8" y="344.6" width="101.2" height="103.7" fill="none" stroke="#231f20" stroke-width="1.1"/>
<path d="M153.8 448.2h-3M153.8 444.3h-1.6M153.8 440.3h-1.6M153.8 436.4h-1.6M153.8 432.5h-1.6M153.8 428.5h-3M153.8 424.6h-1.6M153.8 420.6h-1.6M153.8 416.7h-1.6M153.8 412.8h-1.6M153.8 408.8h-3M153.8 404.9h-1.6M153.8 401h-1.6M153.8 397h-1.6M153.8 393.1h-1.6M153.8 389.2h-3M153.8 385.2h-1.6M153.8 381.3h-1.6M153.8 377.4h-1.6M153.8 373.4h-1.6M153.8 369.5h-3M153.8 365.5h-1.6M153.8 361.6h-1.6M153.8 357.7h-1.6M153.8 353.7h-1.6M153.8 349.8h-3" stroke="#231f20" stroke-width="0.7"/>
<text x="148.2" y="450.7" font-size="7.2" text-anchor="end" fill="#231f20" stroke="#231f20" stroke-width="0.22">0</text>
<text x="148.2" y="431" font-size="7.2" text-anchor="end" fill="#231f20" stroke="#231f20" stroke-width="0.22">20</text>
<text x="148.2" y="411.3" font-size="7.2" text-anchor="end" fill="#231f20" stroke="#231f20" stroke-width="0.22">40</text>
<text x="148.2" y="391.7" font-size="7.2" text-anchor="end" fill="#231f20" stroke="#231f20" stroke-width="0.22">60</text>
<text x="148.2" y="372" font-size="7.2" text-anchor="end" fill="#231f20" stroke="#231f20" stroke-width="0.22">80</text>
<text x="148.2" y="352.3" font-size="7.2" text-anchor="end" fill="#231f20" stroke="#231f20" stroke-width="0.22">100</text>
<path d="M160.5 448.3v3M193.8 448.3v3M221.5 448.3v3M246 448.3v3M202.1 448.3v1.6M207 448.3v1.6M210.5 448.3v1.6M213.2 448.3v1.6M215.4 448.3v1.6M217.2 448.3v1.6M218.8 448.3v1.6M220.2 448.3v1.6M229.8 448.3v1.6M234.7 448.3v1.6M238.2 448.3v1.6M240.9 448.3v1.6M243.1 448.3v1.6M244.9 448.3v1.6M246.5 448.3v1.6M247.9 448.3v1.6M254.3 448.3v1.6M173.6 448.3v1.6M170.3 448.3v1.6M168 448.3v1.6M166.2 448.3v1.6M164.7 448.3v1.6M163.4 448.3v1.6M162.3 448.3v1.6M161.4 448.3v1.6M176.8 448.3v1.6M177.8 448.3v1.6M178.8 448.3v1.6M179.8 448.3v1.6M180.8 448.3v1.6M181.8 448.3v1.6M182.8 448.3v1.6" stroke="#231f20" stroke-width="0.7"/>
<text x="160.5" y="461" font-size="7.6" text-anchor="middle" fill="#231f20" stroke="#231f20" stroke-width="0.22">−10<tspan font-size="5.3" dy="-3">3</tspan></text>
<text x="179.3" y="461" font-size="7.6" text-anchor="middle" fill="#231f20" stroke="#231f20" stroke-width="0.22">0</text>
<text x="194.8" y="461" font-size="7.6" text-anchor="middle" fill="#231f20" stroke="#231f20" stroke-width="0.22">10<tspan font-size="5.3" dy="-3">3</tspan></text>
<text x="222.5" y="461" font-size="7.6" text-anchor="middle" fill="#231f20" stroke="#231f20" stroke-width="0.22">10<tspan font-size="5.3" dy="-3">4</tspan></text>
<text x="247" y="461" font-size="7.6" text-anchor="middle" fill="#231f20" stroke="#231f20" stroke-width="0.22">10<tspan font-size="5.3" dy="-3">5</tspan></text>
<text x="165.5" y="474.2" font-size="8.8" fill="#231f20" stroke="#231f20" stroke-width="0.22"><tspan fill="#c8102e" stroke="#c8102e" stroke-width="0.22">PVchron.UT</tspan><tspan fill="#16599a" stroke="#16599a" stroke-width="0.22"> control</tspan></text>
<text x="332.5" y="338.8" font-size="8.2" text-anchor="middle" fill="#231f20" stroke="#231f20" stroke-width="0.22">LGALS9.prog</text>
<path d="M281.0 448.0L300.0 448.0L308.8 447.8L310.0 440.0L311.3 417.5L312.0 385.0L313.0 355.0L314.5 357.5L316.3 365.0L317.5 360.0L319.5 370.0L321.3 382.5L322.5 377.5L323.8 388.8L325.5 402.5L328.0 406.3L330.0 417.5L332.0 416.3L333.8 425.0L336.3 437.5L340.0 443.8L345.0 448.0L383.0 448.0L383 448.3L281 448.3Z" fill="rgba(22,89,154,0.26)"/>
<path d="M309.5 448.2L313.8 440.0L317.5 430.0L321.3 420.0L324.5 410.0L327.5 403.8L331.3 396.3L334.5 391.3L336.3 380.0L338.8 367.5L340.5 358.8L342.5 360.0L345.0 367.5L347.5 385.0L350.0 402.5L353.0 415.0L356.3 427.5L358.8 442.5L361.3 448.2L361.3 448.3L309.5 448.3Z" fill="rgba(200,16,46,0.27)"/>
<path d="M281.0 448.0L300.0 448.0L308.8 447.8L310.0 440.0L311.3 417.5L312.0 385.0L313.0 355.0L314.5 357.5L316.3 365.0L317.5 360.0L319.5 370.0L321.3 382.5L322.5 377.5L323.8 388.8L325.5 402.5L328.0 406.3L330.0 417.5L332.0 416.3L333.8 425.0L336.3 437.5L340.0 443.8L345.0 448.0L383.0 448.0" fill="none" stroke="#16599a" stroke-width="1.3" stroke-linejoin="round"/>
<path d="M309.5 448.2L313.8 440.0L317.5 430.0L321.3 420.0L324.5 410.0L327.5 403.8L331.3 396.3L334.5 391.3L336.3 380.0L338.8 367.5L340.5 358.8L342.5 360.0L345.0 367.5L347.5 385.0L350.0 402.5L353.0 415.0L356.3 427.5L358.8 442.5L361.3 448.2" fill="none" stroke="#c8102e" stroke-width="1.3" stroke-linejoin="round"/>
<rect x="280" y="344.6" width="104.5" height="103.7" fill="none" stroke="#231f20" stroke-width="1.1"/>
<path d="M280 448.2h-3M280 444.3h-1.6M280 440.3h-1.6M280 436.4h-1.6M280 432.5h-1.6M280 428.5h-3M280 424.6h-1.6M280 420.6h-1.6M280 416.7h-1.6M280 412.8h-1.6M280 408.8h-3M280 404.9h-1.6M280 401h-1.6M280 397h-1.6M280 393.1h-1.6M280 389.2h-3M280 385.2h-1.6M280 381.3h-1.6M280 377.4h-1.6M280 373.4h-1.6M280 369.5h-3M280 365.5h-1.6M280 361.6h-1.6M280 357.7h-1.6M280 353.7h-1.6M280 349.8h-3" stroke="#231f20" stroke-width="0.7"/>
<text x="274.4" y="450.7" font-size="7.2" text-anchor="end" fill="#231f20" stroke="#231f20" stroke-width="0.22">0</text>
<text x="274.4" y="431" font-size="7.2" text-anchor="end" fill="#231f20" stroke="#231f20" stroke-width="0.22">20</text>
<text x="274.4" y="411.3" font-size="7.2" text-anchor="end" fill="#231f20" stroke="#231f20" stroke-width="0.22">40</text>
<text x="274.4" y="391.7" font-size="7.2" text-anchor="end" fill="#231f20" stroke="#231f20" stroke-width="0.22">60</text>
<text x="274.4" y="372" font-size="7.2" text-anchor="end" fill="#231f20" stroke="#231f20" stroke-width="0.22">80</text>
<text x="274.4" y="352.3" font-size="7.2" text-anchor="end" fill="#231f20" stroke="#231f20" stroke-width="0.22">100</text>
<path d="M303.5 448.3v3M322.5 448.3v3M354.5 448.3v3M382 448.3v3M332.1 448.3v1.6M337.8 448.3v1.6M341.8 448.3v1.6M344.9 448.3v1.6M347.4 448.3v1.6M349.5 448.3v1.6M351.4 448.3v1.6M353 448.3v1.6M364.1 448.3v1.6M369.8 448.3v1.6M373.8 448.3v1.6M376.9 448.3v1.6M379.4 448.3v1.6M381.5 448.3v1.6M383.4 448.3v1.6M385 448.3v1.6M310.1 448.3v1.6M308.5 448.3v1.6M307.3 448.3v1.6M306.4 448.3v1.6M305.6 448.3v1.6M305 448.3v1.6M304.4 448.3v1.6M303.9 448.3v1.6M310.5 448.3v1.6M311.5 448.3v1.6M312.5 448.3v1.6M313.5 448.3v1.6M314.5 448.3v1.6M315.5 448.3v1.6M316.5 448.3v1.6" stroke="#231f20" stroke-width="0.7"/>
<text x="303.5" y="461" font-size="7.6" text-anchor="middle" fill="#231f20" stroke="#231f20" stroke-width="0.22">−10<tspan font-size="5.3" dy="-3">3</tspan></text>
<text x="313" y="461" font-size="7.6" text-anchor="middle" fill="#231f20" stroke="#231f20" stroke-width="0.22">0</text>
<text x="323.5" y="461" font-size="7.6" text-anchor="middle" fill="#231f20" stroke="#231f20" stroke-width="0.22">10<tspan font-size="5.3" dy="-3">3</tspan></text>
<text x="355.5" y="461" font-size="7.6" text-anchor="middle" fill="#231f20" stroke="#231f20" stroke-width="0.22">10<tspan font-size="5.3" dy="-3">4</tspan></text>
<text x="383" y="461" font-size="7.6" text-anchor="middle" fill="#231f20" stroke="#231f20" stroke-width="0.22">10<tspan font-size="5.3" dy="-3">5</tspan></text>
<text x="301.5" y="474.2" font-size="8.8" fill="#231f20" stroke="#231f20" stroke-width="0.22"><tspan fill="#16599a" stroke="#16599a" stroke-width="0.22">Control</tspan><tspan fill="#c8102e" stroke="#c8102e" stroke-width="0.22"> PVprog</tspan></text>
<text x="461.8" y="338.8" font-size="8.2" text-anchor="middle" fill="#231f20" stroke="#231f20" stroke-width="0.22">FMO</text>
<path d="M428.5 448.0L430.5 444.0L431.3 420.0L431.8 366.0L432.3 364.0L432.8 380.0L433.5 430.0L434.5 446.0L435.5 448.0L435.5 448.3L428.5 448.3Z" fill="rgba(200,16,46,0.27)"/>
<path d="M411.0 448.0L429.0 448.0L430.8 444.0L431.8 420.0L432.4 395.0L433.0 381.0L433.6 395.0L434.2 425.0L435.2 444.0L436.5 448.0L512.0 448.0L512 448.3L411 448.3Z" fill="rgba(22,89,154,0.26)"/>
<path d="M428.5 448.0L430.5 444.0L431.3 420.0L431.8 366.0L432.3 364.0L432.8 380.0L433.5 430.0L434.5 446.0L435.5 448.0" fill="none" stroke="#c8102e" stroke-width="1.3" stroke-linejoin="round"/>
<path d="M411.0 448.0L429.0 448.0L430.8 444.0L431.8 420.0L432.4 395.0L433.0 381.0L433.6 395.0L434.2 425.0L435.2 444.0L436.5 448.0L512.0 448.0" fill="none" stroke="#16599a" stroke-width="1.3" stroke-linejoin="round"/>
<rect x="409.5" y="344.6" width="104.3" height="103.7" fill="none" stroke="#231f20" stroke-width="1.1"/>
<path d="M409.5 448.2h-3M409.5 444.3h-1.6M409.5 440.3h-1.6M409.5 436.4h-1.6M409.5 432.5h-1.6M409.5 428.5h-3M409.5 424.6h-1.6M409.5 420.6h-1.6M409.5 416.7h-1.6M409.5 412.8h-1.6M409.5 408.8h-3M409.5 404.9h-1.6M409.5 401h-1.6M409.5 397h-1.6M409.5 393.1h-1.6M409.5 389.2h-3M409.5 385.2h-1.6M409.5 381.3h-1.6M409.5 377.4h-1.6M409.5 373.4h-1.6M409.5 369.5h-3M409.5 365.5h-1.6M409.5 361.6h-1.6M409.5 357.7h-1.6M409.5 353.7h-1.6M409.5 349.8h-3" stroke="#231f20" stroke-width="0.7"/>
<text x="403.9" y="450.7" font-size="7.2" text-anchor="end" fill="#231f20" stroke="#231f20" stroke-width="0.22">0</text>
<text x="403.9" y="431" font-size="7.2" text-anchor="end" fill="#231f20" stroke="#231f20" stroke-width="0.22">20</text>
<text x="403.9" y="411.3" font-size="7.2" text-anchor="end" fill="#231f20" stroke="#231f20" stroke-width="0.22">40</text>
<text x="403.9" y="391.7" font-size="7.2" text-anchor="end" fill="#231f20" stroke="#231f20" stroke-width="0.22">60</text>
<text x="403.9" y="372" font-size="7.2" text-anchor="end" fill="#231f20" stroke="#231f20" stroke-width="0.22">80</text>
<text x="403.9" y="352.3" font-size="7.2" text-anchor="end" fill="#231f20" stroke="#231f20" stroke-width="0.22">100</text>
<path d="M417.5 448.3v3M448.5 448.3v3M477 448.3v3M503.5 448.3v3M457.1 448.3v1.6M462.1 448.3v1.6M465.7 448.3v1.6M468.4 448.3v1.6M470.7 448.3v1.6M472.6 448.3v1.6M474.2 448.3v1.6M475.7 448.3v1.6M485.6 448.3v1.6M490.6 448.3v1.6M494.2 448.3v1.6M496.9 448.3v1.6M499.2 448.3v1.6M501.1 448.3v1.6M502.7 448.3v1.6M504.2 448.3v1.6M512.1 448.3v1.6M429.4 448.3v1.6M426.4 448.3v1.6M424.3 448.3v1.6M422.6 448.3v1.6M421.3 448.3v1.6M420.1 448.3v1.6M419.1 448.3v1.6M418.3 448.3v1.6M432 448.3v1.6M433 448.3v1.6M434 448.3v1.6M435 448.3v1.6M436 448.3v1.6M437 448.3v1.6M438 448.3v1.6" stroke="#231f20" stroke-width="0.7"/>
<text x="417.5" y="461" font-size="7.6" text-anchor="middle" fill="#231f20" stroke="#231f20" stroke-width="0.22">−10<tspan font-size="5.3" dy="-3">3</tspan></text>
<text x="434.5" y="461" font-size="7.6" text-anchor="middle" fill="#231f20" stroke="#231f20" stroke-width="0.22">0</text>
<text x="449.5" y="461" font-size="7.6" text-anchor="middle" fill="#231f20" stroke="#231f20" stroke-width="0.22">10<tspan font-size="5.3" dy="-3">3</tspan></text>
<text x="478" y="461" font-size="7.6" text-anchor="middle" fill="#231f20" stroke="#231f20" stroke-width="0.22">10<tspan font-size="5.3" dy="-3">4</tspan></text>
<text x="504.5" y="461" font-size="7.6" text-anchor="middle" fill="#231f20" stroke="#231f20" stroke-width="0.22">10<tspan font-size="5.3" dy="-3">5</tspan></text>
<text x="0" y="474.2" font-size="8.8" fill="#231f20" stroke="#231f20" stroke-width="0.22"></text>
<text x="7.2" y="494.8" font-size="10.5" text-anchor="start" fill="#000" font-weight="bold" stroke="#000" stroke-width="0.22">E</text>
<line x1="55.3" y1="528.5" x2="55.3" y2="615.9" stroke="#231f20" stroke-width="1.1"/>
<line x1="54.8" y1="615.4" x2="111.3" y2="615.4" stroke="#231f20" stroke-width="1.1"/>
<line x1="52.3" y1="615.4" x2="55.3" y2="615.4" stroke="#231f20" stroke-width="1"/>
<text x="49" y="618.2" font-size="8" text-anchor="end" fill="#231f20" stroke="#231f20" stroke-width="0.22">0</text>
<line x1="52.3" y1="594.4" x2="55.3" y2="594.4" stroke="#231f20" stroke-width="1"/>
<text x="49" y="597.2" font-size="8" text-anchor="end" fill="#231f20" stroke="#231f20" stroke-width="0.22">2000</text>
<line x1="52.3" y1="573.4" x2="55.3" y2="573.4" stroke="#231f20" stroke-width="1"/>
<text x="49" y="576.2" font-size="8" text-anchor="end" fill="#231f20" stroke="#231f20" stroke-width="0.22">4000</text>
<line x1="52.3" y1="552.4" x2="55.3" y2="552.4" stroke="#231f20" stroke-width="1"/>
<text x="49" y="555.2" font-size="8" text-anchor="end" fill="#231f20" stroke="#231f20" stroke-width="0.22">6000</text>
<line x1="52.3" y1="531.4" x2="55.3" y2="531.4" stroke="#231f20" stroke-width="1"/>
<text x="49" y="534.2" font-size="8" text-anchor="end" fill="#231f20" stroke="#231f20" stroke-width="0.22">8000</text>
<line x1="71.3" y1="615.4" x2="71.3" y2="618.4" stroke="#231f20" stroke-width="1"/>
<line x1="94.5" y1="615.4" x2="94.5" y2="618.4" stroke="#231f20" stroke-width="1"/>
<text x="83" y="507.6" font-size="8.2" text-anchor="middle" fill="#231f20" stroke="#231f20" stroke-width="0.22">CLU</text>
<text x="83" y="518.9" font-size="7.8" text-anchor="middle" fill="#231f20" font-style="italic" stroke="#231f20" stroke-width="0.22">p=0.013</text>
<line x1="71.1" y1="522.7" x2="95.1" y2="522.7" stroke="#444" stroke-width="1"/>
<line x1="71.3" y1="546.1" x2="71.3" y2="577.6" stroke="#16599a" stroke-width="1"/>
<line x1="67.5" y1="546.1" x2="75" y2="546.1" stroke="#16599a" stroke-width="1"/>
<line x1="67.5" y1="577.6" x2="75" y2="577.6" stroke="#16599a" stroke-width="1"/>
<line x1="63.3" y1="561.9" x2="79.3" y2="561.9" stroke="#16599a" stroke-width="1.1"/>
<g fill="#16599a"><circle cx="71.3" cy="536.6" r="1.95"/><circle cx="71.3" cy="551.4" r="1.95"/><circle cx="66.5" cy="565" r="1.95"/><circle cx="71.8" cy="566" r="1.95"/><circle cx="76.4" cy="571.3" r="1.95"/><circle cx="71.3" cy="579.7" r="1.95"/></g>
<line x1="94.5" y1="586.5" x2="94.5" y2="593.9" stroke="#c8102e" stroke-width="1"/>
<line x1="90.8" y1="586.5" x2="98.2" y2="586.5" stroke="#c8102e" stroke-width="1"/>
<line x1="90.8" y1="593.9" x2="98.2" y2="593.9" stroke="#c8102e" stroke-width="1"/>
<line x1="86.5" y1="590.2" x2="102.5" y2="590.2" stroke="#c8102e" stroke-width="1.1"/>
<g fill="#c8102e"><circle cx="90" cy="587.6" r="1.95"/><circle cx="92.8" cy="587.6" r="1.95"/><circle cx="96.8" cy="586" r="1.95"/><circle cx="99.8" cy="590.7" r="1.95"/><circle cx="94.5" cy="598.1" r="1.95"/><circle cx="90.9" cy="588.6" r="1.95"/></g>
<text transform="translate(74.5 625.4) rotate(-45)" font-size="7.7" text-anchor="end" fill="#231f20" stroke="#231f20" stroke-width="0.22">Control</text>
<text transform="translate(97.7 625.4) rotate(-45)" font-size="7.7" text-anchor="end" fill="#231f20" stroke="#231f20" stroke-width="0.22">PVchron.UT</text>
<line x1="139.6" y1="528.5" x2="139.6" y2="615.9" stroke="#231f20" stroke-width="1.1"/>
<line x1="139.1" y1="615.4" x2="195.7" y2="615.4" stroke="#231f20" stroke-width="1.1"/>
<line x1="136.6" y1="615.4" x2="139.6" y2="615.4" stroke="#231f20" stroke-width="1"/>
<text x="133.3" y="618.2" font-size="8" text-anchor="end" fill="#231f20" stroke="#231f20" stroke-width="0.22">0</text>
<line x1="136.6" y1="598.6" x2="139.6" y2="598.6" stroke="#231f20" stroke-width="1"/>
<text x="133.3" y="601.4" font-size="8" text-anchor="end" fill="#231f20" stroke="#231f20" stroke-width="0.22">500</text>
<line x1="136.6" y1="581.8" x2="139.6" y2="581.8" stroke="#231f20" stroke-width="1"/>
<text x="133.3" y="584.6" font-size="8" text-anchor="end" fill="#231f20" stroke="#231f20" stroke-width="0.22">1000</text>
<line x1="136.6" y1="565" x2="139.6" y2="565" stroke="#231f20" stroke-width="1"/>
<text x="133.3" y="567.8" font-size="8" text-anchor="end" fill="#231f20" stroke="#231f20" stroke-width="0.22">1500</text>
<line x1="136.6" y1="548.2" x2="139.6" y2="548.2" stroke="#231f20" stroke-width="1"/>
<text x="133.3" y="551" font-size="8" text-anchor="end" fill="#231f20" stroke="#231f20" stroke-width="0.22">2000</text>
<line x1="136.6" y1="531.4" x2="139.6" y2="531.4" stroke="#231f20" stroke-width="1"/>
<text x="133.3" y="534.2" font-size="8" text-anchor="end" fill="#231f20" stroke="#231f20" stroke-width="0.22">2500</text>
<line x1="156.1" y1="615.4" x2="156.1" y2="618.4" stroke="#231f20" stroke-width="1"/>
<line x1="179.3" y1="615.4" x2="179.3" y2="618.4" stroke="#231f20" stroke-width="1"/>
<text x="167" y="507.6" font-size="8.2" text-anchor="middle" fill="#231f20" stroke="#231f20" stroke-width="0.22">LGALS9.chron</text>
<text x="167" y="518.9" font-size="7.8" text-anchor="middle" fill="#231f20" font-style="italic" stroke="#231f20" stroke-width="0.22">p=0.71</text>
<line x1="154.7" y1="522.7" x2="179.9" y2="522.7" stroke="#444" stroke-width="1"/>
<line x1="156.1" y1="545.5" x2="156.1" y2="589.9" stroke="#16599a" stroke-width="1"/>
<line x1="152.3" y1="545.5" x2="159.8" y2="545.5" stroke="#16599a" stroke-width="1"/>
<line x1="152.3" y1="589.9" x2="159.8" y2="589.9" stroke="#16599a" stroke-width="1"/>
<line x1="148.1" y1="567.7" x2="164.1" y2="567.7" stroke="#16599a" stroke-width="1.1"/>
<g fill="#16599a"><circle cx="157.5" cy="543.8" r="1.95"/><circle cx="152.8" cy="547.9" r="1.95"/><circle cx="150.6" cy="567.7" r="1.95"/><circle cx="156.1" cy="567.7" r="1.95"/><circle cx="160.7" cy="572.4" r="1.95"/><circle cx="156.1" cy="605.3" r="1.95"/></g>
<line x1="179.3" y1="547.9" x2="179.3" y2="579.4" stroke="#c8102e" stroke-width="1"/>
<line x1="175.6" y1="547.9" x2="183.1" y2="547.9" stroke="#c8102e" stroke-width="1"/>
<line x1="175.6" y1="579.4" x2="183.1" y2="579.4" stroke="#c8102e" stroke-width="1"/>
<line x1="171.3" y1="563.7" x2="187.3" y2="563.7" stroke="#c8102e" stroke-width="1.1"/>
<g fill="#c8102e"><circle cx="179.3" cy="542.2" r="1.95"/><circle cx="175.2" cy="552.2" r="1.95"/><circle cx="183.4" cy="556.6" r="1.95"/><circle cx="175.2" cy="572.4" r="1.95"/><circle cx="183.4" cy="575.1" r="1.95"/><circle cx="179.3" cy="583.8" r="1.95"/></g>
<text transform="translate(159.3 625.4) rotate(-45)" font-size="7.7" text-anchor="end" fill="#231f20" stroke="#231f20" stroke-width="0.22">Control</text>
<text transform="translate(182.5 625.4) rotate(-45)" font-size="7.7" text-anchor="end" fill="#231f20" stroke="#231f20" stroke-width="0.22">PVchron.UT</text>
<line x1="226.3" y1="528.5" x2="226.3" y2="615.9" stroke="#231f20" stroke-width="1.1"/>
<line x1="225.8" y1="615.4" x2="282" y2="615.4" stroke="#231f20" stroke-width="1.1"/>
<line x1="223.3" y1="615.4" x2="226.3" y2="615.4" stroke="#231f20" stroke-width="1"/>
<text x="220" y="618.2" font-size="8" text-anchor="end" fill="#231f20" stroke="#231f20" stroke-width="0.22">0</text>
<line x1="223.3" y1="594.4" x2="226.3" y2="594.4" stroke="#231f20" stroke-width="1"/>
<text x="220" y="597.2" font-size="8" text-anchor="end" fill="#231f20" stroke="#231f20" stroke-width="0.22">1000</text>
<line x1="223.3" y1="573.4" x2="226.3" y2="573.4" stroke="#231f20" stroke-width="1"/>
<text x="220" y="576.2" font-size="8" text-anchor="end" fill="#231f20" stroke="#231f20" stroke-width="0.22">2000</text>
<line x1="223.3" y1="552.4" x2="226.3" y2="552.4" stroke="#231f20" stroke-width="1"/>
<text x="220" y="555.2" font-size="8" text-anchor="end" fill="#231f20" stroke="#231f20" stroke-width="0.22">3000</text>
<line x1="223.3" y1="531.4" x2="226.3" y2="531.4" stroke="#231f20" stroke-width="1"/>
<text x="220" y="534.2" font-size="8" text-anchor="end" fill="#231f20" stroke="#231f20" stroke-width="0.22">4000</text>
<line x1="242.5" y1="615.4" x2="242.5" y2="618.4" stroke="#231f20" stroke-width="1"/>
<line x1="265.8" y1="615.4" x2="265.8" y2="618.4" stroke="#231f20" stroke-width="1"/>
<text x="254.3" y="507.6" font-size="8.2" text-anchor="middle" fill="#231f20" stroke="#231f20" stroke-width="0.22">LGALS9.prog</text>
<text x="254.3" y="518.9" font-size="7.8" text-anchor="middle" fill="#231f20" font-style="italic" stroke="#231f20" stroke-width="0.22">p=0.0096</text>
<line x1="242" y1="522.7" x2="266" y2="522.7" stroke="#444" stroke-width="1"/>
<line x1="242.5" y1="591.7" x2="242.5" y2="603.4" stroke="#16599a" stroke-width="1"/>
<line x1="238.8" y1="591.7" x2="246.2" y2="591.7" stroke="#16599a" stroke-width="1"/>
<line x1="238.8" y1="603.4" x2="246.2" y2="603.4" stroke="#16599a" stroke-width="1"/>
<line x1="234.5" y1="597.5" x2="250.5" y2="597.5" stroke="#16599a" stroke-width="1.1"/>
<g fill="#16599a"><circle cx="242.5" cy="591.2" r="1.95"/><circle cx="238.4" cy="598.6" r="1.95"/><circle cx="246.6" cy="600.7" r="1.95"/></g>
<line x1="265.8" y1="545.7" x2="265.8" y2="557.9" stroke="#c8102e" stroke-width="1"/>
<line x1="262.1" y1="545.7" x2="269.6" y2="545.7" stroke="#c8102e" stroke-width="1"/>
<line x1="262.1" y1="557.9" x2="269.6" y2="557.9" stroke="#c8102e" stroke-width="1"/>
<line x1="257.8" y1="551.8" x2="273.8" y2="551.8" stroke="#c8102e" stroke-width="1.1"/>
<g fill="#c8102e"><circle cx="262" cy="547.1" r="1.95"/><circle cx="270.2" cy="550.3" r="1.95"/><circle cx="265.8" cy="557.6" r="1.95"/></g>
<text transform="translate(245.7 625.4) rotate(-45)" font-size="7.7" text-anchor="end" fill="#231f20" stroke="#231f20" stroke-width="0.22">Control</text>
<text transform="translate(269 625.4) rotate(-45)" font-size="7.7" text-anchor="end" fill="#231f20" stroke="#231f20" stroke-width="0.22">PVprog</text>
<text transform="translate(12.4 613.4) rotate(-90)" font-size="7.8" fill="#231f20" stroke-width="0.4" textLength="79.5" lengthAdjust="spacingAndGlyphs" stroke="#231f20">Median fluorescent intensity</text>
<text transform="translate(22.6 608.9) rotate(-90)" font-size="7.8" fill="#231f20" stroke-width="0.4" textLength="70.5" lengthAdjust="spacingAndGlyphs" stroke="#231f20">(MFI) normalized to FMO</text>
<text x="302.3" y="495" font-size="10.5" text-anchor="start" fill="#000" font-weight="bold" stroke="#000" stroke-width="0.22">F</text>
<line x1="338.8" y1="529" x2="338.8" y2="616.5" stroke="#231f20" stroke-width="1.1"/>
<line x1="338.3" y1="616" x2="464.3" y2="616" stroke="#231f20" stroke-width="1.1"/>
<line x1="335.8" y1="616" x2="338.8" y2="616" stroke="#231f20" stroke-width="1"/>
<text x="332.5" y="618.8" font-size="8" text-anchor="end" fill="#231f20" stroke="#231f20" stroke-width="0.22">0</text>
<line x1="335.8" y1="599.2" x2="338.8" y2="599.2" stroke="#231f20" stroke-width="1"/>
<text x="332.5" y="602" font-size="8" text-anchor="end" fill="#231f20" stroke="#231f20" stroke-width="0.22">200</text>
<line x1="335.8" y1="582.4" x2="338.8" y2="582.4" stroke="#231f20" stroke-width="1"/>
<text x="332.5" y="585.2" font-size="8" text-anchor="end" fill="#231f20" stroke="#231f20" stroke-width="0.22">400</text>
<line x1="335.8" y1="565.6" x2="338.8" y2="565.6" stroke="#231f20" stroke-width="1"/>
<text x="332.5" y="568.4" font-size="8" text-anchor="end" fill="#231f20" stroke="#231f20" stroke-width="0.22">600</text>
<line x1="335.8" y1="548.8" x2="338.8" y2="548.8" stroke="#231f20" stroke-width="1"/>
<text x="332.5" y="551.6" font-size="8" text-anchor="end" fill="#231f20" stroke="#231f20" stroke-width="0.22">800</text>
<line x1="335.8" y1="532" x2="338.8" y2="532" stroke="#231f20" stroke-width="1"/>
<text x="332.5" y="534.8" font-size="8" text-anchor="end" fill="#231f20" stroke="#231f20" stroke-width="0.22">1000</text>
<line x1="337" y1="607.6" x2="338.8" y2="607.6" stroke="#231f20" stroke-width="0.8"/>
<line x1="337" y1="590.8" x2="338.8" y2="590.8" stroke="#231f20" stroke-width="0.8"/>
<line x1="337" y1="574" x2="338.8" y2="574" stroke="#231f20" stroke-width="0.8"/>
<line x1="337" y1="557.2" x2="338.8" y2="557.2" stroke="#231f20" stroke-width="0.8"/>
<line x1="337" y1="540.4" x2="338.8" y2="540.4" stroke="#231f20" stroke-width="0.8"/>
<line x1="353.7" y1="616" x2="353.7" y2="619" stroke="#231f20" stroke-width="1"/>
<line x1="385.1" y1="616" x2="385.1" y2="619" stroke="#231f20" stroke-width="1"/>
<line x1="416.8" y1="616" x2="416.8" y2="619" stroke="#231f20" stroke-width="1"/>
<line x1="448.4" y1="616" x2="448.4" y2="619" stroke="#231f20" stroke-width="1"/>
<text x="401.4" y="507.4" font-size="8.4" text-anchor="middle" fill="#231f20" stroke="#231f20" stroke-width="0.22">SOCS2</text>
<line x1="342.7" y1="519.8" x2="441.2" y2="519.8" stroke="#333" stroke-width="0.9"/>
<path d="M427.20 522.80L427.60 523.75L428.63 523.84L427.84 524.51L428.08 525.51L427.20 524.97L426.32 525.51L426.56 524.51L425.77 523.84L426.80 523.75ZM431.20 522.80L431.60 523.75L432.63 523.84L431.84 524.51L432.08 525.51L431.20 524.97L430.32 525.51L430.56 524.51L429.77 523.84L430.80 523.75ZM435.20 522.80L435.60 523.75L436.63 523.84L435.84 524.51L436.08 525.51L435.20 524.97L434.32 525.51L434.56 524.51L433.77 523.84L434.80 523.75ZM439.20 522.80L439.60 523.75L440.63 523.84L439.84 524.51L440.08 525.51L439.20 524.97L438.32 525.51L438.56 524.51L437.77 523.84L438.80 523.75Z" fill="#111"/>
<line x1="342.7" y1="522.4" x2="406.9" y2="522.4" stroke="#333" stroke-width="0.9"/>
<path d="M404.60 524.30L405.00 525.25L406.03 525.34L405.24 526.01L405.48 527.01L404.60 526.47L403.72 527.01L403.96 526.01L403.17 525.34L404.20 525.25Z" fill="#111"/>
<line x1="342.7" y1="525.2" x2="373" y2="525.2" stroke="#333" stroke-width="0.9"/>
<text x="367" y="531.8" font-size="8" text-anchor="middle" fill="#231f20" stroke="#231f20" stroke-width="0.22">ns</text>
<line x1="342.7" y1="520.9" x2="441.2" y2="520.9" stroke="#333" stroke-width="0.9"/>
<line x1="342.3" y1="596.7" x2="342.3" y2="606.8" stroke="#c8102e" stroke-width="0.8"/>
<line x1="341.1" y1="596.7" x2="343.5" y2="596.7" stroke="#c8102e" stroke-width="0.8"/>
<g fill="#c8102e"><circle cx="342.3" cy="596.7" r="1.8"/><circle cx="342.3" cy="601.7" r="1.8"/><circle cx="342.3" cy="606.8" r="1.8"/></g>
<line x1="339.7" y1="601.7" x2="344.9" y2="601.7" stroke="#231f20" stroke-width="0.9"/>
<line x1="348" y1="601" x2="348" y2="609.4" stroke="#16599a" stroke-width="0.8"/>
<line x1="346.8" y1="601" x2="349.2" y2="601" stroke="#16599a" stroke-width="0.8"/>
<g fill="#16599a"><circle cx="347.1" cy="600.5" r="1.8"/><circle cx="348" cy="603.4" r="1.8"/><circle cx="348.9" cy="606.8" r="1.8"/><circle cx="347.1" cy="610.1" r="1.8"/></g>
<line x1="345.4" y1="605.2" x2="350.6" y2="605.2" stroke="#231f20" stroke-width="0.9"/>
<line x1="353.7" y1="600.5" x2="353.7" y2="609.9" stroke="#f7941d" stroke-width="0.8"/>
<line x1="352.5" y1="600.5" x2="354.9" y2="600.5" stroke="#f7941d" stroke-width="0.8"/>
<g fill="#f7941d"><circle cx="353.7" cy="601.7" r="1.8"/><circle cx="353.7" cy="603.4" r="1.8"/><circle cx="353.7" cy="610.5" r="1.8"/></g>
<line x1="351.1" y1="605.2" x2="356.3" y2="605.2" stroke="#231f20" stroke-width="0.9"/>
<line x1="359.4" y1="608.2" x2="359.4" y2="610" stroke="#3fb54a" stroke-width="0.8"/>
<line x1="358.2" y1="608.2" x2="360.6" y2="608.2" stroke="#3fb54a" stroke-width="0.8"/>
<g fill="#3fb54a"><circle cx="359.4" cy="608.4" r="1.8"/><circle cx="359.4" cy="609.7" r="1.8"/></g>
<line x1="356.8" y1="609.1" x2="362" y2="609.1" stroke="#231f20" stroke-width="0.9"/>
<line x1="365.1" y1="612.4" x2="365.1" y2="614.2" stroke="#5b2a86" stroke-width="0.8"/>
<line x1="363.9" y1="612.4" x2="366.3" y2="612.4" stroke="#5b2a86" stroke-width="0.8"/>
<g fill="#5b2a86"><circle cx="365.1" cy="612.6" r="1.8"/><circle cx="365.1" cy="613.9" r="1.8"/></g>
<line x1="362.5" y1="613.3" x2="367.7" y2="613.3" stroke="#231f20" stroke-width="0.9"/>
<line x1="373.7" y1="579.7" x2="373.7" y2="600.2" stroke="#c8102e" stroke-width="0.8"/>
<line x1="372.5" y1="579.7" x2="374.9" y2="579.7" stroke="#c8102e" stroke-width="0.8"/>
<g fill="#c8102e"><circle cx="372.8" cy="579" r="1.8"/><circle cx="373.7" cy="584.1" r="1.8"/><circle cx="374.6" cy="586.6" r="1.8"/><circle cx="372.8" cy="595" r="1.8"/><circle cx="373.7" cy="605.1" r="1.8"/></g>
<line x1="371.1" y1="590" x2="376.3" y2="590" stroke="#231f20" stroke-width="0.9"/>
<line x1="379.4" y1="596.4" x2="379.4" y2="608.1" stroke="#16599a" stroke-width="0.8"/>
<line x1="378.2" y1="596.4" x2="380.6" y2="596.4" stroke="#16599a" stroke-width="0.8"/>
<g fill="#16599a"><circle cx="378.5" cy="594.2" r="1.8"/><circle cx="379.4" cy="597.5" r="1.8"/><circle cx="380.3" cy="600.9" r="1.8"/><circle cx="378.5" cy="604.2" r="1.8"/><circle cx="379.4" cy="607.6" r="1.8"/><circle cx="380.3" cy="609.3" r="1.8"/></g>
<line x1="376.8" y1="602.3" x2="382" y2="602.3" stroke="#231f20" stroke-width="0.9"/>
<line x1="385.1" y1="594.4" x2="385.1" y2="605.7" stroke="#f7941d" stroke-width="0.8"/>
<line x1="383.9" y1="594.4" x2="386.3" y2="594.4" stroke="#f7941d" stroke-width="0.8"/>
<g fill="#f7941d"><circle cx="384.2" cy="592.5" r="1.8"/><circle cx="385.1" cy="599.2" r="1.8"/><circle cx="386" cy="603.4" r="1.8"/><circle cx="384.2" cy="605.1" r="1.8"/></g>
<line x1="382.5" y1="600" x2="387.7" y2="600" stroke="#231f20" stroke-width="0.9"/>
<line x1="390.8" y1="603.2" x2="390.8" y2="609.9" stroke="#3fb54a" stroke-width="0.8"/>
<line x1="389.6" y1="603.2" x2="392" y2="603.2" stroke="#3fb54a" stroke-width="0.8"/>
<g fill="#3fb54a"><circle cx="389.9" cy="602.6" r="1.8"/><circle cx="390.8" cy="605.1" r="1.8"/><circle cx="391.7" cy="608.4" r="1.8"/><circle cx="389.9" cy="610.1" r="1.8"/></g>
<line x1="388.2" y1="606.5" x2="393.4" y2="606.5" stroke="#231f20" stroke-width="0.9"/>
<line x1="396.5" y1="596.3" x2="396.5" y2="609.9" stroke="#5b2a86" stroke-width="0.8"/>
<line x1="395.3" y1="596.3" x2="397.7" y2="596.3" stroke="#5b2a86" stroke-width="0.8"/>
<g fill="#5b2a86"><circle cx="395.6" cy="592.5" r="1.8"/><circle cx="396.5" cy="601.7" r="1.8"/><circle cx="397.4" cy="603.4" r="1.8"/><circle cx="395.6" cy="607.6" r="1.8"/><circle cx="396.5" cy="610.1" r="1.8"/></g>
<line x1="393.9" y1="603.1" x2="399.1" y2="603.1" stroke="#231f20" stroke-width="0.9"/>
<line x1="405.4" y1="577.4" x2="405.4" y2="594.1" stroke="#c8102e" stroke-width="0.8"/>
<line x1="404.2" y1="577.4" x2="406.6" y2="577.4" stroke="#c8102e" stroke-width="0.8"/>
<g fill="#c8102e"><circle cx="404.5" cy="575.7" r="1.8"/><circle cx="405.4" cy="582.4" r="1.8"/><circle cx="406.3" cy="590.8" r="1.8"/><circle cx="404.5" cy="594.2" r="1.8"/></g>
<line x1="402.8" y1="585.8" x2="408" y2="585.8" stroke="#231f20" stroke-width="0.9"/>
<line x1="411.1" y1="589.5" x2="411.1" y2="602.2" stroke="#16599a" stroke-width="0.8"/>
<line x1="409.9" y1="589.5" x2="412.3" y2="589.5" stroke="#16599a" stroke-width="0.8"/>
<g fill="#16599a"><circle cx="410.2" cy="588.3" r="1.8"/><circle cx="411.1" cy="593.3" r="1.8"/><circle cx="412" cy="599.2" r="1.8"/><circle cx="410.2" cy="602.6" r="1.8"/></g>
<line x1="408.5" y1="595.8" x2="413.7" y2="595.8" stroke="#231f20" stroke-width="0.9"/>
<line x1="416.8" y1="599.1" x2="416.8" y2="599.7" stroke="#f7941d" stroke-width="0.8"/>
<line x1="415.6" y1="599.1" x2="418" y2="599.1" stroke="#f7941d" stroke-width="0.8"/>
<g fill="#f7941d"><circle cx="416.8" cy="599.2" r="1.8"/><circle cx="416.8" cy="599.6" r="1.8"/></g>
<line x1="414.2" y1="599.4" x2="419.4" y2="599.4" stroke="#231f20" stroke-width="0.9"/>
<line x1="422.5" y1="592" x2="422.5" y2="604.7" stroke="#3fb54a" stroke-width="0.8"/>
<line x1="421.3" y1="592" x2="423.7" y2="592" stroke="#3fb54a" stroke-width="0.8"/>
<g fill="#3fb54a"><circle cx="422.5" cy="592.5" r="1.8"/><circle cx="422.5" cy="597.5" r="1.8"/><circle cx="422.5" cy="605.1" r="1.8"/></g>
<line x1="419.9" y1="598.4" x2="425.1" y2="598.4" stroke="#231f20" stroke-width="0.9"/>
<line x1="428.2" y1="601.2" x2="428.2" y2="607.3" stroke="#5b2a86" stroke-width="0.8"/>
<line x1="427" y1="601.2" x2="429.4" y2="601.2" stroke="#5b2a86" stroke-width="0.8"/>
<g fill="#5b2a86"><circle cx="428.2" cy="600.9" r="1.8"/><circle cx="428.2" cy="605.1" r="1.8"/><circle cx="428.2" cy="606.8" r="1.8"/></g>
<line x1="425.6" y1="604.2" x2="430.8" y2="604.2" stroke="#231f20" stroke-width="0.9"/>
<line x1="437" y1="553.5" x2="437" y2="594.5" stroke="#c8102e" stroke-width="0.8"/>
<line x1="435.8" y1="553.5" x2="438.2" y2="553.5" stroke="#c8102e" stroke-width="0.8"/>
<g fill="#c8102e"><circle cx="436.1" cy="539.6" r="1.8"/><circle cx="437" cy="571.5" r="1.8"/><circle cx="437.9" cy="582.4" r="1.8"/><circle cx="436.1" cy="586.6" r="1.8"/><circle cx="437" cy="590" r="1.8"/></g>
<line x1="434.4" y1="574" x2="439.6" y2="574" stroke="#231f20" stroke-width="0.9"/>
<line x1="442.7" y1="600.1" x2="442.7" y2="606.7" stroke="#16599a" stroke-width="0.8"/>
<line x1="441.5" y1="600.1" x2="443.9" y2="600.1" stroke="#16599a" stroke-width="0.8"/>
<g fill="#16599a"><circle cx="441.8" cy="599.2" r="1.8"/><circle cx="442.7" cy="600.9" r="1.8"/><circle cx="443.6" cy="604.2" r="1.8"/><circle cx="441.8" cy="605.9" r="1.8"/><circle cx="442.7" cy="606.8" r="1.8"/></g>
<line x1="440.1" y1="603.4" x2="445.3" y2="603.4" stroke="#231f20" stroke-width="0.9"/>
<line x1="448.4" y1="588.1" x2="448.4" y2="606.2" stroke="#f7941d" stroke-width="0.8"/>
<line x1="447.2" y1="588.1" x2="449.6" y2="588.1" stroke="#f7941d" stroke-width="0.8"/>
<g fill="#f7941d"><circle cx="447.5" cy="586.6" r="1.8"/><circle cx="448.4" cy="589.1" r="1.8"/><circle cx="449.3" cy="599.2" r="1.8"/><circle cx="447.5" cy="603.4" r="1.8"/><circle cx="448.4" cy="607.6" r="1.8"/></g>
<line x1="445.8" y1="597.2" x2="451" y2="597.2" stroke="#231f20" stroke-width="0.9"/>
<line x1="454.1" y1="602.3" x2="454.1" y2="609.1" stroke="#3fb54a" stroke-width="0.8"/>
<line x1="452.9" y1="602.3" x2="455.3" y2="602.3" stroke="#3fb54a" stroke-width="0.8"/>
<g fill="#3fb54a"><circle cx="453.2" cy="601.7" r="1.8"/><circle cx="454.1" cy="604.2" r="1.8"/><circle cx="455" cy="607.6" r="1.8"/><circle cx="453.2" cy="609.3" r="1.8"/></g>
<line x1="451.5" y1="605.7" x2="456.7" y2="605.7" stroke="#231f20" stroke-width="0.9"/>
<line x1="459.8" y1="583.4" x2="459.8" y2="614.6" stroke="#5b2a86" stroke-width="0.8"/>
<line x1="458.6" y1="583.4" x2="461" y2="583.4" stroke="#5b2a86" stroke-width="0.8"/>
<g fill="#5b2a86"><circle cx="458.9" cy="575.7" r="1.8"/><circle cx="459.8" cy="605.1" r="1.8"/><circle cx="460.7" cy="606.8" r="1.8"/><circle cx="458.9" cy="608.4" r="1.8"/></g>
<line x1="457.2" y1="599" x2="462.4" y2="599" stroke="#231f20" stroke-width="0.9"/>
<text transform="translate(357.5 626) rotate(-45)" font-size="7.7" text-anchor="end" fill="#231f20" stroke="#231f20" stroke-width="0.22">Control</text>
<text transform="translate(388.9 626) rotate(-45)" font-size="7.7" text-anchor="end" fill="#231f20" stroke="#231f20" stroke-width="0.22">PVchron.UT</text>
<text transform="translate(420.6 626) rotate(-45)" font-size="7.7" text-anchor="end" fill="#231f20" stroke="#231f20" stroke-width="0.22">PVchron.HU</text>
<text transform="translate(452.2 626) rotate(-45)" font-size="7.7" text-anchor="end" fill="#231f20" stroke="#231f20" stroke-width="0.22">PVprog</text>
<text transform="translate(309.3 606.5) rotate(-90)" font-size="7.8" fill="#231f20" stroke-width="0.4" textLength="62" lengthAdjust="spacingAndGlyphs" stroke="#231f20">Normalized RNA reads</text>
<g fill="#c8102e"><circle cx="474.5" cy="538.9" r="2"/></g>
<text x="480" y="541.7" font-size="8" text-anchor="start" fill="#231f20" stroke="#231f20" stroke-width="0.22">HSC/MPP</text>
<g fill="#16599a"><circle cx="474.5" cy="552.8" r="2"/></g>
<text x="480" y="555.6" font-size="8" text-anchor="start" fill="#231f20" stroke="#231f20" stroke-width="0.22">CMP/MEP</text>
<g fill="#f7941d"><circle cx="474.5" cy="566.7" r="2"/></g>
<text x="480" y="569.5" font-size="8" text-anchor="start" fill="#231f20" stroke="#231f20" stroke-width="0.22">CMP</text>
<g fill="#3fb54a"><circle cx="474.5" cy="580.6" r="2"/></g>
<text x="480" y="583.4" font-size="8" text-anchor="start" fill="#231f20" stroke="#231f20" stroke-width="0.22">MEP</text>
<g fill="#5b2a86"><circle cx="474.5" cy="594.5" r="2"/></g>
<text x="480" y="597.3" font-size="8" text-anchor="start" fill="#231f20" stroke="#231f20" stroke-width="0.22">GMP</text>
<rect x="0.5" y="0.5" width="519" height="660" fill="none" stroke="#000" stroke-width="1.4"/>
</svg></div>
</body></html>
